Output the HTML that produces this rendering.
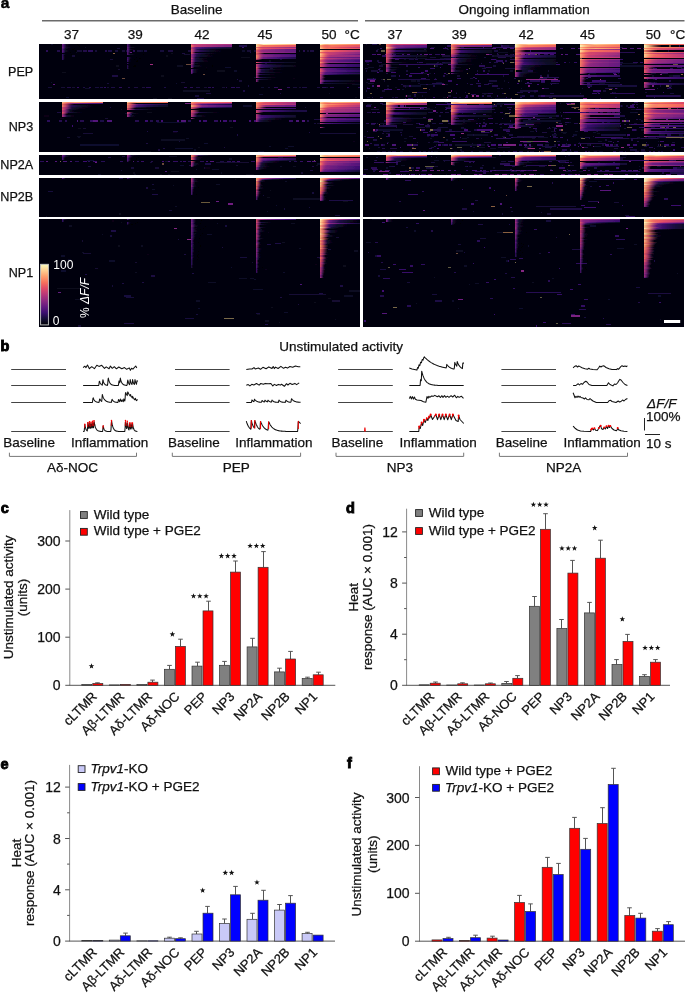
<!DOCTYPE html>
<html><head><meta charset="utf-8"><style>
html,body{margin:0;padding:0;background:#fff;overflow:hidden;}
svg{display:block;font-family:"Liberation Sans",sans-serif;}
</style></head><body>
<svg width="685" height="998" viewBox="0 0 685 998">
<defs><linearGradient id="g3_0"><stop offset="0.00" stop-color="#280e53"/><stop offset="0.25" stop-color="#0c0923"/><stop offset="0.50" stop-color="#050411"/><stop offset="0.75" stop-color="#020209"/><stop offset="1.00" stop-color="#010106"/></linearGradient>
<linearGradient id="f7"><stop offset="0" stop-color="#782180"/><stop offset=".4" stop-color="#631a80" stop-opacity=".75"/><stop offset="1" stop-color="#461274" stop-opacity="0"/></linearGradient>
<linearGradient id="g2_0"><stop offset="0.00" stop-color="#140e36"/><stop offset="0.25" stop-color="#080619"/><stop offset="0.50" stop-color="#03020d"/><stop offset="0.75" stop-color="#010108"/><stop offset="1.00" stop-color="#010006"/></linearGradient>
<linearGradient id="f6"><stop offset="0" stop-color="#641a80"/><stop offset=".4" stop-color="#521579" stop-opacity=".75"/><stop offset="1" stop-color="#390f6d" stop-opacity="0"/></linearGradient>
<linearGradient id="f5"><stop offset="0" stop-color="#501478"/><stop offset=".4" stop-color="#401072" stop-opacity=".75"/><stop offset="1" stop-color="#2c0f5a" stop-opacity="0"/></linearGradient>
<linearGradient id="f4"><stop offset="0" stop-color="#3b0f70"/><stop offset=".4" stop-color="#2f0f5f" stop-opacity=".75"/><stop offset="1" stop-color="#200e47" stop-opacity="0"/></linearGradient>
<linearGradient id="g1_0"><stop offset="0.00" stop-color="#0a071d"/><stop offset="0.25" stop-color="#04030e"/><stop offset="0.50" stop-color="#020108"/><stop offset="0.75" stop-color="#010106"/><stop offset="1.00" stop-color="#000005"/></linearGradient>
<linearGradient id="g11_5"><stop offset="0.00" stop-color="#cb4070"/><stop offset="0.25" stop-color="#c13c75"/><stop offset="0.50" stop-color="#b83779"/><stop offset="0.75" stop-color="#ae347b"/><stop offset="1.00" stop-color="#a5317c"/></linearGradient>
<linearGradient id="f12"><stop offset="0" stop-color="#de4968"/><stop offset=".4" stop-color="#bb3977" stop-opacity=".75"/><stop offset="1" stop-color="#882881" stop-opacity="0"/></linearGradient>
<linearGradient id="g11_4"><stop offset="0.00" stop-color="#cb4070"/><stop offset="0.25" stop-color="#b63779"/><stop offset="0.50" stop-color="#a1307d"/><stop offset="0.75" stop-color="#8e2a81"/><stop offset="1.00" stop-color="#7f2481"/></linearGradient>
<linearGradient id="f15"><stop offset="0" stop-color="#fa8864"/><stop offset=".4" stop-color="#e75864" stop-opacity=".75"/><stop offset="1" stop-color="#b2357a" stop-opacity="0"/></linearGradient>
<linearGradient id="g6_2"><stop offset="0.00" stop-color="#641a80"/><stop offset="0.25" stop-color="#461274"/><stop offset="0.50" stop-color="#310f60"/><stop offset="0.75" stop-color="#200e48"/><stop offset="1.00" stop-color="#140e36"/></linearGradient>
<linearGradient id="g6_1"><stop offset="0.00" stop-color="#641a80"/><stop offset="0.25" stop-color="#380f6b"/><stop offset="0.50" stop-color="#1d0e43"/><stop offset="0.75" stop-color="#100b2b"/><stop offset="1.00" stop-color="#0a071d"/></linearGradient>
<linearGradient id="f11"><stop offset="0" stop-color="#cb4070"/><stop offset=".4" stop-color="#a9327c" stop-opacity=".75"/><stop offset="1" stop-color="#7b2381" stop-opacity="0"/></linearGradient>
<linearGradient id="g5_0"><stop offset="0.00" stop-color="#501478"/><stop offset="0.25" stop-color="#160e38"/><stop offset="0.50" stop-color="#09061a"/><stop offset="0.75" stop-color="#04030d"/><stop offset="1.00" stop-color="#020108"/></linearGradient>
<linearGradient id="f13"><stop offset="0" stop-color="#ea5d62"/><stop offset=".4" stop-color="#cb4070" stop-opacity=".75"/><stop offset="1" stop-color="#962c7f" stop-opacity="0"/></linearGradient>
<linearGradient id="g7_0"><stop offset="0.00" stop-color="#782180"/><stop offset="0.25" stop-color="#260e50"/><stop offset="0.50" stop-color="#0c0822"/><stop offset="0.75" stop-color="#050411"/><stop offset="1.00" stop-color="#020109"/></linearGradient>
<linearGradient id="f10"><stop offset="0" stop-color="#b73779"/><stop offset=".4" stop-color="#972c7f" stop-opacity=".75"/><stop offset="1" stop-color="#6e1e80" stop-opacity="0"/></linearGradient>
<linearGradient id="g4_0"><stop offset="0.00" stop-color="#3b0f70"/><stop offset="0.25" stop-color="#110c2e"/><stop offset="0.50" stop-color="#070515"/><stop offset="0.75" stop-color="#03020b"/><stop offset="1.00" stop-color="#010107"/></linearGradient>
<linearGradient id="f9"><stop offset="0" stop-color="#a2307d"/><stop offset=".4" stop-color="#852681" stop-opacity=".75"/><stop offset="1" stop-color="#61197f" stop-opacity="0"/></linearGradient>
<linearGradient id="f8"><stop offset="0" stop-color="#8c2981"/><stop offset=".4" stop-color="#742080" stop-opacity=".75"/><stop offset="1" stop-color="#54167a" stop-opacity="0"/></linearGradient>
<linearGradient id="g20_5"><stop offset="0.00" stop-color="#fcfdbf"/><stop offset="0.25" stop-color="#fde9ab"/><stop offset="0.50" stop-color="#fed598"/><stop offset="0.75" stop-color="#fec288"/><stop offset="1.00" stop-color="#feaf79"/></linearGradient>
<linearGradient id="f19"><stop offset="0" stop-color="#fde6a8"/><stop offset=".4" stop-color="#fea370" stop-opacity=".75"/><stop offset="1" stop-color="#e25066" stop-opacity="0"/></linearGradient>
<linearGradient id="g15_5"><stop offset="0.00" stop-color="#fa8864"/><stop offset="0.25" stop-color="#f8785f"/><stop offset="0.50" stop-color="#f36a5e"/><stop offset="0.75" stop-color="#ec5e62"/><stop offset="1.00" stop-color="#e45365"/></linearGradient>
<linearGradient id="g12_4"><stop offset="0.00" stop-color="#de4968"/><stop offset="0.25" stop-color="#c73f72"/><stop offset="0.50" stop-color="#b3367a"/><stop offset="0.75" stop-color="#9e2f7e"/><stop offset="1.00" stop-color="#8c2981"/></linearGradient>
<linearGradient id="g13_5"><stop offset="0.00" stop-color="#ea5d62"/><stop offset="0.25" stop-color="#e35165"/><stop offset="0.50" stop-color="#db4869"/><stop offset="0.75" stop-color="#d1436e"/><stop offset="1.00" stop-color="#c73f72"/></linearGradient>
<linearGradient id="f18"><stop offset="0" stop-color="#fecf92"/><stop offset=".4" stop-color="#fc8f67" stop-opacity=".75"/><stop offset="1" stop-color="#d8466b" stop-opacity="0"/></linearGradient>
<linearGradient id="g11_3"><stop offset="0.00" stop-color="#cb4070"/><stop offset="0.25" stop-color="#a7327c"/><stop offset="0.50" stop-color="#882781"/><stop offset="0.75" stop-color="#6f1e80"/><stop offset="1.00" stop-color="#5a177c"/></linearGradient>
<linearGradient id="f16"><stop offset="0" stop-color="#fe9f6d"/><stop offset=".4" stop-color="#f2685e" stop-opacity=".75"/><stop offset="1" stop-color="#bf3b76" stop-opacity="0"/></linearGradient>
<linearGradient id="g9_4"><stop offset="0.00" stop-color="#a2307d"/><stop offset="0.25" stop-color="#8f2a80"/><stop offset="0.50" stop-color="#7f2481"/><stop offset="0.75" stop-color="#711f80"/><stop offset="1.00" stop-color="#641a80"/></linearGradient>
<linearGradient id="f14"><stop offset="0" stop-color="#f7705c"/><stop offset=".4" stop-color="#dc4869" stop-opacity=".75"/><stop offset="1" stop-color="#a4317d" stop-opacity="0"/></linearGradient>
<linearGradient id="g10_4"><stop offset="0.00" stop-color="#b73779"/><stop offset="0.25" stop-color="#a2307d"/><stop offset="0.50" stop-color="#902a80"/><stop offset="0.75" stop-color="#802481"/><stop offset="1.00" stop-color="#711f80"/></linearGradient>
<linearGradient id="g8_3"><stop offset="0.00" stop-color="#8c2981"/><stop offset="0.25" stop-color="#731f80"/><stop offset="0.50" stop-color="#5d187d"/><stop offset="0.75" stop-color="#4b1376"/><stop offset="1.00" stop-color="#3b0f70"/></linearGradient>
<linearGradient id="g9_3"><stop offset="0.00" stop-color="#a2307d"/><stop offset="0.25" stop-color="#832681"/><stop offset="0.50" stop-color="#6b1d80"/><stop offset="0.75" stop-color="#57167b"/><stop offset="1.00" stop-color="#451274"/></linearGradient>
<linearGradient id="g8_2"><stop offset="0.00" stop-color="#8c2981"/><stop offset="0.25" stop-color="#661b80"/><stop offset="0.50" stop-color="#481275"/><stop offset="0.75" stop-color="#310f62"/><stop offset="1.00" stop-color="#210e49"/></linearGradient>
<linearGradient id="g6_0"><stop offset="0.00" stop-color="#641a80"/><stop offset="0.25" stop-color="#1e0e44"/><stop offset="0.50" stop-color="#0a071e"/><stop offset="0.75" stop-color="#04030f"/><stop offset="1.00" stop-color="#020108"/></linearGradient>
<linearGradient id="g5_1"><stop offset="0.00" stop-color="#501478"/><stop offset="0.25" stop-color="#2b0f59"/><stop offset="0.50" stop-color="#150e37"/><stop offset="0.75" stop-color="#0d0925"/><stop offset="1.00" stop-color="#080619"/></linearGradient>
<linearGradient id="g18_5"><stop offset="0.00" stop-color="#fecf92"/><stop offset="0.25" stop-color="#febc83"/><stop offset="0.50" stop-color="#fea975"/><stop offset="0.75" stop-color="#fd986a"/><stop offset="1.00" stop-color="#fa8864"/></linearGradient>
<linearGradient id="f20"><stop offset="0" stop-color="#fcfdbf"/><stop offset=".4" stop-color="#feb77f" stop-opacity=".75"/><stop offset="1" stop-color="#ea5d62" stop-opacity="0"/></linearGradient>
<linearGradient id="g15_4"><stop offset="0.00" stop-color="#fa8864"/><stop offset="0.25" stop-color="#f1675f"/><stop offset="0.50" stop-color="#e14e67"/><stop offset="0.75" stop-color="#cc4170"/><stop offset="1.00" stop-color="#b73779"/></linearGradient>
<linearGradient id="f17"><stop offset="0" stop-color="#feb77f"/><stop offset=".4" stop-color="#f97b60" stop-opacity=".75"/><stop offset="1" stop-color="#cb4070" stop-opacity="0"/></linearGradient>
<linearGradient id="g13_3"><stop offset="0.00" stop-color="#ea5d62"/><stop offset="0.25" stop-color="#c93f71"/><stop offset="0.50" stop-color="#a6317c"/><stop offset="0.75" stop-color="#872781"/><stop offset="1.00" stop-color="#6e1e80"/></linearGradient>
<linearGradient id="g10_5"><stop offset="0.00" stop-color="#b73779"/><stop offset="0.25" stop-color="#ad347b"/><stop offset="0.50" stop-color="#a4317c"/><stop offset="0.75" stop-color="#9c2e7e"/><stop offset="1.00" stop-color="#932b80"/></linearGradient>
<linearGradient id="g8_4"><stop offset="0.00" stop-color="#8c2981"/><stop offset="0.25" stop-color="#7d2381"/><stop offset="0.50" stop-color="#6f1e80"/><stop offset="0.75" stop-color="#62197f"/><stop offset="1.00" stop-color="#56167b"/></linearGradient>
<linearGradient id="g10_3"><stop offset="0.00" stop-color="#b73779"/><stop offset="0.25" stop-color="#952c7f"/><stop offset="0.50" stop-color="#792281"/><stop offset="0.75" stop-color="#631a80"/><stop offset="1.00" stop-color="#501478"/></linearGradient>
<linearGradient id="g7_3"><stop offset="0.00" stop-color="#782180"/><stop offset="0.25" stop-color="#62197f"/><stop offset="0.50" stop-color="#4e1478"/><stop offset="0.75" stop-color="#3e1071"/><stop offset="1.00" stop-color="#310f61"/></linearGradient>
<linearGradient id="g7_2"><stop offset="0.00" stop-color="#782180"/><stop offset="0.25" stop-color="#56167b"/><stop offset="0.50" stop-color="#3c0f70"/><stop offset="0.75" stop-color="#290f55"/><stop offset="1.00" stop-color="#1a0e40"/></linearGradient>
<linearGradient id="g6_3"><stop offset="0.00" stop-color="#641a80"/><stop offset="0.25" stop-color="#501578"/><stop offset="0.50" stop-color="#401072"/><stop offset="0.75" stop-color="#330f63"/><stop offset="1.00" stop-color="#280e53"/></linearGradient>
<linearGradient id="g4_1"><stop offset="0.00" stop-color="#3b0f70"/><stop offset="0.25" stop-color="#1f0e46"/><stop offset="0.50" stop-color="#100b2d"/><stop offset="0.75" stop-color="#0a071e"/><stop offset="1.00" stop-color="#070515"/></linearGradient>
<linearGradient id="g3_1"><stop offset="0.00" stop-color="#280e53"/><stop offset="0.25" stop-color="#130d34"/><stop offset="0.50" stop-color="#0c0923"/><stop offset="0.75" stop-color="#080518"/><stop offset="1.00" stop-color="#050310"/></linearGradient>
<linearGradient id="g17_5"><stop offset="0.00" stop-color="#feb77f"/><stop offset="0.25" stop-color="#fea571"/><stop offset="0.50" stop-color="#fc9469"/><stop offset="0.75" stop-color="#fa8363"/><stop offset="1.00" stop-color="#f8745d"/></linearGradient>
<linearGradient id="g7_1"><stop offset="0.00" stop-color="#782180"/><stop offset="0.25" stop-color="#451274"/><stop offset="0.50" stop-color="#250e4f"/><stop offset="0.75" stop-color="#120d32"/><stop offset="1.00" stop-color="#0c0821"/></linearGradient>
<linearGradient id="g14_4"><stop offset="0.00" stop-color="#f7705c"/><stop offset="0.25" stop-color="#e65664"/><stop offset="0.50" stop-color="#d3446d"/><stop offset="0.75" stop-color="#bd3a76"/><stop offset="1.00" stop-color="#a9327c"/></linearGradient>
<linearGradient id="g13_4"><stop offset="0.00" stop-color="#ea5d62"/><stop offset="0.25" stop-color="#d9476a"/><stop offset="0.50" stop-color="#c33d74"/><stop offset="0.75" stop-color="#ae347b"/><stop offset="1.00" stop-color="#9a2e7e"/></linearGradient>
<linearGradient id="g5_2"><stop offset="0.00" stop-color="#501478"/><stop offset="0.25" stop-color="#370f6a"/><stop offset="0.50" stop-color="#250e50"/><stop offset="0.75" stop-color="#180e3c"/><stop offset="1.00" stop-color="#110c2e"/></linearGradient>
<linearGradient id="g14_5"><stop offset="0.00" stop-color="#f7705c"/><stop offset="0.25" stop-color="#ef6460"/><stop offset="0.50" stop-color="#e85863"/><stop offset="0.75" stop-color="#e14d67"/><stop offset="1.00" stop-color="#d8466b"/></linearGradient>
<linearGradient id="g17_4"><stop offset="0.00" stop-color="#feb77f"/><stop offset="0.25" stop-color="#fc9068"/><stop offset="0.50" stop-color="#f66e5d"/><stop offset="0.75" stop-color="#e55465"/><stop offset="1.00" stop-color="#d1436e"/></linearGradient>
<linearGradient id="g7_4"><stop offset="0.00" stop-color="#782180"/><stop offset="0.25" stop-color="#6b1c80"/><stop offset="0.50" stop-color="#5e187e"/><stop offset="0.75" stop-color="#531579"/><stop offset="1.00" stop-color="#491375"/></linearGradient>
<linearGradient id="g16_5"><stop offset="0.00" stop-color="#fe9f6d"/><stop offset="0.25" stop-color="#fc8e67"/><stop offset="0.50" stop-color="#f97e61"/><stop offset="0.75" stop-color="#f66f5c"/><stop offset="1.00" stop-color="#ef6360"/></linearGradient>
<linearGradient id="g12_5"><stop offset="0.00" stop-color="#de4968"/><stop offset="0.25" stop-color="#d4446d"/><stop offset="0.50" stop-color="#ca4071"/><stop offset="0.75" stop-color="#c03b75"/><stop offset="1.00" stop-color="#b73779"/></linearGradient>
<linearGradient id="g14_1"><stop offset="0.00" stop-color="#f7705c"/><stop offset="0.25" stop-color="#a0307d"/><stop offset="0.50" stop-color="#5e187e"/><stop offset="0.75" stop-color="#340f66"/><stop offset="1.00" stop-color="#1a0e40"/></linearGradient>
<linearGradient id="g10_0"><stop offset="0.00" stop-color="#b73779"/><stop offset="0.25" stop-color="#3e1071"/><stop offset="0.50" stop-color="#110c2f"/><stop offset="0.75" stop-color="#070516"/><stop offset="1.00" stop-color="#03020c"/></linearGradient>
<linearGradient id="g8_0"><stop offset="0.00" stop-color="#8c2981"/><stop offset="0.25" stop-color="#2e0f5d"/><stop offset="0.50" stop-color="#0e0a27"/><stop offset="0.75" stop-color="#060412"/><stop offset="1.00" stop-color="#02020a"/></linearGradient>
<linearGradient id="g15_2"><stop offset="0.00" stop-color="#fa8864"/><stop offset="0.25" stop-color="#d2446d"/><stop offset="0.50" stop-color="#9a2e7e"/><stop offset="0.75" stop-color="#701e80"/><stop offset="1.00" stop-color="#501478"/></linearGradient>
<linearGradient id="g11_0"><stop offset="0.00" stop-color="#cb4070"/><stop offset="0.25" stop-color="#471275"/><stop offset="0.50" stop-color="#130d34"/><stop offset="0.75" stop-color="#080618"/><stop offset="1.00" stop-color="#03020c"/></linearGradient>
<linearGradient id="g9_0"><stop offset="0.00" stop-color="#a2307d"/><stop offset="0.25" stop-color="#360f69"/><stop offset="0.50" stop-color="#100b2b"/><stop offset="0.75" stop-color="#060514"/><stop offset="1.00" stop-color="#03020b"/></linearGradient>
<linearGradient id="f3"><stop offset="0" stop-color="#280e53"/><stop offset=".4" stop-color="#1f0e46" stop-opacity=".75"/><stop offset="1" stop-color="#140e35" stop-opacity="0"/></linearGradient>
<linearGradient id="g10_2"><stop offset="0.00" stop-color="#b73779"/><stop offset="0.25" stop-color="#842681"/><stop offset="0.50" stop-color="#5f197e"/><stop offset="0.75" stop-color="#431173"/><stop offset="1.00" stop-color="#2e0f5d"/></linearGradient>
<linearGradient id="g20_1"><stop offset="0.00" stop-color="#fcfdbf"/><stop offset="0.25" stop-color="#e85863"/><stop offset="0.50" stop-color="#902a80"/><stop offset="0.75" stop-color="#54167a"/><stop offset="1.00" stop-color="#2e0f5d"/></linearGradient>
<linearGradient id="g15_0"><stop offset="0.00" stop-color="#fa8864"/><stop offset="0.25" stop-color="#691c80"/><stop offset="0.50" stop-color="#200e47"/><stop offset="0.75" stop-color="#0b081f"/><stop offset="1.00" stop-color="#04030f"/></linearGradient>
<linearGradient id="g13_0"><stop offset="0.00" stop-color="#ea5d62"/><stop offset="0.25" stop-color="#58177b"/><stop offset="0.50" stop-color="#190e3d"/><stop offset="0.75" stop-color="#09071b"/><stop offset="1.00" stop-color="#04030e"/></linearGradient>
<linearGradient id="g13_1"><stop offset="0.00" stop-color="#ea5d62"/><stop offset="0.25" stop-color="#932b80"/><stop offset="0.50" stop-color="#56167a"/><stop offset="0.75" stop-color="#2f0f5e"/><stop offset="1.00" stop-color="#170e3b"/></linearGradient>
<linearGradient id="g19_5"><stop offset="0.00" stop-color="#fde6a8"/><stop offset="0.25" stop-color="#fed395"/><stop offset="0.50" stop-color="#febf86"/><stop offset="0.75" stop-color="#fead78"/><stop offset="1.00" stop-color="#fd9b6c"/></linearGradient>
<linearGradient id="g4_3"><stop offset="0.00" stop-color="#3b0f70"/><stop offset="0.25" stop-color="#2f0f5e"/><stop offset="0.50" stop-color="#240e4e"/><stop offset="0.75" stop-color="#1b0e41"/><stop offset="1.00" stop-color="#140e36"/></linearGradient>
<linearGradient id="g16_3"><stop offset="0.00" stop-color="#fe9f6d"/><stop offset="0.25" stop-color="#f0655f"/><stop offset="0.50" stop-color="#d1436e"/><stop offset="0.75" stop-color="#ad347b"/><stop offset="1.00" stop-color="#8c2981"/></linearGradient>
<linearGradient id="g9_2"><stop offset="0.00" stop-color="#a2307d"/><stop offset="0.25" stop-color="#752080"/><stop offset="0.50" stop-color="#54167a"/><stop offset="0.75" stop-color="#3a0f6e"/><stop offset="1.00" stop-color="#280e53"/></linearGradient>
<linearGradient id="g18_4"><stop offset="0.00" stop-color="#fecf92"/><stop offset="0.25" stop-color="#fea572"/><stop offset="0.50" stop-color="#f98062"/><stop offset="0.75" stop-color="#ee6260"/><stop offset="1.00" stop-color="#de4968"/></linearGradient>
<linearGradient id="g12_3"><stop offset="0.00" stop-color="#de4968"/><stop offset="0.25" stop-color="#b93878"/><stop offset="0.50" stop-color="#962c7f"/><stop offset="0.75" stop-color="#7b2381"/><stop offset="1.00" stop-color="#641a80"/></linearGradient>
<linearGradient id="g9_5"><stop offset="0.00" stop-color="#a2307d"/><stop offset="0.25" stop-color="#992d7f"/><stop offset="0.50" stop-color="#912b80"/><stop offset="0.75" stop-color="#892881"/><stop offset="1.00" stop-color="#822581"/></linearGradient>
<linearGradient id="g5_3"><stop offset="0.00" stop-color="#501478"/><stop offset="0.25" stop-color="#3f1072"/><stop offset="0.50" stop-color="#320f63"/><stop offset="0.75" stop-color="#270e52"/><stop offset="1.00" stop-color="#1e0e44"/></linearGradient>
<linearGradient id="g20_3"><stop offset="0.00" stop-color="#fcfdbf"/><stop offset="0.25" stop-color="#feb37c"/><stop offset="0.50" stop-color="#f7735d"/><stop offset="0.75" stop-color="#dc4869"/><stop offset="1.00" stop-color="#b73779"/></linearGradient>
<linearGradient id="g10_1"><stop offset="0.00" stop-color="#b73779"/><stop offset="0.25" stop-color="#6c1d80"/><stop offset="0.50" stop-color="#3d0f71"/><stop offset="0.75" stop-color="#200e48"/><stop offset="1.00" stop-color="#110c2e"/></linearGradient>
<linearGradient id="g8_1"><stop offset="0.00" stop-color="#8c2981"/><stop offset="0.25" stop-color="#521579"/><stop offset="0.50" stop-color="#2d0f5b"/><stop offset="0.75" stop-color="#160e39"/><stop offset="1.00" stop-color="#0d0925"/></linearGradient>
<linearGradient id="g15_3"><stop offset="0.00" stop-color="#fa8864"/><stop offset="0.25" stop-color="#e65564"/><stop offset="0.50" stop-color="#c33c74"/><stop offset="0.75" stop-color="#a02f7d"/><stop offset="1.00" stop-color="#822581"/></linearGradient>
<linearGradient id="g9_1"><stop offset="0.00" stop-color="#a2307d"/><stop offset="0.25" stop-color="#5f197e"/><stop offset="0.50" stop-color="#350f67"/><stop offset="0.75" stop-color="#1b0e40"/><stop offset="1.00" stop-color="#0f0a29"/></linearGradient>
<filter id="hb" x="0" y="0" width="1" height="1"><feGaussianBlur stdDeviation="0.55 0.75"/></filter>
<linearGradient id="cbar" x1="0" y1="1" x2="0" y2="0"><stop offset="0.0" stop-color="#000004"/><stop offset="0.1" stop-color="#140e36"/><stop offset="0.2" stop-color="#3b0f70"/><stop offset="0.3" stop-color="#641a80"/><stop offset="0.4" stop-color="#8c2981"/><stop offset="0.5" stop-color="#b73779"/><stop offset="0.6" stop-color="#de4968"/><stop offset="0.7" stop-color="#f7705c"/><stop offset="0.8" stop-color="#fe9f6d"/><stop offset="0.9" stop-color="#fecf92"/><stop offset="1.0" stop-color="#fcfdbf"/></linearGradient>
<filter id="gs" x="0" y="0" width="1" height="1" color-interpolation-filters="sRGB"><feColorMatrix type="saturate" values="0"/></filter></defs>
<g shape-rendering="crispEdges" filter="url(#hb)">
<rect x="39" y="44" width="321" height="55" fill="#04030e"/>
<path fill="#09061b" d="M246.0 44.00h1.2v1.25h-1.2z"/>
<path fill="#100b2b" d="M50.9 44.00h2.4v1.25h-2.4zM85.0 87.75h5.4v1.25h-5.4zM266.1 50.25h2.8v1.25h-2.8z"/>
<path fill="#1f0e46" d="M238.5 45.25h8.4v1.25h-8.4zM326.7 64.00h5.1v1.25h-5.1zM236.7 79.00h1.1v1.25h-1.1zM164.1 86.50h1.6v1.25h-1.6z"/>
<path fill="#0b0820" d="M84.9 46.50h1.3v1.25h-1.3zM352.2 84.00h7.8v1.25h-7.8z"/>
<path fill="#390f6e" d="M242.2 46.50h2.2v1.25h-2.2z"/>
<path fill="#100b2c" d="M255.4 46.50h2.4v1.25h-2.4zM233.8 70.25h2.8v1.25h-2.8zM241.9 50.25h3.3v1.25h-3.3z"/>
<path fill="#160e39" d="M116.6 47.75h3.1v1.25h-3.1zM107.4 82.75h1.7v1.25h-1.7zM322.9 86.50h4.8v1.25h-4.8zM48.3 86.50h3.9v1.25h-3.9zM107.2 86.50h1.7v1.25h-1.7zM292.9 86.50h3.8v1.25h-3.8z"/>
<path fill="#0b081f" d="M350.7 47.75h1.3v1.25h-1.3zM171.1 52.75h2.1v1.25h-2.1zM62.3 71.50h3.8v1.25h-3.8z"/>
<path fill="#100b2d" d="M138.8 50.25h4.0v1.25h-4.0zM210.4 50.25h1.9v1.25h-1.9z"/>
<path fill="#1f0e47" d="M250.2 51.50h1.2v1.25h-1.2z"/>
<path fill="#661b80" d="M129.5 51.50h2.2v1.25h-2.2z"/>
<path fill="#0c0923" d="M76.2 51.50h1.2v1.25h-1.2z"/>
<path fill="#1b0e40" d="M181.8 52.75h3.0v1.25h-3.0zM134.3 86.50h3.5v1.25h-3.5zM167.6 50.25h4.9v1.25h-4.9z"/>
<path fill="#8a6040" d="M112.8 52.75h1.7v1.25h-1.7z"/>
<path fill="#140e35" d="M140.3 54.00h1.3v1.25h-1.3zM352.3 61.50h7.7v1.25h-7.7zM298.6 86.50h2.8v1.25h-2.8z"/>
<path fill="#120d31" d="M184.2 54.00h6.1v1.25h-6.1zM269.6 67.75h3.0v1.25h-3.0zM118.0 69.00h1.8v1.25h-1.8z"/>
<path fill="#0a071d" d="M166.3 55.25h1.5v1.25h-1.5zM240.7 56.50h8.8v1.25h-8.8zM269.0 60.25h2.1v1.25h-2.1zM216.9 70.25h8.2v1.25h-8.2zM161.2 75.25h2.8v1.25h-2.8zM153.3 97.75h3.3v1.25h-3.3zM167.9 97.75h4.2v1.25h-4.2z"/>
<path fill="#130d34" d="M71.6 55.25h3.1v1.25h-3.1zM109.8 59.00h2.9v1.25h-2.9zM247.2 50.25h3.8v1.25h-3.8zM267.6 86.50h2.0v1.25h-2.0z"/>
<path fill="#110c2e" d="M138.2 57.75h1.4v1.25h-1.4zM346.7 72.75h1.6v1.25h-1.6zM259.3 94.00h3.4v1.25h-3.4z"/>
<path fill="#150e37" d="M203.2 57.75h1.6v1.25h-1.6z"/>
<path fill="#1a0e3f" d="M280.1 57.75h1.9v1.25h-1.9zM206.3 92.75h4.4v1.25h-4.4zM279.5 92.75h1.7v1.25h-1.7zM298.5 50.25h1.6v1.25h-1.6zM317.2 86.50h2.9v1.25h-2.9z"/>
<path fill="#190e3d" d="M280.1 59.00h1.5v1.25h-1.5zM125.7 50.25h3.4v1.25h-3.4zM354.7 50.25h3.7v1.25h-3.7z"/>
<path fill="#110c2d" d="M195.7 59.00h4.3v1.25h-4.3z"/>
<path fill="#130e35" d="M265.3 62.75h1.6v1.25h-1.6zM61.4 86.50h3.3v1.25h-3.3zM222.4 86.50h2.1v1.25h-2.1z"/>
<path fill="#6a4a3a" d="M186.3 64.00h4.4v1.25h-4.4zM203.0 74.00h2.0v1.25h-2.0zM121.9 77.75h3.3v1.25h-3.3z"/>
<path fill="#9e2f7e" d="M150.4 64.00h3.0v1.25h-3.0z"/>
<path fill="#0d0923" d="M177.0 65.25h6.1v1.25h-6.1z"/>
<path fill="#0a071e" d="M115.5 65.25h3.2v1.25h-3.2z"/>
<path fill="#110c2f" d="M224.5 66.50h6.9v1.25h-6.9zM254.0 76.50h8.3v1.25h-8.3zM50.7 81.50h1.0v1.25h-1.0zM176.0 82.75h1.1v1.25h-1.1zM66.3 96.50h2.6v1.25h-2.6zM323.2 50.25h3.0v1.25h-3.0zM260.7 86.50h3.2v1.25h-3.2z"/>
<path fill="#080618" d="M205.5 66.50h1.0v1.25h-1.0z"/>
<path fill="#1e0e44" d="M191.0 70.25h8.1v1.25h-8.1zM301.9 86.50h5.0v1.25h-5.0z"/>
<path fill="#1c0e42" d="M111.7 75.25h6.2v1.25h-6.2zM276.0 50.25h4.2v1.25h-4.2zM309.9 50.25h3.8v1.25h-3.8zM196.4 86.50h3.8v1.25h-3.8z"/>
<path fill="#080619" d="M293.3 77.75h1.5v1.25h-1.5z"/>
<path fill="#140e36" d="M238.9 80.25h2.9v1.25h-2.9zM121.6 50.25h3.0v1.25h-3.0zM254.5 50.25h3.8v1.25h-3.8z"/>
<path fill="#120c31" d="M181.2 81.50h3.7v1.25h-3.7z"/>
<path fill="#782180" d="M353.6 82.75h6.4v1.25h-6.4z"/>
<path fill="#5b187d" d="M53.4 84.00h1.5v1.25h-1.5z"/>
<path fill="#190e3e" d="M247.6 85.25h1.7v1.25h-1.7z"/>
<path fill="#7e2481" d="M278.4 89.00h3.1v1.25h-3.1z"/>
<path fill="#1e0e45" d="M243.4 90.25h1.2v1.25h-1.2zM197.3 97.75h6.2v1.25h-6.2zM83.3 86.50h2.1v1.25h-2.1zM111.3 86.50h3.8v1.25h-3.8z"/>
<path fill="#0d0924" d="M182.5 90.25h27.1v1.25h-27.1z"/>
<path fill="#0c0821" d="M328.5 92.75h1.8v1.25h-1.8z"/>
<path fill="#180e3b" d="M194.7 95.25h4.1v1.25h-4.1z"/>
<path fill="#09071b" d="M355.1 96.50h2.2v1.25h-2.2z"/>
<path fill="#2a0f57" d="M46.4 50.25h1.7v1.25h-1.7zM132.5 50.25h2.2v1.25h-2.2z"/>
<path fill="#230e4c" d="M57.1 50.25h2.5v1.25h-2.5z"/>
<path fill="#270e52" d="M72.2 50.25h3.0v1.25h-3.0zM205.2 50.25h4.6v1.25h-4.6zM332.5 50.25h4.2v1.25h-4.2z"/>
<path fill="#130e34" d="M77.1 50.25h4.6v1.25h-4.6z"/>
<path fill="#210e4a" d="M82.5 50.25h4.8v1.25h-4.8zM66.7 86.50h3.8v1.25h-3.8z"/>
<path fill="#2c0f5a" d="M88.2 50.25h4.5v1.25h-4.5zM288.9 50.25h4.6v1.25h-4.6zM230.6 86.50h4.3v1.25h-4.3zM357.7 86.50h2.3v1.25h-2.3z"/>
<path fill="#160e38" d="M95.2 50.25h2.1v1.25h-2.1z"/>
<path fill="#230e4d" d="M104.7 50.25h2.3v1.25h-2.3z"/>
<path fill="#1d0e44" d="M107.9 50.25h3.8v1.25h-3.8zM270.4 50.25h4.5v1.25h-4.5zM100.2 86.50h2.4v1.25h-2.4z"/>
<path fill="#170e3b" d="M115.0 50.25h3.4v1.25h-3.4zM94.5 86.50h4.2v1.25h-4.2z"/>
<path fill="#150e38" d="M136.6 50.25h4.1v1.25h-4.1z"/>
<path fill="#180e3c" d="M143.8 50.25h3.2v1.25h-3.2z"/>
<path fill="#170e3a" d="M160.4 50.25h3.8v1.25h-3.8zM343.7 50.25h3.4v1.25h-3.4z"/>
<path fill="#1b0e41" d="M187.6 50.25h3.3v1.25h-3.3z"/>
<path fill="#2e0f5d" d="M194.2 50.25h2.3v1.25h-2.3zM347.1 86.50h1.9v1.25h-1.9z"/>
<path fill="#240e4e" d="M260.3 50.25h2.8v1.25h-2.8z"/>
<path fill="#220e4a" d="M281.6 50.25h4.6v1.25h-4.6z"/>
<path fill="#250e4f" d="M303.1 50.25h2.1v1.25h-2.1zM338.2 50.25h4.3v1.25h-4.3z"/>
<path fill="#130d33" d="M306.8 50.25h1.9v1.25h-1.9z"/>
<path fill="#120c30" d="M71.5 86.50h3.0v1.25h-3.0z"/>
<path fill="#320f62" d="M77.2 86.50h2.2v1.25h-2.2z"/>
<path fill="#2a0f56" d="M89.0 86.50h2.3v1.25h-2.3zM207.8 86.50h3.5v1.25h-3.5z"/>
<path fill="#2f0f5e" d="M103.7 86.50h2.3v1.25h-2.3z"/>
<path fill="#2e0f5c" d="M118.5 86.50h3.1v1.25h-3.1zM273.6 86.50h4.4v1.25h-4.4z"/>
<path fill="#200e48" d="M128.0 86.50h2.2v1.25h-2.2z"/>
<path fill="#1a0e3e" d="M142.2 86.50h2.7v1.25h-2.7z"/>
<path fill="#280f54" d="M145.6 86.50h5.0v1.25h-5.0z"/>
<path fill="#290f55" d="M183.6 86.50h3.0v1.25h-3.0zM225.6 86.50h1.7v1.25h-1.7zM330.4 86.50h4.0v1.25h-4.0z"/>
<path fill="#290f56" d="M190.1 86.50h2.9v1.25h-2.9z"/>
<path fill="#130d32" d="M203.9 86.50h3.0v1.25h-3.0z"/>
<path fill="#2b0f58" d="M212.2 86.50h1.7v1.25h-1.7z"/>
<path fill="#240e4d" d="M235.6 86.50h4.7v1.25h-4.7z"/>
<path fill="#2d0f5a" d="M286.9 86.50h2.9v1.25h-2.9z"/>
<path fill="#250e50" d="M321.9 86.50h4.3v1.25h-4.3z"/>
<rect x="62.0" y="44.00" width="15.6" height="1.25" fill="url(#g3_0)"/>
<rect x="62.0" y="44.00" width="4.2" height="1.25" fill="url(#f7)"/>
<rect x="62.0" y="45.25" width="18.0" height="1.25" fill="url(#g2_0)"/>
<rect x="62.0" y="45.25" width="4.7" height="1.25" fill="url(#f6)"/>
<rect x="62.0" y="46.50" width="18.0" height="1.25" fill="url(#g3_0)"/>
<rect x="62.0" y="46.50" width="4.2" height="1.25" fill="url(#f7)"/>
<rect x="62.0" y="47.75" width="12.9" height="1.25" fill="url(#g3_0)"/>
<rect x="62.0" y="47.75" width="3.8" height="1.25" fill="url(#f6)"/>
<rect x="62.0" y="49.00" width="11.7" height="1.25" fill="url(#g2_0)"/>
<rect x="62.0" y="49.00" width="3.6" height="1.25" fill="url(#f5)"/>
<rect x="62.0" y="50.25" width="13.7" height="1.25" fill="url(#g3_0)"/>
<rect x="62.0" y="50.25" width="3.4" height="1.25" fill="url(#f6)"/>
<rect x="62.0" y="51.50" width="9.0" height="1.25" fill="url(#g2_0)"/>
<rect x="62.0" y="51.50" width="3.6" height="1.25" fill="url(#f5)"/>
<rect x="62.0" y="54.00" width="9.6" height="1.25" fill="url(#g2_0)"/>
<rect x="62.0" y="54.00" width="2.9" height="1.25" fill="url(#f4)"/>
<rect x="62.0" y="55.25" width="2.7" height="1.25" fill="url(#f4)"/>
<rect x="62.0" y="56.50" width="7.4" height="1.25" fill="url(#g2_0)"/>
<rect x="62.0" y="56.50" width="2.7" height="1.25" fill="url(#f4)"/>
<rect x="62.0" y="57.75" width="2.8" height="1.25" fill="url(#f4)"/>
<rect x="62.0" y="59.00" width="7.2" height="1.25" fill="url(#g2_0)"/>
<rect x="62.0" y="59.00" width="2.3" height="1.25" fill="url(#f4)"/>
<rect x="126.5" y="44.00" width="4.1" height="1.25" fill="url(#f6)"/>
<rect x="126.5" y="45.25" width="4.5" height="1.25" fill="url(#f6)"/>
<rect x="126.5" y="46.50" width="19.6" height="1.25" fill="url(#g3_0)"/>
<rect x="126.5" y="46.50" width="4.2" height="1.25" fill="url(#f7)"/>
<rect x="126.5" y="47.75" width="4.3" height="1.25" fill="url(#f7)"/>
<rect x="126.5" y="49.00" width="15.4" height="1.25" fill="url(#g3_0)"/>
<rect x="126.5" y="49.00" width="4.5" height="1.25" fill="url(#f7)"/>
<rect x="126.5" y="50.25" width="4.4" height="1.25" fill="url(#f6)"/>
<rect x="126.5" y="51.50" width="4.2" height="1.25" fill="url(#f6)"/>
<rect x="126.5" y="52.75" width="3.3" height="1.25" fill="url(#f7)"/>
<rect x="126.5" y="54.00" width="17.4" height="1.25" fill="url(#g3_0)"/>
<rect x="126.5" y="54.00" width="3.9" height="1.25" fill="url(#f6)"/>
<rect x="126.5" y="56.50" width="10.7" height="1.25" fill="url(#g3_0)"/>
<rect x="126.5" y="56.50" width="3.7" height="1.25" fill="url(#f5)"/>
<rect x="126.5" y="57.75" width="14.0" height="1.25" fill="url(#g2_0)"/>
<rect x="126.5" y="57.75" width="3.6" height="1.25" fill="url(#f5)"/>
<rect x="126.5" y="59.00" width="8.6" height="1.25" fill="url(#g2_0)"/>
<rect x="126.5" y="59.00" width="3.4" height="1.25" fill="url(#f6)"/>
<rect x="126.5" y="60.25" width="11.1" height="1.25" fill="url(#g2_0)"/>
<rect x="126.5" y="60.25" width="2.8" height="1.25" fill="url(#f5)"/>
<rect x="126.5" y="62.75" width="7.6" height="1.25" fill="url(#g2_0)"/>
<rect x="126.5" y="62.75" width="2.9" height="1.25" fill="url(#f5)"/>
<rect x="126.5" y="65.25" width="9.8" height="1.25" fill="url(#g1_0)"/>
<rect x="126.5" y="65.25" width="2.6" height="1.25" fill="url(#f4)"/>
<rect x="126.5" y="66.50" width="7.2" height="1.25" fill="url(#g2_0)"/>
<rect x="126.5" y="66.50" width="2.3" height="1.25" fill="url(#f4)"/>
<rect x="126.5" y="67.75" width="7.9" height="1.25" fill="url(#g2_0)"/>
<rect x="126.5" y="67.75" width="2.3" height="1.25" fill="url(#f4)"/>
<rect x="190.8" y="44.00" width="40.7" height="1.25" fill="url(#g11_5)"/>
<rect x="190.8" y="44.00" width="6.2" height="1.25" fill="url(#f12)"/>
<rect x="190.8" y="45.25" width="40.7" height="1.25" fill="url(#g11_4)"/>
<rect x="190.8" y="45.25" width="6.3" height="1.25" fill="url(#f15)"/>
<rect x="190.8" y="46.50" width="40.7" height="1.25" fill="url(#g6_2)"/>
<rect x="190.8" y="46.50" width="6.1" height="1.25" fill="url(#f12)"/>
<rect x="190.8" y="47.75" width="40.7" height="1.25" fill="url(#g6_1)"/>
<rect x="190.8" y="47.75" width="5.9" height="1.25" fill="url(#f11)"/>
<rect x="190.8" y="49.00" width="40.7" height="1.25" fill="url(#g5_0)"/>
<rect x="190.8" y="49.00" width="6.2" height="1.25" fill="url(#f13)"/>
<rect x="190.8" y="50.25" width="40.7" height="1.25" fill="url(#g7_0)"/>
<rect x="190.8" y="50.25" width="5.1" height="1.25" fill="url(#f13)"/>
<rect x="190.8" y="51.50" width="5.0" height="1.25" fill="url(#f13)"/>
<rect x="190.8" y="52.75" width="33.6" height="1.25" fill="url(#g7_0)"/>
<rect x="190.8" y="52.75" width="5.1" height="1.25" fill="url(#f13)"/>
<rect x="190.8" y="54.00" width="29.3" height="1.25" fill="url(#g5_0)"/>
<rect x="190.8" y="54.00" width="5.1" height="1.25" fill="url(#f10)"/>
<rect x="190.8" y="55.25" width="37.8" height="1.25" fill="url(#g4_0)"/>
<rect x="190.8" y="55.25" width="5.7" height="1.25" fill="url(#f10)"/>
<rect x="190.8" y="56.50" width="18.8" height="1.25" fill="url(#g4_0)"/>
<rect x="190.8" y="56.50" width="5.0" height="1.25" fill="url(#f10)"/>
<rect x="190.8" y="57.75" width="25.0" height="1.25" fill="url(#g5_0)"/>
<rect x="190.8" y="57.75" width="4.5" height="1.25" fill="url(#f12)"/>
<rect x="190.8" y="59.00" width="24.3" height="1.25" fill="url(#g4_0)"/>
<rect x="190.8" y="59.00" width="5.0" height="1.25" fill="url(#f9)"/>
<rect x="190.8" y="60.25" width="26.2" height="1.25" fill="url(#g5_0)"/>
<rect x="190.8" y="60.25" width="4.3" height="1.25" fill="url(#f11)"/>
<rect x="190.8" y="61.50" width="4.8" height="1.25" fill="url(#f9)"/>
<rect x="190.8" y="62.75" width="16.0" height="1.25" fill="url(#g4_0)"/>
<rect x="190.8" y="62.75" width="4.0" height="1.25" fill="url(#f11)"/>
<rect x="190.8" y="64.00" width="4.4" height="1.25" fill="url(#f9)"/>
<rect x="190.8" y="65.25" width="22.0" height="1.25" fill="url(#g3_0)"/>
<rect x="190.8" y="65.25" width="3.6" height="1.25" fill="url(#f8)"/>
<rect x="190.8" y="66.50" width="3.5" height="1.25" fill="url(#f10)"/>
<rect x="190.8" y="69.00" width="15.9" height="1.25" fill="url(#g3_0)"/>
<rect x="190.8" y="69.00" width="3.5" height="1.25" fill="url(#f7)"/>
<rect x="190.8" y="70.25" width="11.7" height="1.25" fill="url(#g4_0)"/>
<rect x="190.8" y="70.25" width="3.0" height="1.25" fill="url(#f8)"/>
<rect x="190.8" y="71.50" width="10.9" height="1.25" fill="url(#g4_0)"/>
<rect x="190.8" y="71.50" width="3.2" height="1.25" fill="url(#f7)"/>
<rect x="190.8" y="72.75" width="2.7" height="1.25" fill="url(#f7)"/>
<rect x="255.5" y="44.00" width="40.3" height="1.25" fill="url(#g20_5)"/>
<rect x="255.5" y="44.00" width="7.9" height="1.25" fill="url(#f19)"/>
<rect x="255.5" y="45.25" width="40.3" height="1.25" fill="url(#g15_5)"/>
<rect x="255.5" y="45.25" width="10.7" height="1.25" fill="url(#f19)"/>
<rect x="255.5" y="46.50" width="40.3" height="1.25" fill="url(#g12_4)"/>
<rect x="255.5" y="46.50" width="7.6" height="1.25" fill="url(#f15)"/>
<rect x="255.5" y="47.75" width="40.3" height="1.25" fill="url(#g13_5)"/>
<rect x="255.5" y="47.75" width="8.0" height="1.25" fill="url(#f18)"/>
<rect x="255.5" y="49.00" width="40.3" height="1.25" fill="url(#g11_3)"/>
<rect x="255.5" y="49.00" width="8.4" height="1.25" fill="url(#f16)"/>
<rect x="255.5" y="50.25" width="40.3" height="1.25" fill="url(#g9_4)"/>
<rect x="255.5" y="50.25" width="7.5" height="1.25" fill="url(#f14)"/>
<rect x="255.5" y="51.50" width="40.3" height="1.25" fill="url(#g10_4)"/>
<rect x="255.5" y="51.50" width="8.3" height="1.25" fill="url(#f15)"/>
<rect x="255.5" y="52.75" width="9.0" height="1.25" fill="url(#f14)"/>
<rect x="255.5" y="54.00" width="40.3" height="1.25" fill="url(#g8_3)"/>
<rect x="255.5" y="54.00" width="8.8" height="1.25" fill="url(#f14)"/>
<rect x="255.5" y="55.25" width="40.3" height="1.25" fill="url(#g9_3)"/>
<rect x="255.5" y="55.25" width="7.7" height="1.25" fill="url(#f16)"/>
<rect x="255.5" y="56.50" width="40.3" height="1.25" fill="url(#g8_2)"/>
<rect x="255.5" y="56.50" width="7.6" height="1.25" fill="url(#f16)"/>
<rect x="255.5" y="57.75" width="40.3" height="1.25" fill="url(#g8_2)"/>
<rect x="255.5" y="57.75" width="7.7" height="1.25" fill="url(#f15)"/>
<rect x="255.5" y="59.00" width="6.8" height="1.25" fill="url(#f12)"/>
<rect x="255.5" y="61.50" width="40.3" height="1.25" fill="url(#g6_1)"/>
<rect x="255.5" y="61.50" width="7.2" height="1.25" fill="url(#f14)"/>
<rect x="255.5" y="64.00" width="40.3" height="1.25" fill="url(#g6_0)"/>
<rect x="255.5" y="64.00" width="7.0" height="1.25" fill="url(#f12)"/>
<rect x="255.5" y="65.25" width="40.3" height="1.25" fill="url(#g5_1)"/>
<rect x="255.5" y="65.25" width="5.5" height="1.25" fill="url(#f12)"/>
<rect x="255.5" y="66.50" width="40.3" height="1.25" fill="url(#g6_0)"/>
<rect x="255.5" y="66.50" width="5.3" height="1.25" fill="url(#f14)"/>
<rect x="255.5" y="67.75" width="5.2" height="1.25" fill="url(#f13)"/>
<rect x="255.5" y="69.00" width="40.3" height="1.25" fill="url(#g5_0)"/>
<rect x="255.5" y="69.00" width="6.0" height="1.25" fill="url(#f12)"/>
<rect x="255.5" y="70.25" width="28.1" height="1.25" fill="url(#g5_0)"/>
<rect x="255.5" y="70.25" width="5.8" height="1.25" fill="url(#f11)"/>
<rect x="255.5" y="71.50" width="40.3" height="1.25" fill="url(#g5_0)"/>
<rect x="255.5" y="71.50" width="4.8" height="1.25" fill="url(#f11)"/>
<rect x="255.5" y="72.75" width="4.5" height="1.25" fill="url(#f11)"/>
<rect x="255.5" y="74.00" width="29.5" height="1.25" fill="url(#g5_0)"/>
<rect x="255.5" y="74.00" width="4.5" height="1.25" fill="url(#f11)"/>
<rect x="255.5" y="75.25" width="4.2" height="1.25" fill="url(#f10)"/>
<rect x="255.5" y="76.50" width="31.0" height="1.25" fill="url(#g5_0)"/>
<rect x="255.5" y="76.50" width="4.4" height="1.25" fill="url(#f11)"/>
<rect x="255.5" y="79.00" width="28.2" height="1.25" fill="url(#g4_0)"/>
<rect x="255.5" y="79.00" width="4.0" height="1.25" fill="url(#f9)"/>
<rect x="255.5" y="80.25" width="3.7" height="1.25" fill="url(#f9)"/>
<rect x="320.0" y="44.00" width="40.0" height="1.25" fill="url(#g18_5)"/>
<rect x="320.0" y="44.00" width="9.9" height="1.25" fill="url(#f20)"/>
<rect x="320.0" y="45.25" width="40.0" height="1.25" fill="url(#g15_5)"/>
<rect x="320.0" y="45.25" width="11.4" height="1.25" fill="url(#f16)"/>
<rect x="320.0" y="46.50" width="40.0" height="1.25" fill="url(#g15_4)"/>
<rect x="320.0" y="46.50" width="9.3" height="1.25" fill="url(#f17)"/>
<rect x="320.0" y="47.75" width="40.0" height="1.25" fill="url(#g15_5)"/>
<rect x="320.0" y="47.75" width="9.3" height="1.25" fill="url(#f18)"/>
<rect x="320.0" y="50.25" width="40.0" height="1.25" fill="url(#g15_4)"/>
<rect x="320.0" y="50.25" width="8.7" height="1.25" fill="url(#f18)"/>
<rect x="320.0" y="51.50" width="40.0" height="1.25" fill="url(#g12_4)"/>
<rect x="320.0" y="51.50" width="11.2" height="1.25" fill="url(#f14)"/>
<rect x="320.0" y="52.75" width="40.0" height="1.25" fill="url(#g12_4)"/>
<rect x="320.0" y="52.75" width="10.2" height="1.25" fill="url(#f17)"/>
<rect x="320.0" y="54.00" width="40.0" height="1.25" fill="url(#g13_3)"/>
<rect x="320.0" y="54.00" width="9.5" height="1.25" fill="url(#f18)"/>
<rect x="320.0" y="55.25" width="40.0" height="1.25" fill="url(#g10_5)"/>
<rect x="320.0" y="55.25" width="10.5" height="1.25" fill="url(#f17)"/>
<rect x="320.0" y="56.50" width="40.0" height="1.25" fill="url(#g8_4)"/>
<rect x="320.0" y="56.50" width="9.9" height="1.25" fill="url(#f14)"/>
<rect x="320.0" y="57.75" width="40.0" height="1.25" fill="url(#g11_4)"/>
<rect x="320.0" y="57.75" width="8.3" height="1.25" fill="url(#f17)"/>
<rect x="320.0" y="59.00" width="40.0" height="1.25" fill="url(#g10_3)"/>
<rect x="320.0" y="59.00" width="7.3" height="1.25" fill="url(#f15)"/>
<rect x="320.0" y="60.25" width="40.0" height="1.25" fill="url(#g8_3)"/>
<rect x="320.0" y="60.25" width="8.7" height="1.25" fill="url(#f13)"/>
<rect x="320.0" y="61.50" width="40.0" height="1.25" fill="url(#g9_4)"/>
<rect x="320.0" y="61.50" width="8.1" height="1.25" fill="url(#f16)"/>
<rect x="320.0" y="62.75" width="9.1" height="1.25" fill="url(#f13)"/>
<rect x="320.0" y="64.00" width="40.0" height="1.25" fill="url(#g7_3)"/>
<rect x="320.0" y="64.00" width="8.3" height="1.25" fill="url(#f12)"/>
<rect x="320.0" y="65.25" width="40.0" height="1.25" fill="url(#g7_3)"/>
<rect x="320.0" y="65.25" width="8.4" height="1.25" fill="url(#f13)"/>
<rect x="320.0" y="67.75" width="40.0" height="1.25" fill="url(#g7_2)"/>
<rect x="320.0" y="67.75" width="6.7" height="1.25" fill="url(#f11)"/>
<rect x="320.0" y="69.00" width="40.0" height="1.25" fill="url(#g7_2)"/>
<rect x="320.0" y="69.00" width="6.0" height="1.25" fill="url(#f13)"/>
<rect x="320.0" y="70.25" width="40.0" height="1.25" fill="url(#g7_3)"/>
<rect x="320.0" y="70.25" width="7.5" height="1.25" fill="url(#f13)"/>
<rect x="320.0" y="71.50" width="40.0" height="1.25" fill="url(#g6_2)"/>
<rect x="320.0" y="71.50" width="6.4" height="1.25" fill="url(#f11)"/>
<rect x="320.0" y="72.75" width="40.0" height="1.25" fill="url(#g6_3)"/>
<rect x="320.0" y="72.75" width="5.7" height="1.25" fill="url(#f12)"/>
<rect x="320.0" y="74.00" width="40.0" height="1.25" fill="url(#g6_1)"/>
<rect x="320.0" y="74.00" width="5.6" height="1.25" fill="url(#f10)"/>
<rect x="320.0" y="75.25" width="4.9" height="1.25" fill="url(#f11)"/>
<rect x="320.0" y="76.50" width="5.9" height="1.25" fill="url(#f10)"/>
<rect x="320.0" y="77.75" width="4.7" height="1.25" fill="url(#f10)"/>
<rect x="320.0" y="79.00" width="5.0" height="1.25" fill="url(#f9)"/>
<rect x="320.0" y="80.25" width="40.0" height="1.25" fill="url(#g4_1)"/>
<rect x="320.0" y="80.25" width="5.1" height="1.25" fill="url(#f10)"/>
<rect x="320.0" y="81.50" width="4.2" height="1.25" fill="url(#f9)"/>
<rect x="320.0" y="82.75" width="40.0" height="1.25" fill="url(#g3_1)"/>
<rect x="320.0" y="82.75" width="4.2" height="1.25" fill="url(#f8)"/>
<rect x="39" y="101.5" width="321" height="50.5" fill="#04030e"/>
<path fill="#130d33" d="M333.3 101.50h1.8v1.26h-1.8zM279.1 107.81h8.0v1.26h-8.0z"/>
<path fill="#6b5a3a" d="M80.6 101.50h5.6v1.26h-5.6z"/>
<path fill="#752080" d="M184.7 102.76h8.4v1.26h-8.4z"/>
<path fill="#100b2c" d="M242.7 105.29h8.8v1.26h-8.8zM288.2 145.69h6.2v1.26h-6.2z"/>
<path fill="#1c0e42" d="M109.5 106.55h1.1v1.26h-1.1z"/>
<path fill="#140e35" d="M305.2 106.55h1.1v1.26h-1.1z"/>
<path fill="#0c0923" d="M120.7 109.08h1.3v1.26h-1.3zM160.8 139.38h23.8v1.26h-23.8z"/>
<path fill="#1d0e44" d="M267.1 110.34h39.4v1.26h-39.4zM321.6 110.34h1.4v1.26h-1.4zM308.5 131.80h1.1v1.26h-1.1z"/>
<path fill="#0b071e" d="M147.0 111.60h5.3v1.26h-5.3z"/>
<path fill="#1b0e41" d="M57.0 111.60h4.1v1.26h-4.1zM313.9 119.17h40.0v1.26h-40.0zM158.1 149.47h2.3v1.26h-2.3z"/>
<path fill="#110c2e" d="M125.2 112.86h5.6v1.26h-5.6zM79.5 144.43h39.1v1.26h-39.1zM174.6 148.21h18.5v1.26h-18.5z"/>
<path fill="#952c7f" d="M326.2 112.86h1.3v1.26h-1.3z"/>
<path fill="#1f0e47" d="M130.0 114.12h1.7v1.26h-1.7z"/>
<path fill="#0d0925" d="M131.0 115.39h6.7v1.26h-6.7zM78.4 136.85h1.4v1.26h-1.4z"/>
<path fill="#080618" d="M44.1 115.39h5.1v1.26h-5.1z"/>
<path fill="#0c0822" d="M206.5 115.39h1.5v1.26h-1.5z"/>
<path fill="#0a071c" d="M284.0 116.65h4.1v1.26h-4.1z"/>
<path fill="#120d32" d="M104.5 117.91h3.4v1.26h-3.4zM82.6 128.01h3.2v1.26h-3.2zM66.9 136.85h3.0v1.26h-3.0z"/>
<path fill="#09061a" d="M59.9 117.91h4.3v1.26h-4.3z"/>
<path fill="#110c2f" d="M157.0 121.70h28.9v1.26h-28.9zM285.0 148.21h2.9v1.26h-2.9z"/>
<path fill="#170e3a" d="M314.2 122.96h2.0v1.26h-2.0z"/>
<path fill="#120c30" d="M316.6 122.96h8.7v1.26h-8.7z"/>
<path fill="#3d1071" d="M71.7 125.49h1.7v1.26h-1.7z"/>
<path fill="#0a071d" d="M229.6 126.75h3.1v1.26h-3.1zM78.1 128.01h2.7v1.26h-2.7zM140.1 150.74h10.6v1.26h-10.6z"/>
<path fill="#1e0e44" d="M172.7 130.54h5.6v1.26h-5.6z"/>
<path fill="#1f0e46" d="M146.7 130.54h1.7v1.26h-1.7z"/>
<path fill="#09061b" d="M173.2 131.80h3.5v1.26h-3.5zM353.0 140.64h1.9v1.26h-1.9z"/>
<path fill="#130e34" d="M83.3 133.06h9.7v1.26h-9.7z"/>
<path fill="#140e37" d="M320.2 133.06h35.6v1.26h-35.6z"/>
<path fill="#1e0e45" d="M236.6 134.32h1.7v1.26h-1.7zM162.9 148.21h2.1v1.26h-2.1z"/>
<path fill="#0d0924" d="M77.3 135.59h3.3v1.26h-3.3z"/>
<path fill="#0e0a26" d="M185.6 138.11h3.0v1.26h-3.0z"/>
<path fill="#160e3a" d="M178.9 140.64h1.2v1.26h-1.2z"/>
<path fill="#1a0e40" d="M146.2 143.16h2.1v1.26h-2.1z"/>
<path fill="#110c2d" d="M203.7 143.16h4.4v1.26h-4.4z"/>
<path fill="#0f0a29" d="M268.9 145.69h1.9v1.26h-1.9z"/>
<path fill="#0b071f" d="M197.9 146.95h2.5v1.26h-2.5z"/>
<path fill="#1a0e3f" d="M223.9 146.95h1.2v1.26h-1.2z"/>
<path fill="#0e0a27" d="M193.8 149.47h2.5v1.26h-2.5z"/>
<path fill="#100b2b" d="M258.4 150.74h5.3v1.26h-5.3z"/>
<path fill="#2b0f58" d="M46.8 120.44h3.2v1.26h-3.2z"/>
<path fill="#250e4f" d="M58.7 120.44h2.9v1.26h-2.9z"/>
<path fill="#250e50" d="M64.8 120.44h1.9v1.26h-1.9zM80.0 120.44h4.0v1.26h-4.0z"/>
<path fill="#471275" d="M76.7 120.44h1.7v1.26h-1.7z"/>
<path fill="#310f61" d="M89.8 120.44h2.7v1.26h-2.7z"/>
<path fill="#521579" d="M93.2 120.44h4.6v1.26h-4.6z"/>
<path fill="#1e0e46" d="M99.9 120.44h3.7v1.26h-3.7z"/>
<path fill="#4e1478" d="M107.3 120.44h4.5v1.26h-4.5z"/>
<path fill="#260e50" d="M135.1 120.44h4.3v1.26h-4.3z"/>
<path fill="#390f6e" d="M144.8 120.44h3.5v1.26h-3.5z"/>
<path fill="#230e4c" d="M150.1 120.44h2.9v1.26h-2.9z"/>
<path fill="#270e52" d="M156.4 120.44h2.7v1.26h-2.7zM276.0 120.44h1.6v1.26h-1.6z"/>
<path fill="#411172" d="M160.6 120.44h2.3v1.26h-2.3z"/>
<path fill="#441174" d="M177.3 120.44h2.1v1.26h-2.1z"/>
<path fill="#511579" d="M181.2 120.44h4.9v1.26h-4.9z"/>
<path fill="#230e4d" d="M188.3 120.44h2.3v1.26h-2.3z"/>
<path fill="#3e1071" d="M198.5 120.44h2.8v1.26h-2.8z"/>
<path fill="#380f6c" d="M202.6 120.44h4.6v1.26h-4.6z"/>
<path fill="#2d0f5b" d="M213.8 120.44h3.8v1.26h-3.8zM279.2 120.44h2.8v1.26h-2.8z"/>
<path fill="#4c1376" d="M219.5 120.44h1.8v1.26h-1.8z"/>
<path fill="#3b0f70" d="M222.9 120.44h3.8v1.26h-3.8z"/>
<path fill="#200e47" d="M228.5 120.44h3.3v1.26h-3.3z"/>
<path fill="#441173" d="M233.3 120.44h2.3v1.26h-2.3z"/>
<path fill="#421173" d="M248.8 120.44h2.5v1.26h-2.5z"/>
<path fill="#401072" d="M254.1 120.44h2.7v1.26h-2.7z"/>
<path fill="#220e4b" d="M263.9 120.44h3.7v1.26h-3.7zM307.3 120.44h1.7v1.26h-1.7z"/>
<path fill="#340f65" d="M289.4 120.44h4.0v1.26h-4.0z"/>
<path fill="#4b1376" d="M296.3 120.44h2.7v1.26h-2.7z"/>
<path fill="#4c1377" d="M302.2 120.44h2.5v1.26h-2.5z"/>
<path fill="#431173" d="M353.0 120.44h4.2v1.26h-4.2z"/>
<rect x="62.0" y="101.50" width="41.3" height="1.26" fill="url(#g17_5)"/>
<rect x="62.0" y="101.50" width="12.9" height="1.26" fill="url(#f17)"/>
<rect x="62.0" y="102.76" width="41.3" height="1.26" fill="url(#g9_3)"/>
<rect x="62.0" y="102.76" width="10.6" height="1.26" fill="url(#f16)"/>
<rect x="62.0" y="104.03" width="11.9" height="1.26" fill="url(#f14)"/>
<rect x="62.0" y="105.29" width="41.3" height="1.26" fill="url(#g7_0)"/>
<rect x="62.0" y="105.29" width="8.9" height="1.26" fill="url(#f15)"/>
<rect x="62.0" y="106.55" width="41.3" height="1.26" fill="url(#g5_0)"/>
<rect x="62.0" y="106.55" width="10.0" height="1.26" fill="url(#f12)"/>
<rect x="62.0" y="107.81" width="35.5" height="1.26" fill="url(#g5_0)"/>
<rect x="62.0" y="107.81" width="10.3" height="1.26" fill="url(#f12)"/>
<rect x="62.0" y="109.08" width="25.6" height="1.26" fill="url(#g6_0)"/>
<rect x="62.0" y="109.08" width="7.4" height="1.26" fill="url(#f13)"/>
<rect x="62.0" y="110.34" width="21.6" height="1.26" fill="url(#g4_0)"/>
<rect x="62.0" y="110.34" width="8.5" height="1.26" fill="url(#f11)"/>
<rect x="62.0" y="111.60" width="27.8" height="1.26" fill="url(#g6_0)"/>
<rect x="62.0" y="111.60" width="6.3" height="1.26" fill="url(#f13)"/>
<rect x="62.0" y="112.86" width="6.4" height="1.26" fill="url(#f12)"/>
<rect x="62.0" y="114.12" width="4.9" height="1.26" fill="url(#f10)"/>
<rect x="62.0" y="115.39" width="18.5" height="1.26" fill="url(#g5_0)"/>
<rect x="62.0" y="115.39" width="4.9" height="1.26" fill="url(#f10)"/>
<rect x="126.5" y="101.50" width="41.0" height="1.26" fill="url(#g17_5)"/>
<rect x="126.5" y="101.50" width="11.0" height="1.26" fill="url(#f18)"/>
<rect x="126.5" y="102.76" width="9.9" height="1.26" fill="url(#f16)"/>
<rect x="126.5" y="104.03" width="41.0" height="1.26" fill="url(#g7_2)"/>
<rect x="126.5" y="104.03" width="12.2" height="1.26" fill="url(#f16)"/>
<rect x="126.5" y="105.29" width="41.0" height="1.26" fill="url(#g7_1)"/>
<rect x="126.5" y="105.29" width="10.2" height="1.26" fill="url(#f15)"/>
<rect x="126.5" y="106.55" width="35.7" height="1.26" fill="url(#g6_0)"/>
<rect x="126.5" y="106.55" width="10.0" height="1.26" fill="url(#f15)"/>
<rect x="126.5" y="107.81" width="8.5" height="1.26" fill="url(#f13)"/>
<rect x="126.5" y="109.08" width="40.9" height="1.26" fill="url(#g6_0)"/>
<rect x="126.5" y="109.08" width="8.7" height="1.26" fill="url(#f13)"/>
<rect x="126.5" y="111.60" width="7.2" height="1.26" fill="url(#f12)"/>
<rect x="126.5" y="112.86" width="18.8" height="1.26" fill="url(#g5_0)"/>
<rect x="126.5" y="112.86" width="5.4" height="1.26" fill="url(#f12)"/>
<rect x="126.5" y="114.12" width="4.9" height="1.26" fill="url(#f9)"/>
<rect x="126.5" y="115.39" width="15.3" height="1.26" fill="url(#g4_0)"/>
<rect x="126.5" y="115.39" width="4.8" height="1.26" fill="url(#f10)"/>
<rect x="190.8" y="101.50" width="40.7" height="1.26" fill="url(#g15_5)"/>
<rect x="190.8" y="101.50" width="11.4" height="1.26" fill="url(#f16)"/>
<rect x="190.8" y="102.76" width="40.7" height="1.26" fill="url(#g11_4)"/>
<rect x="190.8" y="102.76" width="12.2" height="1.26" fill="url(#f15)"/>
<rect x="190.8" y="104.03" width="40.7" height="1.26" fill="url(#g7_2)"/>
<rect x="190.8" y="104.03" width="11.1" height="1.26" fill="url(#f14)"/>
<rect x="190.8" y="105.29" width="40.7" height="1.26" fill="url(#g9_3)"/>
<rect x="190.8" y="105.29" width="11.6" height="1.26" fill="url(#f17)"/>
<rect x="190.8" y="106.55" width="40.7" height="1.26" fill="url(#g6_2)"/>
<rect x="190.8" y="106.55" width="11.1" height="1.26" fill="url(#f13)"/>
<rect x="190.8" y="107.81" width="8.7" height="1.26" fill="url(#f13)"/>
<rect x="190.8" y="110.34" width="8.9" height="1.26" fill="url(#f13)"/>
<rect x="190.8" y="111.60" width="40.4" height="1.26" fill="url(#g6_0)"/>
<rect x="190.8" y="111.60" width="8.7" height="1.26" fill="url(#f12)"/>
<rect x="190.8" y="112.86" width="7.8" height="1.26" fill="url(#f11)"/>
<rect x="190.8" y="114.12" width="6.3" height="1.26" fill="url(#f12)"/>
<rect x="190.8" y="115.39" width="25.3" height="1.26" fill="url(#g4_0)"/>
<rect x="190.8" y="115.39" width="6.1" height="1.26" fill="url(#f11)"/>
<rect x="190.8" y="117.91" width="4.4" height="1.26" fill="url(#f10)"/>
<rect x="255.5" y="101.50" width="40.3" height="1.26" fill="url(#g14_4)"/>
<rect x="255.5" y="101.50" width="12.7" height="1.26" fill="url(#f17)"/>
<rect x="255.5" y="102.76" width="40.3" height="1.26" fill="url(#g13_4)"/>
<rect x="255.5" y="102.76" width="12.5" height="1.26" fill="url(#f15)"/>
<rect x="255.5" y="104.03" width="40.3" height="1.26" fill="url(#g14_4)"/>
<rect x="255.5" y="104.03" width="9.3" height="1.26" fill="url(#f16)"/>
<rect x="255.5" y="105.29" width="40.3" height="1.26" fill="url(#g9_4)"/>
<rect x="255.5" y="105.29" width="10.7" height="1.26" fill="url(#f16)"/>
<rect x="255.5" y="106.55" width="10.7" height="1.26" fill="url(#f15)"/>
<rect x="255.5" y="107.81" width="40.3" height="1.26" fill="url(#g7_3)"/>
<rect x="255.5" y="107.81" width="10.4" height="1.26" fill="url(#f14)"/>
<rect x="255.5" y="110.34" width="40.3" height="1.26" fill="url(#g7_2)"/>
<rect x="255.5" y="110.34" width="6.9" height="1.26" fill="url(#f12)"/>
<rect x="255.5" y="111.60" width="7.6" height="1.26" fill="url(#f13)"/>
<rect x="255.5" y="114.12" width="6.3" height="1.26" fill="url(#f11)"/>
<rect x="255.5" y="115.39" width="40.3" height="1.26" fill="url(#g5_2)"/>
<rect x="255.5" y="115.39" width="5.4" height="1.26" fill="url(#f11)"/>
<rect x="255.5" y="116.65" width="40.3" height="1.26" fill="url(#g6_1)"/>
<rect x="255.5" y="116.65" width="5.6" height="1.26" fill="url(#f11)"/>
<rect x="255.5" y="117.91" width="40.3" height="1.26" fill="url(#g5_0)"/>
<rect x="255.5" y="117.91" width="5.8" height="1.26" fill="url(#f10)"/>
<rect x="255.5" y="119.17" width="39.7" height="1.26" fill="url(#g5_0)"/>
<rect x="255.5" y="119.17" width="4.3" height="1.26" fill="url(#f10)"/>
<rect x="255.5" y="120.44" width="28.4" height="1.26" fill="url(#g4_0)"/>
<rect x="255.5" y="120.44" width="4.2" height="1.26" fill="url(#f9)"/>
<rect x="320.0" y="101.50" width="40.0" height="1.26" fill="url(#g18_5)"/>
<rect x="320.0" y="101.50" width="11.8" height="1.26" fill="url(#f18)"/>
<rect x="320.0" y="102.76" width="40.0" height="1.26" fill="url(#g14_5)"/>
<rect x="320.0" y="102.76" width="11.4" height="1.26" fill="url(#f17)"/>
<rect x="320.0" y="104.03" width="40.0" height="1.26" fill="url(#g17_4)"/>
<rect x="320.0" y="104.03" width="11.1" height="1.26" fill="url(#f19)"/>
<rect x="320.0" y="105.29" width="40.0" height="1.26" fill="url(#g15_4)"/>
<rect x="320.0" y="105.29" width="10.4" height="1.26" fill="url(#f19)"/>
<rect x="320.0" y="106.55" width="40.0" height="1.26" fill="url(#g12_4)"/>
<rect x="320.0" y="106.55" width="10.8" height="1.26" fill="url(#f18)"/>
<rect x="320.0" y="107.81" width="40.0" height="1.26" fill="url(#g11_5)"/>
<rect x="320.0" y="107.81" width="8.8" height="1.26" fill="url(#f15)"/>
<rect x="320.0" y="109.08" width="40.0" height="1.26" fill="url(#g10_5)"/>
<rect x="320.0" y="109.08" width="8.9" height="1.26" fill="url(#f17)"/>
<rect x="320.0" y="110.34" width="40.0" height="1.26" fill="url(#g10_5)"/>
<rect x="320.0" y="110.34" width="8.2" height="1.26" fill="url(#f14)"/>
<rect x="320.0" y="111.60" width="40.0" height="1.26" fill="url(#g9_4)"/>
<rect x="320.0" y="111.60" width="7.5" height="1.26" fill="url(#f14)"/>
<rect x="320.0" y="114.12" width="40.0" height="1.26" fill="url(#g9_4)"/>
<rect x="320.0" y="114.12" width="6.8" height="1.26" fill="url(#f14)"/>
<rect x="320.0" y="115.39" width="40.0" height="1.26" fill="url(#g8_4)"/>
<rect x="320.0" y="115.39" width="7.3" height="1.26" fill="url(#f15)"/>
<rect x="320.0" y="116.65" width="8.0" height="1.26" fill="url(#f12)"/>
<rect x="320.0" y="117.91" width="40.0" height="1.26" fill="url(#g7_3)"/>
<rect x="320.0" y="117.91" width="7.4" height="1.26" fill="url(#f11)"/>
<rect x="320.0" y="119.17" width="40.0" height="1.26" fill="url(#g7_4)"/>
<rect x="320.0" y="119.17" width="7.3" height="1.26" fill="url(#f13)"/>
<rect x="320.0" y="120.44" width="40.0" height="1.26" fill="url(#g6_3)"/>
<rect x="320.0" y="120.44" width="7.2" height="1.26" fill="url(#f11)"/>
<rect x="320.0" y="122.96" width="40.0" height="1.26" fill="url(#g6_2)"/>
<rect x="320.0" y="122.96" width="6.1" height="1.26" fill="url(#f11)"/>
<rect x="320.0" y="126.75" width="5.2" height="1.26" fill="url(#f10)"/>
<rect x="39" y="154.5" width="321" height="20.5" fill="#04030e"/>
<path fill="#1f0e46" d="M332.0 154.50h28.0v1.28h-28.0z"/>
<path fill="#0a071d" d="M293.6 155.78h2.5v1.28h-2.5zM170.9 171.16h7.9v1.28h-7.9z"/>
<path fill="#09061b" d="M59.8 155.78h3.6v1.28h-3.6z"/>
<path fill="#0c0822" d="M169.4 155.78h7.3v1.28h-7.3zM220.6 172.44h1.0v1.28h-1.0z"/>
<path fill="#170e3b" d="M122.4 155.78h2.4v1.28h-2.4z"/>
<path fill="#1b0e41" d="M107.9 157.06h3.1v1.28h-3.1z"/>
<path fill="#110c2e" d="M278.0 157.06h5.3v1.28h-5.3zM273.8 162.19h2.7v1.28h-2.7z"/>
<path fill="#0c0821" d="M229.0 158.34h2.5v1.28h-2.5z"/>
<path fill="#6b5a3a" d="M313.5 159.62h1.5v1.28h-1.5z"/>
<path fill="#110c2f" d="M87.3 159.62h7.1v1.28h-7.1z"/>
<path fill="#0f0b2a" d="M165.3 160.91h2.3v1.28h-2.3z"/>
<path fill="#080619" d="M323.6 160.91h3.2v1.28h-3.2z"/>
<path fill="#09061a" d="M228.3 160.91h3.1v1.28h-3.1z"/>
<path fill="#7a6a48" d="M59.5 160.91h1.3v1.28h-1.3z"/>
<path fill="#160e39" d="M150.1 162.19h1.6v1.28h-1.6zM131.4 167.31h2.5v1.28h-2.5z"/>
<path fill="#6b1d80" d="M95.4 162.19h1.8v1.28h-1.8z"/>
<path fill="#120c30" d="M216.0 162.19h32.8v1.28h-32.8z"/>
<path fill="#100b2b" d="M317.0 163.47h4.2v1.28h-4.2zM328.6 166.03h2.0v1.28h-2.0z"/>
<path fill="#6a4a3a" d="M162.1 163.47h2.2v1.28h-2.2z"/>
<path fill="#1f0e47" d="M198.3 163.47h12.2v1.28h-12.2zM220.3 160.91h3.8v1.28h-3.8zM323.8 160.91h4.0v1.28h-4.0z"/>
<path fill="#120d31" d="M236.4 164.75h1.1v1.28h-1.1zM301.0 172.44h1.6v1.28h-1.6z"/>
<path fill="#110c2d" d="M179.7 164.75h3.8v1.28h-3.8z"/>
<path fill="#1a0e3e" d="M188.7 164.75h2.0v1.28h-2.0z"/>
<path fill="#0d0924" d="M315.5 164.75h2.1v1.28h-2.1zM292.5 166.03h3.7v1.28h-3.7z"/>
<path fill="#200e47" d="M311.8 166.03h2.1v1.28h-2.1z"/>
<path fill="#0f0a28" d="M279.8 166.03h2.1v1.28h-2.1z"/>
<path fill="#1b0e40" d="M87.5 166.03h3.7v1.28h-3.7zM309.8 169.88h3.2v1.28h-3.2z"/>
<path fill="#140e36" d="M155.0 167.31h3.7v1.28h-3.7zM203.5 167.31h1.0v1.28h-1.0z"/>
<path fill="#080618" d="M205.4 167.31h5.0v1.28h-5.0z"/>
<path fill="#100b2c" d="M212.2 168.59h7.2v1.28h-7.2z"/>
<path fill="#0d0925" d="M195.9 168.59h1.2v1.28h-1.2z"/>
<path fill="#852781" d="M331.7 168.59h4.2v1.28h-4.2z"/>
<path fill="#130d34" d="M120.7 169.88h1.7v1.28h-1.7z"/>
<path fill="#0b0820" d="M336.3 171.16h4.0v1.28h-4.0z"/>
<path fill="#4d1477" d="M165.4 171.16h1.4v1.28h-1.4zM167.6 160.91h2.2v1.28h-2.2z"/>
<path fill="#0a071c" d="M132.5 172.44h2.0v1.28h-2.0z"/>
<path fill="#0b0821" d="M168.4 173.72h1.1v1.28h-1.1z"/>
<path fill="#0f0a29" d="M98.2 173.72h2.9v1.28h-2.9z"/>
<path fill="#0e0926" d="M134.0 173.72h2.3v1.28h-2.3z"/>
<path fill="#0a071e" d="M159.9 173.72h2.4v1.28h-2.4z"/>
<path fill="#0b071e" d="M246.4 173.72h7.7v1.28h-7.7z"/>
<path fill="#2c0f5a" d="M39.7 160.91h4.4v1.28h-4.4zM87.8 160.91h1.8v1.28h-1.8z"/>
<path fill="#5a177c" d="M46.1 160.91h2.2v1.28h-2.2zM126.6 160.91h3.8v1.28h-3.8z"/>
<path fill="#521579" d="M55.1 160.91h2.2v1.28h-2.2z"/>
<path fill="#4a1376" d="M63.5 160.91h3.2v1.28h-3.2zM69.9 160.91h2.1v1.28h-2.1z"/>
<path fill="#280f54" d="M75.1 160.91h4.3v1.28h-4.3zM100.5 160.91h4.7v1.28h-4.7z"/>
<path fill="#3a0f6f" d="M82.6 160.91h4.0v1.28h-4.0zM357.6 160.91h2.4v1.28h-2.4z"/>
<path fill="#380f6b" d="M93.0 160.91h4.0v1.28h-4.0z"/>
<path fill="#2c0f59" d="M120.3 160.91h2.4v1.28h-2.4zM288.5 160.91h2.7v1.28h-2.7z"/>
<path fill="#461274" d="M132.0 160.91h2.0v1.28h-2.0zM273.9 160.91h3.5v1.28h-3.5zM338.0 160.91h2.8v1.28h-2.8z"/>
<path fill="#2a0f57" d="M137.0 160.91h2.2v1.28h-2.2zM180.2 160.91h1.9v1.28h-1.9z"/>
<path fill="#340f65" d="M140.9 160.91h2.9v1.28h-2.9zM183.0 160.91h2.6v1.28h-2.6z"/>
<path fill="#200e48" d="M151.1 160.91h1.8v1.28h-1.8z"/>
<path fill="#421173" d="M161.9 160.91h2.5v1.28h-2.5z"/>
<path fill="#310f61" d="M173.0 160.91h4.7v1.28h-4.7z"/>
<path fill="#260e50" d="M187.8 160.91h2.7v1.28h-2.7z"/>
<path fill="#290f55" d="M200.3 160.91h4.1v1.28h-4.1z"/>
<path fill="#411172" d="M206.3 160.91h1.6v1.28h-1.6zM236.9 160.91h2.6v1.28h-2.6z"/>
<path fill="#511579" d="M209.8 160.91h3.9v1.28h-3.9z"/>
<path fill="#2e0f5d" d="M226.9 160.91h4.4v1.28h-4.4zM350.5 160.91h4.2v1.28h-4.2z"/>
<path fill="#2f0f5e" d="M232.2 160.91h2.3v1.28h-2.3z"/>
<path fill="#2d0f5b" d="M251.2 160.91h4.0v1.28h-4.0z"/>
<path fill="#4e1478" d="M256.1 160.91h1.9v1.28h-1.9z"/>
<path fill="#240e4e" d="M294.4 160.91h2.1v1.28h-2.1z"/>
<path fill="#320f62" d="M299.6 160.91h3.6v1.28h-3.6z"/>
<path fill="#4e1477" d="M307.0 160.91h4.3v1.28h-4.3z"/>
<path fill="#4f1478" d="M312.2 160.91h3.3v1.28h-3.3z"/>
<path fill="#320f63" d="M331.4 160.91h1.6v1.28h-1.6z"/>
<path fill="#531579" d="M333.8 160.91h3.6v1.28h-3.6z"/>
<rect x="62.0" y="154.50" width="19.8" height="1.28" fill="url(#g3_0)"/>
<rect x="62.0" y="154.50" width="4.6" height="1.28" fill="url(#f7)"/>
<rect x="62.0" y="155.78" width="16.5" height="1.28" fill="url(#g3_0)"/>
<rect x="62.0" y="155.78" width="4.1" height="1.28" fill="url(#f6)"/>
<rect x="62.0" y="157.06" width="10.4" height="1.28" fill="url(#g2_0)"/>
<rect x="62.0" y="157.06" width="3.2" height="1.28" fill="url(#f5)"/>
<rect x="62.0" y="158.34" width="8.4" height="1.28" fill="url(#g2_0)"/>
<rect x="62.0" y="158.34" width="2.7" height="1.28" fill="url(#f5)"/>
<rect x="126.5" y="154.50" width="18.4" height="1.28" fill="url(#g4_0)"/>
<rect x="126.5" y="154.50" width="4.9" height="1.28" fill="url(#f10)"/>
<rect x="126.5" y="155.78" width="12.3" height="1.28" fill="url(#g4_0)"/>
<rect x="126.5" y="155.78" width="5.6" height="1.28" fill="url(#f8)"/>
<rect x="126.5" y="157.06" width="12.4" height="1.28" fill="url(#g3_0)"/>
<rect x="126.5" y="157.06" width="4.6" height="1.28" fill="url(#f7)"/>
<rect x="126.5" y="158.34" width="10.0" height="1.28" fill="url(#g3_0)"/>
<rect x="126.5" y="158.34" width="3.8" height="1.28" fill="url(#f6)"/>
<rect x="126.5" y="159.62" width="9.2" height="1.28" fill="url(#g3_0)"/>
<rect x="126.5" y="159.62" width="3.6" height="1.28" fill="url(#f6)"/>
<rect x="126.5" y="160.91" width="6.7" height="1.28" fill="url(#g2_0)"/>
<rect x="126.5" y="160.91" width="2.6" height="1.28" fill="url(#f5)"/>
<rect x="190.8" y="154.50" width="28.5" height="1.28" fill="url(#g7_0)"/>
<rect x="190.8" y="154.50" width="8.1" height="1.28" fill="url(#f15)"/>
<rect x="190.8" y="155.78" width="7.6" height="1.28" fill="url(#f16)"/>
<rect x="190.8" y="157.06" width="18.2" height="1.28" fill="url(#g5_0)"/>
<rect x="190.8" y="157.06" width="6.2" height="1.28" fill="url(#f13)"/>
<rect x="190.8" y="158.34" width="14.1" height="1.28" fill="url(#g7_0)"/>
<rect x="190.8" y="158.34" width="6.1" height="1.28" fill="url(#f14)"/>
<rect x="190.8" y="160.91" width="5.0" height="1.28" fill="url(#f13)"/>
<rect x="190.8" y="162.19" width="4.8" height="1.28" fill="url(#f10)"/>
<rect x="190.8" y="163.47" width="14.6" height="1.28" fill="url(#g4_0)"/>
<rect x="190.8" y="163.47" width="3.9" height="1.28" fill="url(#f10)"/>
<rect x="190.8" y="164.75" width="10.8" height="1.28" fill="url(#g4_0)"/>
<rect x="190.8" y="164.75" width="3.9" height="1.28" fill="url(#f10)"/>
<rect x="190.8" y="166.03" width="3.3" height="1.28" fill="url(#f8)"/>
<rect x="255.5" y="154.50" width="40.3" height="1.28" fill="url(#g18_5)"/>
<rect x="255.5" y="154.50" width="9.1" height="1.28" fill="url(#f18)"/>
<rect x="255.5" y="155.78" width="40.3" height="1.28" fill="url(#g13_4)"/>
<rect x="255.5" y="155.78" width="10.2" height="1.28" fill="url(#f19)"/>
<rect x="255.5" y="157.06" width="8.0" height="1.28" fill="url(#f15)"/>
<rect x="255.5" y="158.34" width="40.3" height="1.28" fill="url(#g8_2)"/>
<rect x="255.5" y="158.34" width="7.6" height="1.28" fill="url(#f16)"/>
<rect x="255.5" y="159.62" width="40.3" height="1.28" fill="url(#g7_1)"/>
<rect x="255.5" y="159.62" width="7.3" height="1.28" fill="url(#f16)"/>
<rect x="255.5" y="160.91" width="33.0" height="1.28" fill="url(#g7_0)"/>
<rect x="255.5" y="160.91" width="7.9" height="1.28" fill="url(#f15)"/>
<rect x="255.5" y="162.19" width="32.9" height="1.28" fill="url(#g6_0)"/>
<rect x="255.5" y="162.19" width="6.1" height="1.28" fill="url(#f14)"/>
<rect x="255.5" y="163.47" width="18.0" height="1.28" fill="url(#g6_0)"/>
<rect x="255.5" y="163.47" width="6.4" height="1.28" fill="url(#f13)"/>
<rect x="255.5" y="164.75" width="19.1" height="1.28" fill="url(#g5_0)"/>
<rect x="255.5" y="164.75" width="5.6" height="1.28" fill="url(#f12)"/>
<rect x="255.5" y="166.03" width="22.2" height="1.28" fill="url(#g5_0)"/>
<rect x="255.5" y="166.03" width="5.5" height="1.28" fill="url(#f12)"/>
<rect x="255.5" y="167.31" width="16.6" height="1.28" fill="url(#g5_0)"/>
<rect x="255.5" y="167.31" width="4.1" height="1.28" fill="url(#f9)"/>
<rect x="255.5" y="168.59" width="12.0" height="1.28" fill="url(#g4_0)"/>
<rect x="255.5" y="168.59" width="4.3" height="1.28" fill="url(#f9)"/>
<rect x="320.0" y="154.50" width="40.0" height="1.28" fill="url(#g18_5)"/>
<rect x="320.0" y="154.50" width="10.1" height="1.28" fill="url(#f20)"/>
<rect x="320.0" y="155.78" width="40.0" height="1.28" fill="url(#g16_5)"/>
<rect x="320.0" y="155.78" width="12.6" height="1.28" fill="url(#f19)"/>
<rect x="320.0" y="158.34" width="40.0" height="1.28" fill="url(#g12_5)"/>
<rect x="320.0" y="158.34" width="10.5" height="1.28" fill="url(#f17)"/>
<rect x="320.0" y="159.62" width="40.0" height="1.28" fill="url(#g14_4)"/>
<rect x="320.0" y="159.62" width="8.7" height="1.28" fill="url(#f17)"/>
<rect x="320.0" y="160.91" width="40.0" height="1.28" fill="url(#g9_4)"/>
<rect x="320.0" y="160.91" width="10.0" height="1.28" fill="url(#f13)"/>
<rect x="320.0" y="162.19" width="40.0" height="1.28" fill="url(#g10_4)"/>
<rect x="320.0" y="162.19" width="8.7" height="1.28" fill="url(#f14)"/>
<rect x="320.0" y="163.47" width="40.0" height="1.28" fill="url(#g10_3)"/>
<rect x="320.0" y="163.47" width="6.6" height="1.28" fill="url(#f15)"/>
<rect x="320.0" y="164.75" width="40.0" height="1.28" fill="url(#g8_4)"/>
<rect x="320.0" y="164.75" width="7.2" height="1.28" fill="url(#f13)"/>
<rect x="320.0" y="166.03" width="40.0" height="1.28" fill="url(#g8_3)"/>
<rect x="320.0" y="166.03" width="6.7" height="1.28" fill="url(#f12)"/>
<rect x="320.0" y="167.31" width="40.0" height="1.28" fill="url(#g8_3)"/>
<rect x="320.0" y="167.31" width="6.4" height="1.28" fill="url(#f12)"/>
<rect x="320.0" y="168.59" width="40.0" height="1.28" fill="url(#g7_3)"/>
<rect x="320.0" y="168.59" width="5.2" height="1.28" fill="url(#f12)"/>
<rect x="320.0" y="169.88" width="40.0" height="1.28" fill="url(#g7_2)"/>
<rect x="320.0" y="169.88" width="4.7" height="1.28" fill="url(#f12)"/>
<rect x="320.0" y="171.16" width="40.0" height="1.28" fill="url(#g6_2)"/>
<rect x="320.0" y="171.16" width="4.6" height="1.28" fill="url(#f10)"/>
<rect x="39" y="177.5" width="321" height="39.5" fill="#04030e"/>
<path fill="#1f0e46" d="M119.1 177.50h3.6v1.23h-3.6z"/>
<path fill="#09071b" d="M234.8 178.73h1.3v1.23h-1.3z"/>
<path fill="#0d0925" d="M284.9 181.20h1.6v1.23h-1.6zM151.5 188.61h3.7v1.23h-3.7z"/>
<path fill="#170e3a" d="M151.5 183.67h2.4v1.23h-2.4zM335.4 214.53h4.6v1.23h-4.6z"/>
<path fill="#0e0a28" d="M216.4 183.67h3.5v1.23h-3.5zM175.4 205.89h1.3v1.23h-1.3z"/>
<path fill="#0e0a27" d="M172.9 184.91h1.1v1.23h-1.1zM45.7 215.77h1.7v1.23h-1.7z"/>
<path fill="#1a0e40" d="M146.4 187.38h2.0v1.23h-2.0z"/>
<path fill="#0a071e" d="M269.8 189.84h1.4v1.23h-1.4z"/>
<path fill="#180e3c" d="M47.8 191.08h5.2v1.23h-5.2z"/>
<path fill="#180e3b" d="M312.0 192.31h2.0v1.23h-2.0z"/>
<path fill="#1e0e45" d="M151.8 193.55h6.3v1.23h-6.3z"/>
<path fill="#160e39" d="M256.9 194.78h7.1v1.23h-7.1zM168.6 209.59h3.4v1.23h-3.4z"/>
<path fill="#0a071d" d="M267.0 197.25h2.6v1.23h-2.6z"/>
<path fill="#0c0822" d="M293.4 198.48h33.5v1.23h-33.5z"/>
<path fill="#1e0e44" d="M327.7 199.72h25.6v1.23h-25.6z"/>
<path fill="#671b80" d="M215.9 200.95h3.2v1.23h-3.2z"/>
<path fill="#0b071e" d="M343.2 200.95h4.6v1.23h-4.6z"/>
<path fill="#6b5a3a" d="M201.1 202.19h8.9v1.23h-8.9z"/>
<path fill="#6f1e80" d="M228.1 203.42h5.0v1.23h-5.0z"/>
<path fill="#100b2d" d="M275.9 204.66h1.1v1.23h-1.1z"/>
<path fill="#170e3b" d="M308.8 207.12h1.3v1.23h-1.3z"/>
<path fill="#150e37" d="M283.5 208.36h1.0v1.23h-1.0z"/>
<path fill="#100b2b" d="M266.9 210.83h1.1v1.23h-1.1z"/>
<path fill="#0a071c" d="M119.3 213.30h1.9v1.23h-1.9z"/>
<rect x="62.0" y="177.50" width="10.1" height="1.23" fill="url(#g2_0)"/>
<rect x="62.0" y="177.50" width="3.3" height="1.23" fill="url(#f6)"/>
<rect x="126.5" y="177.50" width="14.6" height="1.23" fill="url(#g3_0)"/>
<rect x="126.5" y="177.50" width="3.7" height="1.23" fill="url(#f6)"/>
<rect x="190.8" y="177.50" width="4.5" height="1.23" fill="url(#f10)"/>
<rect x="190.8" y="178.73" width="10.7" height="1.23" fill="url(#g5_0)"/>
<rect x="190.8" y="178.73" width="4.1" height="1.23" fill="url(#f11)"/>
<rect x="190.8" y="179.97" width="9.8" height="1.23" fill="url(#g5_0)"/>
<rect x="190.8" y="179.97" width="4.0" height="1.23" fill="url(#f10)"/>
<rect x="190.8" y="181.20" width="13.8" height="1.23" fill="url(#g4_0)"/>
<rect x="190.8" y="181.20" width="4.2" height="1.23" fill="url(#f10)"/>
<rect x="190.8" y="182.44" width="4.3" height="1.23" fill="url(#f9)"/>
<rect x="190.8" y="183.67" width="9.0" height="1.23" fill="url(#g4_0)"/>
<rect x="190.8" y="183.67" width="3.4" height="1.23" fill="url(#f8)"/>
<rect x="190.8" y="184.91" width="8.8" height="1.23" fill="url(#g4_0)"/>
<rect x="190.8" y="184.91" width="3.2" height="1.23" fill="url(#f9)"/>
<rect x="190.8" y="186.14" width="10.4" height="1.23" fill="url(#g4_0)"/>
<rect x="190.8" y="186.14" width="3.6" height="1.23" fill="url(#f9)"/>
<rect x="190.8" y="187.38" width="8.1" height="1.23" fill="url(#g3_0)"/>
<rect x="190.8" y="187.38" width="3.1" height="1.23" fill="url(#f7)"/>
<rect x="190.8" y="188.61" width="2.9" height="1.23" fill="url(#f7)"/>
<rect x="190.8" y="189.84" width="3.0" height="1.23" fill="url(#f6)"/>
<rect x="190.8" y="191.08" width="2.9" height="1.23" fill="url(#f6)"/>
<rect x="190.8" y="192.31" width="2.6" height="1.23" fill="url(#f6)"/>
<rect x="190.8" y="193.55" width="5.9" height="1.23" fill="url(#g2_0)"/>
<rect x="190.8" y="193.55" width="2.3" height="1.23" fill="url(#f5)"/>
<rect x="255.5" y="177.50" width="40.3" height="1.23" fill="url(#g14_1)"/>
<rect x="255.5" y="177.50" width="7.4" height="1.23" fill="url(#f17)"/>
<rect x="255.5" y="178.73" width="33.7" height="1.23" fill="url(#g10_0)"/>
<rect x="255.5" y="178.73" width="7.2" height="1.23" fill="url(#f17)"/>
<rect x="255.5" y="179.97" width="12.9" height="1.23" fill="url(#g8_0)"/>
<rect x="255.5" y="179.97" width="6.7" height="1.23" fill="url(#f18)"/>
<rect x="255.5" y="181.20" width="12.6" height="1.23" fill="url(#g8_0)"/>
<rect x="255.5" y="181.20" width="5.1" height="1.23" fill="url(#f15)"/>
<rect x="255.5" y="182.44" width="5.9" height="1.23" fill="url(#f16)"/>
<rect x="255.5" y="183.67" width="9.4" height="1.23" fill="url(#g7_0)"/>
<rect x="255.5" y="183.67" width="5.7" height="1.23" fill="url(#f15)"/>
<rect x="255.5" y="184.91" width="10.8" height="1.23" fill="url(#g7_0)"/>
<rect x="255.5" y="184.91" width="5.2" height="1.23" fill="url(#f15)"/>
<rect x="255.5" y="186.14" width="5.4" height="1.23" fill="url(#f14)"/>
<rect x="255.5" y="187.38" width="11.4" height="1.23" fill="url(#g6_0)"/>
<rect x="255.5" y="187.38" width="4.4" height="1.23" fill="url(#f15)"/>
<rect x="255.5" y="188.61" width="4.2" height="1.23" fill="url(#f13)"/>
<rect x="255.5" y="189.84" width="4.0" height="1.23" fill="url(#f11)"/>
<rect x="255.5" y="191.08" width="9.0" height="1.23" fill="url(#g5_0)"/>
<rect x="255.5" y="191.08" width="4.6" height="1.23" fill="url(#f12)"/>
<rect x="255.5" y="192.31" width="8.0" height="1.23" fill="url(#g5_0)"/>
<rect x="255.5" y="192.31" width="4.1" height="1.23" fill="url(#f11)"/>
<rect x="255.5" y="193.55" width="4.2" height="1.23" fill="url(#f10)"/>
<rect x="255.5" y="194.78" width="7.1" height="1.23" fill="url(#g4_0)"/>
<rect x="255.5" y="194.78" width="3.7" height="1.23" fill="url(#f10)"/>
<rect x="255.5" y="196.02" width="3.5" height="1.23" fill="url(#f8)"/>
<rect x="255.5" y="197.25" width="3.1" height="1.23" fill="url(#f7)"/>
<rect x="255.5" y="198.48" width="2.7" height="1.23" fill="url(#f7)"/>
<rect x="320.0" y="177.50" width="40.0" height="1.23" fill="url(#g15_2)"/>
<rect x="320.0" y="177.50" width="10.7" height="1.23" fill="url(#f18)"/>
<rect x="320.0" y="178.73" width="38.5" height="1.23" fill="url(#g11_0)"/>
<rect x="320.0" y="178.73" width="10.4" height="1.23" fill="url(#f18)"/>
<rect x="320.0" y="179.97" width="29.3" height="1.23" fill="url(#g9_0)"/>
<rect x="320.0" y="179.97" width="7.6" height="1.23" fill="url(#f19)"/>
<rect x="320.0" y="181.20" width="8.0" height="1.23" fill="url(#f20)"/>
<rect x="320.0" y="182.44" width="18.2" height="1.23" fill="url(#g8_0)"/>
<rect x="320.0" y="182.44" width="9.1" height="1.23" fill="url(#f17)"/>
<rect x="320.0" y="183.67" width="7.3" height="1.23" fill="url(#f18)"/>
<rect x="320.0" y="184.91" width="19.1" height="1.23" fill="url(#g8_0)"/>
<rect x="320.0" y="184.91" width="6.6" height="1.23" fill="url(#f17)"/>
<rect x="320.0" y="186.14" width="7.8" height="1.23" fill="url(#f17)"/>
<rect x="320.0" y="187.38" width="15.0" height="1.23" fill="url(#g7_0)"/>
<rect x="320.0" y="187.38" width="7.5" height="1.23" fill="url(#f15)"/>
<rect x="320.0" y="188.61" width="9.7" height="1.23" fill="url(#g7_0)"/>
<rect x="320.0" y="188.61" width="7.1" height="1.23" fill="url(#f15)"/>
<rect x="320.0" y="189.84" width="7.3" height="1.23" fill="url(#f15)"/>
<rect x="320.0" y="191.08" width="10.0" height="1.23" fill="url(#g7_0)"/>
<rect x="320.0" y="191.08" width="6.9" height="1.23" fill="url(#f14)"/>
<rect x="320.0" y="192.31" width="12.0" height="1.23" fill="url(#g6_0)"/>
<rect x="320.0" y="192.31" width="5.1" height="1.23" fill="url(#f14)"/>
<rect x="320.0" y="193.55" width="4.7" height="1.23" fill="url(#f12)"/>
<rect x="320.0" y="194.78" width="4.5" height="1.23" fill="url(#f11)"/>
<rect x="320.0" y="196.02" width="10.0" height="1.23" fill="url(#g5_0)"/>
<rect x="320.0" y="196.02" width="4.4" height="1.23" fill="url(#f11)"/>
<rect x="320.0" y="197.25" width="8.3" height="1.23" fill="url(#g4_0)"/>
<rect x="320.0" y="197.25" width="4.8" height="1.23" fill="url(#f10)"/>
<rect x="320.0" y="198.48" width="9.5" height="1.23" fill="url(#g5_0)"/>
<rect x="320.0" y="198.48" width="4.5" height="1.23" fill="url(#f10)"/>
<rect x="320.0" y="199.72" width="8.5" height="1.23" fill="url(#g4_0)"/>
<rect x="320.0" y="199.72" width="4.0" height="1.23" fill="url(#f8)"/>
<rect x="39" y="219" width="321" height="107.5" fill="#04030e"/>
<path fill="#080618" d="M209.1 219.00h4.2v1.25h-4.2zM84.3 294.00h1.5v1.25h-1.5z"/>
<path fill="#080619" d="M112.1 220.25h1.8v1.25h-1.8zM147.3 254.00h1.7v1.25h-1.7zM315.2 264.00h2.1v1.25h-2.1z"/>
<path fill="#110c30" d="M336.2 220.25h9.8v1.25h-9.8z"/>
<path fill="#0a071c" d="M121.2 221.50h1.1v1.25h-1.1zM327.5 297.75h3.2v1.25h-3.2z"/>
<path fill="#0b0820" d="M290.8 222.75h4.3v1.25h-4.3zM141.2 245.25h1.5v1.25h-1.5zM348.9 290.25h11.1v1.25h-11.1zM334.6 319.00h1.6v1.25h-1.6z"/>
<path fill="#0f0a29" d="M217.2 222.75h1.1v1.25h-1.1zM207.3 234.00h4.7v1.25h-4.7zM108.6 260.25h6.4v1.25h-6.4z"/>
<path fill="#180e3d" d="M225.4 225.25h1.5v1.25h-1.5z"/>
<path fill="#0b0821" d="M68.7 225.25h3.7v1.25h-3.7zM135.4 271.50h1.4v1.25h-1.4z"/>
<path fill="#822581" d="M173.7 227.75h2.9v1.25h-2.9z"/>
<path fill="#0e0a26" d="M258.8 229.00h3.4v1.25h-3.4zM344.3 295.25h8.8v1.25h-8.8z"/>
<path fill="#1e0e45" d="M111.0 230.25h4.7v1.25h-4.7zM178.1 239.00h1.2v1.25h-1.2zM274.5 242.75h6.6v1.25h-6.6zM266.7 244.00h4.3v1.25h-4.3zM191.5 272.75h2.4v1.25h-2.4z"/>
<path fill="#09061a" d="M268.3 231.50h1.1v1.25h-1.1zM265.0 269.00h1.8v1.25h-1.8z"/>
<path fill="#0f0a28" d="M101.9 234.00h1.3v1.25h-1.3zM319.0 257.75h3.7v1.25h-3.7zM249.8 277.75h4.3v1.25h-4.3z"/>
<path fill="#180e3b" d="M109.6 235.25h2.0v1.25h-2.0z"/>
<path fill="#130e35" d="M336.0 236.50h3.4v1.25h-3.4z"/>
<path fill="#852681" d="M187.1 239.00h3.4v1.25h-3.4z"/>
<path fill="#120c30" d="M81.9 240.25h1.3v1.25h-1.3zM85.1 301.50h3.8v1.25h-3.8z"/>
<path fill="#0c0923" d="M282.3 241.50h2.4v1.25h-2.4z"/>
<path fill="#0b071f" d="M117.8 245.25h1.7v1.25h-1.7z"/>
<path fill="#1c0e42" d="M221.8 246.50h1.0v1.25h-1.0zM141.8 281.50h2.6v1.25h-2.6zM123.8 322.75h10.2v1.25h-10.2z"/>
<path fill="#0e0a28" d="M299.4 247.75h1.8v1.25h-1.8zM81.5 251.50h2.9v1.25h-2.9zM68.4 259.00h2.9v1.25h-2.9z"/>
<path fill="#170e3b" d="M328.2 249.00h2.3v1.25h-2.3zM126.5 296.50h7.4v1.25h-7.4zM195.8 314.00h1.8v1.25h-1.8z"/>
<path fill="#0d0923" d="M354.0 250.25h4.3v1.25h-4.3z"/>
<path fill="#140e35" d="M83.2 252.75h8.0v1.25h-8.0z"/>
<path fill="#1b0e41" d="M183.9 254.00h2.0v1.25h-2.0z"/>
<path fill="#0f0b2a" d="M60.5 255.25h4.4v1.25h-4.4zM282.8 271.50h1.7v1.25h-1.7zM254.4 279.00h2.0v1.25h-2.0z"/>
<path fill="#160e3a" d="M240.1 256.50h6.6v1.25h-6.6z"/>
<path fill="#1a0e3e" d="M316.9 256.50h3.1v1.25h-3.1z"/>
<path fill="#160e39" d="M329.8 259.00h1.1v1.25h-1.1zM111.5 285.25h1.1v1.25h-1.1z"/>
<path fill="#120c31" d="M135.0 261.50h2.0v1.25h-2.0z"/>
<path fill="#120d31" d="M251.6 261.50h1.4v1.25h-1.4z"/>
<path fill="#0b071e" d="M342.7 265.25h2.8v1.25h-2.8z"/>
<path fill="#110c2f" d="M230.5 266.50h1.7v1.25h-1.7z"/>
<path fill="#170e3a" d="M68.4 266.50h1.0v1.25h-1.0z"/>
<path fill="#130d32" d="M94.8 267.75h3.3v1.25h-3.3z"/>
<path fill="#100b2d" d="M61.1 270.25h5.0v1.25h-5.0z"/>
<path fill="#1f0e46" d="M85.0 274.00h1.5v1.25h-1.5zM68.6 287.75h6.2v1.25h-6.2z"/>
<path fill="#1b0e40" d="M150.9 275.25h3.9v1.25h-3.9zM279.9 296.50h1.8v1.25h-1.8z"/>
<path fill="#0d0925" d="M239.3 277.75h7.3v1.25h-7.3zM196.0 300.25h4.2v1.25h-4.2z"/>
<path fill="#0e0a27" d="M208.2 281.50h7.6v1.25h-7.6z"/>
<path fill="#1d0e43" d="M121.9 282.75h2.2v1.25h-2.2zM340.1 285.25h3.0v1.25h-3.0z"/>
<path fill="#481375" d="M300.2 284.00h1.4v1.25h-1.4z"/>
<path fill="#0a071d" d="M56.8 287.75h32.6v1.25h-32.6zM313.6 301.50h2.3v1.25h-2.3zM278.5 321.50h1.7v1.25h-1.7z"/>
<path fill="#100b2c" d="M252.9 289.00h9.7v1.25h-9.7zM284.2 311.50h3.5v1.25h-3.5z"/>
<path fill="#631a80" d="M57.7 291.50h2.9v1.25h-2.9z"/>
<path fill="#1e0e44" d="M319.3 292.75h3.3v1.25h-3.3z"/>
<path fill="#140e36" d="M288.9 294.00h36.8v1.25h-36.8zM77.7 325.25h3.2v1.25h-3.2z"/>
<path fill="#190e3e" d="M124.5 295.25h6.9v1.25h-6.9zM255.9 312.75h4.4v1.25h-4.4z"/>
<path fill="#0d0924" d="M75.2 299.00h6.1v1.25h-6.1z"/>
<path fill="#120d32" d="M331.5 300.25h8.2v1.25h-8.2z"/>
<path fill="#1a0e40" d="M298.1 304.00h1.1v1.25h-1.1z"/>
<path fill="#0a071e" d="M270.9 306.50h2.1v1.25h-2.1zM256.5 314.00h3.0v1.25h-3.0z"/>
<path fill="#110c2d" d="M198.0 307.75h2.0v1.25h-2.0z"/>
<path fill="#7a6a48" d="M224.2 317.75h9.5v1.25h-9.5z"/>
<path fill="#180e3c" d="M184.7 317.75h8.9v1.25h-8.9z"/>
<path fill="#0c0821" d="M264.7 320.25h4.1v1.25h-4.1z"/>
<path fill="#1f0e47" d="M264.8 324.00h2.9v1.25h-2.9z"/>
<rect x="62.0" y="219.00" width="15.0" height="1.25" fill="url(#g2_0)"/>
<rect x="62.0" y="219.00" width="3.2" height="1.25" fill="url(#f5)"/>
<rect x="62.0" y="220.25" width="2.6" height="1.25" fill="url(#f4)"/>
<rect x="126.5" y="219.00" width="12.9" height="1.25" fill="url(#g2_0)"/>
<rect x="126.5" y="219.00" width="3.2" height="1.25" fill="url(#f6)"/>
<rect x="126.5" y="221.50" width="11.1" height="1.25" fill="url(#g2_0)"/>
<rect x="126.5" y="221.50" width="2.7" height="1.25" fill="url(#f5)"/>
<rect x="126.5" y="222.75" width="9.1" height="1.25" fill="url(#g2_0)"/>
<rect x="126.5" y="222.75" width="2.5" height="1.25" fill="url(#f5)"/>
<rect x="126.5" y="224.00" width="6.7" height="1.25" fill="url(#g1_0)"/>
<rect x="126.5" y="224.00" width="2.4" height="1.25" fill="url(#f3)"/>
<rect x="190.8" y="219.00" width="4.9" height="1.25" fill="url(#f8)"/>
<rect x="190.8" y="220.25" width="11.0" height="1.25" fill="url(#g3_0)"/>
<rect x="190.8" y="220.25" width="4.3" height="1.25" fill="url(#f7)"/>
<rect x="190.8" y="221.50" width="10.5" height="1.25" fill="url(#g3_0)"/>
<rect x="190.8" y="221.50" width="4.3" height="1.25" fill="url(#f8)"/>
<rect x="190.8" y="222.75" width="10.3" height="1.25" fill="url(#g3_0)"/>
<rect x="190.8" y="222.75" width="3.9" height="1.25" fill="url(#f7)"/>
<rect x="190.8" y="224.00" width="11.3" height="1.25" fill="url(#g3_0)"/>
<rect x="190.8" y="224.00" width="4.7" height="1.25" fill="url(#f7)"/>
<rect x="190.8" y="225.25" width="15.2" height="1.25" fill="url(#g3_0)"/>
<rect x="190.8" y="225.25" width="4.6" height="1.25" fill="url(#f8)"/>
<rect x="190.8" y="226.50" width="4.4" height="1.25" fill="url(#f7)"/>
<rect x="190.8" y="227.75" width="12.7" height="1.25" fill="url(#g3_0)"/>
<rect x="190.8" y="227.75" width="3.7" height="1.25" fill="url(#f7)"/>
<rect x="190.8" y="229.00" width="10.5" height="1.25" fill="url(#g3_0)"/>
<rect x="190.8" y="229.00" width="4.2" height="1.25" fill="url(#f7)"/>
<rect x="190.8" y="230.25" width="13.6" height="1.25" fill="url(#g3_0)"/>
<rect x="190.8" y="230.25" width="4.0" height="1.25" fill="url(#f7)"/>
<rect x="190.8" y="231.50" width="3.7" height="1.25" fill="url(#f7)"/>
<rect x="190.8" y="232.75" width="12.2" height="1.25" fill="url(#g3_0)"/>
<rect x="190.8" y="232.75" width="3.5" height="1.25" fill="url(#f7)"/>
<rect x="190.8" y="234.00" width="10.5" height="1.25" fill="url(#g3_0)"/>
<rect x="190.8" y="234.00" width="3.6" height="1.25" fill="url(#f7)"/>
<rect x="190.8" y="235.25" width="10.2" height="1.25" fill="url(#g3_0)"/>
<rect x="190.8" y="235.25" width="3.8" height="1.25" fill="url(#f6)"/>
<rect x="190.8" y="236.50" width="3.9" height="1.25" fill="url(#f7)"/>
<rect x="190.8" y="237.75" width="8.8" height="1.25" fill="url(#g3_0)"/>
<rect x="190.8" y="237.75" width="3.4" height="1.25" fill="url(#f6)"/>
<rect x="190.8" y="239.00" width="3.4" height="1.25" fill="url(#f7)"/>
<rect x="190.8" y="240.25" width="3.2" height="1.25" fill="url(#f6)"/>
<rect x="190.8" y="241.50" width="7.8" height="1.25" fill="url(#g2_0)"/>
<rect x="190.8" y="241.50" width="3.3" height="1.25" fill="url(#f6)"/>
<rect x="190.8" y="242.75" width="3.3" height="1.25" fill="url(#f5)"/>
<rect x="190.8" y="244.00" width="8.4" height="1.25" fill="url(#g2_0)"/>
<rect x="190.8" y="244.00" width="3.7" height="1.25" fill="url(#f5)"/>
<rect x="190.8" y="245.25" width="10.1" height="1.25" fill="url(#g2_0)"/>
<rect x="190.8" y="245.25" width="3.0" height="1.25" fill="url(#f6)"/>
<rect x="190.8" y="246.50" width="3.4" height="1.25" fill="url(#f5)"/>
<rect x="190.8" y="247.75" width="7.3" height="1.25" fill="url(#g2_0)"/>
<rect x="190.8" y="247.75" width="3.4" height="1.25" fill="url(#f5)"/>
<rect x="190.8" y="249.00" width="7.3" height="1.25" fill="url(#g2_0)"/>
<rect x="190.8" y="249.00" width="3.1" height="1.25" fill="url(#f5)"/>
<rect x="190.8" y="250.25" width="8.1" height="1.25" fill="url(#g2_0)"/>
<rect x="190.8" y="250.25" width="3.3" height="1.25" fill="url(#f5)"/>
<rect x="190.8" y="251.50" width="2.9" height="1.25" fill="url(#f5)"/>
<rect x="190.8" y="252.75" width="2.8" height="1.25" fill="url(#f5)"/>
<rect x="190.8" y="254.00" width="7.7" height="1.25" fill="url(#g2_0)"/>
<rect x="190.8" y="254.00" width="2.9" height="1.25" fill="url(#f5)"/>
<rect x="190.8" y="255.25" width="6.8" height="1.25" fill="url(#g2_0)"/>
<rect x="190.8" y="255.25" width="2.8" height="1.25" fill="url(#f4)"/>
<rect x="190.8" y="256.50" width="8.0" height="1.25" fill="url(#g2_0)"/>
<rect x="190.8" y="256.50" width="3.0" height="1.25" fill="url(#f5)"/>
<rect x="190.8" y="257.75" width="6.3" height="1.25" fill="url(#g2_0)"/>
<rect x="190.8" y="257.75" width="2.5" height="1.25" fill="url(#f5)"/>
<rect x="190.8" y="259.00" width="6.7" height="1.25" fill="url(#g2_0)"/>
<rect x="190.8" y="259.00" width="2.7" height="1.25" fill="url(#f4)"/>
<rect x="190.8" y="260.25" width="2.5" height="1.25" fill="url(#f4)"/>
<rect x="190.8" y="261.50" width="2.7" height="1.25" fill="url(#f4)"/>
<rect x="190.8" y="262.75" width="2.6" height="1.25" fill="url(#f4)"/>
<rect x="190.8" y="264.00" width="7.1" height="1.25" fill="url(#g2_0)"/>
<rect x="190.8" y="264.00" width="2.3" height="1.25" fill="url(#f4)"/>
<rect x="190.8" y="265.25" width="2.2" height="1.25" fill="url(#f3)"/>
<rect x="190.8" y="266.50" width="2.4" height="1.25" fill="url(#f3)"/>
<rect x="255.5" y="219.00" width="40.3" height="1.25" fill="url(#g10_2)"/>
<rect x="255.5" y="219.00" width="5.0" height="1.25" fill="url(#f12)"/>
<rect x="255.5" y="220.25" width="5.2" height="1.25" fill="url(#f13)"/>
<rect x="255.5" y="221.50" width="22.4" height="1.25" fill="url(#g6_0)"/>
<rect x="255.5" y="221.50" width="5.4" height="1.25" fill="url(#f13)"/>
<rect x="255.5" y="222.75" width="5.8" height="1.25" fill="url(#f11)"/>
<rect x="255.5" y="224.00" width="15.6" height="1.25" fill="url(#g6_0)"/>
<rect x="255.5" y="224.00" width="5.3" height="1.25" fill="url(#f12)"/>
<rect x="255.5" y="225.25" width="4.8" height="1.25" fill="url(#f13)"/>
<rect x="255.5" y="226.50" width="15.1" height="1.25" fill="url(#g6_0)"/>
<rect x="255.5" y="226.50" width="5.3" height="1.25" fill="url(#f12)"/>
<rect x="255.5" y="227.75" width="5.5" height="1.25" fill="url(#f12)"/>
<rect x="255.5" y="229.00" width="4.3" height="1.25" fill="url(#f12)"/>
<rect x="255.5" y="230.25" width="12.8" height="1.25" fill="url(#g6_0)"/>
<rect x="255.5" y="230.25" width="4.4" height="1.25" fill="url(#f12)"/>
<rect x="255.5" y="231.50" width="8.8" height="1.25" fill="url(#g6_0)"/>
<rect x="255.5" y="231.50" width="4.4" height="1.25" fill="url(#f12)"/>
<rect x="255.5" y="232.75" width="9.6" height="1.25" fill="url(#g4_0)"/>
<rect x="255.5" y="232.75" width="4.9" height="1.25" fill="url(#f10)"/>
<rect x="255.5" y="234.00" width="8.6" height="1.25" fill="url(#g6_0)"/>
<rect x="255.5" y="234.00" width="4.1" height="1.25" fill="url(#f11)"/>
<rect x="255.5" y="235.25" width="8.8" height="1.25" fill="url(#g5_0)"/>
<rect x="255.5" y="235.25" width="5.2" height="1.25" fill="url(#f11)"/>
<rect x="255.5" y="236.50" width="8.5" height="1.25" fill="url(#g4_0)"/>
<rect x="255.5" y="236.50" width="4.3" height="1.25" fill="url(#f11)"/>
<rect x="255.5" y="237.75" width="12.4" height="1.25" fill="url(#g5_0)"/>
<rect x="255.5" y="237.75" width="4.5" height="1.25" fill="url(#f11)"/>
<rect x="255.5" y="239.00" width="9.1" height="1.25" fill="url(#g5_0)"/>
<rect x="255.5" y="239.00" width="4.9" height="1.25" fill="url(#f10)"/>
<rect x="255.5" y="240.25" width="3.8" height="1.25" fill="url(#f10)"/>
<rect x="255.5" y="241.50" width="9.3" height="1.25" fill="url(#g4_0)"/>
<rect x="255.5" y="241.50" width="4.4" height="1.25" fill="url(#f9)"/>
<rect x="255.5" y="242.75" width="8.4" height="1.25" fill="url(#g4_0)"/>
<rect x="255.5" y="242.75" width="4.6" height="1.25" fill="url(#f10)"/>
<rect x="255.5" y="244.00" width="8.4" height="1.25" fill="url(#g5_0)"/>
<rect x="255.5" y="244.00" width="3.8" height="1.25" fill="url(#f11)"/>
<rect x="255.5" y="245.25" width="4.1" height="1.25" fill="url(#f10)"/>
<rect x="255.5" y="246.50" width="3.6" height="1.25" fill="url(#f10)"/>
<rect x="255.5" y="247.75" width="10.3" height="1.25" fill="url(#g4_0)"/>
<rect x="255.5" y="247.75" width="3.7" height="1.25" fill="url(#f9)"/>
<rect x="255.5" y="249.00" width="10.4" height="1.25" fill="url(#g4_0)"/>
<rect x="255.5" y="249.00" width="3.5" height="1.25" fill="url(#f9)"/>
<rect x="255.5" y="250.25" width="8.7" height="1.25" fill="url(#g4_0)"/>
<rect x="255.5" y="250.25" width="3.9" height="1.25" fill="url(#f9)"/>
<rect x="255.5" y="251.50" width="3.4" height="1.25" fill="url(#f9)"/>
<rect x="255.5" y="252.75" width="7.7" height="1.25" fill="url(#g4_0)"/>
<rect x="255.5" y="252.75" width="3.8" height="1.25" fill="url(#f9)"/>
<rect x="255.5" y="254.00" width="8.7" height="1.25" fill="url(#g4_0)"/>
<rect x="255.5" y="254.00" width="3.2" height="1.25" fill="url(#f9)"/>
<rect x="255.5" y="255.25" width="8.5" height="1.25" fill="url(#g4_0)"/>
<rect x="255.5" y="255.25" width="3.4" height="1.25" fill="url(#f9)"/>
<rect x="255.5" y="256.50" width="9.1" height="1.25" fill="url(#g4_0)"/>
<rect x="255.5" y="256.50" width="3.3" height="1.25" fill="url(#f8)"/>
<rect x="255.5" y="257.75" width="7.3" height="1.25" fill="url(#g3_0)"/>
<rect x="255.5" y="257.75" width="3.6" height="1.25" fill="url(#f7)"/>
<rect x="255.5" y="259.00" width="6.9" height="1.25" fill="url(#g4_0)"/>
<rect x="255.5" y="259.00" width="3.1" height="1.25" fill="url(#f8)"/>
<rect x="255.5" y="260.25" width="2.9" height="1.25" fill="url(#f8)"/>
<rect x="255.5" y="261.50" width="3.4" height="1.25" fill="url(#f8)"/>
<rect x="255.5" y="262.75" width="7.7" height="1.25" fill="url(#g3_0)"/>
<rect x="255.5" y="262.75" width="3.1" height="1.25" fill="url(#f7)"/>
<rect x="255.5" y="264.00" width="2.9" height="1.25" fill="url(#f6)"/>
<rect x="255.5" y="265.25" width="6.7" height="1.25" fill="url(#g3_0)"/>
<rect x="255.5" y="265.25" width="3.1" height="1.25" fill="url(#f6)"/>
<rect x="255.5" y="266.50" width="7.1" height="1.25" fill="url(#g3_0)"/>
<rect x="255.5" y="266.50" width="3.0" height="1.25" fill="url(#f6)"/>
<rect x="255.5" y="267.75" width="2.5" height="1.25" fill="url(#f6)"/>
<rect x="255.5" y="269.00" width="6.4" height="1.25" fill="url(#g3_0)"/>
<rect x="255.5" y="269.00" width="2.8" height="1.25" fill="url(#f5)"/>
<rect x="255.5" y="270.25" width="2.5" height="1.25" fill="url(#f6)"/>
<rect x="255.5" y="271.50" width="2.7" height="1.25" fill="url(#f5)"/>
<rect x="320.0" y="219.00" width="40.0" height="1.25" fill="url(#g20_1)"/>
<rect x="320.0" y="219.00" width="8.7" height="1.25" fill="url(#f20)"/>
<rect x="320.0" y="220.25" width="40.0" height="1.25" fill="url(#g15_0)"/>
<rect x="320.0" y="220.25" width="8.8" height="1.25" fill="url(#f19)"/>
<rect x="320.0" y="221.50" width="39.6" height="1.25" fill="url(#g13_0)"/>
<rect x="320.0" y="221.50" width="8.8" height="1.25" fill="url(#f18)"/>
<rect x="320.0" y="222.75" width="40.0" height="1.25" fill="url(#g13_1)"/>
<rect x="320.0" y="222.75" width="10.5" height="1.25" fill="url(#f19)"/>
<rect x="320.0" y="224.00" width="34.7" height="1.25" fill="url(#g10_0)"/>
<rect x="320.0" y="224.00" width="9.7" height="1.25" fill="url(#f19)"/>
<rect x="320.0" y="225.25" width="33.1" height="1.25" fill="url(#g9_0)"/>
<rect x="320.0" y="225.25" width="9.4" height="1.25" fill="url(#f17)"/>
<rect x="320.0" y="226.50" width="25.5" height="1.25" fill="url(#g10_0)"/>
<rect x="320.0" y="226.50" width="11.0" height="1.25" fill="url(#f19)"/>
<rect x="320.0" y="227.75" width="22.3" height="1.25" fill="url(#g8_0)"/>
<rect x="320.0" y="227.75" width="8.4" height="1.25" fill="url(#f17)"/>
<rect x="320.0" y="229.00" width="7.8" height="1.25" fill="url(#f17)"/>
<rect x="320.0" y="230.25" width="23.7" height="1.25" fill="url(#g8_0)"/>
<rect x="320.0" y="230.25" width="10.0" height="1.25" fill="url(#f17)"/>
<rect x="320.0" y="231.50" width="22.6" height="1.25" fill="url(#g8_0)"/>
<rect x="320.0" y="231.50" width="8.7" height="1.25" fill="url(#f17)"/>
<rect x="320.0" y="232.75" width="8.9" height="1.25" fill="url(#f18)"/>
<rect x="320.0" y="234.00" width="13.0" height="1.25" fill="url(#g8_0)"/>
<rect x="320.0" y="234.00" width="10.2" height="1.25" fill="url(#f18)"/>
<rect x="320.0" y="235.25" width="17.5" height="1.25" fill="url(#g9_0)"/>
<rect x="320.0" y="235.25" width="8.8" height="1.25" fill="url(#f17)"/>
<rect x="320.0" y="236.50" width="7.4" height="1.25" fill="url(#f17)"/>
<rect x="320.0" y="237.75" width="9.3" height="1.25" fill="url(#f16)"/>
<rect x="320.0" y="239.00" width="8.4" height="1.25" fill="url(#f18)"/>
<rect x="320.0" y="240.25" width="15.8" height="1.25" fill="url(#g7_0)"/>
<rect x="320.0" y="240.25" width="7.0" height="1.25" fill="url(#f15)"/>
<rect x="320.0" y="241.50" width="16.9" height="1.25" fill="url(#g7_0)"/>
<rect x="320.0" y="241.50" width="7.4" height="1.25" fill="url(#f16)"/>
<rect x="320.0" y="242.75" width="14.7" height="1.25" fill="url(#g7_0)"/>
<rect x="320.0" y="242.75" width="7.6" height="1.25" fill="url(#f15)"/>
<rect x="320.0" y="244.00" width="11.1" height="1.25" fill="url(#g7_0)"/>
<rect x="320.0" y="244.00" width="6.7" height="1.25" fill="url(#f15)"/>
<rect x="320.0" y="245.25" width="8.0" height="1.25" fill="url(#f16)"/>
<rect x="320.0" y="246.50" width="10.9" height="1.25" fill="url(#g6_0)"/>
<rect x="320.0" y="246.50" width="6.9" height="1.25" fill="url(#f15)"/>
<rect x="320.0" y="247.75" width="12.3" height="1.25" fill="url(#g7_0)"/>
<rect x="320.0" y="247.75" width="8.3" height="1.25" fill="url(#f16)"/>
<rect x="320.0" y="249.00" width="7.4" height="1.25" fill="url(#f14)"/>
<rect x="320.0" y="250.25" width="7.3" height="1.25" fill="url(#f14)"/>
<rect x="320.0" y="251.50" width="12.1" height="1.25" fill="url(#g5_0)"/>
<rect x="320.0" y="251.50" width="6.9" height="1.25" fill="url(#f14)"/>
<rect x="320.0" y="252.75" width="12.1" height="1.25" fill="url(#g5_0)"/>
<rect x="320.0" y="252.75" width="6.4" height="1.25" fill="url(#f13)"/>
<rect x="320.0" y="254.00" width="12.1" height="1.25" fill="url(#g6_0)"/>
<rect x="320.0" y="254.00" width="7.3" height="1.25" fill="url(#f14)"/>
<rect x="320.0" y="255.25" width="5.6" height="1.25" fill="url(#f12)"/>
<rect x="320.0" y="256.50" width="11.1" height="1.25" fill="url(#g7_0)"/>
<rect x="320.0" y="256.50" width="6.3" height="1.25" fill="url(#f14)"/>
<rect x="320.0" y="257.75" width="8.6" height="1.25" fill="url(#g6_0)"/>
<rect x="320.0" y="257.75" width="6.8" height="1.25" fill="url(#f14)"/>
<rect x="320.0" y="259.00" width="11.1" height="1.25" fill="url(#g6_0)"/>
<rect x="320.0" y="259.00" width="5.2" height="1.25" fill="url(#f13)"/>
<rect x="320.0" y="260.25" width="6.0" height="1.25" fill="url(#f13)"/>
<rect x="320.0" y="261.50" width="9.8" height="1.25" fill="url(#g5_0)"/>
<rect x="320.0" y="261.50" width="4.9" height="1.25" fill="url(#f12)"/>
<rect x="320.0" y="262.75" width="10.1" height="1.25" fill="url(#g6_0)"/>
<rect x="320.0" y="262.75" width="5.6" height="1.25" fill="url(#f12)"/>
<rect x="320.0" y="264.00" width="5.2" height="1.25" fill="url(#f12)"/>
<rect x="320.0" y="265.25" width="4.7" height="1.25" fill="url(#f12)"/>
<rect x="320.0" y="266.50" width="8.4" height="1.25" fill="url(#g5_0)"/>
<rect x="320.0" y="266.50" width="4.6" height="1.25" fill="url(#f10)"/>
<rect x="320.0" y="267.75" width="4.9" height="1.25" fill="url(#f10)"/>
<rect x="320.0" y="269.00" width="5.1" height="1.25" fill="url(#f10)"/>
<rect x="320.0" y="270.25" width="4.6" height="1.25" fill="url(#f10)"/>
<rect x="320.0" y="271.50" width="4.6" height="1.25" fill="url(#f9)"/>
<rect x="320.0" y="272.75" width="3.9" height="1.25" fill="url(#f10)"/>
<rect x="320.0" y="274.00" width="6.9" height="1.25" fill="url(#g4_0)"/>
<rect x="320.0" y="274.00" width="3.9" height="1.25" fill="url(#f9)"/>
<rect x="320.0" y="275.25" width="3.6" height="1.25" fill="url(#f8)"/>
<rect x="320.0" y="276.50" width="3.9" height="1.25" fill="url(#f9)"/>
<rect x="363" y="44" width="321" height="55" fill="#04030e"/>
<path fill="#120d32" d="M644.0 44.00h4.4v1.25h-4.4zM366.0 44.00h1.1v1.25h-1.1zM442.4 55.25h7.6v1.25h-7.6zM585.0 67.75h1.6v1.25h-1.6zM366.7 86.50h1.2v1.25h-1.2zM602.8 90.25h3.0v1.25h-3.0zM613.2 91.50h2.3v1.25h-2.3zM481.5 92.75h8.4v1.25h-8.4z"/>
<path fill="#6a4a3a" d="M378.9 44.00h2.3v1.25h-2.3zM582.1 47.75h2.2v1.25h-2.2zM579.8 57.75h1.8v1.25h-1.8zM667.9 60.25h1.6v1.25h-1.6zM672.7 64.00h5.5v1.25h-5.5zM398.4 70.25h4.9v1.25h-4.9z"/>
<path fill="#1f0e47" d="M371.5 44.00h5.6v1.25h-5.6zM617.9 49.00h3.4v1.25h-3.4zM680.7 67.75h3.3v1.25h-3.3zM452.5 67.75h2.1v1.25h-2.1zM527.1 70.25h5.9v1.25h-5.9zM401.0 84.00h1.7v1.25h-1.7z"/>
<path fill="#390f6d" d="M481.8 44.00h1.3v1.25h-1.3zM547.8 64.00h11.8v1.25h-11.8zM586.0 70.25h22.9v1.25h-22.9zM366.8 79.00h9.2v1.25h-9.2zM456.4 84.00h1.8v1.25h-1.8zM384.0 89.00h7.5v1.25h-7.5z"/>
<path fill="#0f0a29" d="M493.2 44.00h9.0v1.25h-9.0zM493.5 59.00h3.0v1.25h-3.0zM417.0 61.50h2.5v1.25h-2.5zM548.0 61.50h1.7v1.25h-1.7zM524.7 69.00h2.6v1.25h-2.6zM515.2 72.75h1.2v1.25h-1.2zM619.7 92.75h1.4v1.25h-1.4zM424.6 97.75h1.3v1.25h-1.3z"/>
<path fill="#2e0f5d" d="M500.5 45.25h34.7v1.25h-34.7zM444.5 46.50h1.7v1.25h-1.7zM475.3 59.00h4.0v1.25h-4.0zM433.9 72.75h1.0v1.25h-1.0zM477.2 72.75h1.2v1.25h-1.2zM582.4 77.75h1.3v1.25h-1.3zM593.7 84.00h1.1v1.25h-1.1zM559.5 47.75h3.4v1.25h-3.4z"/>
<path fill="#8a6040" d="M459.7 45.25h3.3v1.25h-3.3zM601.7 64.00h1.6v1.25h-1.6zM514.5 70.25h1.1v1.25h-1.1zM680.9 74.00h1.6v1.25h-1.6zM650.8 84.00h8.8v1.25h-8.8zM423.0 87.75h3.6v1.25h-3.6zM609.1 89.00h2.9v1.25h-2.9zM412.1 91.50h10.6v1.25h-10.6z"/>
<path fill="#150e37" d="M647.7 45.25h1.7v1.25h-1.7zM469.7 77.75h2.8v1.25h-2.8zM392.0 96.50h2.3v1.25h-2.3zM460.8 61.50h2.3v1.25h-2.3z"/>
<path fill="#360f69" d="M468.5 45.25h3.0v1.25h-3.0zM588.7 45.25h4.0v1.25h-4.0zM540.6 80.25h4.7v1.25h-4.7zM528.3 91.50h1.3v1.25h-1.3z"/>
<path fill="#2c0f5a" d="M678.5 45.25h1.1v1.25h-1.1zM496.1 60.25h7.3v1.25h-7.3zM588.7 67.75h2.7v1.25h-2.7zM619.4 84.00h2.3v1.25h-2.3zM673.9 54.00h3.0v1.25h-3.0z"/>
<path fill="#5e5a40" d="M515.0 45.25h3.5v1.25h-3.5zM414.9 45.25h5.6v1.25h-5.6zM583.9 46.50h1.1v1.25h-1.1zM381.4 50.25h3.7v1.25h-3.7zM646.0 52.75h2.8v1.25h-2.8zM528.4 54.00h8.2v1.25h-8.2zM674.9 64.00h1.6v1.25h-1.6zM433.7 65.25h3.7v1.25h-3.7zM469.3 67.75h1.1v1.25h-1.1zM383.3 79.00h1.6v1.25h-1.6zM386.9 79.00h4.1v1.25h-4.1zM518.2 80.25h1.4v1.25h-1.4zM552.6 97.75h3.5v1.25h-3.5z"/>
<path fill="#2c0f59" d="M446.5 45.25h4.3v1.25h-4.3zM588.2 74.00h1.9v1.25h-1.9zM611.9 91.50h1.1v1.25h-1.1zM646.4 95.25h3.1v1.25h-3.1zM496.9 95.25h1.3v1.25h-1.3zM379.5 96.50h3.9v1.25h-3.9z"/>
<path fill="#310f61" d="M607.8 45.25h3.4v1.25h-3.4zM394.2 46.50h1.8v1.25h-1.8zM417.6 66.50h2.1v1.25h-2.1zM615.2 67.75h1.3v1.25h-1.3zM669.8 69.00h2.8v1.25h-2.8zM413.3 72.75h11.4v1.25h-11.4zM551.4 80.25h8.8v1.25h-8.8zM551.2 84.00h1.2v1.25h-1.2zM465.2 96.50h2.9v1.25h-2.9zM656.0 47.75h2.7v1.25h-2.7zM639.7 61.50h3.5v1.25h-3.5z"/>
<path fill="#1d0e43" d="M502.7 45.25h6.4v1.25h-6.4zM515.8 46.50h2.2v1.25h-2.2zM398.2 79.00h31.7v1.25h-31.7zM466.7 82.75h1.4v1.25h-1.4zM542.1 87.75h6.7v1.25h-6.7zM404.3 61.50h3.8v1.25h-3.8zM527.4 61.50h4.0v1.25h-4.0zM554.5 61.50h3.9v1.25h-3.9z"/>
<path fill="#6b5a3a" d="M668.9 45.25h1.9v1.25h-1.9zM502.7 62.75h1.5v1.25h-1.5zM599.9 64.00h3.5v1.25h-3.5zM466.9 72.75h1.0v1.25h-1.0zM468.3 92.75h1.9v1.25h-1.9zM504.4 92.75h1.8v1.25h-1.8zM369.7 92.75h1.8v1.25h-1.8zM515.2 94.00h3.2v1.25h-3.2zM510.4 97.75h1.4v1.25h-1.4z"/>
<path fill="#0d0925" d="M385.6 45.25h2.2v1.25h-2.2zM450.5 51.50h1.1v1.25h-1.1zM396.2 52.75h8.7v1.25h-8.7zM440.0 57.75h11.0v1.25h-11.0zM367.2 77.75h8.9v1.25h-8.9zM404.9 95.25h5.7v1.25h-5.7z"/>
<path fill="#0f0b2a" d="M509.1 45.25h4.5v1.25h-4.5zM404.0 59.00h1.9v1.25h-1.9zM521.5 70.25h6.0v1.25h-6.0zM417.1 80.25h2.7v1.25h-2.7zM668.5 85.25h3.3v1.25h-3.3zM615.7 87.75h2.7v1.25h-2.7z"/>
<path fill="#972d7f" d="M411.9 45.25h1.9v1.25h-1.9z"/>
<path fill="#3a0f6e" d="M502.3 46.50h2.8v1.25h-2.8zM457.5 57.75h1.3v1.25h-1.3zM647.3 67.75h1.6v1.25h-1.6zM610.9 67.75h6.2v1.25h-6.2zM537.4 84.00h1.1v1.25h-1.1zM396.7 89.00h3.4v1.25h-3.4zM592.5 90.25h8.7v1.25h-8.7zM598.3 92.75h1.9v1.25h-1.9z"/>
<path fill="#290f56" d="M421.9 46.50h4.1v1.25h-4.1zM536.2 62.75h1.3v1.25h-1.3zM414.0 94.00h2.4v1.25h-2.4zM435.0 54.00h4.6v1.25h-4.6zM633.4 61.50h4.1v1.25h-4.1z"/>
<path fill="#190e3d" d="M619.2 46.50h3.3v1.25h-3.3zM494.4 46.50h48.2v1.25h-48.2zM595.4 46.50h1.2v1.25h-1.2zM424.4 49.00h1.4v1.25h-1.4zM481.9 67.75h3.6v1.25h-3.6zM476.7 70.25h1.7v1.25h-1.7zM503.2 75.25h1.2v1.25h-1.2zM391.1 75.25h4.7v1.25h-4.7zM550.3 82.75h9.1v1.25h-9.1zM597.1 91.50h2.2v1.25h-2.2zM542.1 95.25h4.4v1.25h-4.4z"/>
<path fill="#0e0a27" d="M396.9 46.50h2.1v1.25h-2.1zM663.6 47.75h3.5v1.25h-3.5zM535.8 56.50h1.0v1.25h-1.0zM385.7 61.50h4.0v1.25h-4.0zM368.1 66.50h5.5v1.25h-5.5zM547.0 74.00h1.5v1.25h-1.5zM653.3 79.00h3.1v1.25h-3.1zM504.1 80.25h1.3v1.25h-1.3zM520.6 80.25h1.4v1.25h-1.4zM366.4 81.50h1.2v1.25h-1.2zM386.6 85.25h2.4v1.25h-2.4zM394.7 86.50h2.1v1.25h-2.1zM455.5 91.50h1.6v1.25h-1.6z"/>
<path fill="#290f55" d="M392.0 46.50h3.8v1.25h-3.8zM382.2 55.25h4.3v1.25h-4.3zM450.4 61.50h2.8v1.25h-2.8zM484.3 66.50h7.9v1.25h-7.9zM533.0 72.75h2.7v1.25h-2.7zM500.7 74.00h2.0v1.25h-2.0zM398.7 75.25h1.4v1.25h-1.4zM434.1 79.00h2.6v1.25h-2.6zM654.2 81.50h1.2v1.25h-1.2zM412.6 47.75h4.1v1.25h-4.1zM392.9 54.00h3.0v1.25h-3.0zM505.1 54.00h2.9v1.25h-2.9zM419.3 61.50h3.6v1.25h-3.6zM609.8 61.50h1.7v1.25h-1.7z"/>
<path fill="#2f0f5f" d="M493.1 46.50h22.7v1.25h-22.7zM483.2 70.25h1.7v1.25h-1.7zM666.9 87.75h2.9v1.25h-2.9zM563.6 61.50h2.1v1.25h-2.1z"/>
<path fill="#190e3e" d="M612.4 46.50h2.9v1.25h-2.9zM450.0 47.75h1.7v1.25h-1.7zM493.6 50.25h4.5v1.25h-4.5zM660.2 62.75h5.0v1.25h-5.0zM378.8 70.25h4.4v1.25h-4.4zM534.5 72.75h1.4v1.25h-1.4zM509.0 87.75h1.2v1.25h-1.2zM673.5 95.25h7.0v1.25h-7.0zM529.9 95.25h3.6v1.25h-3.6z"/>
<path fill="#140e36" d="M452.7 46.50h4.4v1.25h-4.4zM446.6 49.00h2.0v1.25h-2.0zM479.7 55.25h37.9v1.25h-37.9zM366.0 67.75h1.6v1.25h-1.6zM368.2 82.75h5.7v1.25h-5.7zM404.7 86.50h1.3v1.25h-1.3zM382.2 90.25h2.1v1.25h-2.1zM448.2 95.25h2.9v1.25h-2.9z"/>
<path fill="#320f63" d="M500.5 46.50h12.7v1.25h-12.7zM473.4 76.50h1.8v1.25h-1.8zM373.1 77.75h1.0v1.25h-1.0zM447.8 80.25h4.5v1.25h-4.5zM518.1 61.50h4.3v1.25h-4.3zM612.1 61.50h4.5v1.25h-4.5z"/>
<path fill="#370f6a" d="M482.6 46.50h1.3v1.25h-1.3zM617.3 61.50h2.5v1.25h-2.5zM474.7 74.00h34.5v1.25h-34.5zM477.5 80.25h1.8v1.25h-1.8zM680.3 84.00h3.7v1.25h-3.7zM367.1 87.75h2.7v1.25h-2.7zM599.5 97.75h1.8v1.25h-1.8zM499.5 97.75h11.3v1.25h-11.3zM511.5 54.00h2.0v1.25h-2.0z"/>
<path fill="#1e0e45" d="M460.9 46.50h2.8v1.25h-2.8zM480.8 62.75h1.3v1.25h-1.3zM552.1 65.25h3.7v1.25h-3.7zM617.7 72.75h1.6v1.25h-1.6zM456.1 72.75h1.3v1.25h-1.3zM668.5 87.75h3.8v1.25h-3.8zM580.0 92.75h1.2v1.25h-1.2zM620.2 61.50h2.9v1.25h-2.9z"/>
<path fill="#100b2c" d="M651.1 46.50h7.5v1.25h-7.5zM610.2 49.00h4.0v1.25h-4.0zM430.1 54.00h2.3v1.25h-2.3zM426.3 62.75h32.0v1.25h-32.0zM435.3 65.25h3.1v1.25h-3.1zM484.4 66.50h1.3v1.25h-1.3zM589.0 72.75h6.7v1.25h-6.7zM651.2 72.75h4.9v1.25h-4.9zM651.8 75.25h1.7v1.25h-1.7zM376.5 87.75h1.5v1.25h-1.5z"/>
<path fill="#120c30" d="M430.9 46.50h4.5v1.25h-4.5zM378.5 65.25h4.2v1.25h-4.2zM382.6 90.25h2.2v1.25h-2.2z"/>
<path fill="#180e3b" d="M548.5 47.75h2.5v1.25h-2.5zM414.0 95.25h2.3v1.25h-2.3z"/>
<path fill="#1c0e41" d="M417.6 47.75h8.0v1.25h-8.0zM531.4 66.50h2.0v1.25h-2.0z"/>
<path fill="#230e4d" d="M463.3 47.75h2.7v1.25h-2.7zM432.0 82.75h12.0v1.25h-12.0z"/>
<path fill="#350f67" d="M380.1 47.75h1.4v1.25h-1.4zM553.2 49.00h1.6v1.25h-1.6zM654.0 61.50h2.2v1.25h-2.2zM439.9 66.50h1.4v1.25h-1.4zM433.3 96.50h1.7v1.25h-1.7z"/>
<path fill="#7a6a48" d="M611.1 47.75h2.5v1.25h-2.5zM481.4 59.00h1.2v1.25h-1.2zM509.8 61.50h11.2v1.25h-11.2zM533.2 62.75h3.8v1.25h-3.8zM517.0 65.25h1.4v1.25h-1.4zM646.5 67.75h2.6v1.25h-2.6zM667.1 69.00h1.7v1.25h-1.7zM447.8 72.75h2.4v1.25h-2.4zM450.8 72.75h7.7v1.25h-7.7zM666.1 85.25h2.4v1.25h-2.4zM448.2 91.50h2.3v1.25h-2.3z"/>
<path fill="#160e39" d="M466.3 47.75h2.4v1.25h-2.4zM667.8 50.25h1.3v1.25h-1.3zM615.5 59.00h2.3v1.25h-2.3zM377.4 60.25h1.3v1.25h-1.3zM436.5 61.50h2.2v1.25h-2.2zM609.8 71.50h2.5v1.25h-2.5zM488.5 80.25h8.3v1.25h-8.3zM667.9 84.00h2.2v1.25h-2.2zM659.8 85.25h1.5v1.25h-1.5zM568.5 61.50h1.9v1.25h-1.9zM676.0 61.50h2.1v1.25h-2.1z"/>
<path fill="#130e35" d="M491.2 47.75h4.2v1.25h-4.2z"/>
<path fill="#2e0f5c" d="M413.7 47.75h4.6v1.25h-4.6zM443.4 47.75h4.7v1.25h-4.7z"/>
<path fill="#54167a" d="M590.3 47.75h5.2v1.25h-5.2zM651.7 49.00h12.0v1.25h-12.0zM465.5 54.00h3.7v1.25h-3.7z"/>
<path fill="#270e52" d="M464.4 47.75h1.0v1.25h-1.0zM521.7 47.75h3.1v1.25h-3.1zM546.0 47.75h4.5v1.25h-4.5zM585.7 64.00h36.3v1.25h-36.3zM653.7 96.50h1.1v1.25h-1.1zM397.7 61.50h3.2v1.25h-3.2z"/>
<path fill="#0e0a28" d="M514.9 47.75h2.1v1.25h-2.1zM498.2 51.50h10.2v1.25h-10.2zM416.8 97.75h1.6v1.25h-1.6z"/>
<path fill="#270e53" d="M669.4 49.00h1.9v1.25h-1.9zM439.8 62.75h1.3v1.25h-1.3zM534.7 65.25h2.6v1.25h-2.6zM677.1 66.50h4.7v1.25h-4.7zM670.1 67.75h2.4v1.25h-2.4zM521.8 95.25h1.6v1.25h-1.6zM411.2 61.50h2.0v1.25h-2.0z"/>
<path fill="#170e3b" d="M646.7 49.00h4.6v1.25h-4.6zM666.3 49.00h1.4v1.25h-1.4zM409.3 59.00h4.6v1.25h-4.6zM516.9 67.75h1.2v1.25h-1.2zM615.9 85.25h1.3v1.25h-1.3zM669.6 92.75h4.3v1.25h-4.3zM458.7 96.50h2.3v1.25h-2.3z"/>
<path fill="#2f0f5e" d="M671.8 49.00h4.3v1.25h-4.3zM604.6 56.50h2.3v1.25h-2.3zM431.8 67.75h3.1v1.25h-3.1zM429.9 67.75h5.0v1.25h-5.0zM519.9 96.50h2.1v1.25h-2.1zM546.9 47.75h3.5v1.25h-3.5zM573.8 61.50h3.0v1.25h-3.0z"/>
<path fill="#180e3d" d="M498.9 49.00h1.2v1.25h-1.2z"/>
<path fill="#110c2f" d="M376.5 49.00h2.4v1.25h-2.4zM545.2 55.25h2.0v1.25h-2.0zM472.4 64.00h2.0v1.25h-2.0zM420.2 84.00h28.2v1.25h-28.2zM405.6 85.25h15.0v1.25h-15.0zM421.9 95.25h1.0v1.25h-1.0zM490.8 96.50h1.6v1.25h-1.6zM495.1 97.75h14.5v1.25h-14.5zM366.0 61.50h2.5v1.25h-2.5zM539.7 61.50h4.7v1.25h-4.7z"/>
<path fill="#130d32" d="M653.1 49.00h1.7v1.25h-1.7zM585.0 55.25h5.0v1.25h-5.0zM364.9 67.75h2.3v1.25h-2.3zM427.6 75.25h1.5v1.25h-1.5z"/>
<path fill="#330f65" d="M529.5 50.25h1.4v1.25h-1.4z"/>
<path fill="#210e4a" d="M376.1 50.25h1.8v1.25h-1.8zM580.7 60.25h2.5v1.25h-2.5zM487.5 82.75h3.7v1.25h-3.7z"/>
<path fill="#100b2b" d="M615.7 50.25h1.3v1.25h-1.3zM550.2 54.00h2.7v1.25h-2.7zM528.8 64.00h1.5v1.25h-1.5zM612.7 65.25h41.6v1.25h-41.6zM429.0 72.75h2.0v1.25h-2.0zM528.6 74.00h1.8v1.25h-1.8zM490.5 82.75h2.6v1.25h-2.6zM401.8 89.00h1.7v1.25h-1.7z"/>
<path fill="#1a0e3f" d="M606.2 50.25h2.6v1.25h-2.6zM497.0 54.00h2.4v1.25h-2.4zM364.7 67.75h1.4v1.25h-1.4zM516.9 91.50h5.6v1.25h-5.6zM548.8 96.50h2.8v1.25h-2.8zM600.0 61.50h2.0v1.25h-2.0z"/>
<path fill="#220e4b" d="M472.3 50.25h9.5v1.25h-9.5zM530.3 80.25h9.6v1.25h-9.6zM484.2 84.00h5.1v1.25h-5.1zM605.3 87.75h7.4v1.25h-7.4zM670.5 61.50h2.4v1.25h-2.4z"/>
<path fill="#250e50" d="M400.3 50.25h5.7v1.25h-5.7zM468.1 55.25h8.2v1.25h-8.2z"/>
<path fill="#0d0924" d="M513.0 50.25h5.2v1.25h-5.2zM493.5 55.25h3.4v1.25h-3.4zM456.9 59.00h3.2v1.25h-3.2zM591.2 61.50h5.2v1.25h-5.2zM680.6 61.50h2.9v1.25h-2.9zM381.4 64.00h35.0v1.25h-35.0zM390.9 66.50h1.6v1.25h-1.6zM669.1 75.25h6.2v1.25h-6.2zM484.2 94.00h2.1v1.25h-2.1zM539.1 97.75h1.3v1.25h-1.3z"/>
<path fill="#250e4f" d="M594.4 51.50h41.0v1.25h-41.0zM646.5 55.25h7.7v1.25h-7.7zM390.3 69.00h2.3v1.25h-2.3zM616.5 85.25h5.0v1.25h-5.0zM428.7 89.00h1.7v1.25h-1.7zM488.0 92.75h4.9v1.25h-4.9z"/>
<path fill="#350f68" d="M679.4 51.50h4.4v1.25h-4.4z"/>
<path fill="#0c0822" d="M548.4 51.50h1.4v1.25h-1.4zM384.5 64.00h10.5v1.25h-10.5zM520.0 95.25h3.6v1.25h-3.6z"/>
<path fill="#300f60" d="M519.8 52.75h2.7v1.25h-2.7zM377.9 69.00h2.0v1.25h-2.0zM599.1 82.75h3.0v1.25h-3.0z"/>
<path fill="#280f53" d="M496.5 52.75h1.8v1.25h-1.8zM594.1 61.50h4.0v1.25h-4.0z"/>
<path fill="#340f65" d="M378.0 54.00h1.5v1.25h-1.5zM486.7 72.75h2.4v1.25h-2.4zM409.3 75.25h3.0v1.25h-3.0z"/>
<path fill="#120c31" d="M510.5 54.00h2.6v1.25h-2.6zM456.5 75.25h3.1v1.25h-3.1zM417.8 82.75h2.0v1.25h-2.0z"/>
<path fill="#2d0f5c" d="M650.7 54.00h4.3v1.25h-4.3zM586.5 82.75h3.2v1.25h-3.2z"/>
<path fill="#822581" d="M481.1 54.00h9.9v1.25h-9.9zM465.6 61.50h3.5v1.25h-3.5z"/>
<path fill="#130d33" d="M466.0 55.25h1.2v1.25h-1.2zM430.3 56.50h5.3v1.25h-5.3zM543.0 66.50h3.3v1.25h-3.3zM372.3 70.25h6.0v1.25h-6.0zM649.9 81.50h4.2v1.25h-4.2zM644.9 91.50h2.5v1.25h-2.5zM647.2 61.50h3.5v1.25h-3.5z"/>
<path fill="#1d0e44" d="M399.4 55.25h3.3v1.25h-3.3zM433.3 85.25h1.9v1.25h-1.9zM521.8 95.25h2.8v1.25h-2.8zM372.0 96.50h1.4v1.25h-1.4z"/>
<path fill="#360f68" d="M541.2 55.25h1.5v1.25h-1.5z"/>
<path fill="#1c0e42" d="M450.7 56.50h4.8v1.25h-4.8zM436.2 62.75h1.3v1.25h-1.3zM582.5 64.00h18.9v1.25h-18.9zM385.9 72.75h2.2v1.25h-2.2zM546.9 75.25h1.7v1.25h-1.7zM673.3 75.25h6.2v1.25h-6.2z"/>
<path fill="#170e3a" d="M415.6 56.50h1.5v1.25h-1.5zM509.5 56.50h2.9v1.25h-2.9zM607.5 85.25h29.1v1.25h-29.1z"/>
<path fill="#210e49" d="M498.3 56.50h7.4v1.25h-7.4zM367.3 64.00h1.2v1.25h-1.2zM539.5 75.25h2.0v1.25h-2.0z"/>
<path fill="#180e3c" d="M484.3 56.50h1.8v1.25h-1.8zM444.4 57.75h5.7v1.25h-5.7zM386.7 87.75h1.8v1.25h-1.8zM496.6 87.75h3.0v1.25h-3.0zM366.0 90.25h1.3v1.25h-1.3z"/>
<path fill="#2b0f57" d="M452.1 56.50h2.1v1.25h-2.1z"/>
<path fill="#240e4e" d="M415.2 57.75h1.7v1.25h-1.7zM526.5 59.00h1.4v1.25h-1.4zM514.3 77.75h1.6v1.25h-1.6zM456.0 92.75h1.2v1.25h-1.2zM482.4 95.25h1.1v1.25h-1.1zM659.3 61.50h4.0v1.25h-4.0z"/>
<path fill="#140e35" d="M484.4 57.75h3.1v1.25h-3.1zM649.4 59.00h4.4v1.25h-4.4zM520.0 90.25h17.6v1.25h-17.6z"/>
<path fill="#230e4c" d="M415.4 59.00h2.3v1.25h-2.3zM425.0 59.00h43.6v1.25h-43.6zM505.3 60.25h1.2v1.25h-1.2zM668.5 80.25h2.6v1.25h-2.6z"/>
<path fill="#370f6b" d="M491.4 59.00h5.0v1.25h-5.0zM446.9 61.50h3.1v1.25h-3.1zM421.0 71.50h3.2v1.25h-3.2zM371.5 85.25h2.2v1.25h-2.2z"/>
<path fill="#240e4d" d="M655.8 59.00h4.6v1.25h-4.6zM476.3 82.75h4.7v1.25h-4.7zM491.7 85.25h6.5v1.25h-6.5zM647.8 95.25h32.0v1.25h-32.0zM377.6 61.50h4.3v1.25h-4.3z"/>
<path fill="#1b0e40" d="M444.2 59.00h1.3v1.25h-1.3zM669.1 71.50h10.1v1.25h-10.1zM434.6 77.75h1.4v1.25h-1.4zM646.5 79.00h1.5v1.25h-1.5zM507.6 81.50h1.4v1.25h-1.4zM537.5 95.25h46.0v1.25h-46.0zM394.5 96.50h3.9v1.25h-3.9zM391.1 61.50h4.4v1.25h-4.4z"/>
<path fill="#350f66" d="M395.1 59.00h4.1v1.25h-4.1z"/>
<path fill="#200e48" d="M509.5 59.00h5.2v1.25h-5.2zM405.9 65.25h1.8v1.25h-1.8zM443.2 75.25h1.6v1.25h-1.6zM470.0 84.00h1.1v1.25h-1.1zM533.9 90.25h4.1v1.25h-4.1zM514.2 61.50h2.0v1.25h-2.0z"/>
<path fill="#150e38" d="M478.3 59.00h1.8v1.25h-1.8zM492.8 65.25h3.1v1.25h-3.1zM505.2 67.75h26.2v1.25h-26.2zM406.4 70.25h1.9v1.25h-1.9z"/>
<path fill="#340f66" d="M619.5 59.00h3.9v1.25h-3.9zM406.0 74.00h2.1v1.25h-2.1zM475.4 77.75h1.3v1.25h-1.3zM524.7 82.75h7.4v1.25h-7.4zM668.9 86.50h1.9v1.25h-1.9zM540.9 95.25h3.6v1.25h-3.6zM388.0 54.00h4.3v1.25h-4.3zM488.6 54.00h3.1v1.25h-3.1z"/>
<path fill="#100b2d" d="M610.7 59.00h1.4v1.25h-1.4zM613.2 91.50h1.4v1.25h-1.4z"/>
<path fill="#1f0e46" d="M611.9 59.00h3.9v1.25h-3.9zM587.3 85.25h4.2v1.25h-4.2zM657.3 87.75h1.0v1.25h-1.0zM416.9 91.50h9.6v1.25h-9.6zM453.3 96.50h3.2v1.25h-3.2zM442.1 61.50h4.8v1.25h-4.8zM494.1 61.50h3.7v1.25h-3.7z"/>
<path fill="#330f64" d="M365.3 60.25h6.7v1.25h-6.7zM421.3 77.75h4.5v1.25h-4.5z"/>
<path fill="#3b0f70" d="M470.4 60.25h4.1v1.25h-4.1zM608.6 69.00h2.6v1.25h-2.6zM391.3 71.50h4.7v1.25h-4.7zM654.8 79.00h2.0v1.25h-2.0zM366.5 87.75h2.1v1.25h-2.1zM533.8 47.75h2.6v1.25h-2.6z"/>
<path fill="#390f6c" d="M461.1 60.25h3.3v1.25h-3.3zM466.0 69.00h2.2v1.25h-2.2z"/>
<path fill="#1b0e41" d="M386.9 60.25h1.3v1.25h-1.3zM445.8 74.00h2.4v1.25h-2.4zM464.5 91.50h1.4v1.25h-1.4zM487.2 95.25h4.2v1.25h-4.2z"/>
<path fill="#130d34" d="M444.6 61.50h27.8v1.25h-27.8zM453.4 67.75h1.3v1.25h-1.3zM379.4 67.75h2.0v1.25h-2.0zM664.4 72.75h3.7v1.25h-3.7zM581.6 87.75h1.5v1.25h-1.5zM453.6 61.50h4.6v1.25h-4.6z"/>
<path fill="#0e0a26" d="M590.2 62.75h46.8v1.25h-46.8zM659.6 65.25h1.5v1.25h-1.5zM654.6 81.50h1.9v1.25h-1.9zM366.9 96.50h2.9v1.25h-2.9z"/>
<path fill="#1e0e44" d="M581.1 62.75h3.4v1.25h-3.4zM538.9 77.75h8.4v1.25h-8.4zM549.9 92.75h4.2v1.25h-4.2zM501.6 92.75h2.7v1.25h-2.7zM614.7 96.50h2.3v1.25h-2.3z"/>
<path fill="#2d0f5b" d="M540.1 64.00h2.0v1.25h-2.0zM427.2 64.00h6.8v1.25h-6.8zM466.4 95.25h1.8v1.25h-1.8zM505.5 96.50h1.4v1.25h-1.4zM588.0 61.50h3.7v1.25h-3.7z"/>
<path fill="#55167a" d="M427.7 64.00h2.1v1.25h-2.1zM650.9 47.75h4.3v1.25h-4.3z"/>
<path fill="#58177c" d="M447.9 64.00h7.3v1.25h-7.3z"/>
<path fill="#300f5f" d="M398.5 64.00h4.2v1.25h-4.2z"/>
<path fill="#2f0f5d" d="M401.3 64.00h41.5v1.25h-41.5z"/>
<path fill="#0c0922" d="M522.1 64.00h5.4v1.25h-5.4zM410.5 80.25h5.2v1.25h-5.2zM654.5 84.00h4.6v1.25h-4.6z"/>
<path fill="#2a0f56" d="M479.3 65.25h5.3v1.25h-5.3zM524.9 47.75h2.5v1.25h-2.5zM476.0 54.00h4.7v1.25h-4.7zM543.8 54.00h4.2v1.25h-4.2z"/>
<path fill="#220e4a" d="M529.8 66.50h5.8v1.25h-5.8z"/>
<path fill="#701f80" d="M531.6 67.75h2.2v1.25h-2.2z"/>
<path fill="#380f6c" d="M653.0 67.75h3.6v1.25h-3.6zM410.4 72.75h16.4v1.25h-16.4zM553.8 77.75h1.8v1.25h-1.8z"/>
<path fill="#280f54" d="M598.4 69.00h1.3v1.25h-1.3zM645.3 74.00h3.0v1.25h-3.0zM618.1 77.75h2.5v1.25h-2.5zM525.7 82.75h3.3v1.25h-3.3zM471.2 84.00h1.5v1.25h-1.5zM477.9 85.25h2.8v1.25h-2.8zM415.6 61.50h2.7v1.25h-2.7zM488.7 61.50h2.5v1.25h-2.5z"/>
<path fill="#130e34" d="M366.3 70.25h1.0v1.25h-1.0zM548.3 70.25h1.0v1.25h-1.0zM371.3 70.25h6.4v1.25h-6.4z"/>
<path fill="#3e1071" d="M425.2 70.25h2.4v1.25h-2.4z"/>
<path fill="#0d0926" d="M510.4 70.25h2.2v1.25h-2.2zM599.0 82.75h5.8v1.25h-5.8z"/>
<path fill="#0d0923" d="M488.0 70.25h2.0v1.25h-2.0zM534.0 91.50h1.9v1.25h-1.9z"/>
<path fill="#431173" d="M376.8 71.50h2.2v1.25h-2.2zM537.8 54.00h2.4v1.25h-2.4z"/>
<path fill="#3a0f6f" d="M613.0 72.75h3.2v1.25h-3.2zM526.8 81.50h2.4v1.25h-2.4zM517.1 82.75h2.3v1.25h-2.3zM407.6 97.75h5.5v1.25h-5.5zM677.5 54.00h4.6v1.25h-4.6z"/>
<path fill="#370f69" d="M444.3 72.75h1.9v1.25h-1.9zM662.6 91.50h1.4v1.25h-1.4z"/>
<path fill="#200e49" d="M661.1 72.75h6.8v1.25h-6.8zM405.2 97.75h1.1v1.25h-1.1z"/>
<path fill="#0c0923" d="M422.9 72.75h4.2v1.25h-4.2zM443.4 96.50h2.8v1.25h-2.8z"/>
<path fill="#681b80" d="M614.4 74.00h3.0v1.25h-3.0z"/>
<path fill="#661b80" d="M426.6 74.00h2.6v1.25h-2.6z"/>
<path fill="#7a2281" d="M660.3 74.00h1.4v1.25h-1.4z"/>
<path fill="#380f6b" d="M588.2 76.50h2.7v1.25h-2.7zM592.3 80.25h14.1v1.25h-14.1zM409.2 85.25h1.6v1.25h-1.6z"/>
<path fill="#942c80" d="M540.1 76.50h2.4v1.25h-2.4z"/>
<path fill="#832681" d="M554.8 76.50h3.0v1.25h-3.0z"/>
<path fill="#260e51" d="M542.7 76.50h16.0v1.25h-16.0z"/>
<path fill="#2b0f59" d="M586.1 77.75h1.5v1.25h-1.5zM540.9 81.50h3.6v1.25h-3.6z"/>
<path fill="#310f62" d="M456.9 77.75h3.9v1.25h-3.9zM642.6 47.75h3.3v1.25h-3.3zM501.5 61.50h2.8v1.25h-2.8z"/>
<path fill="#9f2f7d" d="M599.5 79.00h1.4v1.25h-1.4z"/>
<path fill="#8b2981" d="M525.5 79.00h32.5v1.25h-32.5z"/>
<path fill="#120d31" d="M381.0 79.00h1.5v1.25h-1.5zM383.6 80.25h1.7v1.25h-1.7zM501.4 87.75h1.2v1.25h-1.2zM471.2 61.50h1.7v1.25h-1.7z"/>
<path fill="#6e1e80" d="M369.7 80.25h5.1v1.25h-5.1z"/>
<path fill="#110c2e" d="M435.5 81.50h6.0v1.25h-6.0zM520.7 87.75h1.3v1.25h-1.3z"/>
<path fill="#2a0f57" d="M672.1 82.75h6.5v1.25h-6.5zM470.9 94.00h5.0v1.25h-5.0z"/>
<path fill="#4d1477" d="M648.9 82.75h3.5v1.25h-3.5zM614.6 87.75h2.0v1.25h-2.0z"/>
<path fill="#260e50" d="M552.4 82.75h3.3v1.25h-3.3z"/>
<path fill="#8f2a80" d="M441.5 84.00h3.9v1.25h-3.9zM376.6 85.25h3.6v1.25h-3.6z"/>
<path fill="#100c2d" d="M655.6 84.00h4.9v1.25h-4.9z"/>
<path fill="#2b0f58" d="M426.2 84.00h1.8v1.25h-1.8zM610.1 92.75h25.1v1.25h-25.1zM653.2 61.50h4.8v1.25h-4.8z"/>
<path fill="#1a0e3e" d="M402.9 85.25h2.8v1.25h-2.8z"/>
<path fill="#782180" d="M652.3 85.25h1.2v1.25h-1.2z"/>
<path fill="#731f80" d="M528.4 85.25h1.5v1.25h-1.5zM475.5 95.25h3.8v1.25h-3.8z"/>
<path fill="#5e187e" d="M587.7 86.50h1.9v1.25h-1.9zM669.9 54.00h1.9v1.25h-1.9z"/>
<path fill="#792281" d="M542.4 87.75h1.9v1.25h-1.9z"/>
<path fill="#681c80" d="M645.0 89.00h10.1v1.25h-10.1z"/>
<path fill="#802581" d="M450.6 90.25h1.4v1.25h-1.4z"/>
<path fill="#320f62" d="M591.9 92.75h5.5v1.25h-5.5zM546.5 61.50h4.1v1.25h-4.1z"/>
<path fill="#a0307d" d="M471.8 95.25h2.3v1.25h-2.3z"/>
<path fill="#992d7f" d="M405.6 95.25h1.1v1.25h-1.1z"/>
<path fill="#9a2e7e" d="M446.6 96.50h1.7v1.25h-1.7z"/>
<path fill="#7e2481" d="M582.9 97.75h4.3v1.25h-4.3z"/>
<path fill="#471275" d="M390.7 47.75h4.8v1.25h-4.8zM407.4 54.00h2.5v1.25h-2.5zM644.3 54.00h3.8v1.25h-3.8z"/>
<path fill="#631a80" d="M397.7 47.75h4.8v1.25h-4.8zM423.5 54.00h4.6v1.25h-4.6zM588.0 54.00h3.4v1.25h-3.4z"/>
<path fill="#521579" d="M418.0 47.75h3.8v1.25h-3.8z"/>
<path fill="#4a1376" d="M429.8 47.75h4.1v1.25h-4.1zM564.7 54.00h3.4v1.25h-3.4z"/>
<path fill="#3f1072" d="M476.1 47.75h3.9v1.25h-3.9zM662.2 47.75h2.0v1.25h-2.0zM549.8 54.00h4.4v1.25h-4.4z"/>
<path fill="#451274" d="M483.0 47.75h2.8v1.25h-2.8zM570.6 47.75h3.9v1.25h-3.9zM630.2 47.75h4.2v1.25h-4.2z"/>
<path fill="#58177b" d="M486.7 47.75h3.2v1.25h-3.2zM440.8 54.00h4.6v1.25h-4.6z"/>
<path fill="#511579" d="M491.2 47.75h4.8v1.25h-4.8z"/>
<path fill="#461274" d="M503.3 47.75h3.7v1.25h-3.7z"/>
<path fill="#3c0f71" d="M510.4 47.75h3.7v1.25h-3.7z"/>
<path fill="#491375" d="M517.6 47.75h1.7v1.25h-1.7z"/>
<path fill="#60197e" d="M521.3 47.75h1.5v1.25h-1.5z"/>
<path fill="#60197f" d="M538.7 47.75h4.1v1.25h-4.1z"/>
<path fill="#501578" d="M578.3 47.75h2.1v1.25h-2.1zM647.4 47.75h1.7v1.25h-1.7z"/>
<path fill="#5a177c" d="M592.2 47.75h3.6v1.25h-3.6zM598.8 47.75h3.0v1.25h-3.0z"/>
<path fill="#691c80" d="M621.7 47.75h4.8v1.25h-4.8z"/>
<path fill="#641a80" d="M637.0 47.75h4.3v1.25h-4.3z"/>
<path fill="#6a1c80" d="M675.4 47.75h4.9v1.25h-4.9z"/>
<path fill="#3f1071" d="M371.9 54.00h3.6v1.25h-3.6z"/>
<path fill="#56167a" d="M377.4 54.00h4.0v1.25h-4.0z"/>
<path fill="#651a80" d="M385.0 54.00h1.8v1.25h-1.8z"/>
<path fill="#411172" d="M402.0 54.00h2.4v1.25h-2.4z"/>
<path fill="#4c1376" d="M416.5 54.00h1.7v1.25h-1.7z"/>
<path fill="#3d1071" d="M419.5 54.00h2.9v1.25h-2.9zM525.9 54.00h2.3v1.25h-2.3z"/>
<path fill="#401072" d="M428.9 54.00h3.4v1.25h-3.4z"/>
<path fill="#3c0f70" d="M452.4 54.00h4.7v1.25h-4.7zM593.2 54.00h4.8v1.25h-4.8z"/>
<path fill="#5b177c" d="M460.0 54.00h4.7v1.25h-4.7z"/>
<path fill="#56167b" d="M470.8 54.00h2.2v1.25h-2.2z"/>
<path fill="#310f60" d="M515.4 54.00h3.1v1.25h-3.1z"/>
<path fill="#671b80" d="M521.4 54.00h3.7v1.25h-3.7z"/>
<path fill="#4c1477" d="M530.4 54.00h4.7v1.25h-4.7z"/>
<path fill="#5f197e" d="M561.4 54.00h1.9v1.25h-1.9z"/>
<path fill="#441274" d="M575.6 54.00h5.0v1.25h-5.0z"/>
<path fill="#531579" d="M582.3 54.00h4.5v1.25h-4.5z"/>
<path fill="#4e1477" d="M659.7 54.00h2.9v1.25h-2.9z"/>
<path fill="#200e47" d="M602.6 61.50h4.2v1.25h-4.2z"/>
<rect x="386.0" y="44.00" width="41.3" height="1.25" fill="url(#g12_5)"/>
<rect x="386.0" y="44.00" width="12.3" height="1.25" fill="url(#f15)"/>
<rect x="386.0" y="45.25" width="41.3" height="1.25" fill="url(#g8_4)"/>
<rect x="386.0" y="45.25" width="10.4" height="1.25" fill="url(#f15)"/>
<rect x="386.0" y="46.50" width="41.3" height="1.25" fill="url(#g8_3)"/>
<rect x="386.0" y="46.50" width="12.0" height="1.25" fill="url(#f18)"/>
<rect x="386.0" y="47.75" width="41.3" height="1.25" fill="url(#g7_1)"/>
<rect x="386.0" y="47.75" width="10.6" height="1.25" fill="url(#f17)"/>
<rect x="386.0" y="49.00" width="10.5" height="1.25" fill="url(#f14)"/>
<rect x="386.0" y="50.25" width="41.3" height="1.25" fill="url(#g6_1)"/>
<rect x="386.0" y="50.25" width="9.6" height="1.25" fill="url(#f14)"/>
<rect x="386.0" y="51.50" width="10.1" height="1.25" fill="url(#f14)"/>
<rect x="386.0" y="52.75" width="39.6" height="1.25" fill="url(#g5_0)"/>
<rect x="386.0" y="52.75" width="8.9" height="1.25" fill="url(#f13)"/>
<rect x="386.0" y="54.00" width="8.0" height="1.25" fill="url(#f12)"/>
<rect x="386.0" y="55.25" width="41.3" height="1.25" fill="url(#g5_1)"/>
<rect x="386.0" y="55.25" width="9.3" height="1.25" fill="url(#f12)"/>
<rect x="386.0" y="56.50" width="7.5" height="1.25" fill="url(#f12)"/>
<rect x="386.0" y="57.75" width="41.3" height="1.25" fill="url(#g6_1)"/>
<rect x="386.0" y="57.75" width="7.6" height="1.25" fill="url(#f13)"/>
<rect x="386.0" y="59.00" width="6.3" height="1.25" fill="url(#f13)"/>
<rect x="386.0" y="60.25" width="6.5" height="1.25" fill="url(#f12)"/>
<rect x="386.0" y="61.50" width="31.1" height="1.25" fill="url(#g6_0)"/>
<rect x="386.0" y="61.50" width="6.9" height="1.25" fill="url(#f12)"/>
<rect x="386.0" y="64.00" width="5.6" height="1.25" fill="url(#f11)"/>
<rect x="386.0" y="65.25" width="5.8" height="1.25" fill="url(#f11)"/>
<rect x="386.0" y="66.50" width="25.3" height="1.25" fill="url(#g4_0)"/>
<rect x="386.0" y="66.50" width="4.7" height="1.25" fill="url(#f9)"/>
<rect x="386.0" y="67.75" width="5.1" height="1.25" fill="url(#f8)"/>
<rect x="386.0" y="69.00" width="22.6" height="1.25" fill="url(#g4_0)"/>
<rect x="386.0" y="69.00" width="5.2" height="1.25" fill="url(#f9)"/>
<rect x="386.0" y="70.25" width="16.7" height="1.25" fill="url(#g4_0)"/>
<rect x="386.0" y="70.25" width="4.3" height="1.25" fill="url(#f10)"/>
<rect x="450.5" y="44.00" width="41.0" height="1.25" fill="url(#g16_5)"/>
<rect x="450.5" y="44.00" width="9.6" height="1.25" fill="url(#f17)"/>
<rect x="450.5" y="45.25" width="41.0" height="1.25" fill="url(#g9_4)"/>
<rect x="450.5" y="45.25" width="10.0" height="1.25" fill="url(#f15)"/>
<rect x="450.5" y="46.50" width="11.0" height="1.25" fill="url(#f16)"/>
<rect x="450.5" y="47.75" width="41.0" height="1.25" fill="url(#g7_2)"/>
<rect x="450.5" y="47.75" width="11.2" height="1.25" fill="url(#f16)"/>
<rect x="450.5" y="49.00" width="8.7" height="1.25" fill="url(#f15)"/>
<rect x="450.5" y="50.25" width="41.0" height="1.25" fill="url(#g6_1)"/>
<rect x="450.5" y="50.25" width="10.6" height="1.25" fill="url(#f14)"/>
<rect x="450.5" y="51.50" width="41.0" height="1.25" fill="url(#g6_1)"/>
<rect x="450.5" y="51.50" width="10.3" height="1.25" fill="url(#f14)"/>
<rect x="450.5" y="52.75" width="9.6" height="1.25" fill="url(#f14)"/>
<rect x="450.5" y="54.00" width="35.3" height="1.25" fill="url(#g5_0)"/>
<rect x="450.5" y="54.00" width="10.1" height="1.25" fill="url(#f12)"/>
<rect x="450.5" y="55.25" width="41.0" height="1.25" fill="url(#g5_0)"/>
<rect x="450.5" y="55.25" width="7.5" height="1.25" fill="url(#f11)"/>
<rect x="450.5" y="57.75" width="38.5" height="1.25" fill="url(#g6_0)"/>
<rect x="450.5" y="57.75" width="9.2" height="1.25" fill="url(#f12)"/>
<rect x="450.5" y="59.00" width="37.5" height="1.25" fill="url(#g4_0)"/>
<rect x="450.5" y="59.00" width="8.0" height="1.25" fill="url(#f11)"/>
<rect x="450.5" y="60.25" width="32.2" height="1.25" fill="url(#g5_0)"/>
<rect x="450.5" y="60.25" width="6.9" height="1.25" fill="url(#f12)"/>
<rect x="450.5" y="61.50" width="23.4" height="1.25" fill="url(#g5_0)"/>
<rect x="450.5" y="61.50" width="7.9" height="1.25" fill="url(#f12)"/>
<rect x="450.5" y="62.75" width="7.8" height="1.25" fill="url(#f12)"/>
<rect x="450.5" y="64.00" width="35.5" height="1.25" fill="url(#g5_0)"/>
<rect x="450.5" y="64.00" width="5.7" height="1.25" fill="url(#f10)"/>
<rect x="450.5" y="65.25" width="6.4" height="1.25" fill="url(#f9)"/>
<rect x="450.5" y="66.50" width="18.3" height="1.25" fill="url(#g4_0)"/>
<rect x="450.5" y="66.50" width="6.0" height="1.25" fill="url(#f9)"/>
<rect x="450.5" y="67.75" width="5.6" height="1.25" fill="url(#f8)"/>
<rect x="450.5" y="69.00" width="5.8" height="1.25" fill="url(#f9)"/>
<rect x="450.5" y="70.25" width="19.5" height="1.25" fill="url(#g5_0)"/>
<rect x="450.5" y="70.25" width="4.9" height="1.25" fill="url(#f10)"/>
<rect x="450.5" y="72.75" width="15.8" height="1.25" fill="url(#g4_0)"/>
<rect x="450.5" y="72.75" width="4.2" height="1.25" fill="url(#f8)"/>
<rect x="514.8" y="44.00" width="40.7" height="1.25" fill="url(#g19_5)"/>
<rect x="514.8" y="44.00" width="14.0" height="1.25" fill="url(#f20)"/>
<rect x="514.8" y="45.25" width="40.7" height="1.25" fill="url(#g16_5)"/>
<rect x="514.8" y="45.25" width="14.0" height="1.25" fill="url(#f20)"/>
<rect x="514.8" y="46.50" width="40.7" height="1.25" fill="url(#g13_4)"/>
<rect x="514.8" y="46.50" width="13.1" height="1.25" fill="url(#f18)"/>
<rect x="514.8" y="47.75" width="40.7" height="1.25" fill="url(#g10_5)"/>
<rect x="514.8" y="47.75" width="12.6" height="1.25" fill="url(#f16)"/>
<rect x="514.8" y="49.00" width="40.7" height="1.25" fill="url(#g12_4)"/>
<rect x="514.8" y="49.00" width="11.5" height="1.25" fill="url(#f17)"/>
<rect x="514.8" y="50.25" width="10.9" height="1.25" fill="url(#f15)"/>
<rect x="514.8" y="51.50" width="40.7" height="1.25" fill="url(#g7_3)"/>
<rect x="514.8" y="51.50" width="11.9" height="1.25" fill="url(#f14)"/>
<rect x="514.8" y="52.75" width="40.7" height="1.25" fill="url(#g8_3)"/>
<rect x="514.8" y="52.75" width="12.1" height="1.25" fill="url(#f15)"/>
<rect x="514.8" y="54.00" width="12.6" height="1.25" fill="url(#f15)"/>
<rect x="514.8" y="55.25" width="40.7" height="1.25" fill="url(#g6_2)"/>
<rect x="514.8" y="55.25" width="11.1" height="1.25" fill="url(#f13)"/>
<rect x="514.8" y="56.50" width="40.7" height="1.25" fill="url(#g7_1)"/>
<rect x="514.8" y="56.50" width="9.3" height="1.25" fill="url(#f16)"/>
<rect x="514.8" y="57.75" width="9.0" height="1.25" fill="url(#f15)"/>
<rect x="514.8" y="59.00" width="40.7" height="1.25" fill="url(#g6_1)"/>
<rect x="514.8" y="59.00" width="9.8" height="1.25" fill="url(#f15)"/>
<rect x="514.8" y="60.25" width="40.7" height="1.25" fill="url(#g5_1)"/>
<rect x="514.8" y="60.25" width="9.4" height="1.25" fill="url(#f12)"/>
<rect x="514.8" y="61.50" width="40.7" height="1.25" fill="url(#g6_1)"/>
<rect x="514.8" y="61.50" width="10.0" height="1.25" fill="url(#f14)"/>
<rect x="514.8" y="62.75" width="40.7" height="1.25" fill="url(#g6_1)"/>
<rect x="514.8" y="62.75" width="8.7" height="1.25" fill="url(#f13)"/>
<rect x="514.8" y="64.00" width="40.7" height="1.25" fill="url(#g7_1)"/>
<rect x="514.8" y="64.00" width="7.5" height="1.25" fill="url(#f14)"/>
<rect x="514.8" y="65.25" width="40.7" height="1.25" fill="url(#g5_0)"/>
<rect x="514.8" y="65.25" width="7.9" height="1.25" fill="url(#f11)"/>
<rect x="514.8" y="66.50" width="37.7" height="1.25" fill="url(#g4_0)"/>
<rect x="514.8" y="66.50" width="7.3" height="1.25" fill="url(#f11)"/>
<rect x="514.8" y="67.75" width="29.4" height="1.25" fill="url(#g6_0)"/>
<rect x="514.8" y="67.75" width="7.0" height="1.25" fill="url(#f12)"/>
<rect x="514.8" y="69.00" width="32.8" height="1.25" fill="url(#g5_0)"/>
<rect x="514.8" y="69.00" width="7.2" height="1.25" fill="url(#f13)"/>
<rect x="514.8" y="71.50" width="40.7" height="1.25" fill="url(#g4_0)"/>
<rect x="514.8" y="71.50" width="5.1" height="1.25" fill="url(#f10)"/>
<rect x="514.8" y="72.75" width="26.1" height="1.25" fill="url(#g4_0)"/>
<rect x="514.8" y="72.75" width="5.6" height="1.25" fill="url(#f10)"/>
<rect x="514.8" y="74.00" width="19.9" height="1.25" fill="url(#g4_0)"/>
<rect x="514.8" y="74.00" width="6.0" height="1.25" fill="url(#f9)"/>
<rect x="514.8" y="75.25" width="17.7" height="1.25" fill="url(#g5_0)"/>
<rect x="514.8" y="75.25" width="5.1" height="1.25" fill="url(#f10)"/>
<rect x="579.5" y="44.00" width="40.3" height="1.25" fill="url(#g19_5)"/>
<rect x="579.5" y="44.00" width="15.3" height="1.25" fill="url(#f18)"/>
<rect x="579.5" y="45.25" width="40.3" height="1.25" fill="url(#g17_5)"/>
<rect x="579.5" y="45.25" width="17.6" height="1.25" fill="url(#f20)"/>
<rect x="579.5" y="46.50" width="40.3" height="1.25" fill="url(#g14_5)"/>
<rect x="579.5" y="46.50" width="17.5" height="1.25" fill="url(#f17)"/>
<rect x="579.5" y="47.75" width="40.3" height="1.25" fill="url(#g18_5)"/>
<rect x="579.5" y="47.75" width="16.1" height="1.25" fill="url(#f19)"/>
<rect x="579.5" y="49.00" width="40.3" height="1.25" fill="url(#g12_4)"/>
<rect x="579.5" y="49.00" width="12.2" height="1.25" fill="url(#f16)"/>
<rect x="579.5" y="50.25" width="40.3" height="1.25" fill="url(#g15_5)"/>
<rect x="579.5" y="50.25" width="13.6" height="1.25" fill="url(#f19)"/>
<rect x="579.5" y="51.50" width="40.3" height="1.25" fill="url(#g12_5)"/>
<rect x="579.5" y="51.50" width="12.3" height="1.25" fill="url(#f17)"/>
<rect x="579.5" y="52.75" width="40.3" height="1.25" fill="url(#g13_4)"/>
<rect x="579.5" y="52.75" width="13.2" height="1.25" fill="url(#f15)"/>
<rect x="579.5" y="54.00" width="40.3" height="1.25" fill="url(#g13_4)"/>
<rect x="579.5" y="54.00" width="11.8" height="1.25" fill="url(#f17)"/>
<rect x="579.5" y="55.25" width="40.3" height="1.25" fill="url(#g12_4)"/>
<rect x="579.5" y="55.25" width="10.8" height="1.25" fill="url(#f17)"/>
<rect x="579.5" y="56.50" width="40.3" height="1.25" fill="url(#g12_5)"/>
<rect x="579.5" y="56.50" width="13.7" height="1.25" fill="url(#f16)"/>
<rect x="579.5" y="59.00" width="40.3" height="1.25" fill="url(#g12_4)"/>
<rect x="579.5" y="59.00" width="10.0" height="1.25" fill="url(#f17)"/>
<rect x="579.5" y="60.25" width="40.3" height="1.25" fill="url(#g9_4)"/>
<rect x="579.5" y="60.25" width="10.6" height="1.25" fill="url(#f15)"/>
<rect x="579.5" y="61.50" width="40.3" height="1.25" fill="url(#g10_4)"/>
<rect x="579.5" y="61.50" width="12.9" height="1.25" fill="url(#f15)"/>
<rect x="579.5" y="62.75" width="40.3" height="1.25" fill="url(#g9_4)"/>
<rect x="579.5" y="62.75" width="11.8" height="1.25" fill="url(#f15)"/>
<rect x="579.5" y="64.00" width="40.3" height="1.25" fill="url(#g9_4)"/>
<rect x="579.5" y="64.00" width="10.9" height="1.25" fill="url(#f15)"/>
<rect x="579.5" y="65.25" width="40.3" height="1.25" fill="url(#g9_4)"/>
<rect x="579.5" y="65.25" width="9.8" height="1.25" fill="url(#f15)"/>
<rect x="579.5" y="67.75" width="40.3" height="1.25" fill="url(#g8_4)"/>
<rect x="579.5" y="67.75" width="9.8" height="1.25" fill="url(#f13)"/>
<rect x="579.5" y="69.00" width="40.3" height="1.25" fill="url(#g8_3)"/>
<rect x="579.5" y="69.00" width="10.4" height="1.25" fill="url(#f12)"/>
<rect x="579.5" y="70.25" width="40.3" height="1.25" fill="url(#g7_4)"/>
<rect x="579.5" y="70.25" width="8.7" height="1.25" fill="url(#f13)"/>
<rect x="579.5" y="71.50" width="40.3" height="1.25" fill="url(#g7_3)"/>
<rect x="579.5" y="71.50" width="8.2" height="1.25" fill="url(#f13)"/>
<rect x="579.5" y="72.75" width="8.7" height="1.25" fill="url(#f11)"/>
<rect x="579.5" y="75.25" width="40.3" height="1.25" fill="url(#g6_3)"/>
<rect x="579.5" y="75.25" width="8.1" height="1.25" fill="url(#f11)"/>
<rect x="579.5" y="76.50" width="6.4" height="1.25" fill="url(#f11)"/>
<rect x="579.5" y="77.75" width="6.9" height="1.25" fill="url(#f11)"/>
<rect x="579.5" y="79.00" width="6.9" height="1.25" fill="url(#f10)"/>
<rect x="579.5" y="80.25" width="5.5" height="1.25" fill="url(#f11)"/>
<rect x="579.5" y="81.50" width="40.3" height="1.25" fill="url(#g4_3)"/>
<rect x="579.5" y="81.50" width="5.7" height="1.25" fill="url(#f9)"/>
<rect x="579.5" y="82.75" width="5.4" height="1.25" fill="url(#f10)"/>
<rect x="579.5" y="84.00" width="40.3" height="1.25" fill="url(#g5_2)"/>
<rect x="579.5" y="84.00" width="5.0" height="1.25" fill="url(#f10)"/>
<rect x="644.0" y="44.00" width="40.0" height="1.25" fill="url(#g16_5)"/>
<rect x="644.0" y="44.00" width="17.0" height="1.25" fill="url(#f17)"/>
<rect x="644.0" y="45.25" width="17.6" height="1.25" fill="url(#f20)"/>
<rect x="644.0" y="46.50" width="40.0" height="1.25" fill="url(#g16_5)"/>
<rect x="644.0" y="46.50" width="19.0" height="1.25" fill="url(#f19)"/>
<rect x="644.0" y="47.75" width="40.0" height="1.25" fill="url(#g13_5)"/>
<rect x="644.0" y="47.75" width="19.4" height="1.25" fill="url(#f16)"/>
<rect x="644.0" y="49.00" width="40.0" height="1.25" fill="url(#g14_4)"/>
<rect x="644.0" y="49.00" width="17.2" height="1.25" fill="url(#f19)"/>
<rect x="644.0" y="50.25" width="13.4" height="1.25" fill="url(#f15)"/>
<rect x="644.0" y="51.50" width="40.0" height="1.25" fill="url(#g17_4)"/>
<rect x="644.0" y="51.50" width="16.6" height="1.25" fill="url(#f18)"/>
<rect x="644.0" y="52.75" width="40.0" height="1.25" fill="url(#g12_4)"/>
<rect x="644.0" y="52.75" width="13.4" height="1.25" fill="url(#f16)"/>
<rect x="644.0" y="54.00" width="40.0" height="1.25" fill="url(#g15_4)"/>
<rect x="644.0" y="54.00" width="17.2" height="1.25" fill="url(#f18)"/>
<rect x="644.0" y="55.25" width="40.0" height="1.25" fill="url(#g15_4)"/>
<rect x="644.0" y="55.25" width="13.8" height="1.25" fill="url(#f18)"/>
<rect x="644.0" y="56.50" width="40.0" height="1.25" fill="url(#g13_5)"/>
<rect x="644.0" y="56.50" width="13.3" height="1.25" fill="url(#f16)"/>
<rect x="644.0" y="59.00" width="40.0" height="1.25" fill="url(#g11_4)"/>
<rect x="644.0" y="59.00" width="14.8" height="1.25" fill="url(#f16)"/>
<rect x="644.0" y="60.25" width="40.0" height="1.25" fill="url(#g10_4)"/>
<rect x="644.0" y="60.25" width="15.1" height="1.25" fill="url(#f14)"/>
<rect x="644.0" y="61.50" width="40.0" height="1.25" fill="url(#g10_4)"/>
<rect x="644.0" y="61.50" width="13.5" height="1.25" fill="url(#f14)"/>
<rect x="644.0" y="62.75" width="40.0" height="1.25" fill="url(#g9_3)"/>
<rect x="644.0" y="62.75" width="13.9" height="1.25" fill="url(#f12)"/>
<rect x="644.0" y="65.25" width="40.0" height="1.25" fill="url(#g8_4)"/>
<rect x="644.0" y="65.25" width="11.8" height="1.25" fill="url(#f12)"/>
<rect x="644.0" y="66.50" width="11.9" height="1.25" fill="url(#f13)"/>
<rect x="644.0" y="67.75" width="11.2" height="1.25" fill="url(#f11)"/>
<rect x="644.0" y="69.00" width="40.0" height="1.25" fill="url(#g8_4)"/>
<rect x="644.0" y="69.00" width="12.4" height="1.25" fill="url(#f12)"/>
<rect x="644.0" y="70.25" width="40.0" height="1.25" fill="url(#g7_4)"/>
<rect x="644.0" y="70.25" width="8.8" height="1.25" fill="url(#f13)"/>
<rect x="644.0" y="71.50" width="40.0" height="1.25" fill="url(#g8_4)"/>
<rect x="644.0" y="71.50" width="9.4" height="1.25" fill="url(#f13)"/>
<rect x="644.0" y="74.00" width="9.0" height="1.25" fill="url(#f11)"/>
<rect x="644.0" y="76.50" width="40.0" height="1.25" fill="url(#g7_3)"/>
<rect x="644.0" y="76.50" width="7.5" height="1.25" fill="url(#f13)"/>
<rect x="644.0" y="77.75" width="40.0" height="1.25" fill="url(#g7_3)"/>
<rect x="644.0" y="77.75" width="8.0" height="1.25" fill="url(#f11)"/>
<rect x="644.0" y="81.50" width="8.3" height="1.25" fill="url(#f11)"/>
<rect x="644.0" y="82.75" width="40.0" height="1.25" fill="url(#g6_2)"/>
<rect x="644.0" y="82.75" width="6.7" height="1.25" fill="url(#f11)"/>
<rect x="644.0" y="84.00" width="40.0" height="1.25" fill="url(#g6_2)"/>
<rect x="644.0" y="84.00" width="7.4" height="1.25" fill="url(#f9)"/>
<rect x="644.0" y="85.25" width="6.7" height="1.25" fill="url(#f10)"/>
<rect x="644.0" y="86.50" width="6.4" height="1.25" fill="url(#f9)"/>
<rect x="363" y="101.5" width="321" height="50.5" fill="#04030e"/>
<path fill="#310f61" d="M637.1 101.50h1.1v1.26h-1.1zM402.9 121.70h3.5v1.26h-3.5zM610.7 138.11h3.5v1.26h-3.5zM451.9 140.64h14.6v1.26h-14.6zM548.9 146.95h1.7v1.26h-1.7zM664.4 144.43h2.5v1.26h-2.5z"/>
<path fill="#1b0e40" d="M617.7 101.50h3.2v1.26h-3.2zM399.6 131.80h1.9v1.26h-1.9zM572.4 135.59h1.5v1.26h-1.5zM458.3 144.43h1.2v1.26h-1.2zM483.4 122.96h3.6v1.26h-3.6zM617.7 122.96h3.1v1.26h-3.1z"/>
<path fill="#2a0f56" d="M633.7 101.50h4.2v1.26h-4.2zM478.8 106.55h4.9v1.26h-4.9zM498.8 124.22h3.6v1.26h-3.6zM484.8 124.22h1.7v1.26h-1.7zM647.0 129.28h3.6v1.26h-3.6zM385.6 135.59h4.6v1.26h-4.6zM590.4 143.16h1.7v1.26h-1.7z"/>
<path fill="#130d34" d="M444.9 101.50h2.9v1.26h-2.9zM404.5 104.03h1.6v1.26h-1.6zM438.6 115.39h1.9v1.26h-1.9zM367.2 136.85h4.9v1.26h-4.9zM680.0 138.11h1.8v1.26h-1.8zM545.1 144.43h3.5v1.26h-3.5zM524.0 146.95h6.5v1.26h-6.5zM504.1 122.96h3.6v1.26h-3.6zM478.7 150.74h4.2v1.26h-4.2z"/>
<path fill="#120c30" d="M676.1 101.50h7.9v1.26h-7.9zM514.0 107.81h1.6v1.26h-1.6zM631.0 109.08h31.3v1.26h-31.3zM394.9 109.08h5.3v1.26h-5.3zM428.6 111.60h2.9v1.26h-2.9zM565.4 124.22h2.0v1.26h-2.0zM673.1 135.59h10.6v1.26h-10.6zM637.3 136.85h2.7v1.26h-2.7zM428.2 141.90h1.7v1.26h-1.7zM381.9 144.43h1.9v1.26h-1.9zM449.9 150.74h1.5v1.26h-1.5z"/>
<path fill="#350f68" d="M521.9 101.50h13.6v1.26h-13.6zM540.4 112.86h1.6v1.26h-1.6zM641.2 126.75h3.7v1.26h-3.7zM673.4 149.47h1.6v1.26h-1.6z"/>
<path fill="#100b2b" d="M386.6 101.50h6.8v1.26h-6.8zM389.8 102.76h2.7v1.26h-2.7zM495.2 104.03h6.0v1.26h-6.0zM493.0 104.03h2.7v1.26h-2.7zM410.3 119.17h4.7v1.26h-4.7zM529.8 124.22h2.3v1.26h-2.3zM644.7 131.80h5.9v1.26h-5.9zM429.6 138.11h2.5v1.26h-2.5zM459.6 149.47h2.6v1.26h-2.6zM567.4 150.74h4.3v1.26h-4.3zM599.3 150.74h4.1v1.26h-4.1z"/>
<path fill="#3a0f6e" d="M421.2 102.76h2.7v1.26h-2.7zM404.7 105.29h1.5v1.26h-1.5zM393.3 106.55h6.0v1.26h-6.0zM594.5 114.12h2.5v1.26h-2.5zM552.5 126.75h1.8v1.26h-1.8zM460.1 136.85h1.1v1.26h-1.1z"/>
<path fill="#350f66" d="M650.5 102.76h1.4v1.26h-1.4zM501.5 117.91h1.0v1.26h-1.0zM661.2 120.44h1.0v1.26h-1.0zM612.7 141.90h1.5v1.26h-1.5zM561.8 144.43h3.4v1.26h-3.4z"/>
<path fill="#330f64" d="M510.2 102.76h5.2v1.26h-5.2zM652.1 105.29h3.1v1.26h-3.1zM385.8 105.29h11.7v1.26h-11.7zM660.8 109.08h3.0v1.26h-3.0zM674.9 109.08h6.9v1.26h-6.9zM629.1 124.22h30.4v1.26h-30.4zM421.2 129.28h3.3v1.26h-3.3z"/>
<path fill="#130d33" d="M518.7 102.76h1.0v1.26h-1.0zM603.0 109.08h1.5v1.26h-1.5zM546.9 128.01h3.9v1.26h-3.9zM502.9 150.74h2.2v1.26h-2.2zM546.3 122.96h3.4v1.26h-3.4z"/>
<path fill="#290f56" d="M406.7 102.76h5.6v1.26h-5.6zM511.1 124.22h5.7v1.26h-5.7zM596.7 126.75h2.1v1.26h-2.1zM384.5 130.54h5.2v1.26h-5.2z"/>
<path fill="#110c2e" d="M497.4 102.76h34.8v1.26h-34.8zM559.8 102.76h1.2v1.26h-1.2zM535.9 107.81h4.5v1.26h-4.5zM630.1 111.60h7.9v1.26h-7.9zM641.2 120.44h1.4v1.26h-1.4zM606.8 121.70h3.6v1.26h-3.6zM436.5 128.01h4.1v1.26h-4.1zM535.1 129.28h1.4v1.26h-1.4zM384.3 130.54h1.3v1.26h-1.3zM487.8 131.80h3.1v1.26h-3.1zM572.9 134.32h3.8v1.26h-3.8zM641.0 150.74h4.8v1.26h-4.8z"/>
<path fill="#180e3c" d="M529.9 102.76h2.1v1.26h-2.1zM595.6 107.81h4.2v1.26h-4.2zM409.5 120.44h2.8v1.26h-2.8zM464.8 128.01h1.2v1.26h-1.2zM400.5 134.32h1.2v1.26h-1.2zM481.2 138.11h1.2v1.26h-1.2zM441.8 144.43h5.3v1.26h-5.3zM564.8 144.43h4.8v1.26h-4.8zM461.0 150.74h2.5v1.26h-2.5z"/>
<path fill="#140e36" d="M389.3 102.76h27.3v1.26h-27.3zM500.0 105.29h1.9v1.26h-1.9zM370.8 109.08h7.8v1.26h-7.8zM580.3 122.96h1.2v1.26h-1.2zM421.4 126.75h3.6v1.26h-3.6zM552.1 134.32h1.6v1.26h-1.6zM416.5 141.90h1.1v1.26h-1.1zM381.8 122.96h1.6v1.26h-1.6zM633.9 122.96h2.7v1.26h-2.7zM496.8 150.74h3.5v1.26h-3.5z"/>
<path fill="#1d0e43" d="M647.6 102.76h1.4v1.26h-1.4zM434.8 106.55h1.4v1.26h-1.4zM648.4 128.01h1.6v1.26h-1.6zM493.5 134.32h1.0v1.26h-1.0zM534.9 135.59h1.5v1.26h-1.5zM592.9 135.59h1.3v1.26h-1.3zM588.6 138.11h1.0v1.26h-1.0zM546.5 146.95h5.5v1.26h-5.5zM456.1 111.60h2.3v1.26h-2.3zM376.6 122.96h1.8v1.26h-1.8z"/>
<path fill="#2b0f58" d="M469.0 102.76h5.3v1.26h-5.3zM465.1 107.81h1.8v1.26h-1.8zM444.7 109.08h1.9v1.26h-1.9zM449.5 110.34h2.6v1.26h-2.6zM573.8 144.43h2.0v1.26h-2.0z"/>
<path fill="#2c0f5a" d="M516.0 102.76h1.5v1.26h-1.5zM399.8 104.03h2.5v1.26h-2.5zM633.1 104.03h1.0v1.26h-1.0zM549.1 126.75h1.1v1.26h-1.1zM553.8 128.01h2.7v1.26h-2.7zM433.4 129.28h5.6v1.26h-5.6zM675.1 130.54h2.1v1.26h-2.1zM483.9 131.80h4.9v1.26h-4.9zM536.7 144.43h5.0v1.26h-5.0zM469.7 145.69h1.9v1.26h-1.9zM466.3 122.96h2.3v1.26h-2.3zM559.0 122.96h2.5v1.26h-2.5zM658.6 122.96h4.7v1.26h-4.7z"/>
<path fill="#260e51" d="M380.4 102.76h2.5v1.26h-2.5zM582.5 107.81h2.2v1.26h-2.2zM424.0 112.86h3.2v1.26h-3.2zM423.3 116.65h3.1v1.26h-3.1zM636.3 129.28h1.0v1.26h-1.0zM653.9 148.21h1.1v1.26h-1.1zM410.7 111.60h4.7v1.26h-4.7zM669.7 111.60h2.7v1.26h-2.7zM647.1 122.96h2.5v1.26h-2.5z"/>
<path fill="#300f60" d="M565.9 102.76h8.4v1.26h-8.4zM583.4 126.75h1.6v1.26h-1.6zM386.5 133.06h1.1v1.26h-1.1zM372.3 111.60h2.4v1.26h-2.4z"/>
<path fill="#2f0f5e" d="M447.2 102.76h4.1v1.26h-4.1zM472.7 112.86h3.6v1.26h-3.6zM467.9 119.17h6.1v1.26h-6.1zM442.0 120.44h7.1v1.26h-7.1zM408.4 122.96h1.1v1.26h-1.1zM535.6 130.54h1.7v1.26h-1.7zM426.5 134.32h11.0v1.26h-11.0zM490.8 135.59h2.1v1.26h-2.1zM512.6 122.96h4.4v1.26h-4.4zM444.3 144.43h3.6v1.26h-3.6z"/>
<path fill="#140e35" d="M417.5 102.76h3.7v1.26h-3.7zM582.7 107.81h2.2v1.26h-2.2zM550.6 121.70h1.7v1.26h-1.7zM460.7 126.75h3.7v1.26h-3.7zM633.2 138.11h1.5v1.26h-1.5zM628.6 144.43h1.3v1.26h-1.3zM500.4 146.95h10.0v1.26h-10.0zM640.9 149.47h3.7v1.26h-3.7zM635.0 111.60h2.1v1.26h-2.1zM665.6 122.96h1.9v1.26h-1.9zM428.2 150.74h1.7v1.26h-1.7zM561.0 150.74h4.3v1.26h-4.3zM634.5 150.74h4.4v1.26h-4.4z"/>
<path fill="#952c7f" d="M571.0 102.76h3.5v1.26h-3.5z"/>
<path fill="#6a4a3a" d="M568.6 104.03h6.5v1.26h-6.5zM570.7 106.55h8.3v1.26h-8.3zM548.4 109.08h3.3v1.26h-3.3zM578.2 109.08h2.2v1.26h-2.2zM535.5 110.34h5.0v1.26h-5.0zM554.4 121.70h3.2v1.26h-3.2zM667.6 124.22h1.7v1.26h-1.7zM680.0 134.32h3.2v1.26h-3.2zM443.4 136.85h1.5v1.26h-1.5zM380.3 138.11h1.6v1.26h-1.6zM659.7 144.43h1.1v1.26h-1.1z"/>
<path fill="#320f63" d="M632.3 104.03h2.2v1.26h-2.2zM387.5 119.17h3.3v1.26h-3.3zM524.7 124.22h1.4v1.26h-1.4zM506.0 130.54h4.0v1.26h-4.0zM674.7 130.54h2.6v1.26h-2.6zM366.8 136.85h7.0v1.26h-7.0zM560.4 136.85h2.4v1.26h-2.4zM471.4 144.43h2.6v1.26h-2.6zM380.9 144.43h3.4v1.26h-3.4z"/>
<path fill="#8a6040" d="M493.9 104.03h1.5v1.26h-1.5zM667.5 107.81h3.0v1.26h-3.0zM637.8 114.12h2.1v1.26h-2.1zM582.8 120.44h1.3v1.26h-1.3zM552.8 122.96h3.2v1.26h-3.2zM379.3 124.22h1.1v1.26h-1.1zM558.9 129.28h3.8v1.26h-3.8zM419.6 129.28h1.4v1.26h-1.4zM412.2 148.21h3.9v1.26h-3.9zM540.7 150.74h10.7v1.26h-10.7zM538.7 150.74h1.2v1.26h-1.2z"/>
<path fill="#100b2d" d="M366.9 104.03h5.1v1.26h-5.1zM660.1 111.60h3.1v1.26h-3.1zM429.8 134.32h1.2v1.26h-1.2zM466.8 136.85h2.5v1.26h-2.5zM446.1 139.38h1.8v1.26h-1.8zM377.4 150.74h2.4v1.26h-2.4z"/>
<path fill="#200e48" d="M636.0 104.03h1.5v1.26h-1.5zM609.4 105.29h4.1v1.26h-4.1zM459.0 107.81h4.2v1.26h-4.2zM432.8 110.34h2.4v1.26h-2.4zM594.3 122.96h1.3v1.26h-1.3zM371.0 124.22h4.0v1.26h-4.0zM537.4 140.64h1.4v1.26h-1.4zM578.3 143.16h27.5v1.26h-27.5zM657.7 144.43h1.5v1.26h-1.5zM459.2 146.95h2.1v1.26h-2.1zM450.1 148.21h2.4v1.26h-2.4zM564.7 111.60h3.4v1.26h-3.4zM600.2 111.60h3.0v1.26h-3.0zM588.7 144.43h1.8v1.26h-1.8zM508.1 150.74h2.1v1.26h-2.1z"/>
<path fill="#100b2c" d="M658.3 104.03h1.4v1.26h-1.4zM673.8 109.08h1.6v1.26h-1.6zM464.5 109.08h2.6v1.26h-2.6zM671.8 120.44h3.0v1.26h-3.0zM589.8 125.49h4.2v1.26h-4.2zM551.9 126.75h4.1v1.26h-4.1zM374.5 129.28h28.8v1.26h-28.8zM580.0 136.85h3.4v1.26h-3.4zM404.0 138.11h2.5v1.26h-2.5zM578.9 141.90h1.1v1.26h-1.1zM432.9 141.90h6.1v1.26h-6.1zM396.4 122.96h1.9v1.26h-1.9z"/>
<path fill="#982d7f" d="M566.5 104.03h2.0v1.26h-2.0z"/>
<path fill="#180e3b" d="M614.1 104.03h4.6v1.26h-4.6zM472.4 111.60h1.3v1.26h-1.3zM563.2 117.91h7.5v1.26h-7.5zM391.3 120.44h2.1v1.26h-2.1zM430.5 150.74h2.3v1.26h-2.3z"/>
<path fill="#1a0e3f" d="M382.3 104.03h4.1v1.26h-4.1zM591.5 104.03h2.0v1.26h-2.0zM646.9 106.55h2.9v1.26h-2.9zM418.5 117.91h1.5v1.26h-1.5zM383.1 144.43h2.1v1.26h-2.1zM445.4 111.60h3.5v1.26h-3.5zM480.6 111.60h3.5v1.26h-3.5zM607.2 111.60h4.0v1.26h-4.0zM597.6 122.96h4.8v1.26h-4.8z"/>
<path fill="#130d32" d="M605.3 104.03h2.0v1.26h-2.0zM399.7 114.12h1.7v1.26h-1.7zM651.1 126.75h3.8v1.26h-3.8zM409.4 135.59h4.0v1.26h-4.0zM363.8 135.59h2.0v1.26h-2.0z"/>
<path fill="#230e4c" d="M436.7 104.03h7.0v1.26h-7.0zM535.7 104.03h4.9v1.26h-4.9zM581.2 109.08h33.5v1.26h-33.5zM644.9 112.86h7.6v1.26h-7.6zM560.5 115.39h1.3v1.26h-1.3zM601.4 116.65h2.5v1.26h-2.5zM601.6 121.70h2.7v1.26h-2.7zM629.5 124.22h1.5v1.26h-1.5zM378.9 125.49h18.5v1.26h-18.5zM382.6 130.54h1.0v1.26h-1.0zM632.7 138.11h1.5v1.26h-1.5zM475.9 138.11h3.1v1.26h-3.1zM631.1 139.38h1.7v1.26h-1.7zM606.4 145.69h12.3v1.26h-12.3zM584.2 146.95h3.4v1.26h-3.4zM382.3 148.21h3.0v1.26h-3.0zM366.1 122.96h3.3v1.26h-3.3z"/>
<path fill="#280f54" d="M437.6 104.03h3.1v1.26h-3.1zM366.1 105.29h2.6v1.26h-2.6zM449.5 107.81h1.2v1.26h-1.2zM549.1 116.65h3.3v1.26h-3.3zM455.4 117.91h3.5v1.26h-3.5zM596.6 119.17h1.1v1.26h-1.1zM662.7 131.80h2.9v1.26h-2.9zM467.2 111.60h3.2v1.26h-3.2zM523.4 122.96h4.4v1.26h-4.4zM449.4 144.43h3.0v1.26h-3.0z"/>
<path fill="#471275" d="M504.1 104.03h41.4v1.26h-41.4zM498.1 144.43h4.0v1.26h-4.0z"/>
<path fill="#110c2d" d="M415.2 104.03h1.7v1.26h-1.7z"/>
<path fill="#250e4f" d="M478.6 104.03h5.8v1.26h-5.8zM616.1 107.81h3.8v1.26h-3.8zM489.5 129.28h1.3v1.26h-1.3zM570.2 149.47h1.0v1.26h-1.0zM644.4 144.43h4.9v1.26h-4.9z"/>
<path fill="#3a0f6f" d="M435.6 104.03h31.2v1.26h-31.2zM563.0 111.60h35.3v1.26h-35.3zM646.0 117.91h1.2v1.26h-1.2zM537.2 119.17h2.4v1.26h-2.4zM416.3 122.96h4.0v1.26h-4.0z"/>
<path fill="#0d0925" d="M500.0 104.03h2.7v1.26h-2.7zM537.7 104.03h2.0v1.26h-2.0zM426.2 107.81h3.3v1.26h-3.3zM379.6 122.96h8.7v1.26h-8.7zM464.4 129.28h3.2v1.26h-3.2zM550.7 130.54h2.9v1.26h-2.9zM586.5 144.43h3.6v1.26h-3.6zM454.7 144.43h30.0v1.26h-30.0zM665.0 145.69h5.5v1.26h-5.5z"/>
<path fill="#0e0a27" d="M677.0 104.03h2.6v1.26h-2.6zM510.7 122.96h2.9v1.26h-2.9zM481.8 126.75h1.5v1.26h-1.5zM641.4 129.28h4.9v1.26h-4.9zM575.3 130.54h2.2v1.26h-2.2zM429.5 134.32h1.8v1.26h-1.8zM544.7 141.90h1.5v1.26h-1.5z"/>
<path fill="#250e50" d="M419.7 104.03h1.1v1.26h-1.1zM563.9 111.60h1.2v1.26h-1.2zM553.2 135.59h2.8v1.26h-2.8zM513.1 150.74h4.2v1.26h-4.2zM653.3 150.74h1.5v1.26h-1.5z"/>
<path fill="#360f69" d="M651.1 105.29h4.4v1.26h-4.4zM445.8 107.81h4.7v1.26h-4.7zM460.0 109.08h4.6v1.26h-4.6zM522.7 122.96h1.5v1.26h-1.5zM647.4 125.49h1.2v1.26h-1.2zM509.5 125.49h3.1v1.26h-3.1zM604.2 129.28h6.6v1.26h-6.6zM577.5 145.69h1.2v1.26h-1.2z"/>
<path fill="#772180" d="M468.9 105.29h2.4v1.26h-2.4zM520.0 140.64h27.6v1.26h-27.6z"/>
<path fill="#0f0b2a" d="M618.3 105.29h4.8v1.26h-4.8zM447.7 105.29h2.7v1.26h-2.7zM608.7 105.29h2.1v1.26h-2.1zM630.8 109.08h2.8v1.26h-2.8zM405.9 117.91h10.4v1.26h-10.4zM523.2 120.44h37.5v1.26h-37.5zM556.9 122.96h1.7v1.26h-1.7zM532.5 130.54h1.8v1.26h-1.8zM530.2 130.54h2.8v1.26h-2.8zM506.7 133.06h2.2v1.26h-2.2zM426.7 135.59h2.6v1.26h-2.6zM532.3 138.11h2.2v1.26h-2.2zM597.5 140.64h4.2v1.26h-4.2zM489.9 148.21h5.8v1.26h-5.8z"/>
<path fill="#230e4d" d="M466.2 105.29h3.3v1.26h-3.3zM432.4 129.28h5.4v1.26h-5.4zM573.5 122.96h4.3v1.26h-4.3z"/>
<path fill="#7a6a48" d="M547.9 105.29h2.1v1.26h-2.1zM659.3 109.08h1.3v1.26h-1.3zM504.5 112.86h5.3v1.26h-5.3zM442.2 120.44h5.8v1.26h-5.8zM623.9 120.44h6.1v1.26h-6.1zM525.7 124.22h1.5v1.26h-1.5zM672.5 126.75h3.6v1.26h-3.6zM429.7 129.28h9.6v1.26h-9.6zM666.0 136.85h18.0v1.26h-18.0zM580.5 138.11h4.0v1.26h-4.0zM553.8 140.64h2.2v1.26h-2.2zM409.9 144.43h5.5v1.26h-5.5zM450.1 148.21h1.6v1.26h-1.6z"/>
<path fill="#160e3a" d="M482.1 105.29h2.1v1.26h-2.1zM658.7 105.29h1.8v1.26h-1.8zM509.5 134.32h3.6v1.26h-3.6zM547.9 111.60h3.9v1.26h-3.9zM470.5 122.96h2.2v1.26h-2.2zM388.0 150.74h2.7v1.26h-2.7z"/>
<path fill="#4c1376" d="M399.5 105.29h4.1v1.26h-4.1z"/>
<path fill="#240e4d" d="M620.9 105.29h1.4v1.26h-1.4zM528.3 119.17h2.5v1.26h-2.5zM424.8 125.49h4.9v1.26h-4.9zM433.2 129.28h7.9v1.26h-7.9zM553.4 136.85h4.1v1.26h-4.1zM433.9 140.64h4.7v1.26h-4.7zM439.6 111.60h3.8v1.26h-3.8z"/>
<path fill="#1f0e46" d="M658.2 105.29h4.8v1.26h-4.8zM492.1 105.29h4.4v1.26h-4.4zM409.1 107.81h1.0v1.26h-1.0zM430.6 135.59h3.3v1.26h-3.3zM545.6 141.90h3.8v1.26h-3.8zM486.4 141.90h4.4v1.26h-4.4zM580.5 145.69h1.5v1.26h-1.5zM544.5 146.95h2.7v1.26h-2.7zM416.1 122.96h2.4v1.26h-2.4zM374.4 144.43h4.4v1.26h-4.4z"/>
<path fill="#350f67" d="M630.3 105.29h3.4v1.26h-3.4zM616.7 105.29h2.5v1.26h-2.5zM518.2 106.55h4.8v1.26h-4.8zM483.2 107.81h2.3v1.26h-2.3zM423.1 131.80h5.2v1.26h-5.2zM567.7 144.43h2.9v1.26h-2.9zM633.1 144.43h4.3v1.26h-4.3z"/>
<path fill="#150e38" d="M625.7 105.29h2.4v1.26h-2.4zM536.3 112.86h6.5v1.26h-6.5zM428.9 117.91h4.4v1.26h-4.4zM656.3 138.11h2.7v1.26h-2.7zM557.0 140.64h3.4v1.26h-3.4zM431.1 146.95h2.7v1.26h-2.7zM397.8 111.60h4.2v1.26h-4.2zM509.4 122.96h1.6v1.26h-1.6z"/>
<path fill="#0e0926" d="M612.4 105.29h3.2v1.26h-3.2zM611.9 106.55h3.3v1.26h-3.3zM654.1 116.65h1.3v1.26h-1.3zM596.4 119.17h7.2v1.26h-7.2zM499.6 126.75h2.8v1.26h-2.8z"/>
<path fill="#2a0f57" d="M368.8 105.29h1.7v1.26h-1.7zM415.4 106.55h1.3v1.26h-1.3zM404.2 117.91h6.4v1.26h-6.4zM619.0 136.85h4.4v1.26h-4.4zM433.8 145.69h1.9v1.26h-1.9zM412.4 146.95h1.4v1.26h-1.4zM429.1 148.21h3.0v1.26h-3.0zM459.5 111.60h1.7v1.26h-1.7zM500.3 111.60h3.1v1.26h-3.1zM412.8 144.43h5.0v1.26h-5.0z"/>
<path fill="#972d7f" d="M668.6 105.29h3.1v1.26h-3.1zM603.4 110.34h2.7v1.26h-2.7z"/>
<path fill="#220e4a" d="M607.8 105.29h1.6v1.26h-1.6zM644.3 125.49h2.4v1.26h-2.4z"/>
<path fill="#1d0e44" d="M526.2 106.55h1.5v1.26h-1.5zM672.4 110.34h5.7v1.26h-5.7zM584.5 136.85h5.3v1.26h-5.3zM471.2 150.74h2.0v1.26h-2.0z"/>
<path fill="#0f0b2b" d="M482.9 106.55h10.9v1.26h-10.9zM538.4 136.85h9.2v1.26h-9.2z"/>
<path fill="#280f53" d="M449.4 106.55h1.7v1.26h-1.7zM680.8 146.95h2.9v1.26h-2.9z"/>
<path fill="#300f5f" d="M636.9 106.55h1.4v1.26h-1.4zM570.6 106.55h1.1v1.26h-1.1zM502.6 136.85h3.5v1.26h-3.5zM653.6 138.11h3.2v1.26h-3.2zM438.4 141.90h5.2v1.26h-5.2zM539.9 144.43h3.0v1.26h-3.0z"/>
<path fill="#210e49" d="M444.8 106.55h6.6v1.26h-6.6zM598.7 107.81h5.0v1.26h-5.0zM538.3 109.08h3.3v1.26h-3.3zM394.0 109.08h24.6v1.26h-24.6zM483.3 121.70h1.8v1.26h-1.8zM366.6 130.54h1.4v1.26h-1.4zM637.4 140.64h1.1v1.26h-1.1zM645.7 145.69h1.6v1.26h-1.6zM612.4 111.60h3.0v1.26h-3.0zM391.5 150.74h3.7v1.26h-3.7z"/>
<path fill="#150e37" d="M667.2 106.55h4.4v1.26h-4.4zM416.0 109.08h2.2v1.26h-2.2zM477.6 117.91h1.8v1.26h-1.8zM483.2 119.17h1.5v1.26h-1.5zM481.8 120.44h2.1v1.26h-2.1zM500.3 122.96h10.2v1.26h-10.2zM657.0 130.54h1.1v1.26h-1.1zM648.2 136.85h7.9v1.26h-7.9zM602.0 144.43h2.4v1.26h-2.4zM643.9 145.69h2.6v1.26h-2.6z"/>
<path fill="#380f6c" d="M628.2 106.55h6.5v1.26h-6.5zM626.4 120.44h2.7v1.26h-2.7zM503.5 124.22h7.5v1.26h-7.5zM400.0 146.95h1.3v1.26h-1.3z"/>
<path fill="#190e3e" d="M415.9 106.55h1.5v1.26h-1.5zM584.9 115.39h5.4v1.26h-5.4zM382.8 124.22h1.4v1.26h-1.4zM452.8 130.54h12.0v1.26h-12.0zM660.6 150.74h2.0v1.26h-2.0z"/>
<path fill="#681b80" d="M374.2 106.55h2.0v1.26h-2.0z"/>
<path fill="#210e4a" d="M507.3 106.55h4.7v1.26h-4.7zM645.3 107.81h1.6v1.26h-1.6zM435.9 111.60h2.1v1.26h-2.1z"/>
<path fill="#6b5a3a" d="M573.8 107.81h1.7v1.26h-1.7zM509.2 115.39h18.7v1.26h-18.7zM578.7 122.96h9.5v1.26h-9.5zM660.2 126.75h4.7v1.26h-4.7zM627.4 126.75h4.5v1.26h-4.5zM490.4 130.54h1.3v1.26h-1.3zM480.7 130.54h4.3v1.26h-4.3zM532.4 135.59h1.7v1.26h-1.7zM366.7 140.64h1.2v1.26h-1.2zM642.4 144.43h3.1v1.26h-3.1z"/>
<path fill="#3b0f70" d="M420.7 107.81h2.8v1.26h-2.8zM486.8 115.39h1.2v1.26h-1.2zM626.6 134.32h3.8v1.26h-3.8zM609.8 140.64h1.1v1.26h-1.1z"/>
<path fill="#240e4e" d="M392.2 107.81h2.6v1.26h-2.6zM564.5 121.70h4.4v1.26h-4.4zM554.1 133.06h1.6v1.26h-1.6zM667.3 134.32h3.7v1.26h-3.7zM585.0 122.96h4.8v1.26h-4.8z"/>
<path fill="#8a2881" d="M419.5 107.81h1.5v1.26h-1.5z"/>
<path fill="#110c2f" d="M598.9 107.81h9.6v1.26h-9.6zM569.3 121.70h1.7v1.26h-1.7zM458.8 124.22h11.9v1.26h-11.9zM664.7 129.28h1.9v1.26h-1.9zM593.3 131.80h2.7v1.26h-2.7zM679.1 134.32h3.4v1.26h-3.4zM656.8 136.85h2.0v1.26h-2.0zM657.1 145.69h5.9v1.26h-5.9z"/>
<path fill="#310f62" d="M588.1 107.81h2.2v1.26h-2.2zM534.4 111.60h4.7v1.26h-4.7z"/>
<path fill="#380f6b" d="M595.0 107.81h3.9v1.26h-3.9zM517.3 119.17h2.0v1.26h-2.0zM508.1 126.75h1.5v1.26h-1.5zM553.7 129.28h1.3v1.26h-1.3zM434.9 131.80h1.6v1.26h-1.6zM660.4 140.64h3.6v1.26h-3.6zM505.7 141.90h2.0v1.26h-2.0z"/>
<path fill="#2e0f5c" d="M677.3 107.81h1.0v1.26h-1.0zM583.2 124.22h1.4v1.26h-1.4zM486.1 111.60h1.7v1.26h-1.7zM584.9 150.74h2.1v1.26h-2.1zM649.3 150.74h1.5v1.26h-1.5z"/>
<path fill="#290f55" d="M661.3 109.08h1.1v1.26h-1.1zM413.2 111.60h3.5v1.26h-3.5zM476.7 134.32h1.7v1.26h-1.7zM494.5 134.32h3.2v1.26h-3.2zM496.0 138.11h15.4v1.26h-15.4zM556.7 146.95h1.5v1.26h-1.5zM648.9 146.95h4.2v1.26h-4.2zM473.5 122.96h4.3v1.26h-4.3zM478.7 122.96h2.7v1.26h-2.7z"/>
<path fill="#0f0a29" d="M631.9 109.08h22.4v1.26h-22.4zM553.1 134.32h4.1v1.26h-4.1zM657.5 140.64h1.2v1.26h-1.2zM387.1 141.90h2.2v1.26h-2.2zM473.2 146.95h2.1v1.26h-2.1z"/>
<path fill="#220e4b" d="M490.7 109.08h3.8v1.26h-3.8zM400.0 111.60h22.6v1.26h-22.6zM509.8 120.44h1.3v1.26h-1.3zM588.8 122.96h1.1v1.26h-1.1zM614.4 138.11h42.3v1.26h-42.3zM562.4 149.47h4.7v1.26h-4.7zM488.7 111.60h3.5v1.26h-3.5zM419.1 150.74h1.9v1.26h-1.9z"/>
<path fill="#0d0924" d="M667.7 109.08h3.0v1.26h-3.0zM530.5 111.60h8.0v1.26h-8.0zM504.1 114.12h1.4v1.26h-1.4zM596.6 133.06h2.9v1.26h-2.9zM562.7 133.06h2.9v1.26h-2.9zM502.1 135.59h2.4v1.26h-2.4zM626.9 135.59h1.1v1.26h-1.1zM407.9 144.43h1.1v1.26h-1.1z"/>
<path fill="#370f6a" d="M419.5 109.08h1.3v1.26h-1.3zM479.2 125.49h1.2v1.26h-1.2zM376.2 129.28h1.9v1.26h-1.9z"/>
<path fill="#370f6b" d="M509.1 109.08h1.4v1.26h-1.4zM643.8 117.91h2.0v1.26h-2.0z"/>
<path fill="#3b0f6f" d="M612.9 109.08h3.0v1.26h-3.0z"/>
<path fill="#2d0f5b" d="M635.9 109.08h5.2v1.26h-5.2zM529.3 126.75h1.5v1.26h-1.5zM476.7 144.43h2.8v1.26h-2.8zM551.1 145.69h4.6v1.26h-4.6zM525.1 145.69h6.2v1.26h-6.2z"/>
<path fill="#120d32" d="M648.7 109.08h6.5v1.26h-6.5zM647.3 110.34h3.9v1.26h-3.9zM679.6 117.91h1.3v1.26h-1.3zM680.4 117.91h2.9v1.26h-2.9zM400.6 124.22h12.4v1.26h-12.4zM615.7 124.22h3.9v1.26h-3.9zM634.2 129.28h2.4v1.26h-2.4zM385.6 133.06h4.0v1.26h-4.0zM381.8 150.74h4.4v1.26h-4.4zM454.4 150.74h2.8v1.26h-2.8zM529.7 150.74h4.2v1.26h-4.2z"/>
<path fill="#0c0923" d="M406.3 109.08h26.5v1.26h-26.5zM668.9 111.60h1.3v1.26h-1.3zM661.0 115.39h4.9v1.26h-4.9zM404.1 120.44h4.7v1.26h-4.7zM478.6 146.95h5.9v1.26h-5.9z"/>
<path fill="#57167b" d="M522.0 109.08h2.6v1.26h-2.6z"/>
<path fill="#6a1c80" d="M433.0 110.34h2.9v1.26h-2.9z"/>
<path fill="#451274" d="M548.8 110.34h1.9v1.26h-1.9zM399.2 124.22h3.7v1.26h-3.7zM663.3 130.54h3.0v1.26h-3.0z"/>
<path fill="#160e38" d="M642.7 111.60h6.7v1.26h-6.7zM428.8 111.60h1.1v1.26h-1.1zM461.6 112.86h1.3v1.26h-1.3zM590.0 120.44h2.0v1.26h-2.0zM498.4 146.95h1.3v1.26h-1.3zM462.2 111.60h2.5v1.26h-2.5zM619.1 150.74h3.5v1.26h-3.5z"/>
<path fill="#2e0f5d" d="M374.0 111.60h1.6v1.26h-1.6zM616.5 140.64h2.4v1.26h-2.4zM565.5 145.69h4.3v1.26h-4.3zM371.3 122.96h4.3v1.26h-4.3zM488.9 122.96h4.0v1.26h-4.0z"/>
<path fill="#170e3a" d="M478.6 111.60h2.2v1.26h-2.2zM650.4 119.17h4.2v1.26h-4.2zM458.9 124.22h1.6v1.26h-1.6zM601.3 136.85h1.6v1.26h-1.6zM605.2 139.38h2.1v1.26h-2.1zM629.8 149.47h6.7v1.26h-6.7zM400.4 150.74h3.0v1.26h-3.0z"/>
<path fill="#2b0f59" d="M509.3 111.60h1.6v1.26h-1.6zM383.6 120.44h5.5v1.26h-5.5z"/>
<path fill="#0e0a26" d="M616.0 111.60h2.3v1.26h-2.3zM664.7 128.01h1.9v1.26h-1.9zM658.7 134.32h5.9v1.26h-5.9zM466.6 134.32h21.2v1.26h-21.2zM462.0 138.11h5.2v1.26h-5.2zM435.9 144.43h1.5v1.26h-1.5zM434.2 150.74h4.0v1.26h-4.0z"/>
<path fill="#130e35" d="M386.9 111.60h2.5v1.26h-2.5zM516.5 116.65h1.0v1.26h-1.0zM522.9 136.85h10.7v1.26h-10.7zM423.4 150.74h2.9v1.26h-2.9zM593.5 150.74h3.5v1.26h-3.5z"/>
<path fill="#1e0e45" d="M540.5 111.60h2.8v1.26h-2.8zM614.0 115.39h11.2v1.26h-11.2zM473.6 129.28h8.4v1.26h-8.4zM522.5 141.90h8.9v1.26h-8.9zM617.9 111.60h2.9v1.26h-2.9z"/>
<path fill="#110c30" d="M482.8 111.60h1.5v1.26h-1.5zM639.3 119.17h1.5v1.26h-1.5zM680.2 121.70h1.7v1.26h-1.7z"/>
<path fill="#1b0e41" d="M586.3 111.60h2.6v1.26h-2.6zM609.5 124.22h1.1v1.26h-1.1zM380.4 125.49h2.4v1.26h-2.4zM416.1 126.75h4.5v1.26h-4.5zM554.3 130.54h1.6v1.26h-1.6zM382.0 133.06h2.3v1.26h-2.3zM517.1 135.59h26.4v1.26h-26.4zM659.0 136.85h6.8v1.26h-6.8zM511.9 136.85h23.7v1.26h-23.7zM613.8 148.21h4.6v1.26h-4.6z"/>
<path fill="#270e53" d="M588.9 112.86h4.7v1.26h-4.7zM522.5 136.85h1.9v1.26h-1.9z"/>
<path fill="#2f0f5f" d="M482.8 114.12h3.4v1.26h-3.4zM631.5 129.28h4.9v1.26h-4.9zM412.9 138.11h2.6v1.26h-2.6zM614.1 144.43h3.6v1.26h-3.6z"/>
<path fill="#360f68" d="M522.4 114.12h15.1v1.26h-15.1zM400.3 120.44h6.3v1.26h-6.3zM407.7 144.43h2.5v1.26h-2.5z"/>
<path fill="#1e0e46" d="M551.4 115.39h7.2v1.26h-7.2zM507.4 124.22h5.6v1.26h-5.6z"/>
<path fill="#762180" d="M532.9 116.65h2.4v1.26h-2.4z"/>
<path fill="#5b187c" d="M565.6 117.91h3.7v1.26h-3.7z"/>
<path fill="#100c2d" d="M624.7 117.91h1.0v1.26h-1.0zM461.0 128.01h5.1v1.26h-5.1zM644.5 136.85h2.7v1.26h-2.7zM593.4 145.69h7.7v1.26h-7.7zM408.8 150.74h3.0v1.26h-3.0zM669.6 150.74h3.1v1.26h-3.1z"/>
<path fill="#390f6e" d="M410.8 117.91h1.6v1.26h-1.6z"/>
<path fill="#340f65" d="M488.2 117.91h4.5v1.26h-4.5zM479.9 120.44h5.2v1.26h-5.2zM621.7 120.44h1.5v1.26h-1.5zM482.1 125.49h3.6v1.26h-3.6z"/>
<path fill="#0f0a28" d="M463.1 119.17h2.0v1.26h-2.0zM404.3 140.64h1.9v1.26h-1.9z"/>
<path fill="#8c2981" d="M427.6 119.17h5.6v1.26h-5.6z"/>
<path fill="#802581" d="M409.0 119.17h2.8v1.26h-2.8z"/>
<path fill="#200e47" d="M636.0 119.17h1.9v1.26h-1.9zM624.0 124.22h1.6v1.26h-1.6zM390.2 148.21h6.3v1.26h-6.3z"/>
<path fill="#62197f" d="M665.5 119.17h2.7v1.26h-2.7z"/>
<path fill="#9e2f7e" d="M678.9 119.17h1.2v1.26h-1.2z"/>
<path fill="#5e5a40" d="M428.4 120.44h2.5v1.26h-2.5zM622.5 134.32h2.8v1.26h-2.8zM377.7 135.59h1.0v1.26h-1.0zM505.1 136.85h1.1v1.26h-1.1zM527.4 140.64h5.7v1.26h-5.7zM663.6 145.69h1.9v1.26h-1.9zM477.3 145.69h1.7v1.26h-1.7zM457.2 146.95h5.0v1.26h-5.0z"/>
<path fill="#5f197e" d="M621.8 120.44h1.8v1.26h-1.8z"/>
<path fill="#120d31" d="M481.1 120.44h1.4v1.26h-1.4zM638.0 138.11h2.8v1.26h-2.8zM404.8 111.60h3.5v1.26h-3.5zM406.2 122.96h1.8v1.26h-1.8z"/>
<path fill="#0e0a28" d="M462.8 121.70h2.6v1.26h-2.6zM398.4 122.96h1.6v1.26h-1.6zM596.3 130.54h1.1v1.26h-1.1zM642.6 131.80h1.4v1.26h-1.4zM629.2 138.11h1.3v1.26h-1.3zM526.1 145.69h4.0v1.26h-4.0z"/>
<path fill="#340f66" d="M676.7 122.96h1.5v1.26h-1.5zM418.6 124.22h5.2v1.26h-5.2zM583.7 130.54h4.5v1.26h-4.5zM388.1 134.32h2.3v1.26h-2.3zM511.3 136.85h1.3v1.26h-1.3zM610.3 144.43h2.3v1.26h-2.3z"/>
<path fill="#9b2e7e" d="M393.9 122.96h4.7v1.26h-4.7z"/>
<path fill="#1c0e42" d="M529.4 122.96h1.3v1.26h-1.3zM427.4 124.22h1.2v1.26h-1.2zM395.5 126.75h1.2v1.26h-1.2zM445.2 130.54h25.4v1.26h-25.4zM472.7 134.32h1.6v1.26h-1.6zM373.3 139.38h3.6v1.26h-3.6zM565.9 143.16h1.1v1.26h-1.1zM392.4 150.74h3.5v1.26h-3.5zM526.8 111.60h4.1v1.26h-4.1zM540.8 150.74h3.2v1.26h-3.2zM657.7 150.74h1.8v1.26h-1.8z"/>
<path fill="#270e52" d="M602.7 122.96h1.4v1.26h-1.4zM502.7 129.28h7.2v1.26h-7.2zM610.2 140.64h1.9v1.26h-1.9zM645.6 141.90h1.6v1.26h-1.6zM527.4 148.21h2.6v1.26h-2.6z"/>
<path fill="#732080" d="M469.5 122.96h4.3v1.26h-4.3z"/>
<path fill="#320f62" d="M548.6 122.96h2.4v1.26h-2.4zM533.2 128.01h3.8v1.26h-3.8zM559.1 129.28h1.8v1.26h-1.8zM594.8 136.85h25.2v1.26h-25.2z"/>
<path fill="#2c0f59" d="M511.7 124.22h6.5v1.26h-6.5zM639.0 126.75h3.1v1.26h-3.1zM446.2 130.54h8.4v1.26h-8.4zM473.1 111.60h4.8v1.26h-4.8zM613.2 150.74h2.7v1.26h-2.7z"/>
<path fill="#4f1478" d="M527.3 124.22h6.9v1.26h-6.9zM406.9 144.43h4.9v1.26h-4.9z"/>
<path fill="#862781" d="M554.2 125.49h9.0v1.26h-9.0z"/>
<path fill="#390f6c" d="M617.2 125.49h3.6v1.26h-3.6z"/>
<path fill="#160e39" d="M437.8 126.75h10.6v1.26h-10.6zM437.1 130.54h4.1v1.26h-4.1zM411.7 135.59h1.6v1.26h-1.6zM672.1 141.90h3.3v1.26h-3.3zM553.8 144.43h1.7v1.26h-1.7zM377.5 146.95h2.9v1.26h-2.9zM368.6 148.21h1.2v1.26h-1.2zM559.5 111.60h1.7v1.26h-1.7z"/>
<path fill="#651a80" d="M659.5 126.75h2.3v1.26h-2.3z"/>
<path fill="#54167a" d="M666.2 126.75h2.6v1.26h-2.6z"/>
<path fill="#190e3d" d="M580.3 126.75h3.8v1.26h-3.8zM624.1 128.01h1.5v1.26h-1.5zM449.2 129.28h2.8v1.26h-2.8zM384.0 130.54h6.2v1.26h-6.2zM471.7 143.16h1.4v1.26h-1.4zM428.4 111.60h4.6v1.26h-4.6zM494.0 111.60h2.4v1.26h-2.4zM432.0 122.96h4.3v1.26h-4.3z"/>
<path fill="#0d0923" d="M425.9 126.75h3.6v1.26h-3.6zM531.0 145.69h2.2v1.26h-2.2z"/>
<path fill="#6e1e80" d="M509.5 126.75h11.5v1.26h-11.5z"/>
<path fill="#170e3b" d="M580.7 128.01h1.2v1.26h-1.2zM654.7 130.54h15.7v1.26h-15.7zM601.2 134.32h24.5v1.26h-24.5zM607.6 140.64h2.5v1.26h-2.5zM400.4 122.96h2.3v1.26h-2.3zM494.5 122.96h3.3v1.26h-3.3zM526.9 150.74h2.1v1.26h-2.1z"/>
<path fill="#431173" d="M476.7 129.28h16.5v1.26h-16.5zM464.2 129.28h3.8v1.26h-3.8zM436.9 148.21h2.2v1.26h-2.2z"/>
<path fill="#9d2e7e" d="M372.8 129.28h1.7v1.26h-1.7z"/>
<path fill="#1c0e41" d="M508.6 129.28h1.2v1.26h-1.2zM541.6 131.80h5.2v1.26h-5.2zM587.6 150.74h2.6v1.26h-2.6zM624.6 150.74h1.8v1.26h-1.8z"/>
<path fill="#260e50" d="M373.3 130.54h4.0v1.26h-4.0zM567.1 139.38h1.2v1.26h-1.2zM369.8 143.16h2.3v1.26h-2.3z"/>
<path fill="#2d0f5c" d="M429.0 130.54h1.9v1.26h-1.9z"/>
<path fill="#180e3d" d="M596.7 130.54h1.4v1.26h-1.4zM541.8 145.69h14.6v1.26h-14.6zM542.4 111.60h3.9v1.26h-3.9z"/>
<path fill="#0d0926" d="M560.5 131.80h6.5v1.26h-6.5zM657.8 145.69h2.0v1.26h-2.0z"/>
<path fill="#2f0f5d" d="M480.9 131.80h4.8v1.26h-4.8zM613.0 138.11h3.0v1.26h-3.0z"/>
<path fill="#912b80" d="M461.1 133.06h3.2v1.26h-3.2z"/>
<path fill="#401072" d="M450.1 134.32h4.5v1.26h-4.5z"/>
<path fill="#390f6d" d="M549.8 135.59h1.1v1.26h-1.1zM453.2 138.11h2.0v1.26h-2.0zM665.3 144.43h4.1v1.26h-4.1zM519.1 144.43h3.3v1.26h-3.3z"/>
<path fill="#370f69" d="M659.5 140.64h1.7v1.26h-1.7z"/>
<path fill="#1a0e3e" d="M484.2 141.90h7.2v1.26h-7.2z"/>
<path fill="#4b1376" d="M386.6 143.16h1.3v1.26h-1.3z"/>
<path fill="#0c0822" d="M614.2 144.43h2.2v1.26h-2.2zM550.0 148.21h1.1v1.26h-1.1z"/>
<path fill="#7a2281" d="M503.3 144.43h12.2v1.26h-12.2z"/>
<path fill="#661b80" d="M593.4 145.69h1.0v1.26h-1.0z"/>
<path fill="#501578" d="M561.2 145.69h8.1v1.26h-8.1z"/>
<path fill="#5e187e" d="M488.1 145.69h2.1v1.26h-2.1z"/>
<path fill="#310f60" d="M628.5 146.95h4.3v1.26h-4.3z"/>
<path fill="#902a80" d="M620.7 146.95h2.8v1.26h-2.8z"/>
<path fill="#942b80" d="M582.3 146.95h1.3v1.26h-1.3z"/>
<path fill="#a0307d" d="M528.4 148.21h6.7v1.26h-6.7z"/>
<path fill="#481275" d="M539.4 148.21h1.4v1.26h-1.4zM365.1 144.43h4.2v1.26h-4.2z"/>
<path fill="#1a0e40" d="M367.2 111.60h3.8v1.26h-3.8zM535.1 122.96h3.7v1.26h-3.7z"/>
<path fill="#330f63" d="M376.8 111.60h3.4v1.26h-3.4z"/>
<path fill="#140e37" d="M552.8 111.60h4.3v1.26h-4.3zM486.2 150.74h3.9v1.26h-3.9z"/>
<path fill="#1f0e47" d="M438.6 122.96h4.7v1.26h-4.7zM448.0 122.96h4.6v1.26h-4.6zM519.0 150.74h4.2v1.26h-4.2zM573.8 150.74h4.6v1.26h-4.6z"/>
<path fill="#130e34" d="M650.4 122.96h5.0v1.26h-5.0z"/>
<path fill="#481375" d="M391.5 144.43h4.6v1.26h-4.6z"/>
<path fill="#3c0f70" d="M438.3 144.43h3.1v1.26h-3.1z"/>
<path fill="#421173" d="M478.9 144.43h2.1v1.26h-2.1zM557.7 144.43h2.1v1.26h-2.1zM604.7 144.43h4.3v1.26h-4.3zM670.9 144.43h4.5v1.26h-4.5z"/>
<path fill="#1e0e44" d="M487.1 144.43h1.6v1.26h-1.6z"/>
<path fill="#3e1071" d="M491.1 144.43h4.9v1.26h-4.9z"/>
<path fill="#4e1478" d="M524.2 144.43h3.0v1.26h-3.0z"/>
<path fill="#4e1477" d="M529.1 144.43h1.8v1.26h-1.8z"/>
<path fill="#55167a" d="M579.6 144.43h1.5v1.26h-1.5z"/>
<path fill="#531579" d="M626.6 144.43h3.7v1.26h-3.7z"/>
<rect x="386.0" y="101.50" width="41.3" height="1.26" fill="url(#g19_5)"/>
<rect x="386.0" y="101.50" width="10.0" height="1.26" fill="url(#f18)"/>
<rect x="386.0" y="102.76" width="41.3" height="1.26" fill="url(#g16_3)"/>
<rect x="386.0" y="102.76" width="12.8" height="1.26" fill="url(#f19)"/>
<rect x="386.0" y="104.03" width="41.3" height="1.26" fill="url(#g13_4)"/>
<rect x="386.0" y="104.03" width="12.6" height="1.26" fill="url(#f18)"/>
<rect x="386.0" y="105.29" width="12.0" height="1.26" fill="url(#f14)"/>
<rect x="386.0" y="106.55" width="41.3" height="1.26" fill="url(#g9_3)"/>
<rect x="386.0" y="106.55" width="9.0" height="1.26" fill="url(#f16)"/>
<rect x="386.0" y="107.81" width="10.3" height="1.26" fill="url(#f16)"/>
<rect x="386.0" y="109.08" width="41.3" height="1.26" fill="url(#g7_2)"/>
<rect x="386.0" y="109.08" width="10.4" height="1.26" fill="url(#f16)"/>
<rect x="386.0" y="110.34" width="8.8" height="1.26" fill="url(#f13)"/>
<rect x="386.0" y="111.60" width="41.3" height="1.26" fill="url(#g6_1)"/>
<rect x="386.0" y="111.60" width="9.3" height="1.26" fill="url(#f14)"/>
<rect x="386.0" y="112.86" width="41.3" height="1.26" fill="url(#g7_1)"/>
<rect x="386.0" y="112.86" width="8.7" height="1.26" fill="url(#f14)"/>
<rect x="386.0" y="114.12" width="41.3" height="1.26" fill="url(#g5_1)"/>
<rect x="386.0" y="114.12" width="7.3" height="1.26" fill="url(#f11)"/>
<rect x="386.0" y="115.39" width="7.7" height="1.26" fill="url(#f12)"/>
<rect x="386.0" y="116.65" width="36.0" height="1.26" fill="url(#g5_0)"/>
<rect x="386.0" y="116.65" width="6.8" height="1.26" fill="url(#f11)"/>
<rect x="386.0" y="117.91" width="41.3" height="1.26" fill="url(#g5_1)"/>
<rect x="386.0" y="117.91" width="7.0" height="1.26" fill="url(#f10)"/>
<rect x="386.0" y="119.17" width="41.3" height="1.26" fill="url(#g5_0)"/>
<rect x="386.0" y="119.17" width="7.1" height="1.26" fill="url(#f13)"/>
<rect x="386.0" y="120.44" width="39.8" height="1.26" fill="url(#g6_0)"/>
<rect x="386.0" y="120.44" width="6.5" height="1.26" fill="url(#f12)"/>
<rect x="386.0" y="121.70" width="6.0" height="1.26" fill="url(#f11)"/>
<rect x="386.0" y="122.96" width="29.9" height="1.26" fill="url(#g5_0)"/>
<rect x="386.0" y="122.96" width="4.8" height="1.26" fill="url(#f10)"/>
<rect x="386.0" y="124.22" width="17.0" height="1.26" fill="url(#g5_0)"/>
<rect x="386.0" y="124.22" width="5.2" height="1.26" fill="url(#f10)"/>
<rect x="450.5" y="101.50" width="41.0" height="1.26" fill="url(#g20_5)"/>
<rect x="450.5" y="101.50" width="9.7" height="1.26" fill="url(#f19)"/>
<rect x="450.5" y="102.76" width="41.0" height="1.26" fill="url(#g16_5)"/>
<rect x="450.5" y="102.76" width="12.3" height="1.26" fill="url(#f19)"/>
<rect x="450.5" y="105.29" width="41.0" height="1.26" fill="url(#g9_3)"/>
<rect x="450.5" y="105.29" width="10.7" height="1.26" fill="url(#f15)"/>
<rect x="450.5" y="106.55" width="41.0" height="1.26" fill="url(#g8_3)"/>
<rect x="450.5" y="106.55" width="9.4" height="1.26" fill="url(#f15)"/>
<rect x="450.5" y="107.81" width="41.0" height="1.26" fill="url(#g7_2)"/>
<rect x="450.5" y="107.81" width="8.1" height="1.26" fill="url(#f15)"/>
<rect x="450.5" y="109.08" width="41.0" height="1.26" fill="url(#g9_2)"/>
<rect x="450.5" y="109.08" width="9.8" height="1.26" fill="url(#f16)"/>
<rect x="450.5" y="110.34" width="41.0" height="1.26" fill="url(#g7_1)"/>
<rect x="450.5" y="110.34" width="9.3" height="1.26" fill="url(#f16)"/>
<rect x="450.5" y="111.60" width="41.0" height="1.26" fill="url(#g6_1)"/>
<rect x="450.5" y="111.60" width="8.0" height="1.26" fill="url(#f13)"/>
<rect x="450.5" y="112.86" width="8.9" height="1.26" fill="url(#f14)"/>
<rect x="450.5" y="114.12" width="7.8" height="1.26" fill="url(#f13)"/>
<rect x="450.5" y="115.39" width="41.0" height="1.26" fill="url(#g5_1)"/>
<rect x="450.5" y="115.39" width="7.1" height="1.26" fill="url(#f11)"/>
<rect x="450.5" y="116.65" width="7.8" height="1.26" fill="url(#f11)"/>
<rect x="450.5" y="117.91" width="6.8" height="1.26" fill="url(#f11)"/>
<rect x="450.5" y="119.17" width="6.0" height="1.26" fill="url(#f11)"/>
<rect x="450.5" y="120.44" width="41.0" height="1.26" fill="url(#g5_0)"/>
<rect x="450.5" y="120.44" width="6.3" height="1.26" fill="url(#f10)"/>
<rect x="450.5" y="121.70" width="5.3" height="1.26" fill="url(#f10)"/>
<rect x="450.5" y="122.96" width="25.8" height="1.26" fill="url(#g5_0)"/>
<rect x="450.5" y="122.96" width="5.3" height="1.26" fill="url(#f10)"/>
<rect x="450.5" y="124.22" width="24.5" height="1.26" fill="url(#g4_0)"/>
<rect x="450.5" y="124.22" width="5.4" height="1.26" fill="url(#f8)"/>
<rect x="514.8" y="101.50" width="40.7" height="1.26" fill="url(#g18_4)"/>
<rect x="514.8" y="101.50" width="13.5" height="1.26" fill="url(#f19)"/>
<rect x="514.8" y="102.76" width="40.7" height="1.26" fill="url(#g17_4)"/>
<rect x="514.8" y="102.76" width="12.9" height="1.26" fill="url(#f19)"/>
<rect x="514.8" y="104.03" width="40.7" height="1.26" fill="url(#g14_4)"/>
<rect x="514.8" y="104.03" width="12.7" height="1.26" fill="url(#f18)"/>
<rect x="514.8" y="105.29" width="40.7" height="1.26" fill="url(#g12_3)"/>
<rect x="514.8" y="105.29" width="11.6" height="1.26" fill="url(#f17)"/>
<rect x="514.8" y="106.55" width="40.7" height="1.26" fill="url(#g9_3)"/>
<rect x="514.8" y="106.55" width="11.0" height="1.26" fill="url(#f17)"/>
<rect x="514.8" y="107.81" width="40.7" height="1.26" fill="url(#g8_4)"/>
<rect x="514.8" y="107.81" width="10.8" height="1.26" fill="url(#f14)"/>
<rect x="514.8" y="109.08" width="40.7" height="1.26" fill="url(#g9_3)"/>
<rect x="514.8" y="109.08" width="10.0" height="1.26" fill="url(#f17)"/>
<rect x="514.8" y="110.34" width="40.7" height="1.26" fill="url(#g7_3)"/>
<rect x="514.8" y="110.34" width="11.4" height="1.26" fill="url(#f13)"/>
<rect x="514.8" y="111.60" width="40.7" height="1.26" fill="url(#g8_3)"/>
<rect x="514.8" y="111.60" width="11.4" height="1.26" fill="url(#f14)"/>
<rect x="514.8" y="112.86" width="40.7" height="1.26" fill="url(#g6_2)"/>
<rect x="514.8" y="112.86" width="10.0" height="1.26" fill="url(#f13)"/>
<rect x="514.8" y="114.12" width="10.4" height="1.26" fill="url(#f13)"/>
<rect x="514.8" y="115.39" width="40.7" height="1.26" fill="url(#g7_1)"/>
<rect x="514.8" y="115.39" width="7.9" height="1.26" fill="url(#f15)"/>
<rect x="514.8" y="117.91" width="40.7" height="1.26" fill="url(#g6_1)"/>
<rect x="514.8" y="117.91" width="8.2" height="1.26" fill="url(#f12)"/>
<rect x="514.8" y="119.17" width="7.0" height="1.26" fill="url(#f12)"/>
<rect x="514.8" y="120.44" width="6.5" height="1.26" fill="url(#f11)"/>
<rect x="514.8" y="121.70" width="40.7" height="1.26" fill="url(#g5_0)"/>
<rect x="514.8" y="121.70" width="6.0" height="1.26" fill="url(#f12)"/>
<rect x="514.8" y="122.96" width="40.7" height="1.26" fill="url(#g5_0)"/>
<rect x="514.8" y="122.96" width="6.2" height="1.26" fill="url(#f11)"/>
<rect x="514.8" y="124.22" width="6.3" height="1.26" fill="url(#f10)"/>
<rect x="514.8" y="125.49" width="40.7" height="1.26" fill="url(#g4_0)"/>
<rect x="514.8" y="125.49" width="5.2" height="1.26" fill="url(#f10)"/>
<rect x="514.8" y="126.75" width="4.6" height="1.26" fill="url(#f10)"/>
<rect x="514.8" y="128.01" width="5.1" height="1.26" fill="url(#f10)"/>
<rect x="579.5" y="101.50" width="40.3" height="1.26" fill="url(#g16_5)"/>
<rect x="579.5" y="101.50" width="14.8" height="1.26" fill="url(#f17)"/>
<rect x="579.5" y="102.76" width="40.3" height="1.26" fill="url(#g15_5)"/>
<rect x="579.5" y="102.76" width="15.6" height="1.26" fill="url(#f16)"/>
<rect x="579.5" y="104.03" width="40.3" height="1.26" fill="url(#g12_5)"/>
<rect x="579.5" y="104.03" width="15.2" height="1.26" fill="url(#f15)"/>
<rect x="579.5" y="105.29" width="40.3" height="1.26" fill="url(#g15_4)"/>
<rect x="579.5" y="105.29" width="13.3" height="1.26" fill="url(#f17)"/>
<rect x="579.5" y="106.55" width="40.3" height="1.26" fill="url(#g12_5)"/>
<rect x="579.5" y="106.55" width="16.1" height="1.26" fill="url(#f16)"/>
<rect x="579.5" y="107.81" width="14.9" height="1.26" fill="url(#f15)"/>
<rect x="579.5" y="109.08" width="40.3" height="1.26" fill="url(#g11_4)"/>
<rect x="579.5" y="109.08" width="15.0" height="1.26" fill="url(#f15)"/>
<rect x="579.5" y="110.34" width="40.3" height="1.26" fill="url(#g10_4)"/>
<rect x="579.5" y="110.34" width="11.4" height="1.26" fill="url(#f15)"/>
<rect x="579.5" y="112.86" width="40.3" height="1.26" fill="url(#g9_4)"/>
<rect x="579.5" y="112.86" width="12.9" height="1.26" fill="url(#f14)"/>
<rect x="579.5" y="114.12" width="40.3" height="1.26" fill="url(#g9_4)"/>
<rect x="579.5" y="114.12" width="11.8" height="1.26" fill="url(#f14)"/>
<rect x="579.5" y="115.39" width="11.3" height="1.26" fill="url(#f15)"/>
<rect x="579.5" y="116.65" width="40.3" height="1.26" fill="url(#g8_4)"/>
<rect x="579.5" y="116.65" width="11.4" height="1.26" fill="url(#f13)"/>
<rect x="579.5" y="117.91" width="10.6" height="1.26" fill="url(#f15)"/>
<rect x="579.5" y="119.17" width="40.3" height="1.26" fill="url(#g7_2)"/>
<rect x="579.5" y="119.17" width="8.2" height="1.26" fill="url(#f12)"/>
<rect x="579.5" y="120.44" width="40.3" height="1.26" fill="url(#g6_3)"/>
<rect x="579.5" y="120.44" width="9.5" height="1.26" fill="url(#f11)"/>
<rect x="579.5" y="121.70" width="7.4" height="1.26" fill="url(#f11)"/>
<rect x="579.5" y="122.96" width="40.3" height="1.26" fill="url(#g7_3)"/>
<rect x="579.5" y="122.96" width="8.9" height="1.26" fill="url(#f12)"/>
<rect x="579.5" y="124.22" width="40.3" height="1.26" fill="url(#g6_2)"/>
<rect x="579.5" y="124.22" width="6.5" height="1.26" fill="url(#f11)"/>
<rect x="579.5" y="125.49" width="40.3" height="1.26" fill="url(#g5_2)"/>
<rect x="579.5" y="125.49" width="8.1" height="1.26" fill="url(#f10)"/>
<rect x="579.5" y="126.75" width="40.3" height="1.26" fill="url(#g5_1)"/>
<rect x="579.5" y="126.75" width="7.8" height="1.26" fill="url(#f11)"/>
<rect x="579.5" y="128.01" width="40.3" height="1.26" fill="url(#g5_1)"/>
<rect x="579.5" y="128.01" width="5.7" height="1.26" fill="url(#f11)"/>
<rect x="579.5" y="129.28" width="40.3" height="1.26" fill="url(#g5_2)"/>
<rect x="579.5" y="129.28" width="6.6" height="1.26" fill="url(#f9)"/>
<rect x="644.0" y="101.50" width="40.0" height="1.26" fill="url(#g18_4)"/>
<rect x="644.0" y="101.50" width="16.0" height="1.26" fill="url(#f19)"/>
<rect x="644.0" y="102.76" width="40.0" height="1.26" fill="url(#g14_5)"/>
<rect x="644.0" y="102.76" width="15.9" height="1.26" fill="url(#f16)"/>
<rect x="644.0" y="104.03" width="40.0" height="1.26" fill="url(#g16_5)"/>
<rect x="644.0" y="104.03" width="14.8" height="1.26" fill="url(#f20)"/>
<rect x="644.0" y="105.29" width="40.0" height="1.26" fill="url(#g16_5)"/>
<rect x="644.0" y="105.29" width="14.6" height="1.26" fill="url(#f19)"/>
<rect x="644.0" y="106.55" width="40.0" height="1.26" fill="url(#g15_4)"/>
<rect x="644.0" y="106.55" width="14.1" height="1.26" fill="url(#f17)"/>
<rect x="644.0" y="107.81" width="14.3" height="1.26" fill="url(#f14)"/>
<rect x="644.0" y="109.08" width="40.0" height="1.26" fill="url(#g12_4)"/>
<rect x="644.0" y="109.08" width="15.1" height="1.26" fill="url(#f15)"/>
<rect x="644.0" y="110.34" width="40.0" height="1.26" fill="url(#g9_4)"/>
<rect x="644.0" y="110.34" width="13.0" height="1.26" fill="url(#f14)"/>
<rect x="644.0" y="111.60" width="40.0" height="1.26" fill="url(#g10_4)"/>
<rect x="644.0" y="111.60" width="16.2" height="1.26" fill="url(#f14)"/>
<rect x="644.0" y="112.86" width="40.0" height="1.26" fill="url(#g13_4)"/>
<rect x="644.0" y="112.86" width="11.6" height="1.26" fill="url(#f17)"/>
<rect x="644.0" y="114.12" width="40.0" height="1.26" fill="url(#g9_5)"/>
<rect x="644.0" y="114.12" width="12.3" height="1.26" fill="url(#f13)"/>
<rect x="644.0" y="115.39" width="40.0" height="1.26" fill="url(#g10_4)"/>
<rect x="644.0" y="115.39" width="11.7" height="1.26" fill="url(#f16)"/>
<rect x="644.0" y="116.65" width="40.0" height="1.26" fill="url(#g9_4)"/>
<rect x="644.0" y="116.65" width="13.1" height="1.26" fill="url(#f14)"/>
<rect x="644.0" y="117.91" width="40.0" height="1.26" fill="url(#g8_4)"/>
<rect x="644.0" y="117.91" width="13.6" height="1.26" fill="url(#f13)"/>
<rect x="644.0" y="119.17" width="9.7" height="1.26" fill="url(#f15)"/>
<rect x="644.0" y="120.44" width="40.0" height="1.26" fill="url(#g10_4)"/>
<rect x="644.0" y="120.44" width="9.2" height="1.26" fill="url(#f15)"/>
<rect x="644.0" y="122.96" width="40.0" height="1.26" fill="url(#g9_3)"/>
<rect x="644.0" y="122.96" width="11.2" height="1.26" fill="url(#f14)"/>
<rect x="644.0" y="124.22" width="8.7" height="1.26" fill="url(#f13)"/>
<rect x="644.0" y="125.49" width="40.0" height="1.26" fill="url(#g7_3)"/>
<rect x="644.0" y="125.49" width="9.4" height="1.26" fill="url(#f11)"/>
<rect x="644.0" y="128.01" width="40.0" height="1.26" fill="url(#g6_3)"/>
<rect x="644.0" y="128.01" width="7.8" height="1.26" fill="url(#f10)"/>
<rect x="644.0" y="129.28" width="7.8" height="1.26" fill="url(#f12)"/>
<rect x="644.0" y="130.54" width="40.0" height="1.26" fill="url(#g6_3)"/>
<rect x="644.0" y="130.54" width="8.6" height="1.26" fill="url(#f11)"/>
<rect x="644.0" y="131.80" width="40.0" height="1.26" fill="url(#g5_2)"/>
<rect x="644.0" y="131.80" width="6.9" height="1.26" fill="url(#f10)"/>
<rect x="644.0" y="133.06" width="40.0" height="1.26" fill="url(#g6_3)"/>
<rect x="644.0" y="133.06" width="5.8" height="1.26" fill="url(#f11)"/>
<rect x="644.0" y="135.59" width="40.0" height="1.26" fill="url(#g5_3)"/>
<rect x="644.0" y="135.59" width="5.1" height="1.26" fill="url(#f10)"/>
<rect x="363" y="154.5" width="321" height="20.5" fill="#04030e"/>
<path fill="#150e38" d="M568.2 154.50h2.2v1.28h-2.2zM457.7 159.62h2.5v1.28h-2.5zM501.2 160.91h4.3v1.28h-4.3zM639.3 168.59h1.6v1.28h-1.6z"/>
<path fill="#240e4e" d="M499.4 154.50h1.3v1.28h-1.3zM395.8 163.47h1.9v1.28h-1.9z"/>
<path fill="#0c0923" d="M621.6 154.50h5.3v1.28h-5.3zM399.9 159.62h2.3v1.28h-2.3z"/>
<path fill="#200e47" d="M450.5 154.50h3.8v1.28h-3.8z"/>
<path fill="#110c2e" d="M593.3 154.50h1.0v1.28h-1.0zM531.9 159.62h7.7v1.28h-7.7zM679.8 162.19h1.4v1.28h-1.4zM578.7 171.16h4.5v1.28h-4.5zM416.0 173.72h1.4v1.28h-1.4z"/>
<path fill="#1c0e42" d="M594.7 154.50h4.9v1.28h-4.9zM545.0 159.62h3.8v1.28h-3.8zM661.8 172.44h2.1v1.28h-2.1z"/>
<path fill="#2e0f5d" d="M520.2 154.50h1.7v1.28h-1.7zM417.6 169.88h1.5v1.28h-1.5zM466.2 169.88h2.2v1.28h-2.2z"/>
<path fill="#0d0925" d="M615.1 154.50h1.2v1.28h-1.2zM558.3 159.62h3.7v1.28h-3.7zM527.1 160.91h2.2v1.28h-2.2z"/>
<path fill="#2a0f57" d="M430.9 155.78h1.5v1.28h-1.5zM679.3 160.91h1.7v1.28h-1.7zM463.8 160.91h10.7v1.28h-10.7zM427.0 167.31h5.7v1.28h-5.7zM370.9 167.31h5.7v1.28h-5.7z"/>
<path fill="#1a0e3e" d="M564.5 155.78h1.2v1.28h-1.2z"/>
<path fill="#390f6d" d="M520.6 155.78h1.1v1.28h-1.1zM557.9 160.91h4.8v1.28h-4.8zM655.6 171.16h4.5v1.28h-4.5zM678.0 173.72h6.0v1.28h-6.0z"/>
<path fill="#390f6c" d="M582.5 155.78h8.0v1.28h-8.0zM599.8 169.88h2.2v1.28h-2.2z"/>
<path fill="#230e4c" d="M422.3 157.06h2.2v1.28h-2.2z"/>
<path fill="#3a0f6e" d="M671.8 157.06h1.2v1.28h-1.2zM680.8 169.88h3.2v1.28h-3.2z"/>
<path fill="#0e0a27" d="M490.4 157.06h5.3v1.28h-5.3zM479.7 157.06h3.9v1.28h-3.9zM595.1 164.75h2.6v1.28h-2.6zM571.7 169.88h5.1v1.28h-5.1zM621.5 169.88h4.1v1.28h-4.1zM628.1 169.88h1.3v1.28h-1.3z"/>
<path fill="#300f60" d="M661.8 157.06h3.3v1.28h-3.3zM558.7 167.31h6.4v1.28h-6.4z"/>
<path fill="#2d0f5b" d="M658.8 157.06h2.4v1.28h-2.4z"/>
<path fill="#0f0a29" d="M366.2 157.06h2.2v1.28h-2.2zM658.2 163.47h2.1v1.28h-2.1z"/>
<path fill="#1f0e46" d="M474.6 157.06h3.5v1.28h-3.5zM540.0 159.62h28.8v1.28h-28.8zM559.3 162.19h9.8v1.28h-9.8z"/>
<path fill="#180e3c" d="M376.0 157.06h2.0v1.28h-2.0zM444.3 159.62h5.4v1.28h-5.4zM465.2 166.03h2.8v1.28h-2.8zM479.6 167.31h3.4v1.28h-3.4zM410.1 167.31h3.5v1.28h-3.5z"/>
<path fill="#2b0f59" d="M593.9 157.06h3.7v1.28h-3.7zM585.9 158.34h2.6v1.28h-2.6z"/>
<path fill="#130d32" d="M619.1 157.06h7.0v1.28h-7.0z"/>
<path fill="#140e36" d="M647.8 157.06h3.5v1.28h-3.5zM559.5 160.91h6.0v1.28h-6.0zM570.1 164.75h4.2v1.28h-4.2zM657.1 166.03h3.9v1.28h-3.9zM538.6 166.03h6.8v1.28h-6.8z"/>
<path fill="#260e50" d="M477.4 157.06h2.9v1.28h-2.9z"/>
<path fill="#140e35" d="M436.2 157.06h1.2v1.28h-1.2zM450.6 160.91h1.5v1.28h-1.5z"/>
<path fill="#2f0f5e" d="M528.8 157.06h2.6v1.28h-2.6zM669.4 159.62h6.6v1.28h-6.6zM363.0 173.72h2.5v1.28h-2.5z"/>
<path fill="#1d0e43" d="M452.7 158.34h4.2v1.28h-4.2z"/>
<path fill="#100b2b" d="M389.8 158.34h11.5v1.28h-11.5zM638.5 166.03h1.2v1.28h-1.2z"/>
<path fill="#330f64" d="M421.4 158.34h1.2v1.28h-1.2z"/>
<path fill="#120c30" d="M618.8 158.34h4.4v1.28h-4.4z"/>
<path fill="#270e52" d="M600.5 158.34h1.2v1.28h-1.2zM549.4 160.91h3.0v1.28h-3.0zM506.1 164.75h40.7v1.28h-40.7zM466.8 166.03h1.4v1.28h-1.4z"/>
<path fill="#200e48" d="M663.1 158.34h5.5v1.28h-5.5z"/>
<path fill="#170e3b" d="M638.7 159.62h3.2v1.28h-3.2zM442.9 159.62h1.1v1.28h-1.1zM430.5 162.19h4.1v1.28h-4.1zM579.6 167.31h7.6v1.28h-7.6zM641.8 167.31h8.3v1.28h-8.3zM504.6 173.72h4.3v1.28h-4.3z"/>
<path fill="#2a0f56" d="M374.9 159.62h1.6v1.28h-1.6z"/>
<path fill="#370f6b" d="M527.2 159.62h2.4v1.28h-2.4z"/>
<path fill="#210e49" d="M619.3 159.62h3.0v1.28h-3.0zM396.3 160.91h4.6v1.28h-4.6zM662.4 169.88h3.0v1.28h-3.0z"/>
<path fill="#250e50" d="M673.1 159.62h1.5v1.28h-1.5zM499.6 163.47h10.4v1.28h-10.4z"/>
<path fill="#180e3b" d="M373.6 159.62h1.1v1.28h-1.1z"/>
<path fill="#280f53" d="M461.6 159.62h1.2v1.28h-1.2zM655.9 162.19h3.4v1.28h-3.4zM515.1 164.75h9.7v1.28h-9.7z"/>
<path fill="#290f55" d="M403.3 159.62h1.6v1.28h-1.6zM474.7 171.16h14.1v1.28h-14.1zM483.3 172.44h3.0v1.28h-3.0z"/>
<path fill="#0f0b2a" d="M434.2 159.62h4.8v1.28h-4.8zM385.5 167.31h2.4v1.28h-2.4zM421.4 171.16h5.8v1.28h-5.8z"/>
<path fill="#310f62" d="M620.1 159.62h29.1v1.28h-29.1z"/>
<path fill="#1d0e44" d="M552.8 159.62h2.1v1.28h-2.1zM392.0 166.03h3.0v1.28h-3.0zM520.0 171.16h4.3v1.28h-4.3zM669.8 172.44h14.2v1.28h-14.2z"/>
<path fill="#9a2d7e" d="M515.6 160.91h2.3v1.28h-2.3z"/>
<path fill="#190e3d" d="M653.8 160.91h3.5v1.28h-3.5zM389.4 166.03h2.8v1.28h-2.8zM373.0 169.88h3.4v1.28h-3.4zM402.6 173.72h3.3v1.28h-3.3z"/>
<path fill="#742080" d="M629.0 160.91h2.4v1.28h-2.4zM378.5 171.16h10.5v1.28h-10.5zM562.5 169.88h3.8v1.28h-3.8zM509.6 173.72h4.0v1.28h-4.0z"/>
<path fill="#160e38" d="M444.1 160.91h1.1v1.28h-1.1zM493.7 173.72h5.5v1.28h-5.5z"/>
<path fill="#150e37" d="M658.9 160.91h1.8v1.28h-1.8zM499.6 173.72h1.1v1.28h-1.1zM571.3 173.72h6.8v1.28h-6.8z"/>
<path fill="#260e51" d="M508.2 160.91h5.9v1.28h-5.9z"/>
<path fill="#380f6b" d="M565.0 162.19h3.7v1.28h-3.7zM645.1 166.03h3.2v1.28h-3.2z"/>
<path fill="#2b0f58" d="M613.2 162.19h1.9v1.28h-1.9zM472.9 162.19h1.5v1.28h-1.5z"/>
<path fill="#250e4f" d="M469.4 162.19h1.2v1.28h-1.2zM675.3 167.31h4.2v1.28h-4.2zM412.9 169.88h1.3v1.28h-1.3z"/>
<path fill="#1a0e3f" d="M569.5 162.19h2.3v1.28h-2.3z"/>
<path fill="#360f68" d="M387.2 162.19h10.3v1.28h-10.3zM604.7 169.88h3.8v1.28h-3.8z"/>
<path fill="#100b2c" d="M598.0 162.19h1.7v1.28h-1.7zM492.9 167.31h1.6v1.28h-1.6z"/>
<path fill="#1b0e41" d="M385.2 162.19h2.7v1.28h-2.7zM512.4 166.03h2.5v1.28h-2.5zM363.6 168.59h4.0v1.28h-4.0z"/>
<path fill="#310f61" d="M374.4 162.19h9.1v1.28h-9.1zM371.6 168.59h6.0v1.28h-6.0zM499.4 169.88h4.0v1.28h-4.0zM662.5 169.88h2.2v1.28h-2.2zM534.6 173.72h1.5v1.28h-1.5z"/>
<path fill="#2c0f5a" d="M669.0 163.47h4.6v1.28h-4.6zM673.4 167.31h4.6v1.28h-4.6zM588.3 169.88h1.2v1.28h-1.2z"/>
<path fill="#160e39" d="M588.7 163.47h38.4v1.28h-38.4zM657.6 164.75h1.7v1.28h-1.7zM677.1 167.31h6.9v1.28h-6.9z"/>
<path fill="#130d33" d="M482.1 164.75h1.5v1.28h-1.5zM550.0 168.59h1.7v1.28h-1.7z"/>
<path fill="#6b5a3a" d="M548.4 164.75h7.4v1.28h-7.4zM567.9 164.75h1.8v1.28h-1.8zM437.2 169.88h2.5v1.28h-2.5z"/>
<path fill="#0e0a26" d="M452.0 164.75h2.9v1.28h-2.9z"/>
<path fill="#370f69" d="M665.2 164.75h6.5v1.28h-6.5z"/>
<path fill="#340f66" d="M504.4 164.75h7.4v1.28h-7.4zM568.0 169.88h3.4v1.28h-3.4z"/>
<path fill="#882781" d="M548.9 164.75h1.6v1.28h-1.6z"/>
<path fill="#57177b" d="M588.9 164.75h1.4v1.28h-1.4z"/>
<path fill="#300f5f" d="M585.7 164.75h1.1v1.28h-1.1zM482.5 169.88h3.2v1.28h-3.2z"/>
<path fill="#0d0923" d="M400.8 164.75h4.6v1.28h-4.6z"/>
<path fill="#110c2f" d="M562.0 164.75h1.0v1.28h-1.0zM389.4 172.44h1.4v1.28h-1.4z"/>
<path fill="#120d32" d="M433.4 166.03h4.9v1.28h-4.9z"/>
<path fill="#5e5a40" d="M424.7 166.03h9.1v1.28h-9.1z"/>
<path fill="#100b2d" d="M469.3 166.03h2.3v1.28h-2.3z"/>
<path fill="#340f65" d="M679.7 166.03h1.4v1.28h-1.4z"/>
<path fill="#0d0924" d="M523.2 166.03h3.8v1.28h-3.8z"/>
<path fill="#7a6a48" d="M426.4 167.31h1.7v1.28h-1.7zM409.3 169.88h2.5v1.28h-2.5z"/>
<path fill="#190e3e" d="M426.0 167.31h3.6v1.28h-3.6zM511.4 171.16h5.2v1.28h-5.2z"/>
<path fill="#8a6040" d="M408.5 167.31h2.7v1.28h-2.7z"/>
<path fill="#360f69" d="M616.4 167.31h2.5v1.28h-2.5zM423.4 173.72h3.0v1.28h-3.0z"/>
<path fill="#320f63" d="M416.2 167.31h3.4v1.28h-3.4z"/>
<path fill="#220e4b" d="M593.8 167.31h2.9v1.28h-2.9z"/>
<path fill="#130d34" d="M566.6 168.59h1.3v1.28h-1.3zM383.0 173.72h2.2v1.28h-2.2z"/>
<path fill="#270e53" d="M509.5 168.59h2.3v1.28h-2.3z"/>
<path fill="#380f6c" d="M380.3 169.88h1.2v1.28h-1.2zM421.1 173.72h2.6v1.28h-2.6z"/>
<path fill="#320f62" d="M490.4 169.88h42.4v1.28h-42.4z"/>
<path fill="#0e0a28" d="M404.6 169.88h2.2v1.28h-2.2z"/>
<path fill="#370f6a" d="M571.6 169.88h4.7v1.28h-4.7zM400.3 171.16h8.2v1.28h-8.2z"/>
<path fill="#9f2f7d" d="M648.2 171.16h2.5v1.28h-2.5z"/>
<path fill="#3a0f6f" d="M617.9 171.16h1.9v1.28h-1.9z"/>
<path fill="#1e0e45" d="M372.6 171.16h2.8v1.28h-2.8z"/>
<path fill="#350f68" d="M680.2 171.16h3.8v1.28h-3.8zM568.1 173.72h3.7v1.28h-3.7z"/>
<path fill="#120d31" d="M514.0 171.16h1.1v1.28h-1.1zM514.6 171.16h2.3v1.28h-2.3z"/>
<path fill="#110c2d" d="M564.8 171.16h6.9v1.28h-6.9zM445.7 173.72h1.6v1.28h-1.6z"/>
<path fill="#330f63" d="M489.8 171.16h1.9v1.28h-1.9zM676.6 173.72h1.2v1.28h-1.2z"/>
<path fill="#2c0f59" d="M597.2 171.16h42.8v1.28h-42.8z"/>
<path fill="#0f0a28" d="M659.6 173.72h1.9v1.28h-1.9z"/>
<path fill="#180e3d" d="M427.6 173.72h1.7v1.28h-1.7z"/>
<path fill="#1c0e41" d="M477.2 173.72h5.6v1.28h-5.6z"/>
<path fill="#350f66" d="M385.1 169.88h4.5v1.28h-4.5z"/>
<path fill="#762180" d="M415.0 169.88h3.7v1.28h-3.7zM609.2 173.72h3.7v1.28h-3.7z"/>
<path fill="#57167b" d="M421.7 169.88h5.0v1.28h-5.0zM395.9 173.72h4.3v1.28h-4.3z"/>
<path fill="#681b80" d="M429.8 169.88h4.5v1.28h-4.5z"/>
<path fill="#671b80" d="M437.1 169.88h1.7v1.28h-1.7zM511.5 169.88h2.8v1.28h-2.8z"/>
<path fill="#471275" d="M441.3 169.88h2.8v1.28h-2.8z"/>
<path fill="#4b1376" d="M448.0 169.88h2.8v1.28h-2.8z"/>
<path fill="#3c0f70" d="M453.8 169.88h2.6v1.28h-2.6z"/>
<path fill="#401072" d="M472.4 169.88h4.6v1.28h-4.6z"/>
<path fill="#461274" d="M480.3 169.88h1.7v1.28h-1.7z"/>
<path fill="#491376" d="M494.4 169.88h1.9v1.28h-1.9zM633.3 169.88h4.6v1.28h-4.6z"/>
<path fill="#3b0f70" d="M505.7 169.88h2.2v1.28h-2.2z"/>
<path fill="#4f1478" d="M516.0 169.88h3.5v1.28h-3.5z"/>
<path fill="#511579" d="M520.9 169.88h4.6v1.28h-4.6zM550.0 169.88h3.2v1.28h-3.2z"/>
<path fill="#421173" d="M528.0 169.88h3.9v1.28h-3.9z"/>
<path fill="#772180" d="M532.6 169.88h4.6v1.28h-4.6zM418.8 173.72h1.6v1.28h-1.6z"/>
<path fill="#61197f" d="M583.0 169.88h2.8v1.28h-2.8z"/>
<path fill="#3d1071" d="M620.7 169.88h4.9v1.28h-4.9z"/>
<path fill="#3f1071" d="M628.4 169.88h3.1v1.28h-3.1z"/>
<path fill="#661b80" d="M647.6 169.88h2.7v1.28h-2.7z"/>
<path fill="#641a80" d="M658.3 169.88h2.6v1.28h-2.6zM400.7 173.72h1.6v1.28h-1.6z"/>
<path fill="#2d0f5a" d="M671.6 169.88h3.4v1.28h-3.4z"/>
<path fill="#5f197e" d="M382.9 173.72h4.6v1.28h-4.6zM561.4 173.72h3.6v1.28h-3.6zM603.6 173.72h4.1v1.28h-4.1z"/>
<path fill="#732080" d="M408.7 173.72h1.6v1.28h-1.6z"/>
<path fill="#3f1072" d="M411.2 173.72h4.2v1.28h-4.2z"/>
<path fill="#6a1c80" d="M427.5 173.72h4.0v1.28h-4.0z"/>
<path fill="#631a7f" d="M450.9 173.72h4.6v1.28h-4.6z"/>
<path fill="#691c80" d="M456.8 173.72h4.3v1.28h-4.3z"/>
<path fill="#6c1d80" d="M474.3 173.72h3.0v1.28h-3.0zM586.9 173.72h4.1v1.28h-4.1z"/>
<path fill="#792281" d="M479.2 173.72h2.7v1.28h-2.7zM502.3 173.72h4.3v1.28h-4.3zM529.2 173.72h4.3v1.28h-4.3z"/>
<path fill="#782281" d="M495.0 173.72h4.1v1.28h-4.1z"/>
<path fill="#60197f" d="M516.5 173.72h4.7v1.28h-4.7z"/>
<path fill="#721f80" d="M523.6 173.72h2.8v1.28h-2.8z"/>
<path fill="#2e0f5c" d="M539.7 173.72h4.3v1.28h-4.3z"/>
<path fill="#752080" d="M575.3 173.72h1.9v1.28h-1.9z"/>
<path fill="#5d187d" d="M578.2 173.72h2.0v1.28h-2.0z"/>
<path fill="#6f1e80" d="M593.9 173.72h3.7v1.28h-3.7z"/>
<path fill="#521579" d="M624.6 173.72h3.1v1.28h-3.1z"/>
<path fill="#3e1071" d="M635.7 173.72h2.3v1.28h-2.3z"/>
<path fill="#53167a" d="M666.3 173.72h4.2v1.28h-4.2z"/>
<rect x="386.0" y="154.50" width="41.3" height="1.28" fill="url(#g17_5)"/>
<rect x="386.0" y="154.50" width="11.7" height="1.28" fill="url(#f17)"/>
<rect x="386.0" y="155.78" width="41.3" height="1.28" fill="url(#g8_4)"/>
<rect x="386.0" y="155.78" width="11.1" height="1.28" fill="url(#f15)"/>
<rect x="386.0" y="157.06" width="41.3" height="1.28" fill="url(#g6_2)"/>
<rect x="386.0" y="157.06" width="7.4" height="1.28" fill="url(#f13)"/>
<rect x="386.0" y="158.34" width="38.8" height="1.28" fill="url(#g6_0)"/>
<rect x="386.0" y="158.34" width="8.7" height="1.28" fill="url(#f12)"/>
<rect x="386.0" y="159.62" width="30.3" height="1.28" fill="url(#g6_0)"/>
<rect x="386.0" y="159.62" width="5.8" height="1.28" fill="url(#f12)"/>
<rect x="386.0" y="162.19" width="5.0" height="1.28" fill="url(#f9)"/>
<rect x="450.5" y="154.50" width="41.0" height="1.28" fill="url(#g16_5)"/>
<rect x="450.5" y="154.50" width="10.9" height="1.28" fill="url(#f19)"/>
<rect x="450.5" y="155.78" width="41.0" height="1.28" fill="url(#g11_4)"/>
<rect x="450.5" y="155.78" width="11.1" height="1.28" fill="url(#f17)"/>
<rect x="450.5" y="157.06" width="41.0" height="1.28" fill="url(#g7_2)"/>
<rect x="450.5" y="157.06" width="8.7" height="1.28" fill="url(#f15)"/>
<rect x="450.5" y="158.34" width="28.4" height="1.28" fill="url(#g6_0)"/>
<rect x="450.5" y="158.34" width="8.0" height="1.28" fill="url(#f13)"/>
<rect x="450.5" y="159.62" width="29.7" height="1.28" fill="url(#g5_0)"/>
<rect x="450.5" y="159.62" width="8.2" height="1.28" fill="url(#f11)"/>
<rect x="450.5" y="162.19" width="13.9" height="1.28" fill="url(#g5_0)"/>
<rect x="450.5" y="162.19" width="4.8" height="1.28" fill="url(#f11)"/>
<rect x="450.5" y="163.47" width="4.6" height="1.28" fill="url(#f11)"/>
<rect x="514.8" y="154.50" width="40.7" height="1.28" fill="url(#g17_5)"/>
<rect x="514.8" y="154.50" width="12.2" height="1.28" fill="url(#f20)"/>
<rect x="514.8" y="155.78" width="40.7" height="1.28" fill="url(#g12_4)"/>
<rect x="514.8" y="155.78" width="10.9" height="1.28" fill="url(#f19)"/>
<rect x="514.8" y="157.06" width="40.7" height="1.28" fill="url(#g9_2)"/>
<rect x="514.8" y="157.06" width="9.2" height="1.28" fill="url(#f17)"/>
<rect x="514.8" y="158.34" width="40.7" height="1.28" fill="url(#g7_3)"/>
<rect x="514.8" y="158.34" width="8.3" height="1.28" fill="url(#f13)"/>
<rect x="514.8" y="159.62" width="40.7" height="1.28" fill="url(#g6_1)"/>
<rect x="514.8" y="159.62" width="7.5" height="1.28" fill="url(#f13)"/>
<rect x="514.8" y="160.91" width="7.6" height="1.28" fill="url(#f12)"/>
<rect x="514.8" y="162.19" width="36.2" height="1.28" fill="url(#g5_0)"/>
<rect x="514.8" y="162.19" width="5.7" height="1.28" fill="url(#f11)"/>
<rect x="514.8" y="163.47" width="18.6" height="1.28" fill="url(#g5_0)"/>
<rect x="514.8" y="163.47" width="5.3" height="1.28" fill="url(#f12)"/>
<rect x="514.8" y="164.75" width="11.4" height="1.28" fill="url(#g4_0)"/>
<rect x="514.8" y="164.75" width="5.1" height="1.28" fill="url(#f9)"/>
<rect x="579.5" y="154.50" width="40.3" height="1.28" fill="url(#g19_5)"/>
<rect x="579.5" y="154.50" width="10.1" height="1.28" fill="url(#f19)"/>
<rect x="579.5" y="155.78" width="40.3" height="1.28" fill="url(#g14_5)"/>
<rect x="579.5" y="155.78" width="10.6" height="1.28" fill="url(#f20)"/>
<rect x="579.5" y="157.06" width="40.3" height="1.28" fill="url(#g14_4)"/>
<rect x="579.5" y="157.06" width="10.5" height="1.28" fill="url(#f18)"/>
<rect x="579.5" y="158.34" width="40.3" height="1.28" fill="url(#g11_4)"/>
<rect x="579.5" y="158.34" width="8.3" height="1.28" fill="url(#f15)"/>
<rect x="579.5" y="159.62" width="40.3" height="1.28" fill="url(#g11_3)"/>
<rect x="579.5" y="159.62" width="9.1" height="1.28" fill="url(#f15)"/>
<rect x="579.5" y="162.19" width="7.1" height="1.28" fill="url(#f15)"/>
<rect x="579.5" y="163.47" width="40.3" height="1.28" fill="url(#g7_3)"/>
<rect x="579.5" y="163.47" width="6.7" height="1.28" fill="url(#f12)"/>
<rect x="579.5" y="164.75" width="40.3" height="1.28" fill="url(#g6_2)"/>
<rect x="579.5" y="164.75" width="5.3" height="1.28" fill="url(#f13)"/>
<rect x="579.5" y="166.03" width="40.3" height="1.28" fill="url(#g5_0)"/>
<rect x="579.5" y="166.03" width="4.9" height="1.28" fill="url(#f11)"/>
<rect x="579.5" y="167.31" width="4.3" height="1.28" fill="url(#f11)"/>
<rect x="644.0" y="154.50" width="40.0" height="1.28" fill="url(#g20_5)"/>
<rect x="644.0" y="154.50" width="12.0" height="1.28" fill="url(#f20)"/>
<rect x="644.0" y="155.78" width="40.0" height="1.28" fill="url(#g17_4)"/>
<rect x="644.0" y="155.78" width="12.6" height="1.28" fill="url(#f17)"/>
<rect x="644.0" y="157.06" width="40.0" height="1.28" fill="url(#g14_5)"/>
<rect x="644.0" y="157.06" width="11.9" height="1.28" fill="url(#f15)"/>
<rect x="644.0" y="158.34" width="40.0" height="1.28" fill="url(#g14_4)"/>
<rect x="644.0" y="158.34" width="10.6" height="1.28" fill="url(#f16)"/>
<rect x="644.0" y="160.91" width="40.0" height="1.28" fill="url(#g13_4)"/>
<rect x="644.0" y="160.91" width="11.0" height="1.28" fill="url(#f15)"/>
<rect x="644.0" y="162.19" width="40.0" height="1.28" fill="url(#g10_4)"/>
<rect x="644.0" y="162.19" width="8.7" height="1.28" fill="url(#f15)"/>
<rect x="644.0" y="163.47" width="40.0" height="1.28" fill="url(#g7_4)"/>
<rect x="644.0" y="163.47" width="9.0" height="1.28" fill="url(#f12)"/>
<rect x="644.0" y="164.75" width="40.0" height="1.28" fill="url(#g10_4)"/>
<rect x="644.0" y="164.75" width="8.0" height="1.28" fill="url(#f14)"/>
<rect x="644.0" y="166.03" width="7.8" height="1.28" fill="url(#f11)"/>
<rect x="644.0" y="167.31" width="6.9" height="1.28" fill="url(#f12)"/>
<rect x="644.0" y="168.59" width="40.0" height="1.28" fill="url(#g7_3)"/>
<rect x="644.0" y="168.59" width="7.5" height="1.28" fill="url(#f10)"/>
<rect x="644.0" y="169.88" width="40.0" height="1.28" fill="url(#g6_3)"/>
<rect x="644.0" y="169.88" width="6.8" height="1.28" fill="url(#f11)"/>
<rect x="644.0" y="171.16" width="40.0" height="1.28" fill="url(#g6_3)"/>
<rect x="644.0" y="171.16" width="5.8" height="1.28" fill="url(#f11)"/>
<rect x="363" y="177.5" width="321" height="39.5" fill="#04030e"/>
<path fill="#1f0e46" d="M455.0 177.50h3.2v1.23h-3.2z"/>
<path fill="#100b2b" d="M390.7 177.50h1.5v1.23h-1.5z"/>
<path fill="#380f6b" d="M633.9 178.73h2.6v1.23h-2.6zM489.0 187.38h2.0v1.23h-2.0z"/>
<path fill="#220e4a" d="M582.8 178.73h42.4v1.23h-42.4z"/>
<path fill="#2e0f5c" d="M405.0 179.97h5.7v1.23h-5.7z"/>
<path fill="#100b2d" d="M581.0 181.20h16.3v1.23h-16.3z"/>
<path fill="#230e4c" d="M552.1 182.44h1.3v1.23h-1.3z"/>
<path fill="#310f61" d="M612.7 182.44h1.2v1.23h-1.2zM510.3 207.12h1.5v1.23h-1.5z"/>
<path fill="#1f0e47" d="M583.2 183.67h2.5v1.23h-2.5z"/>
<path fill="#380f6c" d="M605.8 184.91h3.1v1.23h-3.1z"/>
<path fill="#7a6a48" d="M527.0 186.14h4.6v1.23h-4.6z"/>
<path fill="#330f64" d="M599.4 186.14h1.8v1.23h-1.8z"/>
<path fill="#180e3d" d="M590.4 186.14h1.5v1.23h-1.5z"/>
<path fill="#350f67" d="M461.5 188.61h1.6v1.23h-1.6z"/>
<path fill="#3a0f6f" d="M493.7 189.84h1.2v1.23h-1.2z"/>
<path fill="#5a177c" d="M600.4 189.84h10.8v1.23h-10.8z"/>
<path fill="#2c0f59" d="M422.1 191.08h1.8v1.23h-1.8zM664.0 198.48h4.2v1.23h-4.2z"/>
<path fill="#340f66" d="M408.3 193.55h9.9v1.23h-9.9z"/>
<path fill="#6a4a3a" d="M505.7 194.78h1.3v1.23h-1.3z"/>
<path fill="#1e0e45" d="M475.2 199.72h3.0v1.23h-3.0z"/>
<path fill="#240e4e" d="M588.4 200.95h10.3v1.23h-10.3z"/>
<path fill="#200e48" d="M398.7 200.95h2.7v1.23h-2.7z"/>
<path fill="#140e36" d="M614.4 202.19h4.9v1.23h-4.9zM535.8 205.89h40.4v1.23h-40.4zM511.4 210.83h1.4v1.23h-1.4z"/>
<path fill="#8a2881" d="M597.5 202.19h1.3v1.23h-1.3z"/>
<path fill="#4d1477" d="M499.8 203.42h2.0v1.23h-2.0z"/>
<path fill="#370f6a" d="M470.6 203.42h3.4v1.23h-3.4zM580.6 204.66h4.7v1.23h-4.7z"/>
<path fill="#3a0f6e" d="M671.2 204.66h9.7v1.23h-9.7zM584.2 207.12h11.8v1.23h-11.8z"/>
<path fill="#330f65" d="M621.8 204.66h1.5v1.23h-1.5z"/>
<path fill="#8a6040" d="M490.7 205.89h4.1v1.23h-4.1z"/>
<path fill="#1b0e41" d="M462.2 208.36h4.9v1.23h-4.9z"/>
<path fill="#1d0e43" d="M550.1 208.36h32.2v1.23h-32.2z"/>
<path fill="#5d187d" d="M422.5 209.59h2.4v1.23h-2.4z"/>
<path fill="#150e38" d="M473.2 210.83h1.2v1.23h-1.2z"/>
<path fill="#130d33" d="M540.7 212.06h1.2v1.23h-1.2zM547.2 213.30h3.9v1.23h-3.9z"/>
<path fill="#130e35" d="M501.7 213.30h1.6v1.23h-1.6z"/>
<path fill="#170e3a" d="M625.1 214.53h3.6v1.23h-3.6z"/>
<path fill="#150e37" d="M662.2 215.77h1.0v1.23h-1.0z"/>
<path fill="#2d0f5b" d="M625.9 215.77h8.6v1.23h-8.6z"/>
<rect x="386.0" y="177.50" width="12.4" height="1.23" fill="url(#g3_0)"/>
<rect x="386.0" y="177.50" width="3.4" height="1.23" fill="url(#f8)"/>
<rect x="386.0" y="178.73" width="9.3" height="1.23" fill="url(#g3_0)"/>
<rect x="386.0" y="178.73" width="2.7" height="1.23" fill="url(#f6)"/>
<rect x="450.5" y="177.50" width="12.2" height="1.23" fill="url(#g4_0)"/>
<rect x="450.5" y="177.50" width="3.4" height="1.23" fill="url(#f10)"/>
<rect x="450.5" y="178.73" width="9.7" height="1.23" fill="url(#g4_0)"/>
<rect x="450.5" y="178.73" width="2.7" height="1.23" fill="url(#f8)"/>
<rect x="450.5" y="179.97" width="8.1" height="1.23" fill="url(#g3_0)"/>
<rect x="450.5" y="179.97" width="2.4" height="1.23" fill="url(#f6)"/>
<rect x="514.8" y="177.50" width="4.4" height="1.23" fill="url(#f12)"/>
<rect x="514.8" y="178.73" width="10.0" height="1.23" fill="url(#g6_0)"/>
<rect x="514.8" y="178.73" width="4.6" height="1.23" fill="url(#f13)"/>
<rect x="514.8" y="179.97" width="12.5" height="1.23" fill="url(#g5_0)"/>
<rect x="514.8" y="179.97" width="3.7" height="1.23" fill="url(#f12)"/>
<rect x="514.8" y="181.20" width="10.9" height="1.23" fill="url(#g5_0)"/>
<rect x="514.8" y="181.20" width="4.3" height="1.23" fill="url(#f11)"/>
<rect x="514.8" y="182.44" width="3.4" height="1.23" fill="url(#f10)"/>
<rect x="514.8" y="183.67" width="3.9" height="1.23" fill="url(#f10)"/>
<rect x="514.8" y="184.91" width="7.5" height="1.23" fill="url(#g4_0)"/>
<rect x="514.8" y="184.91" width="3.6" height="1.23" fill="url(#f9)"/>
<rect x="514.8" y="186.14" width="2.9" height="1.23" fill="url(#f9)"/>
<rect x="514.8" y="187.38" width="2.7" height="1.23" fill="url(#f8)"/>
<rect x="514.8" y="188.61" width="6.6" height="1.23" fill="url(#g3_0)"/>
<rect x="514.8" y="188.61" width="2.8" height="1.23" fill="url(#f6)"/>
<rect x="514.8" y="189.84" width="2.7" height="1.23" fill="url(#f7)"/>
<rect x="579.5" y="177.50" width="15.2" height="1.23" fill="url(#g8_0)"/>
<rect x="579.5" y="177.50" width="8.6" height="1.23" fill="url(#f19)"/>
<rect x="579.5" y="178.73" width="14.7" height="1.23" fill="url(#g9_0)"/>
<rect x="579.5" y="178.73" width="7.2" height="1.23" fill="url(#f19)"/>
<rect x="579.5" y="179.97" width="13.1" height="1.23" fill="url(#g7_0)"/>
<rect x="579.5" y="179.97" width="6.3" height="1.23" fill="url(#f16)"/>
<rect x="579.5" y="181.20" width="9.6" height="1.23" fill="url(#g7_0)"/>
<rect x="579.5" y="181.20" width="7.2" height="1.23" fill="url(#f18)"/>
<rect x="579.5" y="182.44" width="9.1" height="1.23" fill="url(#g8_0)"/>
<rect x="579.5" y="182.44" width="5.9" height="1.23" fill="url(#f17)"/>
<rect x="579.5" y="183.67" width="6.3" height="1.23" fill="url(#f16)"/>
<rect x="579.5" y="184.91" width="12.1" height="1.23" fill="url(#g7_0)"/>
<rect x="579.5" y="184.91" width="6.2" height="1.23" fill="url(#f15)"/>
<rect x="579.5" y="186.14" width="6.1" height="1.23" fill="url(#f16)"/>
<rect x="579.5" y="187.38" width="11.2" height="1.23" fill="url(#g6_0)"/>
<rect x="579.5" y="187.38" width="5.0" height="1.23" fill="url(#f15)"/>
<rect x="579.5" y="188.61" width="10.1" height="1.23" fill="url(#g6_0)"/>
<rect x="579.5" y="188.61" width="4.9" height="1.23" fill="url(#f15)"/>
<rect x="579.5" y="189.84" width="5.4" height="1.23" fill="url(#f12)"/>
<rect x="579.5" y="191.08" width="6.9" height="1.23" fill="url(#g6_0)"/>
<rect x="579.5" y="191.08" width="5.2" height="1.23" fill="url(#f12)"/>
<rect x="579.5" y="192.31" width="9.2" height="1.23" fill="url(#g5_0)"/>
<rect x="579.5" y="192.31" width="4.0" height="1.23" fill="url(#f12)"/>
<rect x="579.5" y="193.55" width="3.9" height="1.23" fill="url(#f11)"/>
<rect x="579.5" y="194.78" width="7.7" height="1.23" fill="url(#g4_0)"/>
<rect x="579.5" y="194.78" width="4.1" height="1.23" fill="url(#f10)"/>
<rect x="579.5" y="196.02" width="7.4" height="1.23" fill="url(#g4_0)"/>
<rect x="579.5" y="196.02" width="3.4" height="1.23" fill="url(#f9)"/>
<rect x="579.5" y="197.25" width="7.0" height="1.23" fill="url(#g4_0)"/>
<rect x="579.5" y="197.25" width="3.1" height="1.23" fill="url(#f8)"/>
<rect x="579.5" y="198.48" width="2.9" height="1.23" fill="url(#f8)"/>
<rect x="644.0" y="177.50" width="40.0" height="1.23" fill="url(#g20_3)"/>
<rect x="644.0" y="177.50" width="17.4" height="1.23" fill="url(#f20)"/>
<rect x="644.0" y="178.73" width="40.0" height="1.23" fill="url(#g13_3)"/>
<rect x="644.0" y="178.73" width="17.4" height="1.23" fill="url(#f20)"/>
<rect x="644.0" y="179.97" width="40.0" height="1.23" fill="url(#g12_3)"/>
<rect x="644.0" y="179.97" width="16.7" height="1.23" fill="url(#f20)"/>
<rect x="644.0" y="181.20" width="40.0" height="1.23" fill="url(#g10_1)"/>
<rect x="644.0" y="181.20" width="11.7" height="1.23" fill="url(#f20)"/>
<rect x="644.0" y="182.44" width="39.8" height="1.23" fill="url(#g8_0)"/>
<rect x="644.0" y="182.44" width="14.5" height="1.23" fill="url(#f17)"/>
<rect x="644.0" y="183.67" width="28.0" height="1.23" fill="url(#g10_0)"/>
<rect x="644.0" y="183.67" width="13.0" height="1.23" fill="url(#f19)"/>
<rect x="644.0" y="184.91" width="24.6" height="1.23" fill="url(#g8_0)"/>
<rect x="644.0" y="184.91" width="12.7" height="1.23" fill="url(#f16)"/>
<rect x="644.0" y="186.14" width="24.0" height="1.23" fill="url(#g8_0)"/>
<rect x="644.0" y="186.14" width="11.4" height="1.23" fill="url(#f17)"/>
<rect x="644.0" y="187.38" width="17.0" height="1.23" fill="url(#g7_0)"/>
<rect x="644.0" y="187.38" width="11.2" height="1.23" fill="url(#f16)"/>
<rect x="644.0" y="188.61" width="9.9" height="1.23" fill="url(#f17)"/>
<rect x="644.0" y="189.84" width="10.3" height="1.23" fill="url(#f16)"/>
<rect x="644.0" y="191.08" width="21.8" height="1.23" fill="url(#g7_0)"/>
<rect x="644.0" y="191.08" width="9.3" height="1.23" fill="url(#f16)"/>
<rect x="644.0" y="192.31" width="10.1" height="1.23" fill="url(#f14)"/>
<rect x="644.0" y="193.55" width="10.6" height="1.23" fill="url(#f15)"/>
<rect x="644.0" y="194.78" width="18.4" height="1.23" fill="url(#g6_0)"/>
<rect x="644.0" y="194.78" width="9.2" height="1.23" fill="url(#f13)"/>
<rect x="644.0" y="196.02" width="11.5" height="1.23" fill="url(#g6_0)"/>
<rect x="644.0" y="196.02" width="10.4" height="1.23" fill="url(#f14)"/>
<rect x="644.0" y="197.25" width="10.3" height="1.23" fill="url(#g6_0)"/>
<rect x="644.0" y="197.25" width="8.9" height="1.23" fill="url(#f13)"/>
<rect x="644.0" y="198.48" width="14.5" height="1.23" fill="url(#g5_0)"/>
<rect x="644.0" y="198.48" width="8.6" height="1.23" fill="url(#f12)"/>
<rect x="644.0" y="199.72" width="11.7" height="1.23" fill="url(#g6_0)"/>
<rect x="644.0" y="199.72" width="7.4" height="1.23" fill="url(#f12)"/>
<rect x="644.0" y="200.95" width="9.4" height="1.23" fill="url(#g4_0)"/>
<rect x="644.0" y="200.95" width="7.1" height="1.23" fill="url(#f10)"/>
<rect x="644.0" y="202.19" width="5.8" height="1.23" fill="url(#f11)"/>
<rect x="644.0" y="203.42" width="6.4" height="1.23" fill="url(#f9)"/>
<rect x="644.0" y="204.66" width="5.1" height="1.23" fill="url(#f9)"/>
<rect x="644.0" y="205.89" width="5.4" height="1.23" fill="url(#f8)"/>
<rect x="363" y="219" width="321" height="107.5" fill="#04030e"/>
<path fill="#0d0924" d="M371.6 219.00h11.5v1.25h-11.5zM656.8 235.25h4.7v1.25h-4.7zM415.9 302.75h1.2v1.25h-1.2z"/>
<path fill="#170e3b" d="M546.1 220.25h5.0v1.25h-5.0zM432.3 294.00h4.5v1.25h-4.5zM583.8 316.50h2.1v1.25h-2.1z"/>
<path fill="#3b0f70" d="M382.1 221.50h3.2v1.25h-3.2zM535.6 325.25h1.1v1.25h-1.1z"/>
<path fill="#2f0f5e" d="M415.5 222.75h3.9v1.25h-3.9zM507.5 260.25h1.3v1.25h-1.3zM512.5 287.75h2.7v1.25h-2.7z"/>
<path fill="#1c0e42" d="M478.4 224.00h4.3v1.25h-4.3z"/>
<path fill="#1e0e44" d="M509.0 224.00h1.1v1.25h-1.1z"/>
<path fill="#100c2d" d="M589.5 225.25h6.5v1.25h-6.5z"/>
<path fill="#190e3d" d="M405.9 226.50h1.8v1.25h-1.8z"/>
<path fill="#641a80" d="M626.1 227.75h1.4v1.25h-1.4z"/>
<path fill="#300f60" d="M534.4 229.00h2.7v1.25h-2.7zM410.0 265.25h2.8v1.25h-2.8zM571.2 314.00h3.6v1.25h-3.6z"/>
<path fill="#100b2c" d="M414.2 230.25h1.3v1.25h-1.3z"/>
<path fill="#200e48" d="M431.0 230.25h1.7v1.25h-1.7z"/>
<path fill="#8a6040" d="M501.8 231.50h11.6v1.25h-11.6zM579.8 239.00h1.5v1.25h-1.5z"/>
<path fill="#0e0a27" d="M497.0 231.50h6.2v1.25h-6.2zM366.2 241.50h4.3v1.25h-4.3zM474.9 282.75h3.7v1.25h-3.7z"/>
<path fill="#260e50" d="M586.3 232.75h1.2v1.25h-1.2zM605.5 324.00h5.0v1.25h-5.0z"/>
<path fill="#7a6a48" d="M568.7 234.00h1.5v1.25h-1.5zM515.0 261.50h1.1v1.25h-1.1zM393.4 306.50h4.0v1.25h-4.0z"/>
<path fill="#300f5f" d="M615.1 235.25h3.4v1.25h-3.4z"/>
<path fill="#1a0e3f" d="M555.5 236.50h1.6v1.25h-1.6z"/>
<path fill="#150e37" d="M479.7 237.75h5.8v1.25h-5.8zM457.8 244.00h3.1v1.25h-3.1z"/>
<path fill="#2c0f5a" d="M616.0 239.00h8.5v1.25h-8.5zM510.4 259.00h5.4v1.25h-5.4zM383.1 277.75h6.5v1.25h-6.5z"/>
<path fill="#2b0f58" d="M476.8 240.25h3.5v1.25h-3.5z"/>
<path fill="#240e4e" d="M374.8 241.50h3.4v1.25h-3.4zM453.5 271.50h2.8v1.25h-2.8z"/>
<path fill="#0d0925" d="M633.5 244.00h3.2v1.25h-3.2zM464.2 265.25h2.9v1.25h-2.9zM676.9 272.75h1.5v1.25h-1.5zM434.2 276.50h1.1v1.25h-1.1z"/>
<path fill="#110c2e" d="M527.9 245.25h1.1v1.25h-1.1zM658.0 295.25h2.5v1.25h-2.5zM607.9 299.00h1.9v1.25h-1.9z"/>
<path fill="#390f6d" d="M483.6 246.50h1.2v1.25h-1.2zM494.4 314.00h1.0v1.25h-1.0zM364.0 320.25h1.6v1.25h-1.6z"/>
<path fill="#0f0a29" d="M617.4 247.75h6.2v1.25h-6.2z"/>
<path fill="#1c0e41" d="M572.1 249.00h9.8v1.25h-9.8z"/>
<path fill="#0c0923" d="M456.0 250.25h7.2v1.25h-7.2z"/>
<path fill="#340f66" d="M548.4 251.50h1.5v1.25h-1.5zM518.1 255.25h1.2v1.25h-1.2z"/>
<path fill="#210e49" d="M367.6 251.50h1.6v1.25h-1.6z"/>
<path fill="#180e3c" d="M463.6 251.50h1.1v1.25h-1.1zM379.5 269.00h6.7v1.25h-6.7z"/>
<path fill="#6a4a3a" d="M455.6 252.75h2.4v1.25h-2.4z"/>
<path fill="#130d32" d="M539.0 252.75h2.4v1.25h-2.4z"/>
<path fill="#2c0f59" d="M609.5 254.00h2.0v1.25h-2.0z"/>
<path fill="#160e39" d="M375.3 255.25h1.7v1.25h-1.7zM407.3 281.50h3.1v1.25h-3.1z"/>
<path fill="#320f62" d="M376.8 255.25h4.5v1.25h-4.5zM473.0 262.75h1.1v1.25h-1.1zM581.4 305.25h3.5v1.25h-3.5z"/>
<path fill="#0e0a26" d="M500.7 256.50h5.3v1.25h-5.3z"/>
<path fill="#2a0f57" d="M519.1 257.75h4.2v1.25h-4.2zM561.5 322.75h9.1v1.25h-9.1z"/>
<path fill="#1f0e46" d="M653.9 260.25h1.5v1.25h-1.5z"/>
<path fill="#0f0b2a" d="M505.6 260.25h2.1v1.25h-2.1zM451.8 300.25h2.2v1.25h-2.2z"/>
<path fill="#220e4a" d="M380.9 261.50h2.4v1.25h-2.4zM380.4 295.25h3.8v1.25h-3.8z"/>
<path fill="#2e0f5d" d="M575.5 262.75h11.6v1.25h-11.6z"/>
<path fill="#2f0f5f" d="M420.9 264.00h4.3v1.25h-4.3z"/>
<path fill="#370f6a" d="M393.3 264.00h2.8v1.25h-2.8zM570.0 289.00h3.0v1.25h-3.0zM542.9 321.50h2.8v1.25h-2.8z"/>
<path fill="#5e5a40" d="M388.1 266.50h1.4v1.25h-1.4zM447.9 266.50h3.1v1.25h-3.1zM540.2 296.50h1.8v1.25h-1.8zM555.9 322.75h2.3v1.25h-2.3z"/>
<path fill="#330f65" d="M558.9 267.75h1.5v1.25h-1.5z"/>
<path fill="#350f68" d="M398.6 269.00h6.9v1.25h-6.9z"/>
<path fill="#852681" d="M520.7 270.25h3.4v1.25h-3.4z"/>
<path fill="#370f69" d="M402.3 271.50h10.4v1.25h-10.4z"/>
<path fill="#1e0e45" d="M505.2 272.75h1.7v1.25h-1.7zM434.8 300.25h6.7v1.25h-6.7z"/>
<path fill="#170e3a" d="M377.7 275.25h2.4v1.25h-2.4z"/>
<path fill="#230e4c" d="M511.0 276.50h3.5v1.25h-3.5z"/>
<path fill="#0d0926" d="M552.2 277.75h2.2v1.25h-2.2z"/>
<path fill="#380f6c" d="M494.1 279.00h1.7v1.25h-1.7zM658.8 301.50h2.1v1.25h-2.1z"/>
<path fill="#2a0f56" d="M548.3 280.25h1.4v1.25h-1.4z"/>
<path fill="#0c0822" d="M532.4 281.50h1.4v1.25h-1.4z"/>
<path fill="#310f62" d="M486.1 281.50h2.7v1.25h-2.7z"/>
<path fill="#350f67" d="M578.1 284.00h2.5v1.25h-2.5z"/>
<path fill="#0e0a28" d="M468.6 284.00h1.5v1.25h-1.5z"/>
<path fill="#190e3e" d="M636.0 286.50h4.4v1.25h-4.4z"/>
<path fill="#421173" d="M381.5 290.25h2.1v1.25h-2.1z"/>
<path fill="#270e52" d="M526.1 291.50h35.0v1.25h-35.0z"/>
<path fill="#1b0e40" d="M647.8 292.75h23.0v1.25h-23.0z"/>
<path fill="#330f64" d="M556.9 294.00h5.4v1.25h-5.4z"/>
<path fill="#270e53" d="M490.0 297.75h3.0v1.25h-3.0z"/>
<path fill="#701f80" d="M457.5 299.00h5.5v1.25h-5.5z"/>
<path fill="#330f63" d="M584.3 299.00h4.0v1.25h-4.0z"/>
<path fill="#210e4a" d="M637.6 301.50h2.7v1.25h-2.7z"/>
<path fill="#280f54" d="M407.3 305.25h3.4v1.25h-3.4zM603.2 317.75h1.0v1.25h-1.0z"/>
<path fill="#100b2d" d="M519.4 307.75h3.4v1.25h-3.4z"/>
<path fill="#100b2b" d="M457.6 307.75h1.6v1.25h-1.6z"/>
<path fill="#260e51" d="M578.9 309.00h7.0v1.25h-7.0z"/>
<path fill="#54167a" d="M381.6 312.75h5.3v1.25h-5.3z"/>
<path fill="#7c2381" d="M571.3 315.25h9.0v1.25h-9.0z"/>
<path fill="#0d0923" d="M659.5 319.00h1.4v1.25h-1.4z"/>
<rect x="386.0" y="219.00" width="15.1" height="1.25" fill="url(#g3_0)"/>
<rect x="386.0" y="219.00" width="3.8" height="1.25" fill="url(#f7)"/>
<rect x="386.0" y="220.25" width="10.9" height="1.25" fill="url(#g4_0)"/>
<rect x="386.0" y="220.25" width="3.0" height="1.25" fill="url(#f8)"/>
<rect x="450.5" y="219.00" width="13.5" height="1.25" fill="url(#g4_0)"/>
<rect x="450.5" y="219.00" width="3.4" height="1.25" fill="url(#f9)"/>
<rect x="450.5" y="220.25" width="12.2" height="1.25" fill="url(#g3_0)"/>
<rect x="450.5" y="220.25" width="3.1" height="1.25" fill="url(#f8)"/>
<rect x="450.5" y="221.50" width="11.5" height="1.25" fill="url(#g3_0)"/>
<rect x="450.5" y="221.50" width="2.6" height="1.25" fill="url(#f7)"/>
<rect x="450.5" y="222.75" width="10.1" height="1.25" fill="url(#g3_0)"/>
<rect x="450.5" y="222.75" width="2.8" height="1.25" fill="url(#f6)"/>
<rect x="450.5" y="224.00" width="7.2" height="1.25" fill="url(#g3_0)"/>
<rect x="450.5" y="224.00" width="2.3" height="1.25" fill="url(#f5)"/>
<rect x="514.8" y="219.00" width="16.7" height="1.25" fill="url(#g5_0)"/>
<rect x="514.8" y="219.00" width="4.3" height="1.25" fill="url(#f10)"/>
<rect x="514.8" y="220.25" width="15.8" height="1.25" fill="url(#g4_0)"/>
<rect x="514.8" y="220.25" width="4.0" height="1.25" fill="url(#f9)"/>
<rect x="514.8" y="221.50" width="14.2" height="1.25" fill="url(#g4_0)"/>
<rect x="514.8" y="221.50" width="4.7" height="1.25" fill="url(#f10)"/>
<rect x="514.8" y="222.75" width="14.7" height="1.25" fill="url(#g4_0)"/>
<rect x="514.8" y="222.75" width="3.7" height="1.25" fill="url(#f9)"/>
<rect x="514.8" y="224.00" width="9.6" height="1.25" fill="url(#g5_0)"/>
<rect x="514.8" y="224.00" width="3.8" height="1.25" fill="url(#f9)"/>
<rect x="514.8" y="225.25" width="15.0" height="1.25" fill="url(#g4_0)"/>
<rect x="514.8" y="225.25" width="4.2" height="1.25" fill="url(#f9)"/>
<rect x="514.8" y="226.50" width="11.8" height="1.25" fill="url(#g4_0)"/>
<rect x="514.8" y="226.50" width="3.8" height="1.25" fill="url(#f10)"/>
<rect x="514.8" y="227.75" width="11.3" height="1.25" fill="url(#g4_0)"/>
<rect x="514.8" y="227.75" width="3.7" height="1.25" fill="url(#f10)"/>
<rect x="514.8" y="229.00" width="10.8" height="1.25" fill="url(#g4_0)"/>
<rect x="514.8" y="229.00" width="3.7" height="1.25" fill="url(#f9)"/>
<rect x="514.8" y="230.25" width="13.1" height="1.25" fill="url(#g4_0)"/>
<rect x="514.8" y="230.25" width="4.2" height="1.25" fill="url(#f8)"/>
<rect x="514.8" y="231.50" width="11.8" height="1.25" fill="url(#g3_0)"/>
<rect x="514.8" y="231.50" width="4.1" height="1.25" fill="url(#f9)"/>
<rect x="514.8" y="232.75" width="12.2" height="1.25" fill="url(#g4_0)"/>
<rect x="514.8" y="232.75" width="3.8" height="1.25" fill="url(#f9)"/>
<rect x="514.8" y="234.00" width="8.9" height="1.25" fill="url(#g4_0)"/>
<rect x="514.8" y="234.00" width="3.6" height="1.25" fill="url(#f8)"/>
<rect x="514.8" y="235.25" width="3.3" height="1.25" fill="url(#f8)"/>
<rect x="514.8" y="236.50" width="8.5" height="1.25" fill="url(#g4_0)"/>
<rect x="514.8" y="236.50" width="3.2" height="1.25" fill="url(#f8)"/>
<rect x="514.8" y="237.75" width="3.5" height="1.25" fill="url(#f8)"/>
<rect x="514.8" y="239.00" width="3.4" height="1.25" fill="url(#f7)"/>
<rect x="514.8" y="240.25" width="10.6" height="1.25" fill="url(#g2_0)"/>
<rect x="514.8" y="240.25" width="3.0" height="1.25" fill="url(#f6)"/>
<rect x="514.8" y="241.50" width="8.6" height="1.25" fill="url(#g3_0)"/>
<rect x="514.8" y="241.50" width="3.1" height="1.25" fill="url(#f7)"/>
<rect x="514.8" y="242.75" width="7.0" height="1.25" fill="url(#g3_0)"/>
<rect x="514.8" y="242.75" width="3.4" height="1.25" fill="url(#f6)"/>
<rect x="514.8" y="244.00" width="8.9" height="1.25" fill="url(#g3_0)"/>
<rect x="514.8" y="244.00" width="2.7" height="1.25" fill="url(#f6)"/>
<rect x="514.8" y="245.25" width="8.1" height="1.25" fill="url(#g3_0)"/>
<rect x="514.8" y="245.25" width="2.7" height="1.25" fill="url(#f6)"/>
<rect x="514.8" y="246.50" width="6.8" height="1.25" fill="url(#g3_0)"/>
<rect x="514.8" y="246.50" width="3.1" height="1.25" fill="url(#f6)"/>
<rect x="514.8" y="247.75" width="2.9" height="1.25" fill="url(#f6)"/>
<rect x="514.8" y="249.00" width="7.6" height="1.25" fill="url(#g2_0)"/>
<rect x="514.8" y="249.00" width="2.8" height="1.25" fill="url(#f5)"/>
<rect x="514.8" y="250.25" width="6.2" height="1.25" fill="url(#g2_0)"/>
<rect x="514.8" y="250.25" width="2.4" height="1.25" fill="url(#f6)"/>
<rect x="514.8" y="251.50" width="7.7" height="1.25" fill="url(#g2_0)"/>
<rect x="514.8" y="251.50" width="2.4" height="1.25" fill="url(#f5)"/>
<rect x="514.8" y="252.75" width="2.3" height="1.25" fill="url(#f4)"/>
<rect x="514.8" y="254.00" width="2.5" height="1.25" fill="url(#f4)"/>
<rect x="514.8" y="255.25" width="6.1" height="1.25" fill="url(#g2_0)"/>
<rect x="514.8" y="255.25" width="2.5" height="1.25" fill="url(#f4)"/>
<rect x="579.5" y="219.00" width="40.3" height="1.25" fill="url(#g10_4)"/>
<rect x="579.5" y="219.00" width="6.8" height="1.25" fill="url(#f12)"/>
<rect x="579.5" y="220.25" width="40.3" height="1.25" fill="url(#g8_3)"/>
<rect x="579.5" y="220.25" width="5.9" height="1.25" fill="url(#f11)"/>
<rect x="579.5" y="221.50" width="40.3" height="1.25" fill="url(#g8_1)"/>
<rect x="579.5" y="221.50" width="6.4" height="1.25" fill="url(#f13)"/>
<rect x="579.5" y="222.75" width="40.3" height="1.25" fill="url(#g6_0)"/>
<rect x="579.5" y="222.75" width="7.1" height="1.25" fill="url(#f12)"/>
<rect x="579.5" y="224.00" width="23.0" height="1.25" fill="url(#g6_0)"/>
<rect x="579.5" y="224.00" width="5.6" height="1.25" fill="url(#f12)"/>
<rect x="579.5" y="225.25" width="5.7" height="1.25" fill="url(#f13)"/>
<rect x="579.5" y="226.50" width="14.8" height="1.25" fill="url(#g6_0)"/>
<rect x="579.5" y="226.50" width="6.6" height="1.25" fill="url(#f12)"/>
<rect x="579.5" y="227.75" width="5.9" height="1.25" fill="url(#f12)"/>
<rect x="579.5" y="229.00" width="6.2" height="1.25" fill="url(#f13)"/>
<rect x="579.5" y="230.25" width="6.4" height="1.25" fill="url(#f11)"/>
<rect x="579.5" y="231.50" width="6.0" height="1.25" fill="url(#f11)"/>
<rect x="579.5" y="232.75" width="10.6" height="1.25" fill="url(#g6_0)"/>
<rect x="579.5" y="232.75" width="5.2" height="1.25" fill="url(#f12)"/>
<rect x="579.5" y="234.00" width="13.4" height="1.25" fill="url(#g5_0)"/>
<rect x="579.5" y="234.00" width="5.3" height="1.25" fill="url(#f11)"/>
<rect x="579.5" y="235.25" width="11.7" height="1.25" fill="url(#g5_0)"/>
<rect x="579.5" y="235.25" width="5.4" height="1.25" fill="url(#f11)"/>
<rect x="579.5" y="236.50" width="5.5" height="1.25" fill="url(#f11)"/>
<rect x="579.5" y="237.75" width="4.7" height="1.25" fill="url(#f11)"/>
<rect x="579.5" y="239.00" width="12.5" height="1.25" fill="url(#g5_0)"/>
<rect x="579.5" y="239.00" width="5.2" height="1.25" fill="url(#f11)"/>
<rect x="579.5" y="240.25" width="5.0" height="1.25" fill="url(#f11)"/>
<rect x="579.5" y="241.50" width="10.6" height="1.25" fill="url(#g4_0)"/>
<rect x="579.5" y="241.50" width="5.2" height="1.25" fill="url(#f10)"/>
<rect x="579.5" y="242.75" width="7.9" height="1.25" fill="url(#g5_0)"/>
<rect x="579.5" y="242.75" width="5.1" height="1.25" fill="url(#f11)"/>
<rect x="579.5" y="244.00" width="5.3" height="1.25" fill="url(#f10)"/>
<rect x="579.5" y="245.25" width="8.0" height="1.25" fill="url(#g5_0)"/>
<rect x="579.5" y="245.25" width="4.9" height="1.25" fill="url(#f10)"/>
<rect x="579.5" y="246.50" width="8.3" height="1.25" fill="url(#g4_0)"/>
<rect x="579.5" y="246.50" width="4.7" height="1.25" fill="url(#f9)"/>
<rect x="579.5" y="247.75" width="5.0" height="1.25" fill="url(#f9)"/>
<rect x="579.5" y="249.00" width="8.9" height="1.25" fill="url(#g4_0)"/>
<rect x="579.5" y="249.00" width="4.4" height="1.25" fill="url(#f8)"/>
<rect x="579.5" y="250.25" width="7.4" height="1.25" fill="url(#g3_0)"/>
<rect x="579.5" y="250.25" width="3.8" height="1.25" fill="url(#f9)"/>
<rect x="579.5" y="251.50" width="3.8" height="1.25" fill="url(#f9)"/>
<rect x="579.5" y="252.75" width="7.9" height="1.25" fill="url(#g4_0)"/>
<rect x="579.5" y="252.75" width="4.1" height="1.25" fill="url(#f9)"/>
<rect x="579.5" y="254.00" width="8.9" height="1.25" fill="url(#g4_0)"/>
<rect x="579.5" y="254.00" width="4.1" height="1.25" fill="url(#f8)"/>
<rect x="579.5" y="255.25" width="3.9" height="1.25" fill="url(#f9)"/>
<rect x="579.5" y="256.50" width="3.7" height="1.25" fill="url(#f8)"/>
<rect x="579.5" y="257.75" width="8.1" height="1.25" fill="url(#g4_0)"/>
<rect x="579.5" y="257.75" width="4.0" height="1.25" fill="url(#f8)"/>
<rect x="579.5" y="259.00" width="8.5" height="1.25" fill="url(#g3_0)"/>
<rect x="579.5" y="259.00" width="3.4" height="1.25" fill="url(#f7)"/>
<rect x="579.5" y="260.25" width="8.2" height="1.25" fill="url(#g3_0)"/>
<rect x="579.5" y="260.25" width="3.7" height="1.25" fill="url(#f7)"/>
<rect x="579.5" y="261.50" width="7.2" height="1.25" fill="url(#g3_0)"/>
<rect x="579.5" y="261.50" width="3.2" height="1.25" fill="url(#f7)"/>
<rect x="579.5" y="262.75" width="3.6" height="1.25" fill="url(#f7)"/>
<rect x="579.5" y="264.00" width="3.3" height="1.25" fill="url(#f6)"/>
<rect x="579.5" y="265.25" width="3.0" height="1.25" fill="url(#f7)"/>
<rect x="579.5" y="266.50" width="6.0" height="1.25" fill="url(#g2_0)"/>
<rect x="579.5" y="266.50" width="3.3" height="1.25" fill="url(#f6)"/>
<rect x="579.5" y="267.75" width="6.1" height="1.25" fill="url(#g3_0)"/>
<rect x="579.5" y="267.75" width="3.4" height="1.25" fill="url(#f6)"/>
<rect x="579.5" y="269.00" width="7.1" height="1.25" fill="url(#g3_0)"/>
<rect x="579.5" y="269.00" width="2.9" height="1.25" fill="url(#f6)"/>
<rect x="579.5" y="270.25" width="2.7" height="1.25" fill="url(#f6)"/>
<rect x="579.5" y="271.50" width="2.7" height="1.25" fill="url(#f6)"/>
<rect x="644.0" y="219.00" width="40.0" height="1.25" fill="url(#g16_5)"/>
<rect x="644.0" y="219.00" width="14.8" height="1.25" fill="url(#f19)"/>
<rect x="644.0" y="220.25" width="40.0" height="1.25" fill="url(#g15_4)"/>
<rect x="644.0" y="220.25" width="14.2" height="1.25" fill="url(#f18)"/>
<rect x="644.0" y="221.50" width="40.0" height="1.25" fill="url(#g15_3)"/>
<rect x="644.0" y="221.50" width="17.7" height="1.25" fill="url(#f20)"/>
<rect x="644.0" y="222.75" width="40.0" height="1.25" fill="url(#g10_2)"/>
<rect x="644.0" y="222.75" width="13.7" height="1.25" fill="url(#f19)"/>
<rect x="644.0" y="224.00" width="40.0" height="1.25" fill="url(#g9_1)"/>
<rect x="644.0" y="224.00" width="14.7" height="1.25" fill="url(#f19)"/>
<rect x="644.0" y="225.25" width="40.0" height="1.25" fill="url(#g9_1)"/>
<rect x="644.0" y="225.25" width="12.9" height="1.25" fill="url(#f18)"/>
<rect x="644.0" y="226.50" width="40.0" height="1.25" fill="url(#g9_1)"/>
<rect x="644.0" y="226.50" width="15.7" height="1.25" fill="url(#f18)"/>
<rect x="644.0" y="227.75" width="40.0" height="1.25" fill="url(#g9_1)"/>
<rect x="644.0" y="227.75" width="12.7" height="1.25" fill="url(#f20)"/>
<rect x="644.0" y="229.00" width="40.0" height="1.25" fill="url(#g7_0)"/>
<rect x="644.0" y="229.00" width="14.4" height="1.25" fill="url(#f17)"/>
<rect x="644.0" y="230.25" width="11.5" height="1.25" fill="url(#f17)"/>
<rect x="644.0" y="231.50" width="23.5" height="1.25" fill="url(#g7_0)"/>
<rect x="644.0" y="231.50" width="14.2" height="1.25" fill="url(#f17)"/>
<rect x="644.0" y="232.75" width="12.8" height="1.25" fill="url(#f19)"/>
<rect x="644.0" y="234.00" width="14.4" height="1.25" fill="url(#f18)"/>
<rect x="644.0" y="235.25" width="23.4" height="1.25" fill="url(#g7_0)"/>
<rect x="644.0" y="235.25" width="11.2" height="1.25" fill="url(#f16)"/>
<rect x="644.0" y="236.50" width="13.9" height="1.25" fill="url(#f18)"/>
<rect x="644.0" y="237.75" width="19.8" height="1.25" fill="url(#g8_0)"/>
<rect x="644.0" y="237.75" width="12.9" height="1.25" fill="url(#f17)"/>
<rect x="644.0" y="239.00" width="14.4" height="1.25" fill="url(#g6_0)"/>
<rect x="644.0" y="239.00" width="12.9" height="1.25" fill="url(#f15)"/>
<rect x="644.0" y="240.25" width="13.4" height="1.25" fill="url(#g7_0)"/>
<rect x="644.0" y="240.25" width="10.3" height="1.25" fill="url(#f17)"/>
<rect x="644.0" y="241.50" width="13.4" height="1.25" fill="url(#f16)"/>
<rect x="644.0" y="242.75" width="17.3" height="1.25" fill="url(#g6_0)"/>
<rect x="644.0" y="242.75" width="12.1" height="1.25" fill="url(#f15)"/>
<rect x="644.0" y="244.00" width="14.4" height="1.25" fill="url(#g7_0)"/>
<rect x="644.0" y="244.00" width="11.4" height="1.25" fill="url(#f17)"/>
<rect x="644.0" y="245.25" width="10.7" height="1.25" fill="url(#f16)"/>
<rect x="644.0" y="246.50" width="14.4" height="1.25" fill="url(#g7_0)"/>
<rect x="644.0" y="246.50" width="9.4" height="1.25" fill="url(#f15)"/>
<rect x="644.0" y="247.75" width="16.0" height="1.25" fill="url(#g7_0)"/>
<rect x="644.0" y="247.75" width="10.6" height="1.25" fill="url(#f15)"/>
<rect x="644.0" y="249.00" width="10.7" height="1.25" fill="url(#g6_0)"/>
<rect x="644.0" y="249.00" width="9.7" height="1.25" fill="url(#f15)"/>
<rect x="644.0" y="250.25" width="15.0" height="1.25" fill="url(#g6_0)"/>
<rect x="644.0" y="250.25" width="10.4" height="1.25" fill="url(#f14)"/>
<rect x="644.0" y="251.50" width="13.6" height="1.25" fill="url(#g6_0)"/>
<rect x="644.0" y="251.50" width="9.3" height="1.25" fill="url(#f14)"/>
<rect x="644.0" y="252.75" width="10.5" height="1.25" fill="url(#f13)"/>
<rect x="644.0" y="254.00" width="15.1" height="1.25" fill="url(#g5_0)"/>
<rect x="644.0" y="254.00" width="8.1" height="1.25" fill="url(#f13)"/>
<rect x="644.0" y="255.25" width="14.1" height="1.25" fill="url(#g6_0)"/>
<rect x="644.0" y="255.25" width="8.6" height="1.25" fill="url(#f14)"/>
<rect x="644.0" y="256.50" width="10.5" height="1.25" fill="url(#g6_0)"/>
<rect x="644.0" y="256.50" width="10.0" height="1.25" fill="url(#f13)"/>
<rect x="644.0" y="257.75" width="8.0" height="1.25" fill="url(#f14)"/>
<rect x="644.0" y="259.00" width="13.6" height="1.25" fill="url(#g5_0)"/>
<rect x="644.0" y="259.00" width="9.4" height="1.25" fill="url(#f12)"/>
<rect x="644.0" y="260.25" width="9.4" height="1.25" fill="url(#g5_0)"/>
<rect x="644.0" y="260.25" width="6.9" height="1.25" fill="url(#f13)"/>
<rect x="644.0" y="261.50" width="9.0" height="1.25" fill="url(#g5_0)"/>
<rect x="644.0" y="261.50" width="7.3" height="1.25" fill="url(#f11)"/>
<rect x="644.0" y="262.75" width="7.9" height="1.25" fill="url(#f11)"/>
<rect x="644.0" y="264.00" width="10.2" height="1.25" fill="url(#g4_0)"/>
<rect x="644.0" y="264.00" width="7.1" height="1.25" fill="url(#f11)"/>
<rect x="644.0" y="265.25" width="6.4" height="1.25" fill="url(#f10)"/>
<rect x="644.0" y="266.50" width="9.2" height="1.25" fill="url(#g5_0)"/>
<rect x="644.0" y="266.50" width="7.2" height="1.25" fill="url(#f10)"/>
<rect x="644.0" y="267.75" width="7.8" height="1.25" fill="url(#f10)"/>
<rect x="644.0" y="269.00" width="7.8" height="1.25" fill="url(#g4_0)"/>
<rect x="644.0" y="269.00" width="6.4" height="1.25" fill="url(#f9)"/>
<rect x="644.0" y="270.25" width="5.7" height="1.25" fill="url(#f10)"/>
<rect x="644.0" y="271.50" width="6.2" height="1.25" fill="url(#f9)"/>
<rect x="644.0" y="272.75" width="9.5" height="1.25" fill="url(#g4_0)"/>
<rect x="644.0" y="272.75" width="6.4" height="1.25" fill="url(#f9)"/>
<rect x="644.0" y="274.00" width="6.1" height="1.25" fill="url(#f8)"/>
<rect x="644.0" y="275.25" width="5.4" height="1.25" fill="url(#f9)"/>
<rect x="644.0" y="276.50" width="4.9" height="1.25" fill="url(#f7)"/>
</g>
<rect x="30" y="99" width="660" height="2.5" fill="#fff"/>
<rect x="30" y="152" width="660" height="2.5" fill="#fff"/>
<rect x="30" y="175" width="660" height="2.5" fill="#fff"/>
<rect x="30" y="217" width="660" height="2" fill="#fff"/>
<rect x="360" y="40" width="3" height="290" fill="#fff"/>
<line x1="42" y1="20.7" x2="358" y2="20.7" stroke="#6b6b6b" stroke-width="1.4"/>
<line x1="365" y1="20.7" x2="684.5" y2="20.7" stroke="#6b6b6b" stroke-width="1.4"/>
<rect x="40.6" y="264.3" width="7.8" height="60.6" fill="url(#cbar)" stroke="#c8c8c8" stroke-width="0.9"/>
<rect x="664" y="320" width="16.2" height="3" fill="#fff"/>
<path d="M11.2 369.5 L66.0 369.5" fill="none" stroke="#444" stroke-width="1" stroke-linejoin="round"/>
<path d="M11.2 385.5 L66.0 385.5" fill="none" stroke="#444" stroke-width="1" stroke-linejoin="round"/>
<path d="M11.2 402.5 L66.0 402.5" fill="none" stroke="#444" stroke-width="1" stroke-linejoin="round"/>
<path d="M11.2 431.5 L66.0 431.5" fill="none" stroke="#444" stroke-width="1" stroke-linejoin="round"/>
<path d="M175.0 369.5 L229.6 369.5" fill="none" stroke="#444" stroke-width="1" stroke-linejoin="round"/>
<path d="M175.0 385.5 L229.6 385.5" fill="none" stroke="#444" stroke-width="1" stroke-linejoin="round"/>
<path d="M175.0 402.5 L229.6 402.5" fill="none" stroke="#444" stroke-width="1" stroke-linejoin="round"/>
<path d="M175.0 431.5 L229.6 431.5" fill="none" stroke="#444" stroke-width="1" stroke-linejoin="round"/>
<path d="M338.1 369.5 L392.8 369.5" fill="none" stroke="#444" stroke-width="1" stroke-linejoin="round"/>
<path d="M338.1 385.5 L392.8 385.5" fill="none" stroke="#444" stroke-width="1" stroke-linejoin="round"/>
<path d="M338.1 402.5 L392.8 402.5" fill="none" stroke="#444" stroke-width="1" stroke-linejoin="round"/>
<path d="M338.1 431.5 L392.8 431.5" fill="none" stroke="#444" stroke-width="1" stroke-linejoin="round"/>
<path d="M501.4 369.5 L556.0 369.5" fill="none" stroke="#444" stroke-width="1" stroke-linejoin="round"/>
<path d="M501.4 385.5 L556.0 385.5" fill="none" stroke="#444" stroke-width="1" stroke-linejoin="round"/>
<path d="M501.4 402.5 L556.0 402.5" fill="none" stroke="#444" stroke-width="1" stroke-linejoin="round"/>
<path d="M501.4 431.5 L556.0 431.5" fill="none" stroke="#444" stroke-width="1" stroke-linejoin="round"/>
<path d="M83.1 367.7 L84.8 366.2 L86.0 367.6 L87.5 365.0 L89.4 368.7 L91.7 366.7 L94.4 368.7 L96.8 365.2 L99.0 366.4 L101.7 365.3 L104.5 368.4 L106.2 366.9 L109.1 368.7 L110.4 366.1 L112.3 368.3 L114.3 366.7 L116.4 368.8 L118.8 367.0 L121.8 368.7 L124.5 367.6 L126.7 369.3 L129.3 367.9 L130.4 370.3 L131.6 368.2 L132.9 369.2 L135.7 366.0 L136.8 368.1" fill="none" stroke="#111" stroke-width="1.05" stroke-linejoin="round"/>
<path d="M83.1 385.5 L83.4 385.5 L83.7 385.5 L84.0 385.5 L84.3 385.5 L84.6 385.5 L84.9 385.5 L85.2 385.5 L85.5 385.5 L85.8 385.5 L86.1 385.5 L86.4 385.5 L86.7 385.5 L87.0 385.5 L87.3 385.5 L87.6 385.5 L87.9 385.5 L88.2 385.5 L88.5 385.5 L88.8 385.5 L89.1 385.5 L89.4 385.5 L89.7 385.5 L90.0 385.5 L90.3 385.5 L90.6 385.5 L90.9 385.5 L91.2 385.5 L91.5 385.5 L91.8 385.5 L92.1 385.5 L92.4 385.5 L92.7 385.5 L93.0 385.5 L93.3 385.5 L93.6 385.5 L93.9 385.5 L94.2 385.5 L94.5 385.5 L94.8 385.5 L95.1 385.5 L95.4 385.5 L95.7 385.5 L96.0 385.5 L96.3 385.5 L96.6 385.5 L96.9 385.5 L97.2 385.5 L97.5 385.5 L97.8 385.5 L98.1 385.5 L98.4 385.5 L98.7 385.5 L99.0 383.8 L99.3 381.3 L99.6 381.3 L99.9 382.2 L100.2 382.9 L100.5 383.5 L100.8 383.9 L101.1 384.3 L101.4 384.6 L101.7 384.8 L102.0 384.9 L102.3 385.1 L102.6 382.6 L102.9 379.7 L103.2 381.0 L103.5 382.0 L103.8 382.8 L104.1 383.4 L104.4 383.8 L104.7 384.2 L105.0 384.5 L105.3 384.7 L105.6 384.9 L105.9 385.0 L106.2 385.1 L106.5 385.2 L106.8 385.3 L107.1 385.3 L107.4 385.4 L107.7 384.2 L108.0 380.2 L108.3 378.0 L108.6 379.4 L108.9 380.5 L109.2 381.4 L109.5 382.1 L109.8 382.7 L110.1 383.2 L110.4 383.7 L110.7 384.0 L111.0 384.3 L111.3 384.5 L111.6 384.7 L111.9 384.8 L112.2 384.9 L112.5 385.0 L112.8 385.1 L113.1 385.2 L113.4 385.3 L113.7 385.3 L114.0 385.3 L114.3 385.4 L114.6 385.4 L114.9 385.4 L115.2 385.4 L115.5 385.4 L115.8 385.4 L116.1 385.5 L116.4 385.5 L116.7 385.5 L117.0 385.5 L117.3 385.5 L117.6 385.5 L117.9 385.5 L118.2 385.5 L118.5 384.7 L118.8 382.2 L119.1 380.9 L119.4 381.9 L119.7 382.7 L120.0 381.8 L120.3 378.0 L120.6 379.4 L120.9 380.5 L121.2 381.4 L121.5 382.1 L121.8 382.7 L122.1 383.2 L122.4 383.7 L122.7 384.0 L123.0 384.3 L123.3 384.5 L123.6 384.7 L123.9 384.8 L124.2 384.9 L124.5 385.0 L124.8 385.1 L125.1 385.2 L125.4 385.2 L125.7 385.3 L126.0 385.3 L126.3 385.4 L126.6 385.4 L126.9 385.4 L127.2 384.5 L127.5 381.5 L127.8 380.1 L128.1 381.5 L128.4 382.5 L128.7 383.3 L129.0 383.9 L129.3 384.3 L129.6 384.6 L129.9 382.5 L130.2 379.5 L130.5 381.1 L130.8 382.2 L131.1 383.1 L131.4 383.7 L131.7 384.2 L132.0 384.5 L132.3 382.5 L132.6 379.5 L132.9 381.1 L133.2 382.2 L133.5 383.1 L133.8 383.7 L134.1 384.2 L134.4 384.5 L134.7 382.5 L135.0 379.5 L135.3 381.1 L135.6 382.2 L135.9 383.1 L136.2 383.7 L136.5 384.2 L136.8 381.8 L137.1 380.5 L137.4 381.8" fill="none" stroke="#111" stroke-width="1.05" stroke-linejoin="round"/>
<path d="M83.1 402.5 L83.4 402.5 L83.7 402.5 L84.0 402.5 L84.3 402.5 L84.6 402.5 L84.9 402.5 L85.2 402.5 L85.5 402.5 L85.8 402.5 L86.1 402.5 L86.4 402.5 L86.7 402.5 L87.0 402.5 L87.3 402.5 L87.6 402.5 L87.9 402.5 L88.2 402.5 L88.5 402.5 L88.8 402.5 L89.1 402.5 L89.4 402.5 L89.7 402.5 L90.0 402.5 L90.3 402.5 L90.6 402.5 L90.9 402.5 L91.2 402.5 L91.5 402.5 L91.8 402.5 L92.1 402.5 L92.4 402.5 L92.7 400.7 L93.0 398.1 L93.3 397.9 L93.6 398.7 L93.9 399.4 L94.2 400.0 L94.5 400.4 L94.8 400.8 L95.1 401.1 L95.4 401.4 L95.7 401.6 L96.0 401.7 L96.3 401.9 L96.6 402.0 L96.9 402.1 L97.2 402.2 L97.5 402.2 L97.8 402.3 L98.1 402.3 L98.4 402.3 L98.7 402.4 L99.0 402.4 L99.3 401.2 L99.6 399.2 L99.9 399.0 L100.2 399.6 L100.5 400.2 L100.8 400.6 L101.1 400.9 L101.4 401.2 L101.7 401.4 L102.0 398.5 L102.3 394.5 L102.6 395.5 L102.9 396.4 L103.2 397.2 L103.5 397.9 L103.8 398.5 L104.1 399.0 L104.4 399.4 L104.7 399.8 L105.0 400.2 L105.3 400.5 L105.6 400.7 L105.9 400.9 L106.2 401.1 L106.5 401.3 L106.8 401.5 L107.1 401.6 L107.4 401.7 L107.7 401.8 L108.0 401.9 L108.3 402.0 L108.6 402.0 L108.9 402.1 L109.2 402.2 L109.5 402.2 L109.8 402.2 L110.1 402.3 L110.4 402.3 L110.7 402.3 L111.0 402.3 L111.3 402.4 L111.6 401.3 L111.9 399.6 L112.2 399.4 L112.5 400.0 L112.8 400.4 L113.1 400.8 L113.4 401.1 L113.7 401.4 L114.0 401.6 L114.3 401.7 L114.6 401.9 L114.9 402.0 L115.2 402.1 L115.5 402.2 L115.8 402.2 L116.1 402.3 L116.4 402.3 L116.7 402.3 L117.0 402.4 L117.3 402.4 L117.6 402.4 L117.9 402.4 L118.2 401.0 L118.5 399.5 L118.8 400.3 L119.1 400.9 L119.4 401.3 L119.7 401.6 L120.0 400.8 L120.3 399.0 L120.6 399.9 L120.9 400.6 L121.2 401.1 L121.5 401.4 L121.8 400.5 L122.1 399.8 L122.4 400.5 L122.7 401.0 L123.0 401.4 L123.3 401.7 L123.6 399.8 L123.9 398.9 L124.2 399.8 L124.5 400.5 L124.8 401.0 L125.1 399.0 L125.4 393.8 L125.7 392.5 L126.0 393.2 L126.3 393.9 L126.6 394.5 L126.9 395.1 L127.2 395.6 L127.5 393.3 L127.8 391.9 L128.1 392.5 L128.4 393.1 L128.7 393.7 L129.0 394.2 L129.3 394.7 L129.6 395.1 L129.9 395.6 L130.2 396.0 L130.5 394.5 L130.8 395.3 L131.1 396.0 L131.4 396.6 L131.7 397.1 L132.0 397.6 L132.3 398.1 L132.6 396.3 L132.9 397.0 L133.2 397.6 L133.5 398.1 L133.8 398.6 L134.1 399.1 L134.4 399.5 L134.7 399.8 L135.0 399.5 L135.3 398.3 L135.6 399.1 L135.9 399.7 L136.2 400.2 L136.5 400.6 L136.8 400.5 L137.1 399.6 L137.4 400.0" fill="none" stroke="#111" stroke-width="1.05" stroke-linejoin="round"/>
<path d="M83.1 431.5 L83.4 431.5 L83.7 431.5 L84.0 431.5 L84.3 430.3 L84.6 426.5 L84.9 424.7 L85.2 426.5 L85.5 427.8 L85.8 428.7 L86.1 429.5 L86.4 430.0 L86.7 430.4 L87.0 430.7 L87.3 430.9 L87.6 427.0 L87.9 422.5 L88.2 425.3 L88.5 427.2 L88.8 428.6 L89.1 428.2 L89.4 423.2 L89.7 423.7 L90.0 426.1 L90.3 427.8 L90.6 428.3 L90.9 423.6 L91.2 424.1 L91.5 426.4 L91.8 428.0 L92.1 428.0 L92.4 422.8 L92.7 423.3 L93.0 425.9 L93.3 427.6 L93.6 427.8 L93.9 422.3 L94.2 421.9 L94.5 423.6 L94.8 425.0 L95.1 426.2 L95.4 427.2 L95.7 428.0 L96.0 428.6 L96.3 429.1 L96.6 429.6 L96.9 429.9 L97.2 430.2 L97.5 430.4 L97.8 430.6 L98.1 430.8 L98.4 430.9 L98.7 431.0 L99.0 431.1 L99.3 431.2 L99.6 431.2 L99.9 431.3 L100.2 431.3 L100.5 431.4 L100.8 431.4 L101.1 431.4 L101.4 431.4 L101.7 431.4 L102.0 431.4 L102.3 431.5 L102.6 431.5 L102.9 428.7 L103.2 425.8 L103.5 427.3 L103.8 428.4 L104.1 429.2 L104.4 429.8 L104.7 430.2 L105.0 430.6 L105.3 430.8 L105.6 431.0 L105.9 431.1 L106.2 431.2 L106.5 431.3 L106.8 431.3 L107.1 431.4 L107.4 431.4 L107.7 431.4 L108.0 431.5 L108.3 431.5 L108.6 431.5 L108.9 431.5 L109.2 431.5 L109.5 431.5 L109.8 431.5 L110.1 431.5 L110.4 431.5 L110.7 431.5 L111.0 429.6 L111.3 423.9 L111.6 420.8 L111.9 422.8 L112.2 424.4 L112.5 425.6 L112.8 426.7 L113.1 427.6 L113.4 428.3 L113.7 428.9 L114.0 429.3 L114.3 429.7 L114.6 430.1 L114.9 430.3 L115.2 430.5 L115.5 430.7 L115.8 430.9 L116.1 431.0 L116.4 431.1 L116.7 431.1 L117.0 431.2 L117.3 431.3 L117.6 431.3 L117.9 431.3 L118.2 431.4 L118.5 431.4 L118.8 431.4 L119.1 431.4 L119.4 431.4 L119.7 431.5 L120.0 431.5 L120.3 431.5 L120.6 431.5 L120.9 431.5 L121.2 431.5 L121.5 431.5 L121.8 431.5 L122.1 431.5 L122.4 431.5 L122.7 431.5 L123.0 431.5 L123.3 431.5 L123.6 431.5 L123.9 431.5 L124.2 431.5 L124.5 431.5 L124.8 431.5 L125.1 427.7 L125.4 422.0 L125.7 422.6 L126.0 425.4 L126.3 427.3 L126.6 428.6 L126.9 428.0 L127.2 422.8 L127.5 423.3 L127.8 425.9 L128.1 427.6 L128.4 428.8 L128.7 429.7 L129.0 430.0 L129.3 425.6 L129.6 423.7 L129.9 426.2 L130.2 427.8 L130.5 429.0 L130.8 425.6 L131.1 423.7 L131.4 426.2 L131.7 427.8 L132.0 429.0 L132.3 425.6 L132.6 423.5 L132.9 425.6 L133.2 427.1 L133.5 428.3 L133.8 429.1 L134.1 429.7 L134.4 430.2 L134.7 430.5 L135.0 430.8 L135.3 431.0 L135.6 431.1 L135.9 431.2 L136.2 431.3 L136.5 431.3 L136.8 431.4 L137.1 431.4 L137.4 431.4" fill="none" stroke="#111" stroke-width="1.05" stroke-linejoin="round"/>
<path d="M84.5 427.8 L84.8 424.0" stroke="#e00" stroke-width="0.9"/>
<circle cx="84.8" cy="424.3" r="0.75" fill="#f00"/>
<path d="M87.6 427.0 L87.9 422.5" stroke="#e00" stroke-width="0.9"/>
<circle cx="87.9" cy="422.8" r="0.75" fill="#f00"/>
<path d="M89.2 426.5 L89.5 421.5" stroke="#e00" stroke-width="0.9"/>
<circle cx="89.5" cy="421.8" r="0.75" fill="#f00"/>
<path d="M90.7 426.8 L91.0 422.0" stroke="#e00" stroke-width="0.9"/>
<circle cx="91.0" cy="422.3" r="0.75" fill="#f00"/>
<path d="M92.2 426.2 L92.5 421.0" stroke="#e00" stroke-width="0.9"/>
<circle cx="92.5" cy="421.3" r="0.75" fill="#f00"/>
<path d="M93.7 426.0 L94.0 420.5" stroke="#e00" stroke-width="0.9"/>
<circle cx="94.0" cy="420.8" r="0.75" fill="#f00"/>
<path d="M102.9 428.6 L103.2 425.8" stroke="#e00" stroke-width="0.9"/>
<circle cx="103.2" cy="426.1" r="0.75" fill="#f00"/>
<path d="M111.2 425.8 L111.5 420.1" stroke="#e00" stroke-width="0.9"/>
<circle cx="111.5" cy="420.4" r="0.75" fill="#f00"/>
<path d="M125.2 425.8 L125.5 420.1" stroke="#e00" stroke-width="0.9"/>
<circle cx="125.5" cy="420.4" r="0.75" fill="#f00"/>
<path d="M127.0 426.2 L127.3 421.0" stroke="#e00" stroke-width="0.9"/>
<circle cx="127.3" cy="421.3" r="0.75" fill="#f00"/>
<path d="M129.2 427.1 L129.5 422.7" stroke="#e00" stroke-width="0.9"/>
<circle cx="129.5" cy="423.0" r="0.75" fill="#f00"/>
<path d="M130.7 427.1 L131.0 422.7" stroke="#e00" stroke-width="0.9"/>
<circle cx="131.0" cy="423.0" r="0.75" fill="#f00"/>
<path d="M132.2 427.1 L132.5 422.7" stroke="#e00" stroke-width="0.9"/>
<circle cx="132.5" cy="423.0" r="0.75" fill="#f00"/>
<path d="M246.3 369.4 L249.6 369.0 L252.0 369.0 L254.0 367.6 L255.2 368.9 L258.4 368.0 L260.5 369.3 L262.9 367.3 L266.1 368.8 L268.8 366.9 L272.0 368.4 L273.2 366.5 L274.3 368.6 L275.5 367.1 L278.1 368.5 L280.9 366.4 L283.5 368.3 L285.6 367.3 L287.5 368.1 L289.9 366.5 L292.7 367.3 L295.4 366.0 L298.3 366.8 L300.3 366.7" fill="none" stroke="#111" stroke-width="1.05" stroke-linejoin="round"/>
<path d="M246.3 385.2 L248.2 384.6 L249.9 385.9 L251.8 384.3 L253.8 385.0 L256.5 383.5 L259.1 385.1 L260.8 383.5 L263.4 384.2 L265.2 383.4 L268.1 383.8 L270.9 383.5 L272.8 386.0 L274.3 384.4 L276.6 385.5 L278.3 384.4 L280.4 385.1 L281.5 384.2 L284.4 386.3 L286.5 383.7 L287.9 385.0 L289.9 383.3 L292.2 384.5 L294.9 383.4 L296.6 384.6 L299.2 382.9" fill="none" stroke="#111" stroke-width="1.05" stroke-linejoin="round"/>
<path d="M246.3 402.4 L246.6 402.4 L246.9 402.4 L247.2 402.4 L247.5 402.4 L247.8 402.4 L248.1 402.4 L248.4 402.4 L248.7 402.4 L249.0 402.4 L249.3 402.4 L249.6 402.4 L249.9 402.4 L250.2 402.4 L250.5 402.4 L250.8 402.4 L251.1 402.4 L251.4 402.4 L251.7 401.1 L252.0 399.9 L252.3 400.4 L252.6 400.7 L252.9 401.0 L253.2 401.3 L253.5 401.5 L253.8 401.6 L254.1 401.2 L254.4 399.5 L254.7 399.2 L255.0 399.7 L255.3 400.1 L255.6 400.4 L255.9 400.7 L256.2 400.9 L256.5 401.1 L256.8 401.3 L257.1 401.4 L257.4 401.6 L257.7 401.7 L258.0 401.8 L258.3 401.9 L258.6 401.9 L258.9 402.0 L259.2 402.1 L259.5 402.1 L259.8 402.2 L260.1 402.2 L260.4 402.2 L260.7 402.2 L261.0 402.3 L261.3 402.3 L261.6 401.7 L261.9 400.7 L262.2 400.6 L262.5 401.0 L262.8 401.2 L263.1 401.4 L263.4 401.6 L263.7 401.8 L264.0 401.9 L264.3 402.0 L264.6 401.6 L264.9 400.3 L265.2 400.2 L265.5 400.6 L265.8 400.9 L266.1 401.2 L266.4 401.4 L266.7 401.6 L267.0 401.7 L267.3 401.9 L267.6 401.6 L267.9 400.3 L268.2 400.2 L268.5 400.6 L268.8 400.9 L269.1 401.2 L269.4 401.4 L269.7 401.6 L270.0 401.7 L270.3 401.9 L270.6 402.0 L270.9 402.0 L271.2 402.1 L271.5 402.0 L271.8 400.7 L272.1 400.1 L272.4 400.5 L272.7 400.8 L273.0 401.1 L273.3 401.3 L273.6 401.5 L273.9 401.7 L274.2 401.8 L274.5 401.9 L274.8 402.0 L275.1 402.1 L275.4 402.1 L275.7 402.2 L276.0 402.2 L276.3 402.3 L276.6 402.3 L276.9 402.3 L277.2 402.3 L277.5 402.3 L277.8 402.3 L278.1 402.4 L278.4 402.4 L278.7 401.2 L279.0 400.1 L279.3 400.5 L279.6 400.9 L279.9 401.1 L280.2 401.4 L280.5 401.6 L280.8 401.7 L281.1 401.8 L281.4 401.9 L281.7 402.0 L282.0 402.1 L282.3 402.1 L282.6 402.2 L282.9 402.2 L283.2 402.3 L283.5 402.3 L283.8 402.3 L284.1 402.3 L284.4 402.3 L284.7 402.3 L285.0 402.4 L285.3 402.4 L285.6 401.6 L285.9 400.3 L286.2 400.2 L286.5 400.6 L286.8 400.9 L287.1 401.2 L287.4 401.4 L287.7 401.6 L288.0 401.7 L288.3 401.9 L288.6 402.0 L288.9 402.0 L289.2 402.1 L289.5 402.2 L289.8 402.2 L290.1 402.2 L290.4 402.3 L290.7 402.3 L291.0 401.8 L291.3 399.9 L291.6 398.7 L291.9 399.2 L292.2 399.5 L292.5 399.9 L292.8 400.1 L293.1 400.4 L293.4 400.6 L293.7 400.8 L294.0 401.0 L294.3 401.2 L294.6 401.3 L294.9 401.4 L295.2 401.5 L295.5 401.6 L295.8 401.7 L296.1 401.8 L296.4 401.9 L296.7 401.9 L297.0 402.0 L297.3 402.0 L297.6 402.1 L297.9 402.1 L298.2 402.1 L298.5 402.2 L298.8 402.2 L299.1 402.2 L299.4 402.2 L299.7 402.3 L300.0 402.3 L300.3 402.3 L300.6 402.3" fill="none" stroke="#111" stroke-width="1.05" stroke-linejoin="round"/>
<path d="M246.3 421.2 L246.6 422.1 L246.9 423.0 L247.2 423.8 L247.5 424.6 L247.8 425.2 L248.1 425.8 L248.4 426.4 L248.7 426.9 L249.0 427.3 L249.3 427.7 L249.6 428.1 L249.9 428.4 L250.2 428.7 L250.5 429.0 L250.8 429.2 L251.1 423.9 L251.4 420.5 L251.7 421.8 L252.0 422.9 L252.3 423.9 L252.6 424.7 L252.9 425.5 L253.2 426.2 L253.5 426.8 L253.8 427.3 L254.1 427.8 L254.4 427.7 L254.7 422.0 L255.0 420.8 L255.3 421.9 L255.6 422.8 L255.9 423.6 L256.2 424.4 L256.5 425.0 L256.8 425.6 L257.1 426.2 L257.4 426.7 L257.7 427.2 L258.0 427.6 L258.3 428.0 L258.6 428.3 L258.9 428.6 L259.2 428.9 L259.5 429.1 L259.8 429.3 L260.1 428.0 L260.4 422.7 L260.7 421.6 L261.0 422.4 L261.3 423.1 L261.6 423.8 L261.9 424.5 L262.2 425.0 L262.5 425.6 L262.8 426.1 L263.1 426.5 L263.4 426.9 L263.7 427.3 L264.0 427.6 L264.3 428.0 L264.6 428.2 L264.9 428.5 L265.2 428.8 L265.5 429.0 L265.8 429.2 L266.1 429.4 L266.4 429.6 L266.7 429.7 L267.0 429.9 L267.3 430.0 L267.6 430.1 L267.9 430.2 L268.2 428.1 L268.5 423.1 L268.8 421.9 L269.1 422.6 L269.4 423.2 L269.7 423.8 L270.0 424.4 L270.3 424.9 L270.6 425.4 L270.9 425.8 L271.2 426.2 L271.5 426.6 L271.8 427.0 L272.1 427.3 L272.4 427.6 L272.7 427.9 L273.0 428.1 L273.3 428.4 L273.6 428.6 L273.9 428.8 L274.2 429.0 L274.5 429.2 L274.8 429.4 L275.1 429.5 L275.4 429.7 L275.7 429.8 L276.0 429.9 L276.3 430.0 L276.6 430.1 L276.9 430.2 L277.2 430.3 L277.5 430.4 L277.8 430.5 L278.1 430.6 L278.4 430.6 L278.7 430.7 L279.0 430.7 L279.3 430.8 L279.6 430.9 L279.9 430.9 L280.2 430.9 L280.5 431.0 L280.8 431.0 L281.1 431.1 L281.4 431.1 L281.7 431.1 L282.0 431.1 L282.3 431.2 L282.6 431.2 L282.9 431.2 L283.2 431.2 L283.5 431.3 L283.8 431.3 L284.1 431.3 L284.4 431.3 L284.7 431.3 L285.0 431.3 L285.3 431.3 L285.6 431.4 L285.9 431.4 L286.2 431.4 L286.5 431.4 L286.8 431.4 L287.1 431.4 L287.4 431.4 L287.7 431.4 L288.0 431.4 L288.3 431.4 L288.6 431.4 L288.9 431.4 L289.2 431.4 L289.5 431.4 L289.8 431.4 L290.1 431.5 L290.4 431.5 L290.7 431.5 L291.0 431.5 L291.3 431.5 L291.6 431.5 L291.9 431.5 L292.2 431.5 L292.5 431.5 L292.8 431.5 L293.1 431.5 L293.4 431.5 L293.7 431.5 L294.0 431.5 L294.3 431.5 L294.6 431.5 L294.9 431.5 L295.2 431.5 L295.5 431.5 L295.8 431.5 L296.1 431.5 L296.4 431.5 L296.7 431.5 L297.0 431.5 L297.3 431.5 L297.6 431.5 L297.9 428.0 L298.2 422.7 L298.5 421.3 L298.8 421.6 L299.1 422.0 L299.4 422.3 L299.7 422.7 L300.0 423.0 L300.3 423.3 L300.6 423.6" fill="none" stroke="#111" stroke-width="1.05" stroke-linejoin="round"/>
<path d="M251.3 428.6 L251.3 420.1" stroke="#e00" stroke-width="1.1"/>
<path d="M254.8 428.6 L254.8 420.1" stroke="#e00" stroke-width="1.1"/>
<path d="M260.5 428.9 L260.5 421.0" stroke="#e00" stroke-width="1.1"/>
<path d="M268.6 429.0 L268.6 421.4" stroke="#e00" stroke-width="1.1"/>
<path d="M298.3 428.9 L298.3 421.0" stroke="#e00" stroke-width="1.1"/>
<path d="M409.3 368.0 L412.0 369.0 L416.9 370.1 L417.6 367.5 L418.3 368.2 L419.0 364.8 L419.8 365.6 L420.6 362.2 L421.4 362.8 L422.2 359.5 L423.0 360.2 L423.8 357.6 L424.4 356.9 L424.8 357.3 L425.2 357.8 L425.6 358.2 L426.0 358.5 L426.4 358.9 L426.8 359.3 L427.2 359.6 L427.6 360.0 L428.0 360.3 L428.4 360.6 L428.8 361.0 L429.2 361.3 L429.6 361.5 L430.0 361.8 L430.4 362.1 L430.8 362.4 L431.2 362.6 L431.6 362.9 L432.0 363.1 L432.4 363.3 L432.8 363.5 L433.2 363.8 L433.6 364.0 L434.0 364.2 L434.4 364.4 L434.8 364.6 L435.2 364.7 L435.6 364.9 L436.0 365.1 L436.4 365.2 L436.8 365.4 L437.2 365.6 L437.6 365.7 L438.0 365.9 L438.4 366.0 L438.8 366.1 L439.2 366.3 L439.6 366.4 L440.0 366.5 L440.4 366.6 L440.8 366.7 L441.2 366.8 L441.6 367.0 L442.0 367.1 L442.4 367.2 L442.8 367.3 L443.2 367.3 L443.6 367.4 L444.0 367.5 L444.4 367.6 L444.8 367.7 L445.2 367.8 L445.6 367.8 L446.0 367.9 L446.4 367.2 L446.8 364.4 L447.2 365.0 L447.6 365.5 L448.0 365.9 L448.4 366.3 L448.8 366.7 L449.2 367.0 L449.6 367.3 L450.0 367.6 L450.4 367.8 L450.8 368.0 L451.2 368.2 L451.6 368.4 L452.0 368.6 L452.4 368.7 L452.8 368.8 L453.2 368.9 L453.6 368.9 L454.0 369.0 L454.4 367.5 L454.8 362.4 L455.2 363.4 L455.6 364.2 L456.0 364.9 L456.4 365.6 L456.8 366.1 L457.2 361.5 L457.6 362.6 L458.0 363.5 L458.4 364.3 L458.8 365.1 L459.2 365.7 L459.6 366.2 L460.0 366.7 L460.4 367.1 L460.8 367.5 L461.2 367.8 L461.6 368.1 L462.0 368.4 L462.4 368.6 L462.8 363.4 L463.2 362.8 L463.6 363.7" fill="none" stroke="#111" stroke-width="1.05" stroke-linejoin="round"/>
<path d="M409.3 385.5 L409.7 385.5 L410.1 385.5 L410.5 385.5 L410.9 385.5 L411.3 385.5 L411.7 385.5 L412.1 385.5 L412.5 385.5 L412.9 385.5 L413.3 385.5 L413.7 385.5 L414.1 385.5 L414.5 385.5 L414.9 385.5 L415.3 385.5 L415.7 385.5 L416.1 385.5 L416.5 385.5 L416.9 385.5 L417.3 385.5 L417.7 385.5 L418.1 385.5 L418.5 385.5 L418.9 385.5 L419.3 385.5 L419.7 385.5 L420.1 385.5 L420.5 380.2 L420.9 379.3 L421.3 380.7 L421.7 371.2 L422.1 372.7 L422.5 374.1 L422.9 375.4 L423.3 376.4 L423.7 377.4 L424.1 378.3 L424.5 379.1 L424.9 379.8 L425.3 380.4 L425.7 380.9 L426.1 381.4 L426.5 381.9 L426.9 382.3 L427.3 382.6 L427.7 382.9 L428.1 383.2 L428.5 383.5 L428.9 383.7 L429.3 383.9 L429.7 384.0 L430.1 384.2 L430.5 384.3 L430.9 384.5 L431.3 384.6 L431.7 384.7 L432.1 384.8 L432.5 384.8 L432.9 384.9 L433.3 385.0 L433.7 385.0 L434.1 385.1 L434.5 385.1 L434.9 385.2 L435.3 385.2 L435.7 385.2 L436.1 385.3 L436.5 385.3 L436.9 385.3 L437.3 385.3 L437.7 385.4 L438.1 385.4 L438.5 385.4 L438.9 385.4 L439.3 385.4 L439.7 385.4 L440.1 385.4 L440.5 385.4 L440.9 385.4 L441.3 385.4 L441.7 385.5 L442.1 385.5 L442.5 385.5 L442.9 385.5 L443.3 385.5 L443.7 385.5 L444.1 385.5 L444.5 385.5 L444.9 385.5 L445.3 385.5 L445.7 385.5 L446.1 385.5 L446.5 385.5 L446.9 385.5 L447.3 385.5 L447.7 385.5 L448.1 385.5 L448.5 385.5 L448.9 385.5 L449.3 385.5 L449.7 385.5 L450.1 385.5 L450.5 385.5 L450.9 385.5 L451.3 385.5 L451.7 385.5 L452.1 385.5 L452.5 385.5 L452.9 385.5 L453.3 385.5 L453.7 385.5 L454.1 385.5 L454.5 385.5 L454.9 385.5 L455.3 385.5 L455.7 385.5 L456.1 385.5 L456.5 385.5 L456.9 385.5 L457.3 385.5 L457.7 385.5 L458.1 385.5 L458.5 385.5 L458.9 385.5 L459.3 385.5 L459.7 385.5 L460.1 385.5 L460.5 385.5 L460.9 385.5 L461.3 385.5 L461.7 385.5 L462.1 385.5 L462.5 385.5 L462.9 385.5 L463.3 385.5 L463.7 385.5" fill="none" stroke="#111" stroke-width="1.05" stroke-linejoin="round"/>
<path d="M409.3 398.6 L410.3 396.4 L411.3 398.9 L412.4 396.6 L413.4 399.1 L414.4 397.0 L415.4 399.3 L417.0 399.9 L419.0 400.2 L421.0 400.5 L423.5 401.7 L425.9 402.2 L427.0 396.5 L428.0 398.3 L428.9 396.3 L429.8 397.3 L431.5 396.0 L433.7 396.2 L434.8 395.4 L437.3 396.8 L439.0 395.8 L440.4 397.5 L441.9 395.7 L443.0 397.4 L444.5 395.6 L445.9 397.3 L447.4 396.2 L449.0 397.4 L451.1 395.7 L452.7 397.0 L454.7 395.2 L456.3 397.8 L457.8 396.4 L459.1 397.4 L461.3 396.2 L463.5 398.3" fill="none" stroke="#111" stroke-width="1.05" stroke-linejoin="round"/>
<path d="M409.3 431.5 L418.8 431.5 L419.2 426.4 L420.3 428.5 L421.6 422.6 L422.7 425.5 L424.0 419.7 L425.2 422.5 L426.8 418.3 L427.8 420.5 L429.2 416.4 L429.8 418.0 L430.6 414.5 L432.5 419.5 L435.8 414.5 L437.5 419.7 L439.2 414.5 L440.8 419.7 L442.5 414.5 L444.2 419.7 L445.8 414.5 L447.7 419.7 L449.6 414.5 L451.3 419.7 L452.9 414.5 L456.0 420.5 L458.2 421.5 L458.6 415.5 L460.0 419.5 L463.8 423.5" fill="none" stroke="#111" stroke-width="1.05" stroke-linejoin="round"/>
<path d="M419.0 429.2 L419.2 426.4" stroke="#e00" stroke-width="1"/>
<circle cx="419.2" cy="426.4" r="1.0" fill="#f00"/>
<path d="M420.9 425.8 L421.6 422.6" stroke="#e00" stroke-width="1"/>
<circle cx="421.6" cy="422.6" r="1.0" fill="#f00"/>
<path d="M423.3 422.9 L424.0 419.7" stroke="#e00" stroke-width="1"/>
<circle cx="424.0" cy="419.7" r="1.0" fill="#f00"/>
<path d="M425.9 420.6 L426.8 418.3" stroke="#e00" stroke-width="1"/>
<circle cx="426.8" cy="418.3" r="1.0" fill="#f00"/>
<path d="M428.4 418.7 L429.2 416.4" stroke="#e00" stroke-width="1"/>
<circle cx="429.2" cy="416.4" r="1.0" fill="#f00"/>
<path d="M430.2 416.4 L430.6 414.5" stroke="#e00" stroke-width="1"/>
<circle cx="430.6" cy="414.5" r="1.0" fill="#f00"/>
<path d="M434.0 417.2 L435.8 414.5" stroke="#e00" stroke-width="1"/>
<circle cx="435.8" cy="414.5" r="1.0" fill="#f00"/>
<path d="M438.3 417.4 L439.2 414.5" stroke="#e00" stroke-width="1"/>
<circle cx="439.2" cy="414.5" r="1.0" fill="#f00"/>
<path d="M441.6 417.4 L442.5 414.5" stroke="#e00" stroke-width="1"/>
<circle cx="442.5" cy="414.5" r="1.0" fill="#f00"/>
<path d="M444.9 417.4 L445.8 414.5" stroke="#e00" stroke-width="1"/>
<circle cx="445.8" cy="414.5" r="1.0" fill="#f00"/>
<path d="M448.6 417.4 L449.6 414.5" stroke="#e00" stroke-width="1"/>
<circle cx="449.6" cy="414.5" r="1.0" fill="#f00"/>
<path d="M452.0 417.4 L452.9 414.5" stroke="#e00" stroke-width="1"/>
<circle cx="452.9" cy="414.5" r="1.0" fill="#f00"/>
<path d="M458.4 418.8 L458.6 415.5" stroke="#e00" stroke-width="1"/>
<circle cx="458.6" cy="415.5" r="1.0" fill="#f00"/>
<path d="M364.6 431.5 L364.9 427.6 L365.3 431.5" stroke="#e00" stroke-width="1.1" fill="none"/>
<path d="M573.1 367.9 L574.5 366.5 L576.1 365.7 L577.5 367.0 L578.8 366.0 L580.0 366.6 L582.0 367.8 L585.0 368.8 L587.5 369.2 L588.8 368.3 L590.0 369.0 L593.0 369.6 L597.1 369.8 L598.5 368.0 L599.8 366.1 L601.0 367.0 L602.0 366.2 L603.7 365.7 L606.0 367.5 L609.0 368.8 L612.0 369.5 L616.4 369.6 L617.5 368.6 L618.5 369.3 L620.8 366.6 L622.0 365.7 L623.5 366.5 L625.0 365.9 L626.2 366.6 L627.4 365.8" fill="none" stroke="#111" stroke-width="1.05" stroke-linejoin="round"/>
<path d="M573.1 385.5 L576.0 385.5 L577.0 384.5 L578.3 383.8 L579.5 385.0 L581.0 383.5 L582.5 384.3 L584.0 382.5 L585.8 381.2 L587.0 382.0 L589.0 384.5 L591.9 385.4 L596.0 385.5 L606.8 385.5 L608.5 382.8 L610.0 384.5 L612.9 385.9 L614.5 384.0 L616.0 384.5 L617.5 383.0 L619.0 380.5 L619.9 379.4 L621.0 380.0 L623.0 382.5 L625.0 384.5 L627.4 385.6" fill="none" stroke="#111" stroke-width="1.05" stroke-linejoin="round"/>
<path d="M573.1 392.8 L574.0 395.0 L575.0 397.7 L576.0 396.2 L577.0 397.5 L578.0 396.0 L579.0 397.3 L580.0 396.3 L581.0 397.5 L583.0 398.0 L584.5 399.0 L585.5 397.8 L587.0 399.5 L589.0 399.8 L590.0 398.5 L591.0 399.5 L593.0 401.0 L596.3 402.5 L607.7 402.5 L609.0 400.8 L610.7 400.3 L612.0 401.5 L614.0 402.0 L616.0 402.5 L618.2 401.0 L619.5 402.0 L621.0 401.5 L622.5 400.0 L624.0 401.0 L625.5 399.5 L627.4 398.5" fill="none" stroke="#111" stroke-width="1.05" stroke-linejoin="round"/>
<path d="M573.1 426.1 L575.0 428.2 L577.5 430.0 L580.5 430.9 L584.0 431.3 L590.6 431.5 L591.2 429.4 L592.2 428.5 L593.3 430.0 L594.4 428.3 L595.6 430.2 L597.5 430.6 L598.9 428.0 L599.7 426.5 L600.6 425.7 L601.6 428.8 L603.0 429.5 L604.2 427.5 L605.3 429.0 L606.5 426.3 L607.5 428.5 L608.7 425.7 L609.5 427.5 L610.3 425.9 L612.0 428.5 L614.0 430.0 L616.4 430.8 L617.3 429.5 L617.7 427.9 L618.5 429.8 L621.0 430.8 L624.0 431.3 L627.4 431.5" fill="none" stroke="#111" stroke-width="1.05" stroke-linejoin="round"/>
<circle cx="591.2" cy="429.4" r="1" fill="#f00"/>
<circle cx="592.2" cy="428.5" r="1" fill="#f00"/>
<circle cx="594.4" cy="428.3" r="1" fill="#f00"/>
<circle cx="598.9" cy="428.0" r="1" fill="#f00"/>
<circle cx="600.6" cy="425.7" r="1" fill="#f00"/>
<circle cx="604.2" cy="427.5" r="1" fill="#f00"/>
<circle cx="606.5" cy="426.3" r="1" fill="#f00"/>
<circle cx="608.7" cy="425.7" r="1" fill="#f00"/>
<circle cx="610.3" cy="425.9" r="1" fill="#f00"/>
<circle cx="617.7" cy="427.9" r="1" fill="#f00"/>
<path d="M9.4 452.7 L9.4 456.4 L136.5 456.4 L136.5 452.7" fill="none" stroke="#777" stroke-width="1"/>
<path d="M172.3 452.7 L172.3 456.4 L300.6 456.4 L300.6 452.7" fill="none" stroke="#777" stroke-width="1"/>
<path d="M336.0 452.7 L336.0 456.4 L463.7 456.4 L463.7 452.7" fill="none" stroke="#777" stroke-width="1"/>
<path d="M499.4 452.7 L499.4 456.4 L627.5 456.4 L627.5 452.7" fill="none" stroke="#777" stroke-width="1"/>
<line x1="644.5" y1="418" x2="644.5" y2="430.5" stroke="#222" stroke-width="1"/>
<line x1="645" y1="434.5" x2="660" y2="434.5" stroke="#222" stroke-width="1"/>
<line x1="69.8" y1="510.1" x2="69.8" y2="685.3" stroke="#8a8a8a" stroke-width="1"/>
<line x1="69.3" y1="685.3" x2="335.3" y2="685.3" stroke="#555" stroke-width="1"/>
<line x1="65.3" y1="685.3" x2="69.8" y2="685.3" stroke="#555" stroke-width="1"/>
<line x1="65.3" y1="637.2" x2="69.8" y2="637.2" stroke="#555" stroke-width="1"/>
<line x1="65.3" y1="589.1" x2="69.8" y2="589.1" stroke="#555" stroke-width="1"/>
<line x1="65.3" y1="541.0" x2="69.8" y2="541.0" stroke="#555" stroke-width="1"/>
<rect x="81.8" y="684.6" width="10.0" height="0.7" fill="#808080" stroke="#333" stroke-width="0.7"/>
<line x1="97.5" y1="683.5" x2="97.5" y2="682.8" stroke="#555" stroke-width="1"/>
<line x1="95.2" y1="682.8" x2="99.8" y2="682.8" stroke="#555" stroke-width="1"/>
<rect x="92.8" y="683.5" width="10.0" height="1.8" fill="#ff0000" stroke="#333" stroke-width="0.7"/>
<rect x="109.3" y="684.9" width="10.0" height="0.4" fill="#808080" stroke="#333" stroke-width="0.7"/>
<rect x="120.3" y="684.4" width="10.0" height="0.9" fill="#ff0000" stroke="#333" stroke-width="0.7"/>
<rect x="136.9" y="684.6" width="10.0" height="0.7" fill="#808080" stroke="#333" stroke-width="0.7"/>
<line x1="152.5" y1="682.2" x2="152.5" y2="680.1" stroke="#555" stroke-width="1"/>
<line x1="150.2" y1="680.1" x2="154.8" y2="680.1" stroke="#555" stroke-width="1"/>
<rect x="147.9" y="682.2" width="10.0" height="3.1" fill="#ff0000" stroke="#333" stroke-width="0.7"/>
<line x1="169.5" y1="669.3" x2="169.5" y2="665.4" stroke="#555" stroke-width="1"/>
<line x1="167.2" y1="665.4" x2="171.8" y2="665.4" stroke="#555" stroke-width="1"/>
<rect x="164.4" y="669.3" width="10.0" height="16.0" fill="#808080" stroke="#333" stroke-width="0.7"/>
<line x1="180.5" y1="646.4" x2="180.5" y2="639.2" stroke="#555" stroke-width="1"/>
<line x1="178.2" y1="639.2" x2="182.8" y2="639.2" stroke="#555" stroke-width="1"/>
<rect x="175.4" y="646.4" width="10.0" height="38.9" fill="#ff0000" stroke="#333" stroke-width="0.7"/>
<line x1="197.5" y1="666.1" x2="197.5" y2="662.2" stroke="#555" stroke-width="1"/>
<line x1="195.2" y1="662.2" x2="199.8" y2="662.2" stroke="#555" stroke-width="1"/>
<rect x="192.0" y="666.1" width="10.0" height="19.2" fill="#808080" stroke="#333" stroke-width="0.7"/>
<line x1="208.5" y1="610.9" x2="208.5" y2="601.2" stroke="#555" stroke-width="1"/>
<line x1="206.2" y1="601.2" x2="210.8" y2="601.2" stroke="#555" stroke-width="1"/>
<rect x="203.0" y="610.9" width="10.0" height="74.4" fill="#ff0000" stroke="#333" stroke-width="0.7"/>
<line x1="224.5" y1="665.3" x2="224.5" y2="661.4" stroke="#555" stroke-width="1"/>
<line x1="222.2" y1="661.4" x2="226.8" y2="661.4" stroke="#555" stroke-width="1"/>
<rect x="219.5" y="665.3" width="10.0" height="20.0" fill="#808080" stroke="#333" stroke-width="0.7"/>
<line x1="235.5" y1="572.1" x2="235.5" y2="561.0" stroke="#555" stroke-width="1"/>
<line x1="233.2" y1="561.0" x2="237.8" y2="561.0" stroke="#555" stroke-width="1"/>
<rect x="230.5" y="572.1" width="10.0" height="113.2" fill="#ff0000" stroke="#333" stroke-width="0.7"/>
<line x1="252.5" y1="646.9" x2="252.5" y2="638.3" stroke="#555" stroke-width="1"/>
<line x1="250.2" y1="638.3" x2="254.8" y2="638.3" stroke="#555" stroke-width="1"/>
<rect x="247.1" y="646.9" width="10.0" height="38.4" fill="#808080" stroke="#333" stroke-width="0.7"/>
<line x1="263.5" y1="567.3" x2="263.5" y2="551.6" stroke="#555" stroke-width="1"/>
<line x1="261.2" y1="551.6" x2="265.8" y2="551.6" stroke="#555" stroke-width="1"/>
<rect x="258.1" y="567.3" width="10.0" height="118.0" fill="#ff0000" stroke="#333" stroke-width="0.7"/>
<line x1="279.5" y1="671.9" x2="279.5" y2="668.2" stroke="#555" stroke-width="1"/>
<line x1="277.2" y1="668.2" x2="281.8" y2="668.2" stroke="#555" stroke-width="1"/>
<rect x="274.6" y="671.9" width="10.0" height="13.4" fill="#808080" stroke="#333" stroke-width="0.7"/>
<line x1="290.5" y1="659.0" x2="290.5" y2="651.4" stroke="#555" stroke-width="1"/>
<line x1="288.2" y1="651.4" x2="292.8" y2="651.4" stroke="#555" stroke-width="1"/>
<rect x="285.6" y="659.0" width="10.0" height="26.3" fill="#ff0000" stroke="#333" stroke-width="0.7"/>
<line x1="307.5" y1="678.5" x2="307.5" y2="677.2" stroke="#555" stroke-width="1"/>
<line x1="305.2" y1="677.2" x2="309.8" y2="677.2" stroke="#555" stroke-width="1"/>
<rect x="302.2" y="678.5" width="10.0" height="6.8" fill="#808080" stroke="#333" stroke-width="0.7"/>
<line x1="318.5" y1="674.8" x2="318.5" y2="672.2" stroke="#555" stroke-width="1"/>
<line x1="316.2" y1="672.2" x2="320.8" y2="672.2" stroke="#555" stroke-width="1"/>
<rect x="313.2" y="674.8" width="10.0" height="10.5" fill="#ff0000" stroke="#333" stroke-width="0.7"/>
<polygon points="91.50,663.25 92.21,665.23 94.31,665.29 92.64,666.57 93.23,668.59 91.50,667.40 89.77,668.59 90.36,666.57 88.69,665.29 90.79,665.23" fill="#111"/>
<polygon points="172.40,631.35 173.11,633.33 175.21,633.39 173.54,634.67 174.13,636.69 172.40,635.50 170.67,636.69 171.26,634.67 169.59,633.39 171.69,633.33" fill="#111"/>
<polygon points="193.50,593.15 194.21,595.13 196.31,595.19 194.64,596.47 195.23,598.49 193.50,597.30 191.77,598.49 192.36,596.47 190.69,595.19 192.79,595.13" fill="#111"/>
<polygon points="199.80,593.15 200.51,595.13 202.61,595.19 200.94,596.47 201.53,598.49 199.80,597.30 198.07,598.49 198.66,596.47 196.99,595.19 199.09,595.13" fill="#111"/>
<polygon points="206.10,593.15 206.81,595.13 208.91,595.19 207.24,596.47 207.83,598.49 206.10,597.30 204.37,598.49 204.96,596.47 203.29,595.19 205.39,595.13" fill="#111"/>
<polygon points="221.40,553.05 222.11,555.03 224.21,555.09 222.54,556.37 223.13,558.39 221.40,557.20 219.67,558.39 220.26,556.37 218.59,555.09 220.69,555.03" fill="#111"/>
<polygon points="227.70,553.05 228.41,555.03 230.51,555.09 228.84,556.37 229.43,558.39 227.70,557.20 225.97,558.39 226.56,556.37 224.89,555.09 226.99,555.03" fill="#111"/>
<polygon points="234.00,553.05 234.71,555.03 236.81,555.09 235.14,556.37 235.73,558.39 234.00,557.20 232.27,558.39 232.86,556.37 231.19,555.09 233.29,555.03" fill="#111"/>
<polygon points="250.10,542.95 250.81,544.93 252.91,544.99 251.24,546.27 251.83,548.29 250.10,547.10 248.37,548.29 248.96,546.27 247.29,544.99 249.39,544.93" fill="#111"/>
<polygon points="256.40,542.95 257.11,544.93 259.21,544.99 257.54,546.27 258.13,548.29 256.40,547.10 254.67,548.29 255.26,546.27 253.59,544.99 255.69,544.93" fill="#111"/>
<polygon points="262.70,542.95 263.41,544.93 265.51,544.99 263.84,546.27 264.43,548.29 262.70,547.10 260.97,548.29 261.56,546.27 259.89,544.99 261.99,544.93" fill="#111"/>
<rect x="80.5" y="511.6" width="6.8" height="6.8" fill="#808080" stroke="#222" stroke-width="0.9"/>
<rect x="80.5" y="528.4" width="6.8" height="6.8" fill="#ff0000" stroke="#222" stroke-width="0.9"/>
<line x1="406.6" y1="508.7" x2="406.6" y2="685.3" stroke="#8a8a8a" stroke-width="1"/>
<line x1="406.1" y1="685.3" x2="670.0" y2="685.3" stroke="#555" stroke-width="1"/>
<line x1="402.1" y1="685.3" x2="406.6" y2="685.3" stroke="#555" stroke-width="1"/>
<line x1="402.1" y1="634.2" x2="406.6" y2="634.2" stroke="#555" stroke-width="1"/>
<line x1="402.1" y1="583.1" x2="406.6" y2="583.1" stroke="#555" stroke-width="1"/>
<line x1="402.1" y1="531.9" x2="406.6" y2="531.9" stroke="#555" stroke-width="1"/>
<line x1="404.1" y1="659.7" x2="406.6" y2="659.7" stroke="#555" stroke-width="1"/>
<line x1="404.1" y1="608.6" x2="406.6" y2="608.6" stroke="#555" stroke-width="1"/>
<line x1="404.1" y1="557.5" x2="406.6" y2="557.5" stroke="#555" stroke-width="1"/>
<rect x="419.2" y="684.8" width="10.0" height="0.5" fill="#808080" stroke="#333" stroke-width="0.7"/>
<line x1="435.5" y1="683.2" x2="435.5" y2="682.0" stroke="#555" stroke-width="1"/>
<line x1="433.2" y1="682.0" x2="437.8" y2="682.0" stroke="#555" stroke-width="1"/>
<rect x="430.2" y="683.2" width="10.0" height="2.1" fill="#ff0000" stroke="#333" stroke-width="0.7"/>
<rect x="446.7" y="685.0" width="10.0" height="0.3" fill="#808080" stroke="#333" stroke-width="0.7"/>
<line x1="462.5" y1="683.8" x2="462.5" y2="682.8" stroke="#555" stroke-width="1"/>
<line x1="460.2" y1="682.8" x2="464.8" y2="682.8" stroke="#555" stroke-width="1"/>
<rect x="457.7" y="683.8" width="10.0" height="1.5" fill="#ff0000" stroke="#333" stroke-width="0.7"/>
<rect x="474.3" y="685.0" width="10.0" height="0.3" fill="#808080" stroke="#333" stroke-width="0.7"/>
<line x1="490.5" y1="683.8" x2="490.5" y2="683.0" stroke="#555" stroke-width="1"/>
<line x1="488.2" y1="683.0" x2="492.8" y2="683.0" stroke="#555" stroke-width="1"/>
<rect x="485.3" y="683.8" width="10.0" height="1.5" fill="#ff0000" stroke="#333" stroke-width="0.7"/>
<line x1="506.5" y1="683.4" x2="506.5" y2="681.5" stroke="#555" stroke-width="1"/>
<line x1="504.2" y1="681.5" x2="508.8" y2="681.5" stroke="#555" stroke-width="1"/>
<rect x="501.8" y="683.4" width="10.0" height="1.9" fill="#808080" stroke="#333" stroke-width="0.7"/>
<line x1="517.5" y1="678.3" x2="517.5" y2="675.6" stroke="#555" stroke-width="1"/>
<line x1="515.2" y1="675.6" x2="519.8" y2="675.6" stroke="#555" stroke-width="1"/>
<rect x="512.8" y="678.3" width="10.0" height="7.0" fill="#ff0000" stroke="#333" stroke-width="0.7"/>
<line x1="534.5" y1="606.3" x2="534.5" y2="596.5" stroke="#555" stroke-width="1"/>
<line x1="532.2" y1="596.5" x2="536.8" y2="596.5" stroke="#555" stroke-width="1"/>
<rect x="529.4" y="606.3" width="10.0" height="79.0" fill="#808080" stroke="#333" stroke-width="0.7"/>
<line x1="545.5" y1="529.3" x2="545.5" y2="513.7" stroke="#555" stroke-width="1"/>
<line x1="543.2" y1="513.7" x2="547.8" y2="513.7" stroke="#555" stroke-width="1"/>
<rect x="540.4" y="529.3" width="10.0" height="156.0" fill="#ff0000" stroke="#333" stroke-width="0.7"/>
<line x1="561.5" y1="628.5" x2="561.5" y2="619.5" stroke="#555" stroke-width="1"/>
<line x1="559.2" y1="619.5" x2="563.8" y2="619.5" stroke="#555" stroke-width="1"/>
<rect x="556.9" y="628.5" width="10.0" height="56.8" fill="#808080" stroke="#333" stroke-width="0.7"/>
<line x1="572.5" y1="573.1" x2="572.5" y2="560.4" stroke="#555" stroke-width="1"/>
<line x1="570.2" y1="560.4" x2="574.8" y2="560.4" stroke="#555" stroke-width="1"/>
<rect x="567.9" y="573.1" width="10.0" height="112.2" fill="#ff0000" stroke="#333" stroke-width="0.7"/>
<line x1="589.5" y1="612.9" x2="589.5" y2="602.4" stroke="#555" stroke-width="1"/>
<line x1="587.2" y1="602.4" x2="591.8" y2="602.4" stroke="#555" stroke-width="1"/>
<rect x="584.4" y="612.9" width="10.0" height="72.4" fill="#808080" stroke="#333" stroke-width="0.7"/>
<line x1="600.5" y1="558.2" x2="600.5" y2="540.2" stroke="#555" stroke-width="1"/>
<line x1="598.2" y1="540.2" x2="602.8" y2="540.2" stroke="#555" stroke-width="1"/>
<rect x="595.4" y="558.2" width="10.0" height="127.1" fill="#ff0000" stroke="#333" stroke-width="0.7"/>
<line x1="616.5" y1="664.4" x2="616.5" y2="659.6" stroke="#555" stroke-width="1"/>
<line x1="614.2" y1="659.6" x2="618.8" y2="659.6" stroke="#555" stroke-width="1"/>
<rect x="612.0" y="664.4" width="10.0" height="20.9" fill="#808080" stroke="#333" stroke-width="0.7"/>
<line x1="627.5" y1="641.4" x2="627.5" y2="634.4" stroke="#555" stroke-width="1"/>
<line x1="625.2" y1="634.4" x2="629.8" y2="634.4" stroke="#555" stroke-width="1"/>
<rect x="623.0" y="641.4" width="10.0" height="43.9" fill="#ff0000" stroke="#333" stroke-width="0.7"/>
<line x1="644.5" y1="676.4" x2="644.5" y2="674.7" stroke="#555" stroke-width="1"/>
<line x1="642.2" y1="674.7" x2="646.8" y2="674.7" stroke="#555" stroke-width="1"/>
<rect x="639.5" y="676.4" width="10.0" height="8.9" fill="#808080" stroke="#333" stroke-width="0.7"/>
<line x1="655.5" y1="662.2" x2="655.5" y2="659.6" stroke="#555" stroke-width="1"/>
<line x1="653.2" y1="659.6" x2="657.8" y2="659.6" stroke="#555" stroke-width="1"/>
<rect x="650.5" y="662.2" width="10.0" height="23.1" fill="#ff0000" stroke="#333" stroke-width="0.7"/>
<polygon points="533.40,501.65 534.11,503.63 536.21,503.69 534.54,504.97 535.13,506.99 533.40,505.80 531.67,506.99 532.26,504.97 530.59,503.69 532.69,503.63" fill="#111"/>
<polygon points="539.70,501.65 540.41,503.63 542.51,503.69 540.84,504.97 541.43,506.99 539.70,505.80 537.97,506.99 538.56,504.97 536.89,503.69 538.99,503.63" fill="#111"/>
<polygon points="546.00,501.65 546.71,503.63 548.81,503.69 547.14,504.97 547.73,506.99 546.00,505.80 544.27,506.99 544.86,504.97 543.19,503.69 545.29,503.63" fill="#111"/>
<polygon points="561.90,545.45 562.61,547.43 564.71,547.49 563.04,548.77 563.63,550.79 561.90,549.60 560.17,550.79 560.76,548.77 559.09,547.49 561.19,547.43" fill="#111"/>
<polygon points="568.20,545.45 568.91,547.43 571.01,547.49 569.34,548.77 569.93,550.79 568.20,549.60 566.47,550.79 567.06,548.77 565.39,547.49 567.49,547.43" fill="#111"/>
<polygon points="574.50,545.45 575.21,547.43 577.31,547.49 575.64,548.77 576.23,550.79 574.50,549.60 572.77,550.79 573.36,548.77 571.69,547.49 573.79,547.43" fill="#111"/>
<polygon points="594.70,525.05 595.41,527.03 597.51,527.09 595.84,528.37 596.43,530.39 594.70,529.20 592.97,530.39 593.56,528.37 591.89,527.09 593.99,527.03" fill="#111"/>
<polygon points="622.35,616.25 623.06,618.23 625.16,618.29 623.49,619.57 624.08,621.59 622.35,620.40 620.62,621.59 621.21,619.57 619.54,618.29 621.64,618.23" fill="#111"/>
<polygon points="645.05,644.95 645.76,646.93 647.86,646.99 646.19,648.27 646.78,650.29 645.05,649.10 643.32,650.29 643.91,648.27 642.24,646.99 644.34,646.93" fill="#111"/>
<polygon points="651.35,644.95 652.06,646.93 654.16,646.99 652.49,648.27 653.08,650.29 651.35,649.10 649.62,650.29 650.21,648.27 648.54,646.99 650.64,646.93" fill="#111"/>
<polygon points="657.65,644.95 658.36,646.93 660.46,646.99 658.79,648.27 659.38,650.29 657.65,649.10 655.92,650.29 656.51,648.27 654.84,646.99 656.94,646.93" fill="#111"/>
<rect x="415.6" y="509.6" width="6.8" height="6.8" fill="#808080" stroke="#222" stroke-width="0.9"/>
<rect x="415.6" y="527.6" width="6.8" height="6.8" fill="#ff0000" stroke="#222" stroke-width="0.9"/>
<line x1="69.6" y1="764.9" x2="69.6" y2="941.1" stroke="#8a8a8a" stroke-width="1"/>
<line x1="69.1" y1="941.1" x2="335.0" y2="941.1" stroke="#555" stroke-width="1"/>
<line x1="65.1" y1="941.1" x2="69.6" y2="941.1" stroke="#555" stroke-width="1"/>
<line x1="65.1" y1="889.8" x2="69.6" y2="889.8" stroke="#555" stroke-width="1"/>
<line x1="65.1" y1="838.5" x2="69.6" y2="838.5" stroke="#555" stroke-width="1"/>
<line x1="65.1" y1="787.1" x2="69.6" y2="787.1" stroke="#555" stroke-width="1"/>
<line x1="67.1" y1="915.4" x2="69.6" y2="915.4" stroke="#555" stroke-width="1"/>
<line x1="67.1" y1="864.1" x2="69.6" y2="864.1" stroke="#555" stroke-width="1"/>
<line x1="67.1" y1="812.8" x2="69.6" y2="812.8" stroke="#555" stroke-width="1"/>
<rect x="81.8" y="940.6" width="10.0" height="0.5" fill="#c9c9f7" stroke="#333" stroke-width="0.7"/>
<rect x="92.8" y="940.4" width="10.0" height="0.7" fill="#0000ff" stroke="#333" stroke-width="0.7"/>
<rect x="109.3" y="940.1" width="10.0" height="1.0" fill="#c9c9f7" stroke="#333" stroke-width="0.7"/>
<line x1="125.5" y1="935.8" x2="125.5" y2="933.1" stroke="#555" stroke-width="1"/>
<line x1="123.2" y1="933.1" x2="127.8" y2="933.1" stroke="#555" stroke-width="1"/>
<rect x="120.3" y="935.8" width="10.0" height="5.3" fill="#0000ff" stroke="#333" stroke-width="0.7"/>
<rect x="136.9" y="940.8" width="10.0" height="0.3" fill="#c9c9f7" stroke="#333" stroke-width="0.7"/>
<rect x="147.9" y="940.8" width="10.0" height="0.3" fill="#0000ff" stroke="#333" stroke-width="0.7"/>
<line x1="169.5" y1="938.2" x2="169.5" y2="937.2" stroke="#555" stroke-width="1"/>
<line x1="167.2" y1="937.2" x2="171.8" y2="937.2" stroke="#555" stroke-width="1"/>
<rect x="164.4" y="938.2" width="10.0" height="2.9" fill="#c9c9f7" stroke="#333" stroke-width="0.7"/>
<line x1="180.5" y1="938.7" x2="180.5" y2="937.8" stroke="#555" stroke-width="1"/>
<line x1="178.2" y1="937.8" x2="182.8" y2="937.8" stroke="#555" stroke-width="1"/>
<rect x="175.4" y="938.7" width="10.0" height="2.4" fill="#0000ff" stroke="#333" stroke-width="0.7"/>
<line x1="196.5" y1="934.0" x2="196.5" y2="931.3" stroke="#555" stroke-width="1"/>
<line x1="194.2" y1="931.3" x2="198.8" y2="931.3" stroke="#555" stroke-width="1"/>
<rect x="192.0" y="934.0" width="10.0" height="7.1" fill="#c9c9f7" stroke="#333" stroke-width="0.7"/>
<line x1="207.5" y1="913.2" x2="207.5" y2="906.4" stroke="#555" stroke-width="1"/>
<line x1="205.2" y1="906.4" x2="209.8" y2="906.4" stroke="#555" stroke-width="1"/>
<rect x="203.0" y="913.2" width="10.0" height="27.9" fill="#0000ff" stroke="#333" stroke-width="0.7"/>
<line x1="224.5" y1="923.5" x2="224.5" y2="919.0" stroke="#555" stroke-width="1"/>
<line x1="222.2" y1="919.0" x2="226.8" y2="919.0" stroke="#555" stroke-width="1"/>
<rect x="219.5" y="923.5" width="10.0" height="17.6" fill="#c9c9f7" stroke="#333" stroke-width="0.7"/>
<line x1="235.5" y1="894.8" x2="235.5" y2="886.4" stroke="#555" stroke-width="1"/>
<line x1="233.2" y1="886.4" x2="237.8" y2="886.4" stroke="#555" stroke-width="1"/>
<rect x="230.5" y="894.8" width="10.0" height="46.3" fill="#0000ff" stroke="#333" stroke-width="0.7"/>
<line x1="252.5" y1="919.3" x2="252.5" y2="913.3" stroke="#555" stroke-width="1"/>
<line x1="250.2" y1="913.3" x2="254.8" y2="913.3" stroke="#555" stroke-width="1"/>
<rect x="247.0" y="919.3" width="10.0" height="21.8" fill="#c9c9f7" stroke="#333" stroke-width="0.7"/>
<line x1="263.5" y1="900.2" x2="263.5" y2="890.3" stroke="#555" stroke-width="1"/>
<line x1="261.2" y1="890.3" x2="265.8" y2="890.3" stroke="#555" stroke-width="1"/>
<rect x="258.0" y="900.2" width="10.0" height="40.9" fill="#0000ff" stroke="#333" stroke-width="0.7"/>
<line x1="279.5" y1="910.1" x2="279.5" y2="904.5" stroke="#555" stroke-width="1"/>
<line x1="277.2" y1="904.5" x2="281.8" y2="904.5" stroke="#555" stroke-width="1"/>
<rect x="274.6" y="910.1" width="10.0" height="31.0" fill="#c9c9f7" stroke="#333" stroke-width="0.7"/>
<line x1="290.5" y1="903.2" x2="290.5" y2="895.6" stroke="#555" stroke-width="1"/>
<line x1="288.2" y1="895.6" x2="292.8" y2="895.6" stroke="#555" stroke-width="1"/>
<rect x="285.6" y="903.2" width="10.0" height="37.9" fill="#0000ff" stroke="#333" stroke-width="0.7"/>
<line x1="307.5" y1="933.6" x2="307.5" y2="932.3" stroke="#555" stroke-width="1"/>
<line x1="305.2" y1="932.3" x2="309.8" y2="932.3" stroke="#555" stroke-width="1"/>
<rect x="302.1" y="933.6" width="10.0" height="7.5" fill="#c9c9f7" stroke="#333" stroke-width="0.7"/>
<rect x="313.1" y="935.1" width="10.0" height="6.0" fill="#0000ff" stroke="#333" stroke-width="0.7"/>
<polygon points="202.65,887.50 203.36,889.48 205.46,889.54 203.79,890.82 204.38,892.84 202.65,891.65 200.92,892.84 201.51,890.82 199.84,889.54 201.94,889.48" fill="#111"/>
<polygon points="225.30,869.85 226.01,871.83 228.11,871.89 226.44,873.17 227.03,875.19 225.30,874.00 223.57,875.19 224.16,873.17 222.49,871.89 224.59,871.83" fill="#111"/>
<polygon points="231.60,869.85 232.31,871.83 234.41,871.89 232.74,873.17 233.33,875.19 231.60,874.00 229.87,875.19 230.46,873.17 228.79,871.89 230.89,871.83" fill="#111"/>
<polygon points="256.95,879.40 257.66,881.38 259.76,881.44 258.09,882.72 258.68,884.74 256.95,883.55 255.22,884.74 255.81,882.72 254.14,881.44 256.24,881.38" fill="#111"/>
<rect x="78.2" y="765.7" width="6.8" height="6.8" fill="#c9c9f7" stroke="#222" stroke-width="0.9"/>
<rect x="78.2" y="783.6" width="6.8" height="6.8" fill="#0000ff" stroke="#222" stroke-width="0.9"/>
<line x1="419.5" y1="766.2" x2="419.5" y2="941.2" stroke="#8a8a8a" stroke-width="1"/>
<line x1="419.0" y1="941.2" x2="685.0" y2="941.2" stroke="#555" stroke-width="1"/>
<line x1="415.0" y1="941.2" x2="419.5" y2="941.2" stroke="#555" stroke-width="1"/>
<line x1="415.0" y1="893.3" x2="419.5" y2="893.3" stroke="#555" stroke-width="1"/>
<line x1="415.0" y1="845.4" x2="419.5" y2="845.4" stroke="#555" stroke-width="1"/>
<line x1="415.0" y1="797.5" x2="419.5" y2="797.5" stroke="#555" stroke-width="1"/>
<rect x="432.0" y="939.9" width="10.0" height="1.3" fill="#ff0000" stroke="#333" stroke-width="0.7"/>
<line x1="448.5" y1="938.5" x2="448.5" y2="937.3" stroke="#555" stroke-width="1"/>
<line x1="446.2" y1="937.3" x2="450.8" y2="937.3" stroke="#555" stroke-width="1"/>
<rect x="443.0" y="938.5" width="10.0" height="2.7" fill="#0000ff" stroke="#333" stroke-width="0.7"/>
<rect x="459.5" y="940.5" width="10.0" height="0.7" fill="#ff0000" stroke="#333" stroke-width="0.7"/>
<line x1="475.5" y1="937.7" x2="475.5" y2="935.2" stroke="#555" stroke-width="1"/>
<line x1="473.2" y1="935.2" x2="477.8" y2="935.2" stroke="#555" stroke-width="1"/>
<rect x="470.5" y="937.7" width="10.0" height="3.5" fill="#0000ff" stroke="#333" stroke-width="0.7"/>
<line x1="492.5" y1="938.1" x2="492.5" y2="936.2" stroke="#555" stroke-width="1"/>
<line x1="490.2" y1="936.2" x2="494.8" y2="936.2" stroke="#555" stroke-width="1"/>
<rect x="487.1" y="938.1" width="10.0" height="3.1" fill="#ff0000" stroke="#333" stroke-width="0.7"/>
<rect x="498.1" y="940.0" width="10.0" height="1.2" fill="#0000ff" stroke="#333" stroke-width="0.7"/>
<line x1="519.5" y1="902.5" x2="519.5" y2="895.4" stroke="#555" stroke-width="1"/>
<line x1="517.2" y1="895.4" x2="521.8" y2="895.4" stroke="#555" stroke-width="1"/>
<rect x="514.6" y="902.5" width="10.0" height="38.7" fill="#ff0000" stroke="#333" stroke-width="0.7"/>
<line x1="530.5" y1="911.5" x2="530.5" y2="903.9" stroke="#555" stroke-width="1"/>
<line x1="528.2" y1="903.9" x2="532.8" y2="903.9" stroke="#555" stroke-width="1"/>
<rect x="525.6" y="911.5" width="10.0" height="29.7" fill="#0000ff" stroke="#333" stroke-width="0.7"/>
<line x1="547.5" y1="867.3" x2="547.5" y2="857.4" stroke="#555" stroke-width="1"/>
<line x1="545.2" y1="857.4" x2="549.8" y2="857.4" stroke="#555" stroke-width="1"/>
<rect x="542.2" y="867.3" width="10.0" height="73.9" fill="#ff0000" stroke="#333" stroke-width="0.7"/>
<line x1="558.5" y1="874.5" x2="558.5" y2="863.4" stroke="#555" stroke-width="1"/>
<line x1="556.2" y1="863.4" x2="560.8" y2="863.4" stroke="#555" stroke-width="1"/>
<rect x="553.2" y="874.5" width="10.0" height="66.7" fill="#0000ff" stroke="#333" stroke-width="0.7"/>
<line x1="574.5" y1="828.3" x2="574.5" y2="817.4" stroke="#555" stroke-width="1"/>
<line x1="572.2" y1="817.4" x2="576.8" y2="817.4" stroke="#555" stroke-width="1"/>
<rect x="569.7" y="828.3" width="10.0" height="112.9" fill="#ff0000" stroke="#333" stroke-width="0.7"/>
<line x1="585.5" y1="849.3" x2="585.5" y2="838.4" stroke="#555" stroke-width="1"/>
<line x1="583.2" y1="838.4" x2="587.8" y2="838.4" stroke="#555" stroke-width="1"/>
<rect x="580.7" y="849.3" width="10.0" height="91.9" fill="#0000ff" stroke="#333" stroke-width="0.7"/>
<line x1="602.5" y1="823.5" x2="602.5" y2="807.7" stroke="#555" stroke-width="1"/>
<line x1="600.2" y1="807.7" x2="604.8" y2="807.7" stroke="#555" stroke-width="1"/>
<rect x="597.2" y="823.5" width="10.0" height="117.7" fill="#ff0000" stroke="#333" stroke-width="0.7"/>
<line x1="613.5" y1="784.5" x2="613.5" y2="768.3" stroke="#555" stroke-width="1"/>
<line x1="611.2" y1="768.3" x2="615.8" y2="768.3" stroke="#555" stroke-width="1"/>
<rect x="608.2" y="784.5" width="10.0" height="156.7" fill="#0000ff" stroke="#333" stroke-width="0.7"/>
<line x1="629.5" y1="915.5" x2="629.5" y2="907.8" stroke="#555" stroke-width="1"/>
<line x1="627.2" y1="907.8" x2="631.8" y2="907.8" stroke="#555" stroke-width="1"/>
<rect x="624.8" y="915.5" width="10.0" height="25.7" fill="#ff0000" stroke="#333" stroke-width="0.7"/>
<line x1="640.5" y1="918.1" x2="640.5" y2="913.3" stroke="#555" stroke-width="1"/>
<line x1="638.2" y1="913.3" x2="642.8" y2="913.3" stroke="#555" stroke-width="1"/>
<rect x="635.8" y="918.1" width="10.0" height="23.1" fill="#0000ff" stroke="#333" stroke-width="0.7"/>
<line x1="657.5" y1="931.2" x2="657.5" y2="928.6" stroke="#555" stroke-width="1"/>
<line x1="655.2" y1="928.6" x2="659.8" y2="928.6" stroke="#555" stroke-width="1"/>
<rect x="652.3" y="931.2" width="10.0" height="10.0" fill="#ff0000" stroke="#333" stroke-width="0.7"/>
<line x1="668.5" y1="924.7" x2="668.5" y2="921.6" stroke="#555" stroke-width="1"/>
<line x1="666.2" y1="921.6" x2="670.8" y2="921.6" stroke="#555" stroke-width="1"/>
<rect x="663.3" y="924.7" width="10.0" height="16.5" fill="#0000ff" stroke="#333" stroke-width="0.7"/>
<rect x="432.6" y="767.9" width="6.8" height="6.8" fill="#ff0000" stroke="#222" stroke-width="0.9"/>
<rect x="432.6" y="784.4" width="6.8" height="6.8" fill="#0000ff" stroke="#222" stroke-width="0.9"/>
<g filter="url(#gs)" stroke="#111" stroke-width="0.25"><text x="0.8" y="8.2" font-size="15.5" text-anchor="start" font-weight="bold" fill="#000" stroke-width="0.5" stroke="#000">a</text>
<text x="0.6" y="350.8" font-size="14.5" text-anchor="start" font-weight="bold" fill="#000"  stroke="#000" stroke-width="0.9">b</text>
<text x="0.8" y="512.5" font-size="14.5" text-anchor="start" font-weight="bold" fill="#000"  stroke="#000" stroke-width="0.9">c</text>
<text x="345.9" y="512.8" font-size="14.5" text-anchor="start" font-weight="bold" fill="#000"  stroke="#000" stroke-width="0.9">d</text>
<text x="0.6" y="768.9" font-size="14.5" text-anchor="start" font-weight="bold" fill="#000"  stroke="#000" stroke-width="0.9">e</text>
<text x="347.0" y="768.2" font-size="14.5" text-anchor="start" font-weight="bold" fill="#000"  stroke="#000" stroke-width="0.9">f</text>
<text x="196.7" y="14.0" font-size="13.5" text-anchor="middle" fill="#111" >Baseline</text>
<text x="524.1" y="14.0" font-size="13.5" text-anchor="middle" fill="#111" >Ongoing inflammation</text>
<text x="64.0" y="38.5" font-size="13.5" text-anchor="start" fill="#111" >37</text>
<text x="127.7" y="38.5" font-size="13.5" text-anchor="start" fill="#111" >39</text>
<text x="194.4" y="38.5" font-size="13.5" text-anchor="start" fill="#111" >42</text>
<text x="257.5" y="38.5" font-size="13.5" text-anchor="start" fill="#111" >45</text>
<text x="321.6" y="38.5" font-size="13.5" text-anchor="start" fill="#111" >50</text>
<text x="344.5" y="38.5" font-size="13.5" text-anchor="start" fill="#111" >°C</text>
<text x="387.6" y="38.5" font-size="13.5" text-anchor="start" fill="#111" >37</text>
<text x="451.7" y="38.5" font-size="13.5" text-anchor="start" fill="#111" >39</text>
<text x="518.8" y="38.5" font-size="13.5" text-anchor="start" fill="#111" >42</text>
<text x="580.0" y="38.5" font-size="13.5" text-anchor="start" fill="#111" >45</text>
<text x="645.7" y="38.5" font-size="13.5" text-anchor="start" fill="#111" >50</text>
<text x="670.0" y="38.5" font-size="13.5" text-anchor="start" fill="#111" >°C</text>
<text x="33.2" y="75.9" font-size="12.6" text-anchor="end" fill="#111" >PEP</text>
<text x="33.2" y="130.9" font-size="12.6" text-anchor="end" fill="#111" >NP3</text>
<text x="33.2" y="168.9" font-size="12.6" text-anchor="end" fill="#111" >NP2A</text>
<text x="33.2" y="201.3" font-size="12.6" text-anchor="end" fill="#111" >NP2B</text>
<text x="33.2" y="277.0" font-size="12.6" text-anchor="end" fill="#111" >NP1</text>
<text x="53.3" y="268.6" font-size="12" text-anchor="start" fill="#fff"  stroke="none">100</text>
<text x="52.8" y="325.2" font-size="12" text-anchor="start" fill="#fff"  stroke="none">0</text>
<text transform="translate(88.6,318) rotate(-90)" font-size="12" fill="#fff" stroke="none">% <tspan font-style="italic">ΔF/F</tspan></text>
<text x="341.2" y="351.3" font-size="13.5" text-anchor="middle" fill="#111" >Unstimulated activity</text>
<text x="3.2" y="446.5" font-size="13.5" text-anchor="start" fill="#111" >Baseline</text>
<text x="71.0" y="446.5" font-size="13.5" text-anchor="start" fill="#111" >Inflammation</text>
<text x="72.6" y="471.6" font-size="13.5" text-anchor="middle" fill="#111" >A&#948;-NOC</text>
<text x="167.9" y="446.5" font-size="13.5" text-anchor="start" fill="#111" >Baseline</text>
<text x="235.2" y="446.5" font-size="13.5" text-anchor="start" fill="#111" >Inflammation</text>
<text x="236.2" y="471.6" font-size="13.5" text-anchor="middle" fill="#111" >PEP</text>
<text x="331.6" y="446.5" font-size="13.5" text-anchor="start" fill="#111" >Baseline</text>
<text x="399.4" y="446.5" font-size="13.5" text-anchor="start" fill="#111" >Inflammation</text>
<text x="399.8" y="471.6" font-size="13.5" text-anchor="middle" fill="#111" >NP3</text>
<text x="495.8" y="446.5" font-size="13.5" text-anchor="start" fill="#111" >Baseline</text>
<text x="563.6" y="446.5" font-size="13.5" text-anchor="start" fill="#111" >Inflammation</text>
<text x="563.7" y="471.6" font-size="13.5" text-anchor="middle" fill="#111" >NP2A</text>
<text x="647.1" y="407.6" font-size="13.5" font-style="italic" fill="#111">&#916;F/F</text>
<text x="646.0" y="421.0" font-size="13.5" text-anchor="start" fill="#111" >100%</text>
<text x="646.0" y="448.3" font-size="13.5" text-anchor="start" fill="#111" >10 s</text>
<text x="60.5" y="690.3" font-size="14" text-anchor="end" fill="#111" >0</text>
<text x="60.5" y="642.2" font-size="14" text-anchor="end" fill="#111" >100</text>
<text x="60.5" y="594.1" font-size="14" text-anchor="end" fill="#111" >200</text>
<text x="60.5" y="546.0" font-size="14" text-anchor="end" fill="#111" >300</text>
<text transform="translate(97.7,697.3) rotate(-45)" font-size="13" text-anchor="end" fill="#111">cLTMR</text>
<text transform="translate(125.2,697.3) rotate(-45)" font-size="13" text-anchor="end" fill="#111">A&#946;-LTMR</text>
<text transform="translate(152.8,697.3) rotate(-45)" font-size="13" text-anchor="end" fill="#111">A&#948;-LTMR</text>
<text transform="translate(180.3,697.3) rotate(-45)" font-size="13" text-anchor="end" fill="#111">A&#948;-NOC</text>
<text transform="translate(207.9,697.3) rotate(-45)" font-size="13" text-anchor="end" fill="#111">PEP</text>
<text transform="translate(235.4,697.3) rotate(-45)" font-size="13" text-anchor="end" fill="#111">NP3</text>
<text transform="translate(263.0,697.3) rotate(-45)" font-size="13" text-anchor="end" fill="#111">NP2A</text>
<text transform="translate(290.6,697.3) rotate(-45)" font-size="13" text-anchor="end" fill="#111">NP2B</text>
<text transform="translate(318.1,697.3) rotate(-45)" font-size="13" text-anchor="end" fill="#111">NP1</text>
<text x="93.8" y="519.0" font-size="13.5" text-anchor="start" fill="#111" >Wild type</text>
<text x="93.8" y="535.4" font-size="13.5" text-anchor="start" fill="#111" >Wild type + PGE2</text>
<text transform="translate(12.6,597.4) rotate(-90)" font-size="13.5" text-anchor="middle" fill="#111">Unstimulated activity</text>
<text transform="translate(27.4,597.6) rotate(-90)" font-size="13.5" text-anchor="middle" fill="#111">(units)</text>
<text x="397.8" y="690.3" font-size="14" text-anchor="end" fill="#111" >0</text>
<text x="397.8" y="639.2" font-size="14" text-anchor="end" fill="#111" >4</text>
<text x="397.8" y="588.1" font-size="14" text-anchor="end" fill="#111" >8</text>
<text x="397.8" y="536.9" font-size="14" text-anchor="end" fill="#111" >12</text>
<text transform="translate(435.1,697.3) rotate(-45)" font-size="13" text-anchor="end" fill="#111">cLTMR</text>
<text transform="translate(462.6,697.3) rotate(-45)" font-size="13" text-anchor="end" fill="#111">A&#946;-LTMR</text>
<text transform="translate(490.2,697.3) rotate(-45)" font-size="13" text-anchor="end" fill="#111">A&#948;-LTMR</text>
<text transform="translate(517.7,697.3) rotate(-45)" font-size="13" text-anchor="end" fill="#111">A&#948;-NOC</text>
<text transform="translate(545.3,697.3) rotate(-45)" font-size="13" text-anchor="end" fill="#111">PEP</text>
<text transform="translate(572.8,697.3) rotate(-45)" font-size="13" text-anchor="end" fill="#111">NP3</text>
<text transform="translate(600.3,697.3) rotate(-45)" font-size="13" text-anchor="end" fill="#111">NP2A</text>
<text transform="translate(627.9,697.3) rotate(-45)" font-size="13" text-anchor="end" fill="#111">NP2B</text>
<text transform="translate(655.4,697.3) rotate(-45)" font-size="13" text-anchor="end" fill="#111">NP1</text>
<text x="428.7" y="517.3" font-size="13.5" text-anchor="start" fill="#111" >Wild type</text>
<text x="428.7" y="534.8" font-size="13.5" text-anchor="start" fill="#111" >Wild type + PGE2</text>
<text transform="translate(357.6,597.2) rotate(-90)" font-size="13.5" text-anchor="middle" fill="#111">Heat</text>
<text transform="translate(372.2,597.0) rotate(-90)" font-size="13.5" text-anchor="middle" fill="#111">response (AUC &#215; 0.001)</text>
<text x="60.9" y="946.1" font-size="14" text-anchor="end" fill="#111" >0</text>
<text x="60.9" y="894.8" font-size="14" text-anchor="end" fill="#111" >4</text>
<text x="60.9" y="843.5" font-size="14" text-anchor="end" fill="#111" >8</text>
<text x="60.9" y="792.1" font-size="14" text-anchor="end" fill="#111" >12</text>
<text transform="translate(97.7,953.1) rotate(-45)" font-size="13" text-anchor="end" fill="#111">cLTMR</text>
<text transform="translate(125.2,953.1) rotate(-45)" font-size="13" text-anchor="end" fill="#111">A&#946;-LTMR</text>
<text transform="translate(152.8,953.1) rotate(-45)" font-size="13" text-anchor="end" fill="#111">A&#948;-LTMR</text>
<text transform="translate(180.3,953.1) rotate(-45)" font-size="13" text-anchor="end" fill="#111">A&#948;-NOC</text>
<text transform="translate(207.9,953.1) rotate(-45)" font-size="13" text-anchor="end" fill="#111">PEP</text>
<text transform="translate(235.4,953.1) rotate(-45)" font-size="13" text-anchor="end" fill="#111">NP3</text>
<text transform="translate(262.9,953.1) rotate(-45)" font-size="13" text-anchor="end" fill="#111">NP2A</text>
<text transform="translate(290.5,953.1) rotate(-45)" font-size="13" text-anchor="end" fill="#111">NP2B</text>
<text transform="translate(318.0,953.1) rotate(-45)" font-size="13" text-anchor="end" fill="#111">NP1</text>
<text x="90.6" y="773.1" font-size="13.5" text-anchor="start" fill="#111" ><tspan font-style="italic">Trpv1</tspan>-KO</text>
<text x="90.6" y="790.7" font-size="13.5" text-anchor="start" fill="#111" ><tspan font-style="italic">Trpv1</tspan>-KO + PGE2</text>
<text transform="translate(20.6,853.0) rotate(-90)" font-size="13.5" text-anchor="middle" fill="#111">Heat</text>
<text transform="translate(34.2,853.0) rotate(-90)" font-size="13.5" text-anchor="middle" fill="#111">response (AUC &#215; 0.001)</text>
<text x="409.6" y="946.2" font-size="14" text-anchor="end" fill="#111" >0</text>
<text x="409.6" y="898.3" font-size="14" text-anchor="end" fill="#111" >100</text>
<text x="409.6" y="850.4" font-size="14" text-anchor="end" fill="#111" >200</text>
<text x="409.6" y="802.5" font-size="14" text-anchor="end" fill="#111" >300</text>
<text transform="translate(447.9,953.2) rotate(-45)" font-size="13" text-anchor="end" fill="#111">cLTMR</text>
<text transform="translate(475.4,953.2) rotate(-45)" font-size="13" text-anchor="end" fill="#111">A&#946;-LTMR</text>
<text transform="translate(503.0,953.2) rotate(-45)" font-size="13" text-anchor="end" fill="#111">A&#948;-LTMR</text>
<text transform="translate(530.5,953.2) rotate(-45)" font-size="13" text-anchor="end" fill="#111">A&#948;-NOC</text>
<text transform="translate(558.1,953.2) rotate(-45)" font-size="13" text-anchor="end" fill="#111">PEP</text>
<text transform="translate(585.6,953.2) rotate(-45)" font-size="13" text-anchor="end" fill="#111">NP3</text>
<text transform="translate(613.1,953.2) rotate(-45)" font-size="13" text-anchor="end" fill="#111">NP2A</text>
<text transform="translate(640.7,953.2) rotate(-45)" font-size="13" text-anchor="end" fill="#111">NP2B</text>
<text transform="translate(668.2,953.2) rotate(-45)" font-size="13" text-anchor="end" fill="#111">NP1</text>
<text x="445.4" y="774.8" font-size="13.5" text-anchor="start" fill="#111" >Wild type + PGE2</text>
<text x="445.0" y="791.9" font-size="13.5" text-anchor="start" fill="#111" ><tspan font-style="italic">Trpv1</tspan>-KO + PGE2</text>
<text transform="translate(361.2,854.5) rotate(-90)" font-size="13.5" text-anchor="middle" fill="#111">Unstimulated activity</text>
<text transform="translate(377.0,854.2) rotate(-90)" font-size="13.5" text-anchor="middle" fill="#111">(units)</text></g>
</svg>
</body></html>
